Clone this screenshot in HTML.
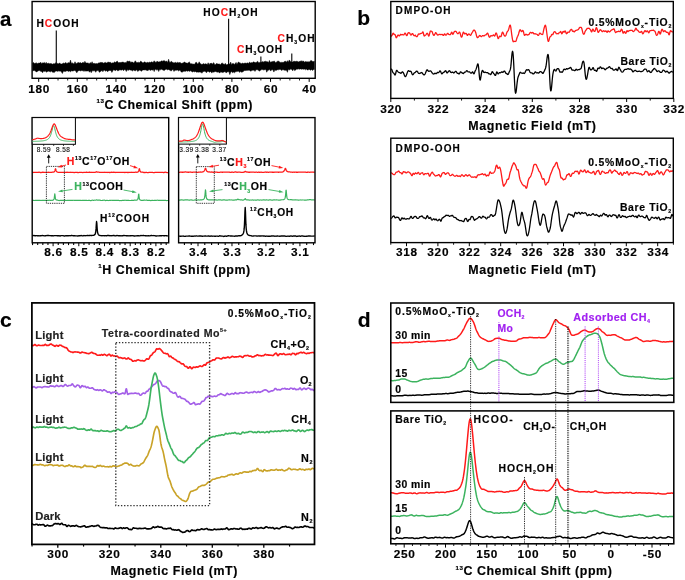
<!DOCTYPE html>
<html><head><meta charset="utf-8"><title>figure</title>
<style>html,body{margin:0;padding:0;background:#fff;}body{width:685px;height:580px;overflow:hidden;font-family:"Liberation Sans",sans-serif;}svg{display:block;opacity:0.999;will-change:transform;}text{font-family:"Liberation Sans",sans-serif;}</style>
</head><body>
<svg width="685" height="580" viewBox="0 0 685 580"><path d="M32.7 62.95 L33.6 62.43 L34.5 63.51 L35.4 63.34 L36.3 62.64 L37.2 63.68 L38.1 63.26 L39 63.05 L39.9 63.11 L40.8 62.25 L41.7 63.64 L42.6 62.71 L43.5 63.02 L44.4 62.41 L45.3 63.84 L46.2 62.34 L47.1 64.01 L48 62.96 L48.9 63.52 L49.8 63.68 L50.7 63.48 L51.6 63.65 L52.5 64.15 L53.4 63.63 L54.3 63.82 L55.2 63.4 L56.1 62.58 L57 63.95 L57.9 63.22 L58.8 64.01 L59.7 62.87 L60.6 64.12 L61.5 64.07 L62.4 63.78 L63.3 63 L64.2 63.62 L65.1 62.89 L66 62.59 L66.9 63.69 L67.8 62.77 L68.7 62.68 L69.6 63.1 L70.5 60.08 L71.4 63.48 L72.3 62.63 L73.2 63.68 L74.1 63.65 L75 61.69 L75.9 63.44 L76.8 63.41 L77.7 62.7 L78.6 62.48 L79.5 62.93 L80.4 62.58 L81.3 63.36 L82.2 62.86 L83.1 62.27 L84 63.16 L84.9 61.32 L85.8 63.12 L86.7 62.94 L87.6 62.96 L88.5 63.21 L89.4 63.76 L90.3 62.49 L91.2 63.45 L92.1 61.71 L93 63.84 L93.9 63.25 L94.8 63.49 L95.7 63.7 L96.6 63.6 L97.5 63.73 L98.4 62.95 L99.3 62.89 L100.2 62.46 L101.1 62.53 L102 62.42 L102.9 62.69 L103.8 63.26 L104.7 62.61 L105.6 62.4 L106.5 63.06 L107.4 62.38 L108.3 62.12 L109.2 62.52 L110.1 62.1 L111 62.92 L111.9 63.19 L112.8 62.71 L113.7 63.05 L114.6 61.73 L115.5 62.51 L116.4 61.73 L117.3 61.12 L118.2 62.72 L119.1 62.54 L120 62.61 L120.9 62.39 L121.8 62.36 L122.7 62.11 L123.6 62.3 L124.5 62.66 L125.4 62.44 L126.3 62.72 L127.2 60.93 L128.1 61.59 L129 61.27 L129.9 61.13 L130.8 62.53 L131.7 61.95 L132.6 62 L133.5 62.91 L134.4 62.33 L135.3 60.79 L136.2 61.97 L137.1 62.93 L138 61.92 L138.9 62.67 L139.8 62.57 L140.7 61.12 L141.6 61.77 L142.5 62.72 L143.4 62.66 L144.3 61.89 L145.2 61.91 L146.1 62.9 L147 62.45 L147.9 62.32 L148.8 62.77 L149.7 62.07 L150.6 62.46 L151.5 61.85 L152.4 62.22 L153.3 62.16 L154.2 60.78 L155.1 61.95 L156 62.41 L156.9 61.35 L157.8 61.55 L158.7 62.11 L159.6 61.63 L160.5 61.77 L161.4 60.84 L162.3 61.13 L163.2 60.93 L164.1 60.46 L165 61.33 L165.9 61.4 L166.8 61.12 L167.7 62.51 L168.6 59.21 L169.5 62.23 L170.4 62.21 L171.3 61.2 L172.2 62.07 L173.1 62.69 L174 62.75 L174.9 62.73 L175.8 62.28 L176.7 63.06 L177.6 62.28 L178.5 62.82 L179.4 62.6 L180.3 62.45 L181.2 63.56 L182.1 63.04 L183 63.18 L183.9 62.19 L184.8 61.98 L185.7 63.06 L186.6 63.05 L187.5 63.17 L188.4 62.78 L189.3 61.78 L190.2 63.66 L191.1 63.86 L192 63.64 L192.9 64.2 L193.8 64.12 L194.7 64.32 L195.6 62.55 L196.5 62.27 L197.4 63.93 L198.3 63.55 L199.2 61.81 L200.1 63.54 L201 63.96 L201.9 64.51 L202.8 64.08 L203.7 63.55 L204.6 64.2 L205.5 63.73 L206.4 64.11 L207.3 64.38 L208.2 62.74 L209.1 64.63 L210 63.32 L210.9 63.61 L211.8 63.22 L212.7 64.14 L213.6 62.59 L214.5 64.13 L215.4 64.73 L216.3 63.56 L217.2 63.75 L218.1 64.12 L219 64.01 L219.9 64.13 L220.8 64.66 L221.7 63.1 L222.6 63.16 L223.5 64.04 L224.4 64.58 L225.3 63.36 L226.2 64.79 L227.1 64.83 L228 64.07 L228.9 63.58 L229.8 64.37 L230.7 62.11 L231.6 64.66 L232.5 63.54 L233.4 63.44 L234.3 64.52 L235.2 63.48 L236.1 62.41 L237 64.42 L237.9 62.52 L238.8 61.97 L239.7 63.12 L240.6 63.14 L241.5 63.86 L242.4 62.93 L243.3 63.57 L244.2 63.32 L245.1 63.06 L246 63.25 L246.9 63.34 L247.8 62.87 L248.7 63.4 L249.6 62.05 L250.5 62.95 L251.4 62.59 L252.3 63 L253.2 61.8 L254.1 62.31 L255 62.32 L255.9 62.81 L256.8 61.96 L257.7 61.21 L258.6 62.68 L259.5 62.41 L260.4 62.35 L261.3 62.33 L262.2 61.41 L263.1 62.29 L264 61.59 L264.9 61.6 L265.8 61.19 L266.7 61.71 L267.6 61.82 L268.5 62.5 L269.4 60.4 L270.3 62.29 L271.2 62.07 L272.1 61.48 L273 61.84 L273.9 60.88 L274.8 61.46 L275.7 62.63 L276.6 61.93 L277.5 61.3 L278.4 60.89 L279.3 61.86 L280.2 62.46 L281.1 62.21 L282 62.42 L282.9 62.34 L283.8 62.19 L284.7 61.32 L285.6 61.15 L286.5 62.34 L287.4 60.65 L288.3 62.22 L289.2 59.93 L290.1 61.01 L291 61.9 L291.9 61.92 L292.8 62.12 L293.7 61.2 L294.6 61.32 L295.5 61.46 L296.4 61.25 L297.3 61.29 L298.2 62 L299.1 61.42 L300 61.58 L300.9 60.68 L301.8 61.15 L302.7 61.17 L303.6 61.06 L304.5 62.23 L305.4 61.62 L306.3 61.7 L307.2 61.91 L308.1 61.52 L309 62.24 L309.9 61.52 L310.8 60.41 L311.7 60.75 L312.6 61.41 L313.5 61.53 L314.4 61.21 L314.4 69.4 L313.5 69.49 L312.6 70.53 L311.7 69.41 L310.8 70.33 L309.9 69.65 L309 69.35 L308.1 69.95 L307.2 69.88 L306.3 69.11 L305.4 69.83 L304.5 69.12 L303.6 69.35 L302.7 68.93 L301.8 69.35 L300.9 68.89 L300 68.95 L299.1 69.35 L298.2 68.79 L297.3 69.25 L296.4 69.12 L295.5 70.14 L294.6 70.61 L293.7 68.78 L292.8 70.85 L291.9 69.74 L291 68.86 L290.1 69.49 L289.2 69.95 L288.3 69.16 L287.4 72.3 L286.5 70.31 L285.6 70.37 L284.7 70.29 L283.8 69.97 L282.9 69.59 L282 70.27 L281.1 70.28 L280.2 69.37 L279.3 69.38 L278.4 69.87 L277.5 69.69 L276.6 70.2 L275.7 70.4 L274.8 69.69 L273.9 72.07 L273 69.9 L272.1 69.57 L271.2 70.52 L270.3 70.76 L269.4 69.35 L268.5 70.28 L267.6 70.57 L266.7 72.24 L265.8 69.17 L264.9 69.93 L264 69.42 L263.1 70.23 L262.2 69.37 L261.3 69.83 L260.4 70.28 L259.5 71.2 L258.6 70.41 L257.7 69.86 L256.8 69.8 L255.9 69.69 L255 71.45 L254.1 69.98 L253.2 70.35 L252.3 70.34 L251.4 70.8 L250.5 71.21 L249.6 70.13 L248.7 70.28 L247.8 70.34 L246.9 70.43 L246 70.37 L245.1 70.67 L244.2 70.52 L243.3 71.59 L242.4 72.01 L241.5 72.3 L240.6 71.29 L239.7 72.46 L238.8 71.31 L237.9 71.18 L237 71.61 L236.1 71.62 L235.2 72.05 L234.3 72.83 L233.4 72.1 L232.5 72.74 L231.6 71.52 L230.7 72.18 L229.8 74.6 L228.9 71.53 L228 71.98 L227.1 71.72 L226.2 73.06 L225.3 71.64 L224.4 71.76 L223.5 72.26 L222.6 72.4 L221.7 72.27 L220.8 71.65 L219.9 72.95 L219 72.41 L218.1 71.86 L217.2 72.26 L216.3 71.82 L215.4 71.41 L214.5 71.83 L213.6 72.14 L212.7 71.79 L211.8 73.1 L210.9 71.4 L210 71.89 L209.1 72.24 L208.2 71.27 L207.3 71.47 L206.4 72.85 L205.5 71.38 L204.6 71.31 L203.7 71.52 L202.8 71.76 L201.9 73.23 L201 71.9 L200.1 72.36 L199.2 71.89 L198.3 72.21 L197.4 72.06 L196.5 72.13 L195.6 71.39 L194.7 71.92 L193.8 71.23 L192.9 72.04 L192 71.8 L191.1 71 L190.2 70.85 L189.3 71.38 L188.4 70.76 L187.5 71.36 L186.6 70.83 L185.7 71.32 L184.8 71.23 L183.9 71.18 L183 71.54 L182.1 72.23 L181.2 71.91 L180.3 70.55 L179.4 70.25 L178.5 70.92 L177.6 70.12 L176.7 70.18 L175.8 70.17 L174.9 70.19 L174 71.48 L173.1 69.54 L172.2 69.7 L171.3 71.06 L170.4 70.61 L169.5 70.01 L168.6 69.42 L167.7 69.88 L166.8 69.3 L165.9 69.18 L165 69.84 L164.1 70.76 L163.2 69.93 L162.3 69.71 L161.4 69.13 L160.5 69.82 L159.6 69.47 L158.7 71.53 L157.8 69.27 L156.9 70.36 L156 69.19 L155.1 69.18 L154.2 71.61 L153.3 69.39 L152.4 70.34 L151.5 69.76 L150.6 70.44 L149.7 69.85 L148.8 69.75 L147.9 70.78 L147 70.24 L146.1 70.34 L145.2 69.7 L144.3 69.98 L143.4 69.89 L142.5 70.02 L141.6 71.31 L140.7 70.75 L139.8 69.95 L138.9 70.42 L138 71.5 L137.1 70.61 L136.2 69.72 L135.3 71.05 L134.4 70.53 L133.5 70.1 L132.6 70.95 L131.7 70.36 L130.8 70.17 L129.9 69.71 L129 69.7 L128.1 70.62 L127.2 69.44 L126.3 71.49 L125.4 69.64 L124.5 69.54 L123.6 70.68 L122.7 69.59 L121.8 70.3 L120.9 69.64 L120 70.31 L119.1 69.75 L118.2 70.93 L117.3 70.56 L116.4 69.68 L115.5 70.65 L114.6 70.19 L113.7 69.78 L112.8 70.81 L111.9 72.46 L111 70.43 L110.1 70.6 L109.2 70.41 L108.3 71.02 L107.4 71.67 L106.5 70.39 L105.6 71.19 L104.7 70.32 L103.8 70.27 L102.9 71.68 L102 70.6 L101.1 70.89 L100.2 71.87 L99.3 72.34 L98.4 70.54 L97.5 70.58 L96.6 70.67 L95.7 72.27 L94.8 70.56 L93.9 71.08 L93 70.47 L92.1 71.07 L91.2 72.72 L90.3 70.75 L89.4 72.2 L88.5 70.67 L87.6 70.99 L86.7 71.03 L85.8 71.15 L84.9 70.51 L84 71.53 L83.1 70.38 L82.2 70.8 L81.3 70.58 L80.4 70.94 L79.5 70.45 L78.6 70.67 L77.7 71.26 L76.8 72.83 L75.9 71.16 L75 70.44 L74.1 70.52 L73.2 70.93 L72.3 71.04 L71.4 70.78 L70.5 71.87 L69.6 70.97 L68.7 71.51 L67.8 70.99 L66.9 70.72 L66 71.21 L65.1 71.47 L64.2 71.34 L63.3 71.2 L62.4 73.47 L61.5 72.11 L60.6 71.05 L59.7 71.18 L58.8 70.86 L57.9 71.41 L57 71.08 L56.1 71.03 L55.2 71.21 L54.3 72.5 L53.4 72.13 L52.5 72.25 L51.6 71.03 L50.7 71.82 L49.8 71.73 L48.9 70.9 L48 71.52 L47.1 71.57 L46.2 72.22 L45.3 70.78 L44.4 71.5 L43.5 70.92 L42.6 72.76 L41.7 71.59 L40.8 71.39 L39.9 70.6 L39 70.7 L38.1 70.73 L37.2 71.64 L36.3 71.95 L35.4 70.99 L34.5 70.62 L33.6 70.5 L32.7 71.16 Z" fill="#000" stroke="#000" stroke-width="0.5" stroke-linejoin="round"/>
<line x1="56.28" y1="30.6" x2="56.28" y2="67" stroke="#000" stroke-width="1.1" />
<line x1="228.62" y1="18.8" x2="228.62" y2="67" stroke="#000" stroke-width="1.1" />
<line x1="260.88" y1="56.5" x2="260.88" y2="67" stroke="#000" stroke-width="1.1" />
<line x1="291.79" y1="53.5" x2="291.79" y2="67" stroke="#000" stroke-width="1.1" />
<rect x="32.1" y="1.5" width="283.1" height="76.8" fill="none" stroke="#000" stroke-width="1.4" />
<line x1="38.7" y1="78.3" x2="38.7" y2="81.9" stroke="#000" stroke-width="1.0" />
<line x1="77.34" y1="78.3" x2="77.34" y2="81.9" stroke="#000" stroke-width="1.0" />
<line x1="115.98" y1="78.3" x2="115.98" y2="81.9" stroke="#000" stroke-width="1.0" />
<line x1="154.62" y1="78.3" x2="154.62" y2="81.9" stroke="#000" stroke-width="1.0" />
<line x1="193.26" y1="78.3" x2="193.26" y2="81.9" stroke="#000" stroke-width="1.0" />
<line x1="231.9" y1="78.3" x2="231.9" y2="81.9" stroke="#000" stroke-width="1.0" />
<line x1="270.54" y1="78.3" x2="270.54" y2="81.9" stroke="#000" stroke-width="1.0" />
<line x1="309.18" y1="78.3" x2="309.18" y2="81.9" stroke="#000" stroke-width="1.0" />
<line x1="48.36" y1="78.3" x2="48.36" y2="80.5" stroke="#000" stroke-width="0.9" />
<line x1="58.02" y1="78.3" x2="58.02" y2="80.5" stroke="#000" stroke-width="0.9" />
<line x1="67.68" y1="78.3" x2="67.68" y2="80.5" stroke="#000" stroke-width="0.9" />
<line x1="87" y1="78.3" x2="87" y2="80.5" stroke="#000" stroke-width="0.9" />
<line x1="96.66" y1="78.3" x2="96.66" y2="80.5" stroke="#000" stroke-width="0.9" />
<line x1="106.32" y1="78.3" x2="106.32" y2="80.5" stroke="#000" stroke-width="0.9" />
<line x1="125.64" y1="78.3" x2="125.64" y2="80.5" stroke="#000" stroke-width="0.9" />
<line x1="135.3" y1="78.3" x2="135.3" y2="80.5" stroke="#000" stroke-width="0.9" />
<line x1="144.96" y1="78.3" x2="144.96" y2="80.5" stroke="#000" stroke-width="0.9" />
<line x1="164.28" y1="78.3" x2="164.28" y2="80.5" stroke="#000" stroke-width="0.9" />
<line x1="173.94" y1="78.3" x2="173.94" y2="80.5" stroke="#000" stroke-width="0.9" />
<line x1="183.6" y1="78.3" x2="183.6" y2="80.5" stroke="#000" stroke-width="0.9" />
<line x1="202.92" y1="78.3" x2="202.92" y2="80.5" stroke="#000" stroke-width="0.9" />
<line x1="212.58" y1="78.3" x2="212.58" y2="80.5" stroke="#000" stroke-width="0.9" />
<line x1="222.24" y1="78.3" x2="222.24" y2="80.5" stroke="#000" stroke-width="0.9" />
<line x1="241.56" y1="78.3" x2="241.56" y2="80.5" stroke="#000" stroke-width="0.9" />
<line x1="251.22" y1="78.3" x2="251.22" y2="80.5" stroke="#000" stroke-width="0.9" />
<line x1="260.88" y1="78.3" x2="260.88" y2="80.5" stroke="#000" stroke-width="0.9" />
<line x1="280.2" y1="78.3" x2="280.2" y2="80.5" stroke="#000" stroke-width="0.9" />
<line x1="289.86" y1="78.3" x2="289.86" y2="80.5" stroke="#000" stroke-width="0.9" />
<line x1="299.52" y1="78.3" x2="299.52" y2="80.5" stroke="#000" stroke-width="0.9" />
<text x="28.16" y="92.9" font-family="Liberation Sans" font-weight="bold" font-size="11.8" fill="#000" stroke="#000" stroke-width="0.18" stroke-linejoin="round" text-anchor="start" textLength="21.08" lengthAdjust="spacing" xml:space="preserve"><tspan>180</tspan></text>
<text x="66.8" y="92.9" font-family="Liberation Sans" font-weight="bold" font-size="11.8" fill="#000" stroke="#000" stroke-width="0.18" stroke-linejoin="round" text-anchor="start" textLength="21.08" lengthAdjust="spacing" xml:space="preserve"><tspan>160</tspan></text>
<text x="105.44" y="92.9" font-family="Liberation Sans" font-weight="bold" font-size="11.8" fill="#000" stroke="#000" stroke-width="0.18" stroke-linejoin="round" text-anchor="start" textLength="21.08" lengthAdjust="spacing" xml:space="preserve"><tspan>140</tspan></text>
<text x="144.08" y="92.9" font-family="Liberation Sans" font-weight="bold" font-size="11.8" fill="#000" stroke="#000" stroke-width="0.18" stroke-linejoin="round" text-anchor="start" textLength="21.08" lengthAdjust="spacing" xml:space="preserve"><tspan>120</tspan></text>
<text x="182.72" y="92.9" font-family="Liberation Sans" font-weight="bold" font-size="11.8" fill="#000" stroke="#000" stroke-width="0.18" stroke-linejoin="round" text-anchor="start" textLength="21.08" lengthAdjust="spacing" xml:space="preserve"><tspan>100</tspan></text>
<text x="224.99" y="92.9" font-family="Liberation Sans" font-weight="bold" font-size="11.8" fill="#000" stroke="#000" stroke-width="0.18" stroke-linejoin="round" text-anchor="start" textLength="13.82" lengthAdjust="spacing" xml:space="preserve"><tspan>80</tspan></text>
<text x="263.63" y="92.9" font-family="Liberation Sans" font-weight="bold" font-size="11.8" fill="#000" stroke="#000" stroke-width="0.18" stroke-linejoin="round" text-anchor="start" textLength="13.82" lengthAdjust="spacing" xml:space="preserve"><tspan>60</tspan></text>
<text x="302.27" y="92.9" font-family="Liberation Sans" font-weight="bold" font-size="11.8" fill="#000" stroke="#000" stroke-width="0.18" stroke-linejoin="round" text-anchor="start" textLength="13.82" lengthAdjust="spacing" xml:space="preserve"><tspan>40</tspan></text>
<text x="36.4" y="26.6" font-family="Liberation Sans" font-weight="bold" font-size="10.2" fill="#000" stroke="#000" stroke-width="0.18" stroke-linejoin="round" text-anchor="start" textLength="42.2" lengthAdjust="spacing" xml:space="preserve"><tspan>H</tspan><tspan fill="#ff1a1a" stroke="#ff1a1a">C</tspan><tspan>OOH</tspan></text>
<text x="203.3" y="15.6" font-family="Liberation Sans" font-weight="bold" font-size="10.2" fill="#000" stroke="#000" stroke-width="0.18" stroke-linejoin="round" text-anchor="start" textLength="54.3" lengthAdjust="spacing" xml:space="preserve"><tspan>HO</tspan><tspan fill="#ff1a1a" stroke="#ff1a1a">C</tspan><tspan>H</tspan><tspan dy="2.04" font-size="5.1">2</tspan><tspan dy="-2.04">OH</tspan></text>
<text x="237" y="52.6" font-family="Liberation Sans" font-weight="bold" font-size="10.2" fill="#000" stroke="#000" stroke-width="0.18" stroke-linejoin="round" text-anchor="start" textLength="45.2" lengthAdjust="spacing" xml:space="preserve"><tspan fill="#ff1a1a" stroke="#ff1a1a">C</tspan><tspan>H</tspan><tspan dy="2.04" font-size="5.1">3</tspan><tspan dy="-2.04">OOH</tspan></text>
<text x="277.5" y="41.5" font-family="Liberation Sans" font-weight="bold" font-size="10.2" fill="#000" stroke="#000" stroke-width="0.18" stroke-linejoin="round" text-anchor="start" textLength="37" lengthAdjust="spacing" xml:space="preserve"><tspan fill="#ff1a1a" stroke="#ff1a1a">C</tspan><tspan>H</tspan><tspan dy="2.04" font-size="5.1">3</tspan><tspan dy="-2.04">OH</tspan></text>
<text x="96.4" y="108.5" font-family="Liberation Sans" font-weight="bold" font-size="12.4" fill="#000" stroke="#000" stroke-width="0.18" stroke-linejoin="round" text-anchor="start" textLength="156" lengthAdjust="spacing" xml:space="preserve"><tspan dy="-5.7" font-size="6.2">13</tspan><tspan dy="5.7">C Chemical Shift (ppm)</tspan></text>
<text x="0" y="25.8" font-family="Liberation Sans" font-weight="bold" font-size="20.5" fill="#000" stroke="#000" stroke-width="0.18" stroke-linejoin="round" text-anchor="start" xml:space="preserve"><tspan>a</tspan></text>
<path d="M32.8 172.5 L33.05 172.48 L33.3 172.45 L33.55 172.44 L33.8 172.43 L34.05 172.44 L34.3 172.45 L34.55 172.46 L34.8 172.46 L35.05 172.45 L35.3 172.43 L35.55 172.4 L35.8 172.38 L36.05 172.37 L36.3 172.37 L36.55 172.37 L36.8 172.36 L37.05 172.34 L37.3 172.34 L37.55 172.35 L37.8 172.38 L38.05 172.39 L38.3 172.36 L38.55 172.3 L38.8 172.22 L39.05 172.19 L39.3 172.23 L39.55 172.31 L39.8 172.39 L40.05 172.46 L40.3 172.49 L40.55 172.51 L40.8 172.53 L41.05 172.53 L41.3 172.5 L41.55 172.44 L41.8 172.37 L42.05 172.31 L42.3 172.27 L42.55 172.25 L42.8 172.25 L43.05 172.25 L43.3 172.26 L43.55 172.28 L43.8 172.32 L44.05 172.35 L44.3 172.39 L44.55 172.42 L44.8 172.44 L45.05 172.45 L45.3 172.44 L45.55 172.43 L45.8 172.41 L46.05 172.4 L46.3 172.39 L46.55 172.38 L46.8 172.36 L47.05 172.33 L47.3 172.31 L47.55 172.3 L47.8 172.29 L48.05 172.28 L48.3 172.27 L48.55 172.27 L48.8 172.29 L49.05 172.31 L49.3 172.33 L49.55 172.34 L49.8 172.35 L50.05 172.36 L50.3 172.37 L50.55 172.38 L50.8 172.38 L51.05 172.38 L51.3 172.37 L51.55 172.33 L51.8 172.28 L52.05 172.23 L52.3 172.21 L52.55 172.2 L52.8 172.18 L53.05 172.13 L53.3 172.08 L53.55 172.04 L53.8 172 L54.05 171.92 L54.3 171.77 L54.55 171.5 L54.8 171.03 L55.05 170.22 L55.3 169.14 L55.55 168.7 L55.8 169.5 L56.05 170.48 L56.3 171.11 L56.55 171.47 L56.8 171.69 L57.05 171.84 L57.3 171.97 L57.55 172.08 L57.8 172.18 L58.05 172.27 L58.3 172.34 L58.55 172.38 L58.8 172.38 L59.05 172.35 L59.3 172.32 L59.55 172.31 L59.8 172.32 L60.05 172.34 L60.3 172.35 L60.55 172.36 L60.8 172.38 L61.05 172.39 L61.3 172.38 L61.55 172.37 L61.8 172.35 L62.05 172.35 L62.3 172.36 L62.55 172.35 L62.8 172.33 L63.05 172.31 L63.3 172.31 L63.55 172.34 L63.8 172.37 L64.05 172.36 L64.3 172.33 L64.55 172.3 L64.8 172.29 L65.05 172.31 L65.3 172.33 L65.55 172.35 L65.8 172.35 L66.05 172.34 L66.3 172.31 L66.55 172.28 L66.8 172.25 L67.05 172.24 L67.3 172.25 L67.55 172.28 L67.8 172.32 L68.05 172.37 L68.3 172.41 L68.55 172.42 L68.8 172.41 L69.05 172.4 L69.3 172.39 L69.55 172.38 L69.8 172.37 L70.05 172.34 L70.3 172.31 L70.55 172.29 L70.8 172.27 L71.05 172.29 L71.3 172.31 L71.55 172.32 L71.8 172.31 L72.05 172.29 L72.3 172.29 L72.55 172.31 L72.8 172.35 L73.05 172.39 L73.3 172.43 L73.55 172.48 L73.8 172.53 L74.05 172.56 L74.3 172.55 L74.55 172.51 L74.8 172.45 L75.05 172.41 L75.3 172.38 L75.55 172.37 L75.8 172.35 L76.05 172.33 L76.3 172.32 L76.55 172.32 L76.8 172.34 L77.05 172.39 L77.3 172.44 L77.55 172.49 L77.8 172.52 L78.05 172.54 L78.3 172.54 L78.55 172.53 L78.8 172.48 L79.05 172.4 L79.3 172.33 L79.55 172.29 L79.8 172.29 L80.05 172.33 L80.3 172.36 L80.55 172.36 L80.8 172.33 L81.05 172.29 L81.3 172.28 L81.55 172.31 L81.8 172.37 L82.05 172.43 L82.3 172.48 L82.55 172.52 L82.8 172.54 L83.05 172.53 L83.3 172.48 L83.55 172.42 L83.8 172.37 L84.05 172.36 L84.3 172.36 L84.55 172.37 L84.8 172.37 L85.05 172.36 L85.3 172.34 L85.55 172.32 L85.8 172.3 L86.05 172.28 L86.3 172.26 L86.55 172.26 L86.8 172.27 L87.05 172.3 L87.3 172.33 L87.55 172.36 L87.8 172.38 L88.05 172.38 L88.3 172.35 L88.55 172.32 L88.8 172.28 L89.05 172.25 L89.3 172.24 L89.55 172.25 L89.8 172.27 L90.05 172.29 L90.3 172.31 L90.55 172.3 L90.8 172.29 L91.05 172.27 L91.3 172.28 L91.55 172.29 L91.8 172.29 L92.05 172.29 L92.3 172.28 L92.55 172.28 L92.8 172.29 L93.05 172.31 L93.3 172.32 L93.55 172.33 L93.8 172.32 L94.05 172.31 L94.3 172.3 L94.55 172.3 L94.8 172.3 L95.05 172.29 L95.3 172.27 L95.55 172.23 L95.8 172.16 L96.05 172.04 L96.3 171.87 L96.55 171.75 L96.8 171.8 L97.05 171.96 L97.3 172.09 L97.55 172.16 L97.8 172.17 L98.05 172.17 L98.3 172.15 L98.55 172.16 L98.8 172.18 L99.05 172.23 L99.3 172.28 L99.55 172.31 L99.8 172.33 L100.05 172.32 L100.3 172.31 L100.55 172.32 L100.8 172.35 L101.05 172.39 L101.3 172.4 L101.55 172.39 L101.8 172.37 L102.05 172.36 L102.3 172.36 L102.55 172.37 L102.8 172.39 L103.05 172.39 L103.3 172.38 L103.55 172.37 L103.8 172.36 L104.05 172.34 L104.3 172.31 L104.55 172.28 L104.8 172.27 L105.05 172.29 L105.3 172.35 L105.55 172.41 L105.8 172.45 L106.05 172.47 L106.3 172.47 L106.55 172.47 L106.8 172.47 L107.05 172.48 L107.3 172.47 L107.55 172.43 L107.8 172.38 L108.05 172.34 L108.3 172.32 L108.55 172.34 L108.8 172.39 L109.05 172.44 L109.3 172.48 L109.55 172.51 L109.8 172.52 L110.05 172.51 L110.3 172.48 L110.55 172.44 L110.8 172.38 L111.05 172.32 L111.3 172.27 L111.55 172.25 L111.8 172.24 L112.05 172.26 L112.3 172.29 L112.55 172.31 L112.8 172.32 L113.05 172.29 L113.3 172.27 L113.55 172.24 L113.8 172.23 L114.05 172.24 L114.3 172.27 L114.55 172.32 L114.8 172.39 L115.05 172.45 L115.3 172.48 L115.55 172.47 L115.8 172.44 L116.05 172.42 L116.3 172.42 L116.55 172.43 L116.8 172.42 L117.05 172.39 L117.3 172.34 L117.55 172.3 L117.8 172.28 L118.05 172.28 L118.3 172.3 L118.55 172.32 L118.8 172.36 L119.05 172.37 L119.3 172.37 L119.55 172.36 L119.8 172.36 L120.05 172.36 L120.3 172.37 L120.55 172.39 L120.8 172.42 L121.05 172.45 L121.3 172.46 L121.55 172.45 L121.8 172.43 L122.05 172.42 L122.3 172.42 L122.55 172.43 L122.8 172.44 L123.05 172.45 L123.3 172.44 L123.55 172.45 L123.8 172.46 L124.05 172.47 L124.3 172.47 L124.55 172.48 L124.8 172.48 L125.05 172.49 L125.3 172.46 L125.55 172.42 L125.8 172.37 L126.05 172.34 L126.3 172.32 L126.55 172.34 L126.8 172.38 L127.05 172.42 L127.3 172.45 L127.55 172.49 L127.8 172.51 L128.05 172.52 L128.3 172.5 L128.55 172.46 L128.8 172.43 L129.05 172.42 L129.3 172.44 L129.55 172.46 L129.8 172.47 L130.05 172.46 L130.3 172.45 L130.55 172.43 L130.8 172.38 L131.05 172.33 L131.3 172.29 L131.55 172.27 L131.8 172.28 L132.05 172.29 L132.3 172.29 L132.55 172.29 L132.8 172.29 L133.05 172.3 L133.3 172.34 L133.55 172.38 L133.8 172.41 L134.05 172.43 L134.3 172.44 L134.55 172.41 L134.8 172.34 L135.05 172.26 L135.3 172.19 L135.55 172.16 L135.8 172.16 L136.05 172.19 L136.3 172.23 L136.55 172.27 L136.8 172.28 L137.05 172.26 L137.3 172.21 L137.55 172.14 L137.8 172.03 L138.05 171.89 L138.3 171.68 L138.55 171.32 L138.8 170.72 L139.05 169.75 L139.3 168.78 L139.55 168.93 L139.8 170.01 L140.05 170.94 L140.3 171.51 L140.55 171.84 L140.8 172.02 L141.05 172.11 L141.3 172.14 L141.55 172.16 L141.8 172.16 L142.05 172.15 L142.3 172.14 L142.55 172.15 L142.8 172.22 L143.05 172.31 L143.3 172.41 L143.55 172.48 L143.8 172.5 L144.05 172.49 L144.3 172.49 L144.55 172.51 L144.8 172.55 L145.05 172.56 L145.3 172.53 L145.55 172.46 L145.8 172.39 L146.05 172.35 L146.3 172.35 L146.55 172.4 L146.8 172.48 L147.05 172.56 L147.3 172.62 L147.55 172.66 L147.8 172.66 L148.05 172.64 L148.3 172.6 L148.55 172.54 L148.8 172.48 L149.05 172.43 L149.3 172.4 L149.55 172.38 L149.8 172.37 L150.05 172.36 L150.3 172.34 L150.55 172.32 L150.8 172.31 L151.05 172.32 L151.3 172.36 L151.55 172.41 L151.8 172.44 L152.05 172.44 L152.3 172.43 L152.55 172.44 L152.8 172.46 L153.05 172.52 L153.3 172.58 L153.55 172.63 L153.8 172.65 L154.05 172.64 L154.3 172.59 L154.55 172.52 L154.8 172.44 L155.05 172.38 L155.3 172.37 L155.55 172.39 L155.8 172.43 L156.05 172.44 L156.3 172.41 L156.55 172.37 L156.8 172.32 L157.05 172.3 L157.3 172.3 L157.55 172.31 L157.8 172.33 L158.05 172.32 L158.3 172.3 L158.55 172.28 L158.8 172.3 L159.05 172.34 L159.3 172.38 L159.55 172.41 L159.8 172.41 L160.05 172.38 L160.3 172.36 L160.55 172.34 L160.8 172.34 L161.05 172.34 L161.3 172.35 L161.55 172.38 L161.8 172.42 L162.05 172.45 L162.3 172.45 L162.55 172.45 L162.8 172.45 L163.05 172.47 L163.3 172.5 L163.55 172.53 L163.8 172.54 L164.05 172.51 L164.3 172.43 L164.55 172.33 L164.8 172.23 L165.05 172.17 L165.3 172.16 L165.55 172.2 L165.8 172.27 L166.05 172.34 L166.3 172.4 L166.55 172.47 L166.8 172.54 L167.05 172.61 L167.3 172.64 L167.55 172.64 L167.8 172.63 L168.05 172.61" fill="none" stroke="#ff1a1a" stroke-width="1.3" stroke-linejoin="round" stroke-linecap="round" />
<path d="M32.8 200.32 L33.05 200.31 L33.3 200.32 L33.55 200.36 L33.8 200.41 L34.05 200.46 L34.3 200.48 L34.55 200.48 L34.8 200.46 L35.05 200.43 L35.3 200.41 L35.55 200.39 L35.8 200.37 L36.05 200.37 L36.3 200.38 L36.55 200.39 L36.8 200.39 L37.05 200.38 L37.3 200.38 L37.55 200.4 L37.8 200.42 L38.05 200.43 L38.3 200.44 L38.55 200.44 L38.8 200.44 L39.05 200.42 L39.3 200.37 L39.55 200.31 L39.8 200.28 L40.05 200.3 L40.3 200.36 L40.55 200.43 L40.8 200.48 L41.05 200.5 L41.3 200.49 L41.55 200.46 L41.8 200.43 L42.05 200.4 L42.3 200.39 L42.55 200.39 L42.8 200.4 L43.05 200.4 L43.3 200.38 L43.55 200.36 L43.8 200.37 L44.05 200.39 L44.3 200.41 L44.55 200.42 L44.8 200.42 L45.05 200.42 L45.3 200.42 L45.55 200.43 L45.8 200.46 L46.05 200.5 L46.3 200.55 L46.55 200.57 L46.8 200.56 L47.05 200.51 L47.3 200.45 L47.55 200.4 L47.8 200.38 L48.05 200.36 L48.3 200.35 L48.55 200.32 L48.8 200.27 L49.05 200.22 L49.3 200.2 L49.55 200.23 L49.8 200.3 L50.05 200.36 L50.3 200.39 L50.55 200.38 L50.8 200.34 L51.05 200.3 L51.3 200.27 L51.55 200.26 L51.8 200.28 L52.05 200.3 L52.3 200.29 L52.55 200.24 L52.8 200.17 L53.05 200.07 L53.3 199.94 L53.55 199.75 L53.8 199.44 L54.05 198.89 L54.3 197.79 L54.55 195.65 L54.8 193.82 L55.05 195.69 L55.3 197.85 L55.55 198.94 L55.8 199.46 L56.05 199.73 L56.3 199.89 L56.55 199.98 L56.8 200.03 L57.05 200.06 L57.3 200.07 L57.55 200.1 L57.8 200.16 L58.05 200.25 L58.3 200.36 L58.55 200.46 L58.8 200.52 L59.05 200.55 L59.3 200.53 L59.55 200.5 L59.8 200.45 L60.05 200.41 L60.3 200.37 L60.55 200.33 L60.8 200.31 L61.05 200.31 L61.3 200.33 L61.55 200.37 L61.8 200.41 L62.05 200.44 L62.3 200.44 L62.55 200.42 L62.8 200.4 L63.05 200.39 L63.3 200.4 L63.55 200.4 L63.8 200.38 L64.05 200.34 L64.3 200.29 L64.55 200.26 L64.8 200.27 L65.05 200.31 L65.3 200.37 L65.55 200.42 L65.8 200.45 L66.05 200.47 L66.3 200.47 L66.55 200.48 L66.8 200.48 L67.05 200.46 L67.3 200.41 L67.55 200.36 L67.8 200.33 L68.05 200.32 L68.3 200.33 L68.55 200.33 L68.8 200.35 L69.05 200.37 L69.3 200.41 L69.55 200.44 L69.8 200.44 L70.05 200.41 L70.3 200.37 L70.55 200.34 L70.8 200.33 L71.05 200.33 L71.3 200.36 L71.55 200.39 L71.8 200.42 L72.05 200.43 L72.3 200.4 L72.55 200.34 L72.8 200.29 L73.05 200.25 L73.3 200.24 L73.55 200.27 L73.8 200.31 L74.05 200.37 L74.3 200.42 L74.55 200.44 L74.8 200.45 L75.05 200.43 L75.3 200.41 L75.55 200.4 L75.8 200.39 L76.05 200.39 L76.3 200.38 L76.55 200.35 L76.8 200.33 L77.05 200.33 L77.3 200.34 L77.55 200.36 L77.8 200.37 L78.05 200.36 L78.3 200.36 L78.55 200.39 L78.8 200.44 L79.05 200.47 L79.3 200.46 L79.55 200.43 L79.8 200.39 L80.05 200.37 L80.3 200.37 L80.55 200.4 L80.8 200.42 L81.05 200.45 L81.3 200.48 L81.55 200.49 L81.8 200.47 L82.05 200.43 L82.3 200.39 L82.55 200.37 L82.8 200.37 L83.05 200.38 L83.3 200.4 L83.55 200.4 L83.8 200.37 L84.05 200.32 L84.3 200.28 L84.55 200.28 L84.8 200.32 L85.05 200.37 L85.3 200.42 L85.55 200.44 L85.8 200.45 L86.05 200.45 L86.3 200.45 L86.55 200.46 L86.8 200.47 L87.05 200.49 L87.3 200.51 L87.55 200.52 L87.8 200.5 L88.05 200.46 L88.3 200.4 L88.55 200.36 L88.8 200.34 L89.05 200.33 L89.3 200.33 L89.55 200.34 L89.8 200.39 L90.05 200.46 L90.3 200.55 L90.55 200.62 L90.8 200.63 L91.05 200.57 L91.3 200.47 L91.55 200.36 L91.8 200.28 L92.05 200.23 L92.3 200.2 L92.55 200.21 L92.8 200.25 L93.05 200.3 L93.3 200.34 L93.55 200.35 L93.8 200.32 L94.05 200.26 L94.3 200.22 L94.55 200.21 L94.8 200.24 L95.05 200.27 L95.3 200.27 L95.55 200.22 L95.8 200.14 L96.05 200.03 L96.3 199.92 L96.55 199.87 L96.8 199.95 L97.05 200.08 L97.3 200.16 L97.55 200.18 L97.8 200.19 L98.05 200.19 L98.3 200.19 L98.55 200.19 L98.8 200.18 L99.05 200.17 L99.3 200.15 L99.55 200.14 L99.8 200.15 L100.05 200.19 L100.3 200.25 L100.55 200.34 L100.8 200.42 L101.05 200.48 L101.3 200.5 L101.55 200.49 L101.8 200.48 L102.05 200.47 L102.3 200.46 L102.55 200.43 L102.8 200.4 L103.05 200.34 L103.3 200.28 L103.55 200.22 L103.8 200.17 L104.05 200.15 L104.3 200.16 L104.55 200.21 L104.8 200.3 L105.05 200.4 L105.3 200.5 L105.55 200.55 L105.8 200.54 L106.05 200.5 L106.3 200.43 L106.55 200.35 L106.8 200.29 L107.05 200.29 L107.3 200.34 L107.55 200.42 L107.8 200.49 L108.05 200.52 L108.3 200.53 L108.55 200.52 L108.8 200.51 L109.05 200.49 L109.3 200.46 L109.55 200.44 L109.8 200.44 L110.05 200.45 L110.3 200.46 L110.55 200.45 L110.8 200.42 L111.05 200.36 L111.3 200.3 L111.55 200.25 L111.8 200.24 L112.05 200.28 L112.3 200.33 L112.55 200.38 L112.8 200.39 L113.05 200.38 L113.3 200.36 L113.55 200.35 L113.8 200.35 L114.05 200.37 L114.3 200.38 L114.55 200.39 L114.8 200.38 L115.05 200.35 L115.3 200.32 L115.55 200.31 L115.8 200.32 L116.05 200.34 L116.3 200.37 L116.55 200.38 L116.8 200.4 L117.05 200.42 L117.3 200.46 L117.55 200.47 L117.8 200.45 L118.05 200.41 L118.3 200.37 L118.55 200.37 L118.8 200.41 L119.05 200.47 L119.3 200.53 L119.55 200.57 L119.8 200.58 L120.05 200.57 L120.3 200.53 L120.55 200.51 L120.8 200.5 L121.05 200.51 L121.3 200.53 L121.55 200.54 L121.8 200.51 L122.05 200.46 L122.3 200.4 L122.55 200.36 L122.8 200.34 L123.05 200.34 L123.3 200.36 L123.55 200.38 L123.8 200.39 L124.05 200.37 L124.3 200.33 L124.55 200.27 L124.8 200.22 L125.05 200.21 L125.3 200.23 L125.55 200.27 L125.8 200.3 L126.05 200.33 L126.3 200.37 L126.55 200.41 L126.8 200.43 L127.05 200.42 L127.3 200.4 L127.55 200.36 L127.8 200.34 L128.05 200.34 L128.3 200.34 L128.55 200.36 L128.8 200.4 L129.05 200.45 L129.3 200.49 L129.55 200.51 L129.8 200.51 L130.05 200.52 L130.3 200.52 L130.55 200.52 L130.8 200.49 L131.05 200.43 L131.3 200.35 L131.55 200.3 L131.8 200.29 L132.05 200.32 L132.3 200.36 L132.55 200.41 L132.8 200.42 L133.05 200.42 L133.3 200.39 L133.55 200.35 L133.8 200.31 L134.05 200.25 L134.3 200.21 L134.55 200.18 L134.8 200.17 L135.05 200.18 L135.3 200.19 L135.55 200.22 L135.8 200.23 L136.05 200.22 L136.3 200.18 L136.55 200.13 L136.8 200.07 L137.05 199.99 L137.3 199.86 L137.55 199.65 L137.8 199.26 L138.05 198.51 L138.3 196.99 L138.55 194.48 L138.8 194.05 L139.05 196.55 L139.3 198.31 L139.55 199.21 L139.8 199.69 L140.05 199.96 L140.3 200.09 L140.55 200.16 L140.8 200.21 L141.05 200.27 L141.3 200.32 L141.55 200.37 L141.8 200.41 L142.05 200.42 L142.3 200.42 L142.55 200.43 L142.8 200.42 L143.05 200.39 L143.3 200.32 L143.55 200.23 L143.8 200.15 L144.05 200.12 L144.3 200.12 L144.55 200.15 L144.8 200.19 L145.05 200.23 L145.3 200.27 L145.55 200.27 L145.8 200.24 L146.05 200.2 L146.3 200.16 L146.55 200.16 L146.8 200.18 L147.05 200.24 L147.3 200.3 L147.55 200.35 L147.8 200.38 L148.05 200.4 L148.3 200.41 L148.55 200.4 L148.8 200.4 L149.05 200.4 L149.3 200.4 L149.55 200.4 L149.8 200.41 L150.05 200.45 L150.3 200.5 L150.55 200.55 L150.8 200.57 L151.05 200.55 L151.3 200.5 L151.55 200.47 L151.8 200.44 L152.05 200.42 L152.3 200.41 L152.55 200.41 L152.8 200.43 L153.05 200.47 L153.3 200.5 L153.55 200.51 L153.8 200.48 L154.05 200.42 L154.3 200.36 L154.55 200.31 L154.8 200.3 L155.05 200.3 L155.3 200.31 L155.55 200.32 L155.8 200.31 L156.05 200.3 L156.3 200.29 L156.55 200.28 L156.8 200.26 L157.05 200.23 L157.3 200.22 L157.55 200.22 L157.8 200.25 L158.05 200.28 L158.3 200.33 L158.55 200.37 L158.8 200.42 L159.05 200.45 L159.3 200.46 L159.55 200.45 L159.8 200.42 L160.05 200.38 L160.3 200.35 L160.55 200.33 L160.8 200.32 L161.05 200.33 L161.3 200.35 L161.55 200.37 L161.8 200.4 L162.05 200.43 L162.3 200.42 L162.55 200.38 L162.8 200.34 L163.05 200.32 L163.3 200.32 L163.55 200.35 L163.8 200.37 L164.05 200.39 L164.3 200.38 L164.55 200.36 L164.8 200.34 L165.05 200.33 L165.3 200.34 L165.55 200.36 L165.8 200.41 L166.05 200.47 L166.3 200.52 L166.55 200.55 L166.8 200.56 L167.05 200.54 L167.3 200.52 L167.55 200.51 L167.8 200.49 L168.05 200.48" fill="none" stroke="#3cb35f" stroke-width="1.2" stroke-linejoin="round" stroke-linecap="round" />
<path d="M32.8 235.7 L33.05 235.66 L33.3 235.61 L33.55 235.56 L33.8 235.53 L34.05 235.52 L34.3 235.55 L34.55 235.63 L34.8 235.73 L35.05 235.79 L35.3 235.79 L35.55 235.73 L35.8 235.65 L36.05 235.59 L36.3 235.58 L36.55 235.62 L36.8 235.67 L37.05 235.73 L37.3 235.77 L37.55 235.8 L37.8 235.82 L38.05 235.83 L38.3 235.82 L38.55 235.81 L38.8 235.81 L39.05 235.83 L39.3 235.83 L39.55 235.81 L39.8 235.78 L40.05 235.75 L40.3 235.73 L40.55 235.74 L40.8 235.75 L41.05 235.74 L41.3 235.7 L41.55 235.63 L41.8 235.57 L42.05 235.53 L42.3 235.52 L42.55 235.55 L42.8 235.58 L43.05 235.61 L43.3 235.63 L43.55 235.66 L43.8 235.71 L44.05 235.77 L44.3 235.83 L44.55 235.86 L44.8 235.85 L45.05 235.81 L45.3 235.76 L45.55 235.73 L45.8 235.71 L46.05 235.68 L46.3 235.64 L46.55 235.59 L46.8 235.56 L47.05 235.54 L47.3 235.55 L47.55 235.56 L47.8 235.56 L48.05 235.55 L48.3 235.54 L48.55 235.53 L48.8 235.54 L49.05 235.57 L49.3 235.59 L49.55 235.6 L49.8 235.6 L50.05 235.61 L50.3 235.64 L50.55 235.67 L50.8 235.69 L51.05 235.69 L51.3 235.69 L51.55 235.69 L51.8 235.7 L52.05 235.69 L52.3 235.7 L52.55 235.74 L52.8 235.8 L53.05 235.86 L53.3 235.87 L53.55 235.84 L53.8 235.76 L54.05 235.68 L54.3 235.63 L54.55 235.6 L54.8 235.59 L55.05 235.59 L55.3 235.59 L55.55 235.6 L55.8 235.6 L56.05 235.59 L56.3 235.58 L56.55 235.6 L56.8 235.66 L57.05 235.73 L57.3 235.78 L57.55 235.78 L57.8 235.76 L58.05 235.73 L58.3 235.72 L58.55 235.71 L58.8 235.71 L59.05 235.74 L59.3 235.79 L59.55 235.87 L59.8 235.95 L60.05 235.99 L60.3 235.95 L60.55 235.84 L60.8 235.72 L61.05 235.62 L61.3 235.58 L61.55 235.58 L61.8 235.61 L62.05 235.63 L62.3 235.62 L62.55 235.6 L62.8 235.59 L63.05 235.64 L63.3 235.72 L63.55 235.81 L63.8 235.88 L64.05 235.91 L64.3 235.93 L64.55 235.94 L64.8 235.93 L65.05 235.9 L65.3 235.83 L65.55 235.77 L65.8 235.73 L66.05 235.73 L66.3 235.75 L66.55 235.75 L66.8 235.72 L67.05 235.69 L67.3 235.67 L67.55 235.68 L67.8 235.71 L68.05 235.76 L68.3 235.76 L68.55 235.71 L68.8 235.64 L69.05 235.59 L69.3 235.6 L69.55 235.66 L69.8 235.71 L70.05 235.74 L70.3 235.72 L70.55 235.67 L70.8 235.62 L71.05 235.57 L71.3 235.55 L71.55 235.54 L71.8 235.54 L72.05 235.55 L72.3 235.58 L72.55 235.63 L72.8 235.68 L73.05 235.72 L73.3 235.77 L73.55 235.8 L73.8 235.8 L74.05 235.77 L74.3 235.74 L74.55 235.72 L74.8 235.74 L75.05 235.8 L75.3 235.86 L75.55 235.9 L75.8 235.92 L76.05 235.9 L76.3 235.87 L76.55 235.84 L76.8 235.83 L77.05 235.85 L77.3 235.91 L77.55 235.97 L77.8 235.99 L78.05 235.96 L78.3 235.89 L78.55 235.81 L78.8 235.77 L79.05 235.74 L79.3 235.75 L79.55 235.76 L79.8 235.78 L80.05 235.78 L80.3 235.74 L80.55 235.68 L80.8 235.61 L81.05 235.55 L81.3 235.54 L81.55 235.58 L81.8 235.66 L82.05 235.75 L82.3 235.82 L82.55 235.86 L82.8 235.85 L83.05 235.79 L83.3 235.71 L83.55 235.63 L83.8 235.57 L84.05 235.57 L84.3 235.59 L84.55 235.64 L84.8 235.68 L85.05 235.7 L85.3 235.68 L85.55 235.65 L85.8 235.62 L86.05 235.61 L86.3 235.6 L86.55 235.59 L86.8 235.56 L87.05 235.52 L87.3 235.47 L87.55 235.44 L87.8 235.43 L88.05 235.47 L88.3 235.53 L88.55 235.58 L88.8 235.59 L89.05 235.56 L89.3 235.53 L89.55 235.5 L89.8 235.48 L90.05 235.46 L90.3 235.43 L90.55 235.41 L90.8 235.41 L91.05 235.43 L91.3 235.45 L91.55 235.46 L91.8 235.46 L92.05 235.43 L92.3 235.4 L92.55 235.37 L92.8 235.36 L93.05 235.36 L93.3 235.33 L93.55 235.26 L93.8 235.16 L94.05 235.08 L94.3 234.98 L94.55 234.84 L94.8 234.61 L95.05 234.24 L95.3 233.67 L95.55 232.77 L95.8 231.26 L96.05 228.66 L96.3 224.74 L96.55 221.52 L96.8 223.07 L97.05 227.14 L97.3 230.26 L97.55 232.11 L97.8 233.19 L98.05 233.87 L98.3 234.35 L98.55 234.72 L98.8 235.01 L99.05 235.22 L99.3 235.35 L99.55 235.43 L99.8 235.48 L100.05 235.52 L100.3 235.56 L100.55 235.59 L100.8 235.63 L101.05 235.65 L101.3 235.67 L101.55 235.69 L101.8 235.71 L102.05 235.71 L102.3 235.69 L102.55 235.66 L102.8 235.63 L103.05 235.61 L103.3 235.62 L103.55 235.64 L103.8 235.68 L104.05 235.71 L104.3 235.72 L104.55 235.69 L104.8 235.64 L105.05 235.6 L105.3 235.59 L105.55 235.64 L105.8 235.7 L106.05 235.76 L106.3 235.78 L106.55 235.76 L106.8 235.68 L107.05 235.59 L107.3 235.51 L107.55 235.46 L107.8 235.45 L108.05 235.45 L108.3 235.45 L108.55 235.45 L108.8 235.47 L109.05 235.5 L109.3 235.56 L109.55 235.65 L109.8 235.73 L110.05 235.77 L110.3 235.75 L110.55 235.69 L110.8 235.63 L111.05 235.61 L111.3 235.65 L111.55 235.69 L111.8 235.73 L112.05 235.72 L112.3 235.68 L112.55 235.63 L112.8 235.56 L113.05 235.49 L113.3 235.43 L113.55 235.41 L113.8 235.43 L114.05 235.49 L114.3 235.6 L114.55 235.73 L114.8 235.84 L115.05 235.91 L115.3 235.91 L115.55 235.86 L115.8 235.8 L116.05 235.74 L116.3 235.67 L116.55 235.6 L116.8 235.54 L117.05 235.53 L117.3 235.56 L117.55 235.61 L117.8 235.66 L118.05 235.67 L118.3 235.68 L118.55 235.7 L118.8 235.73 L119.05 235.77 L119.3 235.79 L119.55 235.79 L119.8 235.78 L120.05 235.77 L120.3 235.77 L120.55 235.8 L120.8 235.83 L121.05 235.86 L121.3 235.85 L121.55 235.81 L121.8 235.76 L122.05 235.73 L122.3 235.73 L122.55 235.73 L122.8 235.73 L123.05 235.69 L123.3 235.61 L123.55 235.54 L123.8 235.51 L124.05 235.52 L124.3 235.55 L124.55 235.57 L124.8 235.58 L125.05 235.59 L125.3 235.61 L125.55 235.64 L125.8 235.68 L126.05 235.72 L126.3 235.77 L126.55 235.8 L126.8 235.82 L127.05 235.82 L127.3 235.79 L127.55 235.75 L127.8 235.73 L128.05 235.74 L128.3 235.78 L128.55 235.83 L128.8 235.87 L129.05 235.89 L129.3 235.87 L129.55 235.81 L129.8 235.73 L130.05 235.69 L130.3 235.69 L130.55 235.72 L130.8 235.73 L131.05 235.71 L131.3 235.69 L131.55 235.67 L131.8 235.67 L132.05 235.68 L132.3 235.67 L132.55 235.65 L132.8 235.66 L133.05 235.71 L133.3 235.77 L133.55 235.83 L133.8 235.89 L134.05 235.94 L134.3 235.98 L134.55 236 L134.8 235.99 L135.05 235.96 L135.3 235.92 L135.55 235.88 L135.8 235.87 L136.05 235.86 L136.3 235.85 L136.55 235.82 L136.8 235.79 L137.05 235.78 L137.3 235.79 L137.55 235.8 L137.8 235.8 L138.05 235.8 L138.3 235.79 L138.55 235.79 L138.8 235.81 L139.05 235.84 L139.3 235.85 L139.55 235.83 L139.8 235.8 L140.05 235.74 L140.3 235.67 L140.55 235.6 L140.8 235.55 L141.05 235.53 L141.3 235.54 L141.55 235.57 L141.8 235.6 L142.05 235.62 L142.3 235.61 L142.55 235.58 L142.8 235.54 L143.05 235.51 L143.3 235.5 L143.55 235.52 L143.8 235.54 L144.05 235.57 L144.3 235.6 L144.55 235.64 L144.8 235.67 L145.05 235.7 L145.3 235.72 L145.55 235.71 L145.8 235.7 L146.05 235.72 L146.3 235.76 L146.55 235.83 L146.8 235.87 L147.05 235.88 L147.3 235.85 L147.55 235.82 L147.8 235.8 L148.05 235.79 L148.3 235.78 L148.55 235.77 L148.8 235.77 L149.05 235.81 L149.3 235.87 L149.55 235.92 L149.8 235.9 L150.05 235.82 L150.3 235.7 L150.55 235.61 L150.8 235.57 L151.05 235.56 L151.3 235.57 L151.55 235.57 L151.8 235.57 L152.05 235.58 L152.3 235.61 L152.55 235.64 L152.8 235.65 L153.05 235.64 L153.3 235.61 L153.55 235.58 L153.8 235.57 L154.05 235.58 L154.3 235.59 L154.55 235.62 L154.8 235.68 L155.05 235.76 L155.3 235.85 L155.55 235.94 L155.8 236 L156.05 236.03 L156.3 236.02 L156.55 235.99 L156.8 235.93 L157.05 235.87 L157.3 235.83 L157.55 235.83 L157.8 235.85 L158.05 235.87 L158.3 235.89 L158.55 235.89 L158.8 235.89 L159.05 235.87 L159.3 235.82 L159.55 235.78 L159.8 235.74 L160.05 235.73 L160.3 235.74 L160.55 235.78 L160.8 235.81 L161.05 235.81 L161.3 235.79 L161.55 235.74 L161.8 235.69 L162.05 235.65 L162.3 235.62 L162.55 235.62 L162.8 235.64 L163.05 235.65 L163.3 235.66 L163.55 235.68 L163.8 235.72 L164.05 235.77 L164.3 235.8 L164.55 235.8 L164.8 235.77 L165.05 235.71 L165.3 235.67 L165.55 235.64 L165.8 235.64 L166.05 235.66 L166.3 235.7 L166.55 235.75 L166.8 235.8 L167.05 235.84 L167.3 235.85 L167.55 235.85 L167.8 235.86 L168.05 235.86" fill="none" stroke="#000" stroke-width="1.4" stroke-linejoin="round" stroke-linecap="round" />
<rect x="32.2" y="117.6" width="136.5" height="125.2" fill="none" stroke="#000" stroke-width="1.4" />
<rect x="32.2" y="117.6" width="43.2" height="26.7" fill="#fff" stroke="#000" stroke-width="1.0" />
<path d="M32.9 141.39 L33.2 141.38 L33.5 141.38 L33.8 141.37 L34.1 141.36 L34.4 141.35 L34.7 141.35 L35 141.34 L35.3 141.33 L35.6 141.32 L35.9 141.31 L36.2 141.3 L36.5 141.29 L36.8 141.28 L37.1 141.27 L37.4 141.26 L37.7 141.24 L38 141.23 L38.3 141.22 L38.6 141.2 L38.9 141.18 L39.2 141.17 L39.5 141.15 L39.8 141.13 L40.1 141.11 L40.4 141.09 L40.7 141.06 L41 141.04 L41.3 141.01 L41.6 140.98 L41.9 140.95 L42.2 140.92 L42.5 140.89 L42.8 140.85 L43.1 140.81 L43.4 140.76 L43.7 140.71 L44 140.66 L44.3 140.6 L44.6 140.54 L44.9 140.47 L45.2 140.39 L45.5 140.31 L45.8 140.22 L46.1 140.11 L46.4 140 L46.7 139.87 L47 139.73 L47.3 139.57 L47.6 139.39 L47.9 139.19 L48.2 138.96 L48.5 138.7 L48.8 138.4 L49.1 138.06 L49.4 137.66 L49.7 137.21 L50 136.68 L50.3 136.06 L50.6 135.36 L50.9 134.54 L51.2 133.6 L51.5 132.54 L51.8 131.36 L52.1 130.09 L52.4 128.8 L52.7 127.57 L53 126.54 L53.3 125.85 L53.6 125.6 L53.9 125.85 L54.2 126.54 L54.5 127.57 L54.8 128.8 L55.1 130.09 L55.4 131.36 L55.7 132.54 L56 133.6 L56.3 134.54 L56.6 135.36 L56.9 136.06 L57.2 136.68 L57.5 137.21 L57.8 137.66 L58.1 138.06 L58.4 138.4 L58.7 138.7 L59 138.96 L59.3 139.19 L59.6 139.39 L59.9 139.57 L60.2 139.73 L60.5 139.87 L60.8 140 L61.1 140.11 L61.4 140.22 L61.7 140.31 L62 140.39 L62.3 140.47 L62.6 140.54 L62.9 140.6 L63.2 140.66 L63.5 140.71 L63.8 140.76 L64.1 140.81 L64.4 140.85 L64.7 140.89 L65 140.92 L65.3 140.95 L65.6 140.98 L65.9 141.01 L66.2 141.04 L66.5 141.06 L66.8 141.09 L67.1 141.11 L67.4 141.13 L67.7 141.15 L68 141.17 L68.3 141.18 L68.6 141.2 L68.9 141.22 L69.2 141.23 L69.5 141.24 L69.8 141.26 L70.1 141.27 L70.4 141.28 L70.7 141.29 L71 141.3 L71.3 141.31 L71.6 141.32 L71.9 141.33 L72.2 141.34 L72.5 141.35 L72.8 141.35 L73.1 141.36 L73.4 141.37 L73.7 141.38 L74 141.38 L74.3 141.39 L74.6 141.39" fill="none" stroke="#3cb35f" stroke-width="1.0" stroke-linejoin="round" stroke-linecap="round" />
<path d="M32.9 139.61 L33.2 139.55 L33.5 139.49 L33.8 139.43 L34.1 139.35 L34.4 139.27 L34.7 139.19 L35 139.09 L35.3 138.98 L35.6 138.86 L35.9 138.73 L36.2 138.59 L36.5 138.47 L36.8 138.36 L37.1 138.28 L37.4 138.24 L37.7 138.22 L38 138.23 L38.3 138.27 L38.6 138.31 L38.9 138.37 L39.2 138.43 L39.5 138.48 L39.8 138.52 L40.1 138.56 L40.4 138.58 L40.7 138.59 L41 138.59 L41.3 138.58 L41.6 138.57 L41.9 138.55 L42.2 138.53 L42.5 138.51 L42.8 138.48 L43.1 138.44 L43.4 138.4 L43.7 138.34 L44 138.26 L44.3 138.18 L44.6 138.07 L44.9 137.96 L45.2 137.84 L45.5 137.7 L45.8 137.56 L46.1 137.4 L46.4 137.23 L46.7 137.04 L47 136.83 L47.3 136.59 L47.6 136.33 L47.9 136.04 L48.2 135.72 L48.5 135.36 L48.8 134.97 L49.1 134.54 L49.4 134.06 L49.7 133.53 L50 132.95 L50.3 132.32 L50.6 131.63 L50.9 130.9 L51.2 130.12 L51.5 129.3 L51.8 128.47 L52.1 127.63 L52.4 126.8 L52.7 126.02 L53 125.31 L53.3 124.71 L53.6 124.26 L53.9 123.98 L54.2 123.89 L54.5 124.01 L54.8 124.32 L55.1 124.79 L55.4 125.41 L55.7 126.13 L56 126.92 L56.3 127.74 L56.6 128.56 L56.9 129.37 L57.2 130.15 L57.5 130.9 L57.8 131.61 L58.1 132.27 L58.4 132.9 L58.7 133.48 L59 134.02 L59.3 134.51 L59.6 134.96 L59.9 135.36 L60.2 135.72 L60.5 136.03 L60.8 136.3 L61.1 136.53 L61.4 136.74 L61.7 136.93 L62 137.11 L62.3 137.28 L62.6 137.46 L62.9 137.64 L63.2 137.82 L63.5 137.99 L63.8 138.16 L64.1 138.31 L64.4 138.45 L64.7 138.57 L65 138.68 L65.3 138.77 L65.6 138.85 L65.9 138.92 L66.2 138.98 L66.5 139.03 L66.8 139.09 L67.1 139.14 L67.4 139.18 L67.7 139.23 L68 139.27 L68.3 139.3 L68.6 139.32 L68.9 139.33 L69.2 139.35 L69.5 139.36 L69.8 139.37 L70.1 139.39 L70.4 139.43 L70.7 139.47 L71 139.53 L71.3 139.59 L71.6 139.66 L71.9 139.72 L72.2 139.78 L72.5 139.83 L72.8 139.88 L73.1 139.91 L73.4 139.93 L73.7 139.94 L74 139.94 L74.3 139.95 L74.6 139.96" fill="none" stroke="#ff1a1a" stroke-width="1.2" stroke-linejoin="round" stroke-linecap="round" />
<line x1="43.7" y1="144.3" x2="43.7" y2="146" stroke="#000" stroke-width="0.7" />
<line x1="53.7" y1="144.3" x2="53.7" y2="146" stroke="#000" stroke-width="0.7" />
<line x1="63.5" y1="144.3" x2="63.5" y2="146" stroke="#000" stroke-width="0.7" />
<line x1="73.4" y1="144.3" x2="73.4" y2="146" stroke="#000" stroke-width="0.7" />
<text x="36.8" y="151.8" font-family="Liberation Sans" font-weight="normal" font-size="6.5" fill="#111" stroke="#111" stroke-width="0.15" stroke-linejoin="round" text-anchor="start" textLength="13.8" lengthAdjust="spacing" xml:space="preserve"><tspan>8.59</tspan></text>
<text x="56" y="151.8" font-family="Liberation Sans" font-weight="normal" font-size="6.5" fill="#111" stroke="#111" stroke-width="0.15" stroke-linejoin="round" text-anchor="start" textLength="13.8" lengthAdjust="spacing" xml:space="preserve"><tspan>8.58</tspan></text>
<line x1="48.7" y1="163.4" x2="48.7" y2="156.2" stroke="#000" stroke-width="0.9" />
<path d="M46.8 157.8 L48.7 154.2 L50.6 157.8 Z" fill="#000"/>
<rect x="46.4" y="166.4" width="18" height="36.9" fill="none" stroke="#222" stroke-width="0.9" stroke-dasharray="1.3 0.9"/>
<line x1="66" y1="165" x2="60.75" y2="166.36" stroke="#ff1a1a" stroke-width="0.9" />
<path d="M57.5 167.2 L61.59 164.69 L62.3 167.41 Z" fill="#ff1a1a"/>
<line x1="130" y1="165.6" x2="135" y2="167.18" stroke="#ff1a1a" stroke-width="0.9" />
<path d="M138.2 168.2 L133.4 168.15 L134.25 165.47 Z" fill="#ff1a1a"/>
<line x1="72.5" y1="189.4" x2="61.32" y2="191.1" stroke="#3cb35f" stroke-width="0.9" />
<path d="M58 191.6 L62.33 189.52 L62.75 192.3 Z" fill="#3cb35f"/>
<line x1="123.5" y1="190" x2="133.49" y2="191.8" stroke="#3cb35f" stroke-width="0.9" />
<path d="M136.8 192.4 L132.03 192.97 L132.53 190.2 Z" fill="#3cb35f"/>
<text x="66.7" y="165.2" font-family="Liberation Sans" font-weight="bold" font-size="10.5" fill="#000" stroke="#000" stroke-width="0.18" stroke-linejoin="round" text-anchor="start" textLength="62.7" lengthAdjust="spacing" xml:space="preserve"><tspan fill="#ff1a1a" stroke="#ff1a1a">H</tspan><tspan dy="-4.83" font-size="5.25">13</tspan><tspan dy="4.83">C</tspan><tspan dy="-4.83" font-size="5.25">17</tspan><tspan dy="4.83">O</tspan><tspan dy="-4.83" font-size="5.25">17</tspan><tspan dy="4.83">OH</tspan></text>
<text x="74.2" y="190.4" font-family="Liberation Sans" font-weight="bold" font-size="10.5" fill="#000" stroke="#000" stroke-width="0.18" stroke-linejoin="round" text-anchor="start" textLength="48.7" lengthAdjust="spacing" xml:space="preserve"><tspan fill="#3cb35f" stroke="#3cb35f">H</tspan><tspan dy="-4.83" font-size="5.25">13</tspan><tspan dy="4.83">COOH</tspan></text>
<text x="100.1" y="221.5" font-family="Liberation Sans" font-weight="bold" font-size="10.2" fill="#000" stroke="#000" stroke-width="0.18" stroke-linejoin="round" text-anchor="start" textLength="48.9" lengthAdjust="spacing" xml:space="preserve"><tspan>H</tspan><tspan dy="-4.69" font-size="5.1">12</tspan><tspan dy="4.69">COOH</tspan></text>
<line x1="53.1" y1="242.8" x2="53.1" y2="246.2" stroke="#000" stroke-width="1.0" />
<line x1="78.8" y1="242.8" x2="78.8" y2="246.2" stroke="#000" stroke-width="1.0" />
<line x1="104.5" y1="242.8" x2="104.5" y2="246.2" stroke="#000" stroke-width="1.0" />
<line x1="130.2" y1="242.8" x2="130.2" y2="246.2" stroke="#000" stroke-width="1.0" />
<line x1="155.9" y1="242.8" x2="155.9" y2="246.2" stroke="#000" stroke-width="1.0" />
<line x1="32.54" y1="242.8" x2="32.54" y2="245.1" stroke="#000" stroke-width="1.1" />
<line x1="37.68" y1="242.8" x2="37.68" y2="245.1" stroke="#000" stroke-width="1.1" />
<line x1="42.82" y1="242.8" x2="42.82" y2="245.1" stroke="#000" stroke-width="1.1" />
<line x1="47.96" y1="242.8" x2="47.96" y2="245.1" stroke="#000" stroke-width="1.1" />
<line x1="58.24" y1="242.8" x2="58.24" y2="245.1" stroke="#000" stroke-width="1.1" />
<line x1="63.38" y1="242.8" x2="63.38" y2="245.1" stroke="#000" stroke-width="1.1" />
<line x1="68.52" y1="242.8" x2="68.52" y2="245.1" stroke="#000" stroke-width="1.1" />
<line x1="73.66" y1="242.8" x2="73.66" y2="245.1" stroke="#000" stroke-width="1.1" />
<line x1="83.94" y1="242.8" x2="83.94" y2="245.1" stroke="#000" stroke-width="1.1" />
<line x1="89.08" y1="242.8" x2="89.08" y2="245.1" stroke="#000" stroke-width="1.1" />
<line x1="94.22" y1="242.8" x2="94.22" y2="245.1" stroke="#000" stroke-width="1.1" />
<line x1="99.36" y1="242.8" x2="99.36" y2="245.1" stroke="#000" stroke-width="1.1" />
<line x1="109.64" y1="242.8" x2="109.64" y2="245.1" stroke="#000" stroke-width="1.1" />
<line x1="114.78" y1="242.8" x2="114.78" y2="245.1" stroke="#000" stroke-width="1.1" />
<line x1="119.92" y1="242.8" x2="119.92" y2="245.1" stroke="#000" stroke-width="1.1" />
<line x1="125.06" y1="242.8" x2="125.06" y2="245.1" stroke="#000" stroke-width="1.1" />
<line x1="135.34" y1="242.8" x2="135.34" y2="245.1" stroke="#000" stroke-width="1.1" />
<line x1="140.48" y1="242.8" x2="140.48" y2="245.1" stroke="#000" stroke-width="1.1" />
<line x1="145.62" y1="242.8" x2="145.62" y2="245.1" stroke="#000" stroke-width="1.1" />
<line x1="150.76" y1="242.8" x2="150.76" y2="245.1" stroke="#000" stroke-width="1.1" />
<line x1="161.04" y1="242.8" x2="161.04" y2="245.1" stroke="#000" stroke-width="1.1" />
<line x1="166.18" y1="242.8" x2="166.18" y2="245.1" stroke="#000" stroke-width="1.1" />
<text x="44.2" y="256.1" font-family="Liberation Sans" font-weight="bold" font-size="11.8" fill="#000" stroke="#000" stroke-width="0.18" stroke-linejoin="round" text-anchor="start" textLength="17.8" lengthAdjust="spacing" xml:space="preserve"><tspan>8.6</tspan></text>
<text x="69.9" y="256.1" font-family="Liberation Sans" font-weight="bold" font-size="11.8" fill="#000" stroke="#000" stroke-width="0.18" stroke-linejoin="round" text-anchor="start" textLength="17.8" lengthAdjust="spacing" xml:space="preserve"><tspan>8.5</tspan></text>
<text x="95.6" y="256.1" font-family="Liberation Sans" font-weight="bold" font-size="11.8" fill="#000" stroke="#000" stroke-width="0.18" stroke-linejoin="round" text-anchor="start" textLength="17.8" lengthAdjust="spacing" xml:space="preserve"><tspan>8.4</tspan></text>
<text x="121.3" y="256.1" font-family="Liberation Sans" font-weight="bold" font-size="11.8" fill="#000" stroke="#000" stroke-width="0.18" stroke-linejoin="round" text-anchor="start" textLength="17.8" lengthAdjust="spacing" xml:space="preserve"><tspan>8.3</tspan></text>
<text x="147" y="256.1" font-family="Liberation Sans" font-weight="bold" font-size="11.8" fill="#000" stroke="#000" stroke-width="0.18" stroke-linejoin="round" text-anchor="start" textLength="17.8" lengthAdjust="spacing" xml:space="preserve"><tspan>8.2</tspan></text>
<path d="M179.2 172.35 L179.45 172.34 L179.7 172.3 L179.95 172.25 L180.2 172.21 L180.45 172.2 L180.7 172.19 L180.95 172.2 L181.2 172.21 L181.45 172.22 L181.7 172.23 L181.95 172.24 L182.2 172.25 L182.45 172.24 L182.7 172.24 L182.95 172.24 L183.2 172.24 L183.45 172.22 L183.7 172.19 L183.95 172.14 L184.2 172.09 L184.45 172.04 L184.7 172.01 L184.95 171.97 L185.2 171.95 L185.45 171.94 L185.7 171.95 L185.95 171.98 L186.2 172.03 L186.45 172.09 L186.7 172.14 L186.95 172.17 L187.2 172.2 L187.45 172.22 L187.7 172.24 L187.95 172.26 L188.2 172.26 L188.45 172.25 L188.7 172.23 L188.95 172.21 L189.2 172.2 L189.45 172.18 L189.7 172.15 L189.95 172.09 L190.2 172.04 L190.45 172.02 L190.7 172.04 L190.95 172.1 L191.2 172.17 L191.45 172.24 L191.7 172.3 L191.95 172.33 L192.2 172.32 L192.45 172.29 L192.7 172.25 L192.95 172.21 L193.2 172.17 L193.45 172.14 L193.7 172.13 L193.95 172.14 L194.2 172.16 L194.45 172.17 L194.7 172.17 L194.95 172.17 L195.2 172.16 L195.45 172.17 L195.7 172.18 L195.95 172.19 L196.2 172.21 L196.45 172.24 L196.7 172.26 L196.95 172.28 L197.2 172.3 L197.45 172.31 L197.7 172.31 L197.95 172.29 L198.2 172.25 L198.45 172.2 L198.7 172.17 L198.95 172.14 L199.2 172.12 L199.45 172.11 L199.7 172.11 L199.95 172.09 L200.2 172.06 L200.45 172.02 L200.7 172 L200.95 172.02 L201.2 172.06 L201.45 172.09 L201.7 172.08 L201.95 172.03 L202.2 171.99 L202.45 171.96 L202.7 171.92 L202.95 171.84 L203.2 171.72 L203.45 171.58 L203.7 171.4 L203.95 171.19 L204.2 170.91 L204.45 170.52 L204.7 169.99 L204.95 169.31 L205.2 168.62 L205.45 168.24 L205.7 168.43 L205.95 169.05 L206.2 169.78 L206.45 170.41 L206.7 170.9 L206.95 171.25 L207.2 171.48 L207.45 171.62 L207.7 171.72 L207.95 171.81 L208.2 171.9 L208.45 171.96 L208.7 171.98 L208.95 171.97 L209.2 171.96 L209.45 171.96 L209.7 171.99 L209.95 172.04 L210.2 172.1 L210.45 172.14 L210.7 172.15 L210.95 172.13 L211.2 172.07 L211.45 172.01 L211.7 171.98 L211.95 171.99 L212.2 172.05 L212.45 172.13 L212.7 172.22 L212.95 172.29 L213.2 172.32 L213.45 172.31 L213.7 172.26 L213.95 172.18 L214.2 172.1 L214.45 172.04 L214.7 172.01 L214.95 172.01 L215.2 172.03 L215.45 172.05 L215.7 172.06 L215.95 172.06 L216.2 172.08 L216.45 172.12 L216.7 172.17 L216.95 172.22 L217.2 172.24 L217.45 172.27 L217.7 172.31 L217.95 172.38 L218.2 172.44 L218.45 172.46 L218.7 172.43 L218.95 172.37 L219.2 172.33 L219.45 172.3 L219.7 172.28 L219.95 172.25 L220.2 172.2 L220.45 172.15 L220.7 172.1 L220.95 172.09 L221.2 172.1 L221.45 172.14 L221.7 172.19 L221.95 172.24 L222.2 172.26 L222.45 172.26 L222.7 172.24 L222.95 172.2 L223.2 172.18 L223.45 172.16 L223.7 172.17 L223.95 172.18 L224.2 172.18 L224.45 172.17 L224.7 172.15 L224.95 172.13 L225.2 172.11 L225.45 172.09 L225.7 172.09 L225.95 172.09 L226.2 172.09 L226.45 172.09 L226.7 172.1 L226.95 172.12 L227.2 172.13 L227.45 172.13 L227.7 172.12 L227.95 172.11 L228.2 172.12 L228.45 172.14 L228.7 172.16 L228.95 172.17 L229.2 172.18 L229.45 172.2 L229.7 172.23 L229.95 172.27 L230.2 172.3 L230.45 172.32 L230.7 172.31 L230.95 172.29 L231.2 172.26 L231.45 172.24 L231.7 172.21 L231.95 172.19 L232.2 172.17 L232.45 172.18 L232.7 172.21 L232.95 172.26 L233.2 172.3 L233.45 172.31 L233.7 172.28 L233.95 172.23 L234.2 172.17 L234.45 172.11 L234.7 172.05 L234.95 172.01 L235.2 171.98 L235.45 171.95 L235.7 171.94 L235.95 171.95 L236.2 172.01 L236.45 172.1 L236.7 172.2 L236.95 172.27 L237.2 172.28 L237.45 172.24 L237.7 172.18 L237.95 172.14 L238.2 172.13 L238.45 172.15 L238.7 172.16 L238.95 172.16 L239.2 172.13 L239.45 172.09 L239.7 172.07 L239.95 172.09 L240.2 172.15 L240.45 172.22 L240.7 172.28 L240.95 172.33 L241.2 172.35 L241.45 172.35 L241.7 172.35 L241.95 172.35 L242.2 172.34 L242.45 172.34 L242.7 172.35 L242.95 172.34 L243.2 172.31 L243.45 172.26 L243.7 172.21 L243.95 172.15 L244.2 172.06 L244.45 171.92 L244.7 171.71 L244.95 171.45 L245.2 171.29 L245.45 171.42 L245.7 171.66 L245.95 171.84 L246.2 171.94 L246.45 171.98 L246.7 171.98 L246.95 171.98 L247.2 171.99 L247.45 172.03 L247.7 172.1 L247.95 172.16 L248.2 172.21 L248.45 172.23 L248.7 172.25 L248.95 172.26 L249.2 172.27 L249.45 172.26 L249.7 172.23 L249.95 172.21 L250.2 172.19 L250.45 172.2 L250.7 172.22 L250.95 172.23 L251.2 172.22 L251.45 172.2 L251.7 172.17 L251.95 172.15 L252.2 172.13 L252.45 172.12 L252.7 172.11 L252.95 172.1 L253.2 172.08 L253.45 172.07 L253.7 172.08 L253.95 172.11 L254.2 172.16 L254.45 172.23 L254.7 172.29 L254.95 172.31 L255.2 172.28 L255.45 172.22 L255.7 172.15 L255.95 172.09 L256.2 172.07 L256.45 172.09 L256.7 172.15 L256.95 172.22 L257.2 172.28 L257.45 172.31 L257.7 172.32 L257.95 172.3 L258.2 172.26 L258.45 172.22 L258.7 172.2 L258.95 172.21 L259.2 172.23 L259.45 172.25 L259.7 172.28 L259.95 172.3 L260.2 172.29 L260.45 172.24 L260.7 172.17 L260.95 172.13 L261.2 172.16 L261.45 172.23 L261.7 172.31 L261.95 172.37 L262.2 172.39 L262.45 172.37 L262.7 172.35 L262.95 172.33 L263.2 172.33 L263.45 172.33 L263.7 172.32 L263.95 172.31 L264.2 172.27 L264.45 172.22 L264.7 172.15 L264.95 172.08 L265.2 172.03 L265.45 172.02 L265.7 172.05 L265.95 172.12 L266.2 172.19 L266.45 172.24 L266.7 172.24 L266.95 172.21 L267.2 172.17 L267.45 172.16 L267.7 172.2 L267.95 172.29 L268.2 172.36 L268.45 172.36 L268.7 172.29 L268.95 172.2 L269.2 172.15 L269.45 172.15 L269.7 172.17 L269.95 172.19 L270.2 172.19 L270.45 172.16 L270.7 172.14 L270.95 172.15 L271.2 172.17 L271.45 172.2 L271.7 172.22 L271.95 172.23 L272.2 172.24 L272.45 172.24 L272.7 172.24 L272.95 172.24 L273.2 172.24 L273.45 172.25 L273.7 172.27 L273.95 172.28 L274.2 172.26 L274.45 172.22 L274.7 172.18 L274.95 172.15 L275.2 172.14 L275.45 172.14 L275.7 172.13 L275.95 172.11 L276.2 172.1 L276.45 172.1 L276.7 172.1 L276.95 172.09 L277.2 172.1 L277.45 172.11 L277.7 172.15 L277.95 172.2 L278.2 172.24 L278.45 172.26 L278.7 172.26 L278.95 172.22 L279.2 172.18 L279.45 172.13 L279.7 172.09 L279.95 172.06 L280.2 172.05 L280.45 172.05 L280.7 172.07 L280.95 172.08 L281.2 172.11 L281.45 172.13 L281.7 172.15 L281.95 172.15 L282.2 172.1 L282.45 172.02 L282.7 171.91 L282.95 171.79 L283.2 171.67 L283.45 171.52 L283.7 171.33 L283.95 171.06 L284.2 170.72 L284.45 170.27 L284.7 169.71 L284.95 169.06 L285.2 168.51 L285.45 168.38 L285.7 168.78 L285.95 169.48 L286.2 170.16 L286.45 170.7 L286.7 171.07 L286.95 171.31 L287.2 171.46 L287.45 171.56 L287.7 171.65 L287.95 171.74 L288.2 171.82 L288.45 171.86 L288.7 171.87 L288.95 171.87 L289.2 171.88 L289.45 171.9 L289.7 171.94 L289.95 171.98 L290.2 172.04 L290.45 172.11 L290.7 172.16 L290.95 172.17 L291.2 172.16 L291.45 172.14 L291.7 172.14 L291.95 172.17 L292.2 172.22 L292.45 172.26 L292.7 172.28 L292.95 172.25 L293.2 172.19 L293.45 172.13 L293.7 172.11 L293.95 172.13 L294.2 172.19 L294.45 172.23 L294.7 172.24 L294.95 172.2 L295.2 172.15 L295.45 172.14 L295.7 172.16 L295.95 172.21 L296.2 172.23 L296.45 172.24 L296.7 172.23 L296.95 172.24 L297.2 172.26 L297.45 172.28 L297.7 172.27 L297.95 172.23 L298.2 172.2 L298.45 172.17 L298.7 172.16 L298.95 172.16 L299.2 172.14 L299.45 172.11 L299.7 172.06 L299.95 172.03 L300.2 172.03 L300.45 172.05 L300.7 172.08 L300.95 172.12 L301.2 172.14 L301.45 172.16 L301.7 172.17 L301.95 172.18 L302.2 172.2 L302.45 172.21 L302.7 172.2 L302.95 172.2 L303.2 172.2 L303.45 172.21 L303.7 172.21 L303.95 172.18 L304.2 172.13 L304.45 172.09 L304.7 172.07 L304.95 172.09 L305.2 172.13 L305.45 172.18 L305.7 172.22 L305.95 172.26 L306.2 172.29 L306.45 172.3 L306.7 172.28 L306.95 172.26 L307.2 172.25 L307.45 172.24 L307.7 172.23 L307.95 172.22 L308.2 172.2 L308.45 172.18 L308.7 172.16 L308.95 172.16 L309.2 172.2 L309.45 172.25 L309.7 172.29 L309.95 172.28 L310.2 172.22 L310.45 172.15 L310.7 172.1 L310.95 172.1 L311.2 172.14 L311.45 172.18 L311.7 172.2 L311.95 172.19 L312.2 172.15 L312.45 172.12 L312.7 172.11 L312.95 172.13 L313.2 172.18 L313.45 172.22 L313.7 172.23 L313.95 172.21 L314.2 172.18" fill="none" stroke="#ff1a1a" stroke-width="1.3" stroke-linejoin="round" stroke-linecap="round" />
<path d="M179.2 200.13 L179.45 200.14 L179.7 200.14 L179.95 200.11 L180.2 200.06 L180.45 199.99 L180.7 199.93 L180.95 199.92 L181.2 199.95 L181.45 199.97 L181.7 199.97 L181.95 199.96 L182.2 199.95 L182.45 199.97 L182.7 200.03 L182.95 200.09 L183.2 200.13 L183.45 200.14 L183.7 200.12 L183.95 200.08 L184.2 200.04 L184.45 199.99 L184.7 199.95 L184.95 199.92 L185.2 199.9 L185.45 199.89 L185.7 199.9 L185.95 199.91 L186.2 199.91 L186.45 199.91 L186.7 199.9 L186.95 199.89 L187.2 199.87 L187.45 199.87 L187.7 199.89 L187.95 199.93 L188.2 199.97 L188.45 200.02 L188.7 200.06 L188.95 200.09 L189.2 200.09 L189.45 200.08 L189.7 200.07 L189.95 200.05 L190.2 200.02 L190.45 199.98 L190.7 199.93 L190.95 199.9 L191.2 199.91 L191.45 199.95 L191.7 200 L191.95 200.05 L192.2 200.09 L192.45 200.14 L192.7 200.19 L192.95 200.23 L193.2 200.26 L193.45 200.27 L193.7 200.26 L193.95 200.21 L194.2 200.14 L194.45 200.05 L194.7 199.96 L194.95 199.89 L195.2 199.85 L195.45 199.84 L195.7 199.84 L195.95 199.83 L196.2 199.81 L196.45 199.81 L196.7 199.84 L196.95 199.9 L197.2 199.97 L197.45 200.03 L197.7 200.04 L197.95 200.01 L198.2 199.97 L198.45 199.92 L198.7 199.92 L198.95 199.95 L199.2 199.99 L199.45 200.03 L199.7 200.03 L199.95 199.99 L200.2 199.93 L200.45 199.87 L200.7 199.84 L200.95 199.83 L201.2 199.83 L201.45 199.83 L201.7 199.82 L201.95 199.8 L202.2 199.77 L202.45 199.74 L202.7 199.69 L202.95 199.61 L203.2 199.51 L203.45 199.36 L203.7 199.16 L203.95 198.88 L204.2 198.51 L204.45 197.95 L204.7 197 L204.95 195.29 L205.2 192.44 L205.45 189.88 L205.7 191.23 L205.95 194.41 L206.2 196.63 L206.45 197.88 L206.7 198.6 L206.95 199.03 L207.2 199.28 L207.45 199.44 L207.7 199.57 L207.95 199.68 L208.2 199.76 L208.45 199.81 L208.7 199.83 L208.95 199.83 L209.2 199.83 L209.45 199.82 L209.7 199.82 L209.95 199.84 L210.2 199.89 L210.45 199.94 L210.7 199.96 L210.95 199.93 L211.2 199.88 L211.45 199.85 L211.7 199.84 L211.95 199.86 L212.2 199.89 L212.45 199.91 L212.7 199.91 L212.95 199.92 L213.2 199.95 L213.45 199.98 L213.7 199.99 L213.95 199.99 L214.2 199.97 L214.45 199.94 L214.7 199.9 L214.95 199.85 L215.2 199.81 L215.45 199.8 L215.7 199.82 L215.95 199.87 L216.2 199.93 L216.45 199.99 L216.7 200.04 L216.95 200.07 L217.2 200.07 L217.45 200.05 L217.7 200.02 L217.95 199.99 L218.2 199.97 L218.45 199.95 L218.7 199.93 L218.95 199.91 L219.2 199.88 L219.45 199.88 L219.7 199.89 L219.95 199.91 L220.2 199.93 L220.45 199.94 L220.7 199.95 L220.95 199.98 L221.2 200.04 L221.45 200.1 L221.7 200.14 L221.95 200.14 L222.2 200.12 L222.45 200.06 L222.7 199.97 L222.95 199.89 L223.2 199.82 L223.45 199.79 L223.7 199.8 L223.95 199.82 L224.2 199.84 L224.45 199.87 L224.7 199.92 L224.95 199.97 L225.2 200.01 L225.45 200.04 L225.7 200.06 L225.95 200.08 L226.2 200.1 L226.45 200.12 L226.7 200.13 L226.95 200.12 L227.2 200.1 L227.45 200.07 L227.7 200.05 L227.95 200.02 L228.2 200 L228.45 199.97 L228.7 199.93 L228.95 199.88 L229.2 199.86 L229.45 199.88 L229.7 199.91 L229.95 199.95 L230.2 199.97 L230.45 199.99 L230.7 200 L230.95 199.99 L231.2 199.98 L231.45 199.97 L231.7 199.97 L231.95 199.99 L232.2 200.01 L232.45 200.04 L232.7 200.06 L232.95 200.07 L233.2 200.06 L233.45 200.05 L233.7 200.04 L233.95 200.06 L234.2 200.07 L234.45 200.05 L234.7 200.01 L234.95 199.96 L235.2 199.92 L235.45 199.92 L235.7 199.93 L235.95 199.95 L236.2 199.95 L236.45 199.91 L236.7 199.85 L236.95 199.75 L237.2 199.58 L237.45 199.33 L237.7 199.09 L237.95 199.08 L238.2 199.28 L238.45 199.47 L238.7 199.58 L238.95 199.64 L239.2 199.68 L239.45 199.71 L239.7 199.73 L239.95 199.77 L240.2 199.82 L240.45 199.88 L240.7 199.93 L240.95 199.94 L241.2 199.92 L241.45 199.89 L241.7 199.89 L241.95 199.94 L242.2 200.03 L242.45 200.11 L242.7 200.15 L242.95 200.15 L243.2 200.1 L243.45 200.01 L243.7 199.9 L243.95 199.8 L244.2 199.71 L244.45 199.58 L244.7 199.32 L244.95 198.87 L245.2 198.57 L245.45 198.86 L245.7 199.32 L245.95 199.62 L246.2 199.76 L246.45 199.81 L246.7 199.8 L246.95 199.79 L247.2 199.8 L247.45 199.84 L247.7 199.89 L247.95 199.94 L248.2 199.96 L248.45 199.97 L248.7 200 L248.95 200.05 L249.2 200.1 L249.45 200.12 L249.7 200.11 L249.95 200.06 L250.2 200.02 L250.45 200 L250.7 200.01 L250.95 200.03 L251.2 200.05 L251.45 200.04 L251.7 200.02 L251.95 199.98 L252.2 199.96 L252.45 199.96 L252.7 200 L252.95 200.05 L253.2 200.1 L253.45 200.11 L253.7 200.09 L253.95 200.04 L254.2 200 L254.45 199.98 L254.7 200 L254.95 200.04 L255.2 200.07 L255.45 200.09 L255.7 200.11 L255.95 200.13 L256.2 200.16 L256.45 200.16 L256.7 200.13 L256.95 200.05 L257.2 199.95 L257.45 199.87 L257.7 199.82 L257.95 199.83 L258.2 199.89 L258.45 199.97 L258.7 200.04 L258.95 200.08 L259.2 200.08 L259.45 200.07 L259.7 200.06 L259.95 200.04 L260.2 200.01 L260.45 199.98 L260.7 199.97 L260.95 199.99 L261.2 200.02 L261.45 200.06 L261.7 200.08 L261.95 200.08 L262.2 200.06 L262.45 200.02 L262.7 199.97 L262.95 199.91 L263.2 199.86 L263.45 199.84 L263.7 199.84 L263.95 199.86 L264.2 199.88 L264.45 199.93 L264.7 199.99 L264.95 200.04 L265.2 200.05 L265.45 200.03 L265.7 199.99 L265.95 199.96 L266.2 199.95 L266.45 199.95 L266.7 199.97 L266.95 199.97 L267.2 199.98 L267.45 199.99 L267.7 200.01 L267.95 200.05 L268.2 200.07 L268.45 200.08 L268.7 200.05 L268.95 200.01 L269.2 199.96 L269.45 199.91 L269.7 199.85 L269.95 199.8 L270.2 199.79 L270.45 199.83 L270.7 199.9 L270.95 199.97 L271.2 200.03 L271.45 200.07 L271.7 200.09 L271.95 200.11 L272.2 200.12 L272.45 200.12 L272.7 200.1 L272.95 200.06 L273.2 200.01 L273.45 199.95 L273.7 199.9 L273.95 199.87 L274.2 199.86 L274.45 199.87 L274.7 199.9 L274.95 199.95 L275.2 199.99 L275.45 200 L275.7 199.97 L275.95 199.92 L276.2 199.88 L276.45 199.85 L276.7 199.85 L276.95 199.88 L277.2 199.94 L277.45 199.98 L277.7 200.01 L277.95 200.02 L278.2 200.03 L278.45 200.04 L278.7 200.05 L278.95 200.07 L279.2 200.09 L279.45 200.12 L279.7 200.15 L279.95 200.13 L280.2 200.07 L280.45 199.97 L280.7 199.88 L280.95 199.81 L281.2 199.78 L281.45 199.77 L281.7 199.77 L281.95 199.78 L282.2 199.77 L282.45 199.77 L282.7 199.76 L282.95 199.76 L283.2 199.74 L283.45 199.69 L283.7 199.61 L283.95 199.5 L284.2 199.35 L284.45 199.13 L284.7 198.8 L284.95 198.29 L285.2 197.48 L285.45 196.1 L285.7 193.69 L285.95 190.59 L286.2 190.18 L286.45 193.16 L286.7 195.84 L286.95 197.4 L287.2 198.28 L287.45 198.81 L287.7 199.13 L287.95 199.33 L288.2 199.45 L288.45 199.54 L288.7 199.63 L288.95 199.69 L289.2 199.74 L289.45 199.76 L289.7 199.76 L289.95 199.75 L290.2 199.71 L290.45 199.66 L290.7 199.62 L290.95 199.61 L291.2 199.62 L291.45 199.66 L291.7 199.73 L291.95 199.81 L292.2 199.89 L292.45 199.93 L292.7 199.94 L292.95 199.93 L293.2 199.93 L293.45 199.95 L293.7 199.99 L293.95 200 L294.2 199.99 L294.45 199.96 L294.7 199.93 L294.95 199.9 L295.2 199.89 L295.45 199.9 L295.7 199.92 L295.95 199.95 L296.2 199.97 L296.45 199.98 L296.7 199.97 L296.95 199.95 L297.2 199.96 L297.45 199.99 L297.7 200.03 L297.95 200.07 L298.2 200.1 L298.45 200.1 L298.7 200.07 L298.95 200.03 L299.2 200 L299.45 200 L299.7 200.02 L299.95 200.03 L300.2 200.01 L300.45 199.98 L300.7 199.95 L300.95 199.95 L301.2 199.99 L301.45 200.02 L301.7 200.03 L301.95 200.01 L302.2 199.98 L302.45 199.97 L302.7 199.98 L302.95 200 L303.2 200.02 L303.45 200.01 L303.7 200.01 L303.95 200.01 L304.2 200.03 L304.45 200.05 L304.7 200.06 L304.95 200.06 L305.2 200.05 L305.45 200.05 L305.7 200.06 L305.95 200.08 L306.2 200.08 L306.45 200.05 L306.7 200.01 L306.95 199.97 L307.2 199.96 L307.45 199.97 L307.7 199.97 L307.95 199.96 L308.2 199.91 L308.45 199.84 L308.7 199.78 L308.95 199.74 L309.2 199.71 L309.45 199.67 L309.7 199.62 L309.95 199.56 L310.2 199.55 L310.45 199.59 L310.7 199.65 L310.95 199.72 L311.2 199.79 L311.45 199.84 L311.7 199.88 L311.95 199.89 L312.2 199.9 L312.45 199.89 L312.7 199.88 L312.95 199.87 L313.2 199.87 L313.45 199.87 L313.7 199.89 L313.95 199.92 L314.2 199.94" fill="none" stroke="#3cb35f" stroke-width="1.2" stroke-linejoin="round" stroke-linecap="round" />
<path d="M179.2 236.1 L179.45 236.11 L179.7 236.15 L179.95 236.21 L180.2 236.27 L180.45 236.3 L180.7 236.29 L180.95 236.25 L181.2 236.2 L181.45 236.16 L181.7 236.15 L181.95 236.14 L182.2 236.14 L182.45 236.13 L182.7 236.11 L182.95 236.07 L183.2 236.06 L183.45 236.09 L183.7 236.16 L183.95 236.24 L184.2 236.33 L184.45 236.39 L184.7 236.42 L184.95 236.41 L185.2 236.36 L185.45 236.29 L185.7 236.21 L185.95 236.16 L186.2 236.14 L186.45 236.13 L186.7 236.13 L186.95 236.12 L187.2 236.09 L187.45 236.09 L187.7 236.11 L187.95 236.13 L188.2 236.12 L188.45 236.08 L188.7 236.02 L188.95 235.98 L189.2 235.96 L189.45 235.98 L189.7 236.03 L189.95 236.09 L190.2 236.13 L190.45 236.16 L190.7 236.17 L190.95 236.19 L191.2 236.21 L191.45 236.23 L191.7 236.24 L191.95 236.25 L192.2 236.26 L192.45 236.28 L192.7 236.3 L192.95 236.3 L193.2 236.28 L193.45 236.23 L193.7 236.17 L193.95 236.11 L194.2 236.07 L194.45 236.06 L194.7 236.08 L194.95 236.1 L195.2 236.11 L195.45 236.07 L195.7 235.99 L195.95 235.89 L196.2 235.83 L196.45 235.84 L196.7 235.91 L196.95 236 L197.2 236.07 L197.45 236.11 L197.7 236.12 L197.95 236.11 L198.2 236.1 L198.45 236.07 L198.7 236.04 L198.95 235.99 L199.2 235.96 L199.45 235.95 L199.7 235.97 L199.95 236.01 L200.2 236.03 L200.45 236.02 L200.7 235.99 L200.95 235.99 L201.2 236.02 L201.45 236.1 L201.7 236.18 L201.95 236.23 L202.2 236.24 L202.45 236.22 L202.7 236.19 L202.95 236.14 L203.2 236.1 L203.45 236.1 L203.7 236.12 L203.95 236.15 L204.2 236.15 L204.45 236.11 L204.7 236.05 L204.95 236 L205.2 236 L205.45 236.03 L205.7 236.06 L205.95 236.09 L206.2 236.1 L206.45 236.12 L206.7 236.14 L206.95 236.15 L207.2 236.15 L207.45 236.13 L207.7 236.08 L207.95 236.04 L208.2 236.01 L208.45 236.01 L208.7 236.03 L208.95 236.06 L209.2 236.11 L209.45 236.17 L209.7 236.22 L209.95 236.25 L210.2 236.23 L210.45 236.17 L210.7 236.1 L210.95 236.03 L211.2 236 L211.45 236.02 L211.7 236.09 L211.95 236.15 L212.2 236.19 L212.45 236.18 L212.7 236.14 L212.95 236.11 L213.2 236.1 L213.45 236.1 L213.7 236.11 L213.95 236.13 L214.2 236.18 L214.45 236.22 L214.7 236.25 L214.95 236.26 L215.2 236.27 L215.45 236.26 L215.7 236.23 L215.95 236.18 L216.2 236.13 L216.45 236.1 L216.7 236.08 L216.95 236.09 L217.2 236.1 L217.45 236.13 L217.7 236.19 L217.95 236.27 L218.2 236.33 L218.45 236.35 L218.7 236.29 L218.95 236.17 L219.2 236 L219.45 235.86 L219.7 235.79 L219.95 235.81 L220.2 235.88 L220.45 235.94 L220.7 235.98 L220.95 236.01 L221.2 236.04 L221.45 236.08 L221.7 236.1 L221.95 236.11 L222.2 236.1 L222.45 236.1 L222.7 236.13 L222.95 236.2 L223.2 236.3 L223.45 236.4 L223.7 236.45 L223.95 236.44 L224.2 236.37 L224.45 236.26 L224.7 236.14 L224.95 236.05 L225.2 236.02 L225.45 236.07 L225.7 236.13 L225.95 236.19 L226.2 236.21 L226.45 236.22 L226.7 236.19 L226.95 236.14 L227.2 236.07 L227.45 235.99 L227.7 235.89 L227.95 235.79 L228.2 235.71 L228.45 235.7 L228.7 235.76 L228.95 235.84 L229.2 235.89 L229.45 235.9 L229.7 235.91 L229.95 235.91 L230.2 235.93 L230.45 235.94 L230.7 235.96 L230.95 235.96 L231.2 235.95 L231.45 235.94 L231.7 235.94 L231.95 235.97 L232.2 236.01 L232.45 236.06 L232.7 236.1 L232.95 236.11 L233.2 236.11 L233.45 236.09 L233.7 236.08 L233.95 236.1 L234.2 236.14 L234.45 236.19 L234.7 236.22 L234.95 236.19 L235.2 236.1 L235.45 236 L235.7 235.94 L235.95 235.93 L236.2 235.96 L236.45 236.01 L236.7 236.05 L236.95 236.05 L237.2 236.03 L237.45 236 L237.7 235.97 L237.95 235.92 L238.2 235.86 L238.45 235.8 L238.7 235.75 L238.95 235.73 L239.2 235.73 L239.45 235.74 L239.7 235.75 L239.95 235.74 L240.2 235.73 L240.45 235.7 L240.7 235.65 L240.95 235.58 L241.2 235.49 L241.45 235.38 L241.7 235.26 L241.95 235.09 L242.2 234.87 L242.45 234.61 L242.7 234.3 L242.95 233.97 L243.2 233.57 L243.45 232.99 L243.7 232.1 L243.95 230.68 L244.2 228.44 L244.45 224.83 L244.7 219.16 L244.95 211.74 L245.2 207.55 L245.45 211.78 L245.7 219.23 L245.95 224.91 L246.2 228.47 L246.45 230.67 L246.7 232.07 L246.95 233 L247.2 233.64 L247.45 234.11 L247.7 234.44 L247.95 234.69 L248.2 234.88 L248.45 235.04 L248.7 235.17 L248.95 235.29 L249.2 235.38 L249.45 235.45 L249.7 235.5 L249.95 235.54 L250.2 235.58 L250.45 235.6 L250.7 235.62 L250.95 235.65 L251.2 235.72 L251.45 235.81 L251.7 235.91 L251.95 235.99 L252.2 236.05 L252.45 236.1 L252.7 236.13 L252.95 236.11 L253.2 236.05 L253.45 235.97 L253.7 235.89 L253.95 235.85 L254.2 235.85 L254.45 235.88 L254.7 235.91 L254.95 235.91 L255.2 235.89 L255.45 235.87 L255.7 235.86 L255.95 235.89 L256.2 235.93 L256.45 235.99 L256.7 236.04 L256.95 236.08 L257.2 236.1 L257.45 236.07 L257.7 236.02 L257.95 235.97 L258.2 235.93 L258.45 235.91 L258.7 235.91 L258.95 235.94 L259.2 235.99 L259.45 236.04 L259.7 236.05 L259.95 236.02 L260.2 235.98 L260.45 235.97 L260.7 235.99 L260.95 236.01 L261.2 235.99 L261.45 235.94 L261.7 235.87 L261.95 235.83 L262.2 235.83 L262.45 235.88 L262.7 235.95 L262.95 236.02 L263.2 236.06 L263.45 236.06 L263.7 236.04 L263.95 236.01 L264.2 236 L264.45 236.02 L264.7 236.08 L264.95 236.16 L265.2 236.23 L265.45 236.26 L265.7 236.26 L265.95 236.22 L266.2 236.16 L266.45 236.09 L266.7 236.07 L266.95 236.08 L267.2 236.13 L267.45 236.18 L267.7 236.21 L267.95 236.22 L268.2 236.21 L268.45 236.19 L268.7 236.18 L268.95 236.19 L269.2 236.21 L269.45 236.21 L269.7 236.21 L269.95 236.2 L270.2 236.2 L270.45 236.19 L270.7 236.16 L270.95 236.1 L271.2 236.04 L271.45 236.03 L271.7 236.05 L271.95 236.06 L272.2 236.04 L272.45 235.98 L272.7 235.91 L272.95 235.89 L273.2 235.91 L273.45 235.96 L273.7 236.01 L273.95 236.05 L274.2 236.1 L274.45 236.15 L274.7 236.19 L274.95 236.19 L275.2 236.16 L275.45 236.14 L275.7 236.15 L275.95 236.18 L276.2 236.2 L276.45 236.17 L276.7 236.1 L276.95 236.04 L277.2 235.99 L277.45 235.98 L277.7 236.01 L277.95 236.07 L278.2 236.12 L278.45 236.13 L278.7 236.14 L278.95 236.15 L279.2 236.17 L279.45 236.21 L279.7 236.24 L279.95 236.25 L280.2 236.22 L280.45 236.16 L280.7 236.07 L280.95 235.99 L281.2 235.95 L281.45 235.96 L281.7 235.98 L281.95 236.02 L282.2 236.05 L282.45 236.07 L282.7 236.07 L282.95 236.05 L283.2 236.01 L283.45 235.98 L283.7 235.97 L283.95 235.96 L284.2 235.96 L284.45 235.99 L284.7 236.04 L284.95 236.1 L285.2 236.15 L285.45 236.19 L285.7 236.23 L285.95 236.28 L286.2 236.33 L286.45 236.35 L286.7 236.33 L286.95 236.29 L287.2 236.22 L287.45 236.16 L287.7 236.11 L287.95 236.11 L288.2 236.14 L288.45 236.18 L288.7 236.22 L288.95 236.24 L289.2 236.25 L289.45 236.23 L289.7 236.2 L289.95 236.14 L290.2 236.08 L290.45 236.04 L290.7 236.03 L290.95 236.03 L291.2 236.04 L291.45 236.05 L291.7 236.09 L291.95 236.16 L292.2 236.22 L292.45 236.23 L292.7 236.19 L292.95 236.12 L293.2 236.06 L293.45 236.02 L293.7 235.98 L293.95 235.95 L294.2 235.93 L294.45 235.93 L294.7 235.94 L294.95 235.95 L295.2 235.95 L295.45 235.96 L295.7 236 L295.95 236.1 L296.2 236.24 L296.45 236.37 L296.7 236.44 L296.95 236.42 L297.2 236.35 L297.45 236.27 L297.7 236.22 L297.95 236.2 L298.2 236.18 L298.45 236.14 L298.7 236.08 L298.95 236.02 L299.2 236.01 L299.45 236.04 L299.7 236.11 L299.95 236.19 L300.2 236.25 L300.45 236.27 L300.7 236.24 L300.95 236.16 L301.2 236.05 L301.45 235.95 L301.7 235.9 L301.95 235.9 L302.2 235.92 L302.45 235.96 L302.7 236 L302.95 236.05 L303.2 236.1 L303.45 236.15 L303.7 236.21 L303.95 236.26 L304.2 236.3 L304.45 236.31 L304.7 236.33 L304.95 236.36 L305.2 236.38 L305.45 236.36 L305.7 236.29 L305.95 236.21 L306.2 236.17 L306.45 236.18 L306.7 236.2 L306.95 236.21 L307.2 236.19 L307.45 236.14 L307.7 236.08 L307.95 236.05 L308.2 236.04 L308.45 236.05 L308.7 236.03 L308.95 236 L309.2 235.96 L309.45 235.95 L309.7 235.97 L309.95 236 L310.2 236.03 L310.45 236.06 L310.7 236.09 L310.95 236.12 L311.2 236.15 L311.45 236.16 L311.7 236.14 L311.95 236.11 L312.2 236.1 L312.45 236.09 L312.7 236.09 L312.95 236.09 L313.2 236.08 L313.45 236.08 L313.7 236.07 L313.95 236.05 L314.2 236.04" fill="none" stroke="#000" stroke-width="1.4" stroke-linejoin="round" stroke-linecap="round" />
<rect x="178.6" y="117.6" width="136.4" height="125.2" fill="none" stroke="#000" stroke-width="1.4" />
<rect x="178.6" y="117.6" width="47.8" height="26.5" fill="#fff" stroke="#000" stroke-width="1.0" />
<path d="M179.3 142.04 L179.6 142.03 L179.9 142.03 L180.2 142.02 L180.5 142.02 L180.8 142.01 L181.1 142.01 L181.4 142 L181.7 142 L182 141.99 L182.3 141.99 L182.6 141.98 L182.9 141.97 L183.2 141.97 L183.5 141.96 L183.8 141.95 L184.1 141.94 L184.4 141.94 L184.7 141.93 L185 141.92 L185.3 141.91 L185.6 141.9 L185.9 141.89 L186.2 141.88 L186.5 141.86 L186.8 141.85 L187.1 141.84 L187.4 141.82 L187.7 141.81 L188 141.79 L188.3 141.78 L188.6 141.76 L188.9 141.74 L189.2 141.72 L189.5 141.7 L189.8 141.67 L190.1 141.65 L190.4 141.62 L190.7 141.59 L191 141.56 L191.3 141.53 L191.6 141.49 L191.9 141.46 L192.2 141.41 L192.5 141.37 L192.8 141.32 L193.1 141.27 L193.4 141.21 L193.7 141.14 L194 141.07 L194.3 140.99 L194.6 140.91 L194.9 140.81 L195.2 140.71 L195.5 140.59 L195.8 140.46 L196.1 140.31 L196.4 140.15 L196.7 139.96 L197 139.74 L197.3 139.5 L197.6 139.22 L197.9 138.9 L198.2 138.52 L198.5 138.09 L198.8 137.58 L199.1 136.99 L199.4 136.3 L199.7 135.48 L200 134.53 L200.3 133.41 L200.6 132.13 L200.9 130.68 L201.2 129.11 L201.5 127.49 L201.8 125.96 L202.1 124.71 L202.4 123.96 L202.7 123.85 L203 124.4 L203.3 125.5 L203.6 126.96 L203.9 128.57 L204.2 130.18 L204.5 131.67 L204.8 133.01 L205.1 134.18 L205.4 135.19 L205.7 136.05 L206 136.79 L206.3 137.41 L206.6 137.95 L206.9 138.41 L207.2 138.8 L207.5 139.14 L207.8 139.44 L208.1 139.7 L208.4 139.92 L208.7 140.12 L209 140.3 L209.3 140.46 L209.6 140.6 L209.9 140.73 L210.2 140.85 L210.5 140.96 L210.8 141.07 L211.1 141.16 L211.4 141.26 L211.7 141.35 L212 141.44 L212.3 141.54 L212.6 141.64 L212.9 141.75 L213.2 141.88 L213.5 142.01 L213.8 142.15 L214.1 142.27 L214.4 142.35 L214.7 142.37 L215 142.33 L215.3 142.26 L215.6 142.18 L215.9 142.1 L216.2 142.04 L216.5 142 L216.8 141.96 L217.1 141.94 L217.4 141.92 L217.7 141.91 L218 141.89 L218.3 141.88 L218.6 141.88 L218.9 141.87 L219.2 141.86 L219.5 141.85 L219.8 141.84 L220.1 141.82 L220.4 141.8 L220.7 141.78 L221 141.74 L221.3 141.7 L221.6 141.65 L221.9 141.57 L222.2 141.49 L222.5 141.38 L222.8 141.27 L223.1 141.17 L223.4 141.12 L223.7 141.14 L224 141.22 L224.3 141.33 L224.6 141.45 L224.9 141.56 L225.2 141.65 L225.5 141.72 L225.8 141.78" fill="none" stroke="#3cb35f" stroke-width="1.0" stroke-linejoin="round" stroke-linecap="round" />
<path d="M179.3 141.13 L179.6 141.11 L179.9 141.1 L180.2 141.12 L180.5 141.14 L180.8 141.16 L181.1 141.17 L181.4 141.17 L181.7 141.13 L182 141.07 L182.3 140.96 L182.6 140.82 L182.9 140.65 L183.2 140.46 L183.5 140.29 L183.8 140.15 L184.1 140.07 L184.4 140.06 L184.7 140.1 L185 140.17 L185.3 140.26 L185.6 140.34 L185.9 140.41 L186.2 140.46 L186.5 140.5 L186.8 140.52 L187.1 140.53 L187.4 140.53 L187.7 140.53 L188 140.52 L188.3 140.5 L188.6 140.48 L188.9 140.45 L189.2 140.41 L189.5 140.35 L189.8 140.27 L190.1 140.17 L190.4 140.05 L190.7 139.93 L191 139.8 L191.3 139.67 L191.6 139.55 L191.9 139.43 L192.2 139.31 L192.5 139.18 L192.8 139.04 L193.1 138.89 L193.4 138.72 L193.7 138.54 L194 138.34 L194.3 138.12 L194.6 137.9 L194.9 137.66 L195.2 137.41 L195.5 137.13 L195.8 136.82 L196.1 136.47 L196.4 136.07 L196.7 135.63 L197 135.13 L197.3 134.58 L197.6 133.99 L197.9 133.34 L198.2 132.65 L198.5 131.91 L198.8 131.13 L199.1 130.31 L199.4 129.45 L199.7 128.56 L200 127.66 L200.3 126.74 L200.6 125.84 L200.9 124.97 L201.2 124.17 L201.5 123.46 L201.8 122.89 L202.1 122.47 L202.4 122.23 L202.7 122.19 L203 122.36 L203.3 122.71 L203.6 123.23 L203.9 123.89 L204.2 124.65 L204.5 125.48 L204.8 126.35 L205.1 127.23 L205.4 128.11 L205.7 128.97 L206 129.8 L206.3 130.6 L206.6 131.37 L206.9 132.1 L207.2 132.79 L207.5 133.44 L207.8 134.04 L208.1 134.6 L208.4 135.11 L208.7 135.59 L209 136.02 L209.3 136.42 L209.6 136.8 L209.9 137.14 L210.2 137.46 L210.5 137.76 L210.8 138.03 L211.1 138.28 L211.4 138.51 L211.7 138.71 L212 138.9 L212.3 139.08 L212.6 139.24 L212.9 139.4 L213.2 139.56 L213.5 139.71 L213.8 139.86 L214.1 140 L214.4 140.14 L214.7 140.27 L215 140.38 L215.3 140.48 L215.6 140.57 L215.9 140.64 L216.2 140.71 L216.5 140.76 L216.8 140.81 L217.1 140.84 L217.4 140.86 L217.7 140.88 L218 140.9 L218.3 140.91 L218.6 140.92 L218.9 140.94 L219.2 140.95 L219.5 140.95 L219.8 140.94 L220.1 140.91 L220.4 140.86 L220.7 140.78 L221 140.69 L221.3 140.6 L221.6 140.52 L221.9 140.47 L222.2 140.47 L222.5 140.52 L222.8 140.62 L223.1 140.75 L223.4 140.9 L223.7 141.06 L224 141.22 L224.3 141.37 L224.6 141.52 L224.9 141.65 L225.2 141.76 L225.5 141.85 L225.8 141.92" fill="none" stroke="#ff1a1a" stroke-width="1.2" stroke-linejoin="round" stroke-linecap="round" />
<line x1="189.7" y1="144.1" x2="189.7" y2="145.8" stroke="#000" stroke-width="0.7" />
<line x1="199.7" y1="144.1" x2="199.7" y2="145.8" stroke="#000" stroke-width="0.7" />
<line x1="209.8" y1="144.1" x2="209.8" y2="145.8" stroke="#000" stroke-width="0.7" />
<line x1="219.8" y1="144.1" x2="219.8" y2="145.8" stroke="#000" stroke-width="0.7" />
<clipPath id="cp2"><rect x="179.4" y="140" width="60" height="20"/></clipPath>
<g clip-path="url(#cp2)">
<text x="179.3" y="151.8" font-family="Liberation Sans" font-weight="normal" font-size="6.5" fill="#111" stroke="#111" stroke-width="0.15" stroke-linejoin="round" text-anchor="start" textLength="13.8" lengthAdjust="spacing" xml:space="preserve"><tspan>3.39</tspan></text>
<text x="195" y="151.8" font-family="Liberation Sans" font-weight="normal" font-size="6.5" fill="#111" stroke="#111" stroke-width="0.15" stroke-linejoin="round" text-anchor="start" textLength="13.8" lengthAdjust="spacing" xml:space="preserve"><tspan>3.38</tspan></text>
<text x="212.3" y="151.8" font-family="Liberation Sans" font-weight="normal" font-size="6.5" fill="#111" stroke="#111" stroke-width="0.15" stroke-linejoin="round" text-anchor="start" textLength="13.8" lengthAdjust="spacing" xml:space="preserve"><tspan>3.37</tspan></text>
</g>
<line x1="197.8" y1="163.4" x2="197.8" y2="156" stroke="#000" stroke-width="0.9" />
<path d="M195.9 157.6 L197.8 154 L199.7 157.6 Z" fill="#000"/>
<rect x="196.3" y="166.6" width="18" height="36.7" fill="none" stroke="#222" stroke-width="0.9" stroke-dasharray="1.3 0.9"/>
<line x1="219" y1="165.2" x2="211.71" y2="166.44" stroke="#ff1a1a" stroke-width="0.9" />
<path d="M208.4 167 L212.69 164.85 L213.16 167.62 Z" fill="#ff1a1a"/>
<line x1="271.5" y1="165.6" x2="280.11" y2="167.34" stroke="#ff1a1a" stroke-width="0.9" />
<path d="M283.4 168 L278.62 168.47 L279.18 165.72 Z" fill="#ff1a1a"/>
<line x1="222.5" y1="189.6" x2="212.33" y2="190.96" stroke="#3cb35f" stroke-width="0.9" />
<path d="M209 191.4 L213.36 189.4 L213.74 192.18 Z" fill="#3cb35f"/>
<line x1="268.5" y1="189.6" x2="280.29" y2="191.63" stroke="#3cb35f" stroke-width="0.9" />
<path d="M283.6 192.2 L278.84 192.8 L279.31 190.04 Z" fill="#3cb35f"/>
<text x="219.8" y="165.8" font-family="Liberation Sans" font-weight="bold" font-size="10.5" fill="#000" stroke="#000" stroke-width="0.18" stroke-linejoin="round" text-anchor="start" textLength="50.8" lengthAdjust="spacing" xml:space="preserve"><tspan dy="-4.83" font-size="5.25">13</tspan><tspan dy="4.83">C</tspan><tspan fill="#ff1a1a" stroke="#ff1a1a">H</tspan><tspan dy="2.1" font-size="5.25" fill="#ff1a1a" stroke="#ff1a1a">3</tspan><tspan dy="-6.93" font-size="5.25">17</tspan><tspan dy="4.83">OH</tspan></text>
<text x="224.2" y="190.4" font-family="Liberation Sans" font-weight="bold" font-size="10.5" fill="#000" stroke="#000" stroke-width="0.18" stroke-linejoin="round" text-anchor="start" textLength="42.8" lengthAdjust="spacing" xml:space="preserve"><tspan dy="-4.83" font-size="5.25">13</tspan><tspan dy="4.83">C</tspan><tspan fill="#3cb35f" stroke="#3cb35f">H</tspan><tspan dy="2.1" font-size="5.25" fill="#3cb35f" stroke="#3cb35f">3</tspan><tspan dy="-2.1">OH</tspan></text>
<text x="250.1" y="215.7" font-family="Liberation Sans" font-weight="bold" font-size="10.2" fill="#000" stroke="#000" stroke-width="0.18" stroke-linejoin="round" text-anchor="start" textLength="43.1" lengthAdjust="spacing" xml:space="preserve"><tspan dy="-4.69" font-size="5.1">12</tspan><tspan dy="4.69">CH</tspan><tspan dy="2.04" font-size="5.1">3</tspan><tspan dy="-2.04">OH</tspan></text>
<line x1="198" y1="242.8" x2="198" y2="246.2" stroke="#000" stroke-width="1.0" />
<line x1="231.97" y1="242.8" x2="231.97" y2="246.2" stroke="#000" stroke-width="1.0" />
<line x1="265.94" y1="242.8" x2="265.94" y2="246.2" stroke="#000" stroke-width="1.0" />
<line x1="299.91" y1="242.8" x2="299.91" y2="246.2" stroke="#000" stroke-width="1.0" />
<line x1="184.41" y1="242.8" x2="184.41" y2="245.1" stroke="#000" stroke-width="1.1" />
<line x1="191.21" y1="242.8" x2="191.21" y2="245.1" stroke="#000" stroke-width="1.1" />
<line x1="204.79" y1="242.8" x2="204.79" y2="245.1" stroke="#000" stroke-width="1.1" />
<line x1="211.59" y1="242.8" x2="211.59" y2="245.1" stroke="#000" stroke-width="1.1" />
<line x1="218.38" y1="242.8" x2="218.38" y2="245.1" stroke="#000" stroke-width="1.1" />
<line x1="225.18" y1="242.8" x2="225.18" y2="245.1" stroke="#000" stroke-width="1.1" />
<line x1="238.76" y1="242.8" x2="238.76" y2="245.1" stroke="#000" stroke-width="1.1" />
<line x1="245.56" y1="242.8" x2="245.56" y2="245.1" stroke="#000" stroke-width="1.1" />
<line x1="252.35" y1="242.8" x2="252.35" y2="245.1" stroke="#000" stroke-width="1.1" />
<line x1="259.15" y1="242.8" x2="259.15" y2="245.1" stroke="#000" stroke-width="1.1" />
<line x1="272.73" y1="242.8" x2="272.73" y2="245.1" stroke="#000" stroke-width="1.1" />
<line x1="279.53" y1="242.8" x2="279.53" y2="245.1" stroke="#000" stroke-width="1.1" />
<line x1="286.32" y1="242.8" x2="286.32" y2="245.1" stroke="#000" stroke-width="1.1" />
<line x1="293.12" y1="242.8" x2="293.12" y2="245.1" stroke="#000" stroke-width="1.1" />
<line x1="306.7" y1="242.8" x2="306.7" y2="245.1" stroke="#000" stroke-width="1.1" />
<line x1="313.5" y1="242.8" x2="313.5" y2="245.1" stroke="#000" stroke-width="1.1" />
<text x="189.1" y="256.1" font-family="Liberation Sans" font-weight="bold" font-size="11.8" fill="#000" stroke="#000" stroke-width="0.18" stroke-linejoin="round" text-anchor="start" textLength="17.8" lengthAdjust="spacing" xml:space="preserve"><tspan>3.4</tspan></text>
<text x="223.07" y="256.1" font-family="Liberation Sans" font-weight="bold" font-size="11.8" fill="#000" stroke="#000" stroke-width="0.18" stroke-linejoin="round" text-anchor="start" textLength="17.8" lengthAdjust="spacing" xml:space="preserve"><tspan>3.3</tspan></text>
<text x="257.04" y="256.1" font-family="Liberation Sans" font-weight="bold" font-size="11.8" fill="#000" stroke="#000" stroke-width="0.18" stroke-linejoin="round" text-anchor="start" textLength="17.8" lengthAdjust="spacing" xml:space="preserve"><tspan>3.2</tspan></text>
<text x="291.01" y="256.1" font-family="Liberation Sans" font-weight="bold" font-size="11.8" fill="#000" stroke="#000" stroke-width="0.18" stroke-linejoin="round" text-anchor="start" textLength="17.8" lengthAdjust="spacing" xml:space="preserve"><tspan>3.1</tspan></text>
<text x="98.3" y="273.8" font-family="Liberation Sans" font-weight="bold" font-size="12.4" fill="#000" stroke="#000" stroke-width="0.18" stroke-linejoin="round" text-anchor="start" textLength="151.9" lengthAdjust="spacing" xml:space="preserve"><tspan dy="-5.7" font-size="6.2">1</tspan><tspan dy="5.7">H Chemical Shift (ppm)</tspan></text>
<path d="M391.4 36.09 L391.7 35.85 L392 35.4 L392.3 34.81 L392.6 34.13 L392.9 33.54 L393.2 33.26 L393.5 33.43 L393.8 33.9 L394.1 34.34 L394.4 34.49 L394.7 34.42 L395 34.51 L395.3 35.12 L395.6 36.16 L395.9 37.19 L396.2 37.74 L396.5 37.67 L396.8 37.19 L397.1 36.55 L397.4 35.91 L397.7 35.37 L398 35.04 L398.3 35.04 L398.6 35.33 L398.9 35.71 L399.2 35.95 L399.5 35.9 L399.8 35.57 L400.1 35.08 L400.4 34.62 L400.7 34.37 L401 34.41 L401.3 34.63 L401.6 34.83 L401.9 34.84 L402.2 34.69 L402.5 34.54 L402.8 34.52 L403.1 34.67 L403.4 34.87 L403.7 34.94 L404 34.72 L404.3 34.23 L404.6 33.63 L404.9 33.2 L405.2 33.11 L405.5 33.42 L405.8 34.01 L406.1 34.73 L406.4 35.36 L406.7 35.67 L407 35.5 L407.3 34.89 L407.6 34.08 L407.9 33.37 L408.2 32.92 L408.5 32.75 L408.8 32.71 L409.1 32.75 L409.4 32.87 L409.7 33.16 L410 33.63 L410.3 34.22 L410.6 34.76 L410.9 35.04 L411.2 34.97 L411.5 34.6 L411.8 34.12 L412.1 33.72 L412.4 33.57 L412.7 33.71 L413 34.09 L413.3 34.59 L413.6 35.1 L413.9 35.54 L414.2 35.77 L414.5 35.72 L414.8 35.46 L415.1 35.23 L415.4 35.25 L415.7 35.59 L416 36.08 L416.3 36.51 L416.6 36.72 L416.9 36.7 L417.2 36.47 L417.5 36 L417.8 35.34 L418.1 34.65 L418.4 34.15 L418.7 33.95 L419 33.98 L419.3 34.06 L419.6 34.06 L419.9 33.94 L420.2 33.75 L420.5 33.6 L420.8 33.48 L421.1 33.38 L421.4 33.3 L421.7 33.21 L422 32.98 L422.3 32.52 L422.6 32.01 L422.9 31.9 L423.2 32.52 L423.5 33.74 L423.8 35.03 L424.1 35.85 L424.4 36.05 L424.7 35.83 L425 35.5 L425.3 35.24 L425.6 35.02 L425.9 34.76 L426.2 34.37 L426.5 33.89 L426.8 33.47 L427.1 33.24 L427.4 33.3 L427.7 33.69 L428 34.41 L428.3 35.28 L428.6 35.95 L428.9 36.06 L429.2 35.44 L429.5 34.22 L429.8 32.83 L430.1 31.72 L430.4 31.13 L430.7 31.01 L431 31.11 L431.3 31.22 L431.6 31.28 L431.9 31.45 L432.2 31.9 L432.5 32.68 L432.8 33.61 L433.1 34.43 L433.4 34.98 L433.7 35.26 L434 35.31 L434.3 35.15 L434.6 34.73 L434.9 34.05 L435.2 33.28 L435.5 32.73 L435.8 32.62 L436.1 32.92 L436.4 33.44 L436.7 33.97 L437 34.43 L437.3 34.8 L437.6 35.03 L437.9 35.06 L438.2 34.92 L438.5 34.72 L438.8 34.58 L439.1 34.5 L439.4 34.42 L439.7 34.33 L440 34.33 L440.3 34.46 L440.6 34.64 L440.9 34.71 L441.2 34.65 L441.5 34.51 L441.8 34.39 L442.1 34.39 L442.4 34.54 L442.7 34.85 L443 35.22 L443.3 35.46 L443.6 35.4 L443.9 34.97 L444.2 34.38 L444.5 33.95 L444.8 33.93 L445.1 34.3 L445.4 34.81 L445.7 35.17 L446 35.2 L446.3 34.95 L446.6 34.56 L446.9 34.15 L447.2 33.78 L447.5 33.46 L447.8 33.35 L448.1 33.55 L448.4 33.98 L448.7 34.36 L449 34.52 L449.3 34.53 L449.6 34.56 L449.9 34.67 L450.2 34.7 L450.5 34.47 L450.8 33.9 L451.1 33.15 L451.4 32.48 L451.7 32.23 L452 32.54 L452.3 33.26 L452.6 33.96 L452.9 34.27 L453.2 34.05 L453.5 33.41 L453.8 32.62 L454.1 31.97 L454.4 31.6 L454.7 31.47 L455 31.4 L455.3 31.3 L455.6 31.25 L455.9 31.36 L456.2 31.65 L456.5 32.06 L456.8 32.54 L457.1 33.03 L457.4 33.46 L457.7 33.71 L458 33.71 L458.3 33.46 L458.6 33.03 L458.9 32.56 L459.2 32.2 L459.5 32.1 L459.8 32.38 L460.1 33.11 L460.4 34.18 L460.7 35.36 L461 36.36 L461.3 36.95 L461.6 37.07 L461.9 36.71 L462.2 35.91 L462.5 34.78 L462.8 33.59 L463.1 32.64 L463.4 32.21 L463.7 32.33 L464 32.83 L464.3 33.42 L464.6 33.82 L464.9 33.91 L465.2 33.75 L465.5 33.49 L465.8 33.31 L466.1 33.35 L466.4 33.68 L466.7 34.24 L467 34.85 L467.3 35.27 L467.6 35.31 L467.9 34.94 L468.2 34.42 L468.5 34.05 L468.8 33.97 L469.1 34.11 L469.4 34.32 L469.7 34.58 L470 34.9 L470.3 35.22 L470.6 35.3 L470.9 34.99 L471.2 34.36 L471.5 33.68 L471.8 33.14 L472.1 32.7 L472.4 32.24 L472.7 31.7 L473 31.16 L473.3 30.68 L473.6 30.3 L473.9 30.06 L474.2 30.03 L474.5 30.25 L474.8 30.62 L475.1 31.08 L475.4 31.67 L475.7 32.5 L476 33.61 L476.3 34.86 L476.6 36.01 L476.9 36.87 L477.2 37.4 L477.5 37.61 L477.8 37.55 L478.1 37.3 L478.4 36.99 L478.7 36.64 L479 36.24 L479.3 35.84 L479.6 35.55 L479.9 35.5 L480.2 35.67 L480.5 35.98 L480.8 36.31 L481.1 36.54 L481.4 36.59 L481.7 36.43 L482 36.1 L482.3 35.75 L482.6 35.54 L482.9 35.54 L483.2 35.67 L483.5 35.82 L483.8 35.89 L484.1 35.83 L484.4 35.64 L484.7 35.38 L485 35.13 L485.3 34.97 L485.6 34.92 L485.9 34.89 L486.2 34.73 L486.5 34.38 L486.8 33.87 L487.1 33.39 L487.4 33.12 L487.7 33.22 L488 33.75 L488.3 34.61 L488.6 35.59 L488.9 36.44 L489.2 37.02 L489.5 37.26 L489.8 37.13 L490.1 36.71 L490.4 36.17 L490.7 35.76 L491 35.62 L491.3 35.7 L491.6 35.84 L491.9 35.9 L492.2 35.82 L492.5 35.64 L492.8 35.4 L493.1 35.14 L493.4 34.96 L493.7 35 L494 35.34 L494.3 35.83 L494.6 36.11 L494.9 35.84 L495.2 35.01 L495.5 33.99 L495.8 33.22 L496.1 32.95 L496.4 33.19 L496.7 33.83 L497 34.79 L497.3 35.97 L497.6 37.18 L497.9 38.16 L498.2 38.63 L498.5 38.51 L498.8 37.89 L499.1 37.07 L499.4 36.41 L499.7 36.09 L500 36.15 L500.3 36.42 L500.6 36.69 L500.9 36.7 L501.2 36.24 L501.5 35.24 L501.8 33.96 L502.1 32.82 L502.4 32.21 L502.7 32.22 L503 32.66 L503.3 33.28 L503.6 33.99 L503.9 34.74 L504.2 35.42 L504.5 35.88 L504.8 36.08 L505.1 36.09 L505.4 35.96 L505.7 35.61 L506 34.97 L506.3 34.09 L506.6 33.16 L506.9 32.37 L507.2 31.8 L507.5 31.41 L507.8 31.1 L508.1 30.72 L508.4 30.15 L508.7 29.28 L509 28.15 L509.3 26.94 L509.6 25.87 L509.9 25.2 L510.2 25.12 L510.5 25.81 L510.8 27.34 L511.1 29.5 L511.4 31.94 L511.7 34.32 L512 36.46 L512.3 38.35 L512.6 39.93 L512.9 41.07 L513.2 41.66 L513.5 41.75 L513.8 41.58 L514.1 41.39 L514.4 41.31 L514.7 41.33 L515 41.4 L515.3 41.49 L515.6 41.47 L515.9 41.18 L516.2 40.52 L516.5 39.54 L516.8 38.45 L517.1 37.5 L517.4 36.79 L517.7 36.24 L518 35.65 L518.3 34.87 L518.6 33.88 L518.9 32.79 L519.2 31.72 L519.5 30.81 L519.8 30.12 L520.1 29.77 L520.4 29.85 L520.7 30.32 L521 30.98 L521.3 31.5 L521.6 31.65 L521.9 31.42 L522.2 30.99 L522.5 30.57 L522.8 30.41 L523.1 30.67 L523.4 31.48 L523.7 32.71 L524 34.02 L524.3 34.98 L524.6 35.35 L524.9 35.23 L525.2 34.89 L525.5 34.55 L525.8 34.31 L526.1 34.23 L526.4 34.35 L526.7 34.64 L527 34.94 L527.3 35.06 L527.6 34.99 L527.9 34.84 L528.2 34.74 L528.5 34.69 L528.8 34.58 L529.1 34.29 L529.4 33.81 L529.7 33.22 L530 32.72 L530.3 32.44 L530.6 32.39 L530.9 32.5 L531.2 32.7 L531.5 32.92 L531.8 33.06 L532.1 32.96 L532.4 32.66 L532.7 32.41 L533 32.5 L533.3 32.95 L533.6 33.5 L533.9 33.88 L534.2 33.97 L534.5 33.87 L534.8 33.74 L535.1 33.71 L535.4 33.8 L535.7 33.94 L536 34.04 L536.3 34.09 L536.6 34.15 L536.9 34.27 L537.2 34.48 L537.5 34.79 L537.8 35.16 L538.1 35.43 L538.4 35.42 L538.7 35.07 L539 34.47 L539.3 33.82 L539.6 33.33 L539.9 33.12 L540.2 33.18 L540.5 33.42 L540.8 33.74 L541.1 34.05 L541.4 34.26 L541.7 34.38 L542 34.48 L542.3 34.56 L542.6 34.38 L542.9 33.69 L543.2 32.46 L543.5 30.93 L543.8 29.47 L544.1 28.23 L544.4 27.15 L544.7 26.17 L545 25.42 L545.3 25.14 L545.6 25.59 L545.9 26.81 L546.2 28.63 L546.5 30.74 L546.8 32.98 L547.1 35.26 L547.4 37.49 L547.7 39.41 L548 40.76 L548.3 41.38 L548.6 41.29 L548.9 40.57 L549.2 39.4 L549.5 38.15 L549.8 37.2 L550.1 36.73 L550.4 36.6 L550.7 36.48 L551 36.06 L551.3 35.37 L551.6 34.68 L551.9 34.33 L552.2 34.39 L552.5 34.6 L552.8 34.55 L553.1 34.07 L553.4 33.27 L553.7 32.49 L554 31.98 L554.3 31.79 L554.6 31.75 L554.9 31.75 L555.2 31.85 L555.5 32.18 L555.8 32.75 L556.1 33.36 L556.4 33.73 L556.7 33.77 L557 33.63 L557.3 33.53 L557.6 33.62 L557.9 33.78 L558.2 33.75 L558.5 33.43 L558.8 33.03 L559.1 32.78 L559.4 32.68 L559.7 32.49 L560 32.09 L560.3 31.64 L560.6 31.51 L560.9 31.87 L561.2 32.6 L561.5 33.35 L561.8 33.74 L562.1 33.58 L562.4 32.93 L562.7 32.1 L563 31.51 L563.3 31.42 L563.6 31.77 L563.9 32.13 L564.2 32.12 L564.5 31.69 L564.8 31.15 L565.1 30.96 L565.4 31.3 L565.7 32.05 L566 32.9 L566.3 33.53 L566.6 33.76 L566.9 33.57 L567.2 33.11 L567.5 32.59 L567.8 32.21 L568.1 32.04 L568.4 32.06 L568.7 32.18 L569 32.25 L569.3 32.1 L569.6 31.65 L569.9 31.01 L570.2 30.4 L570.5 29.96 L570.8 29.69 L571.1 29.48 L571.4 29.37 L571.7 29.53 L572 30.08 L572.3 30.79 L572.6 31.28 L572.9 31.35 L573.2 31.2 L573.5 31.21 L573.8 31.51 L574.1 31.85 L574.4 31.89 L574.7 31.58 L575 31.11 L575.3 30.73 L575.6 30.54 L575.9 30.46 L576.2 30.38 L576.5 30.25 L576.8 30.12 L577.1 30.01 L577.4 29.94 L577.7 29.83 L578 29.66 L578.3 29.44 L578.6 29.14 L578.9 28.72 L579.2 28.19 L579.5 27.68 L579.8 27.36 L580.1 27.28 L580.4 27.34 L580.7 27.4 L581 27.44 L581.3 27.6 L581.6 28.08 L581.9 28.95 L582.2 30.12 L582.5 31.41 L582.8 32.6 L583.1 33.51 L583.4 34.06 L583.7 34.25 L584 34.1 L584.3 33.63 L584.6 32.9 L584.9 32.03 L585.2 31.25 L585.5 30.69 L585.8 30.37 L586.1 30.11 L586.4 29.71 L586.7 29.15 L587 28.62 L587.3 28.33 L587.6 28.29 L587.9 28.37 L588.2 28.38 L588.5 28.3 L588.8 28.22 L589.1 28.28 L589.4 28.52 L589.7 28.87 L590 29.22 L590.3 29.54 L590.6 29.98 L590.9 30.65 L591.2 31.41 L591.5 31.89 L591.8 31.74 L592.1 30.95 L592.4 29.94 L592.7 29.24 L593 29.15 L593.3 29.61 L593.6 30.3 L593.9 30.92 L594.2 31.32 L594.5 31.47 L594.8 31.33 L595.1 30.82 L595.4 29.98 L595.7 28.98 L596 28.15 L596.3 27.72 L596.6 27.85 L596.9 28.5 L597.2 29.53 L597.5 30.68 L597.8 31.67 L598.1 32.27 L598.4 32.36 L598.7 32.02 L599 31.46 L599.3 30.87 L599.6 30.37 L599.9 29.99 L600.2 29.77 L600.5 29.77 L600.8 29.97 L601.1 30.27 L601.4 30.64 L601.7 31.07 L602 31.48 L602.3 31.68 L602.6 31.55 L602.9 31.21 L603.2 30.88 L603.5 30.73 L603.8 30.79 L604.1 31.02 L604.4 31.32 L604.7 31.52 L605 31.48 L605.3 31.22 L605.6 30.94 L605.9 30.9 L606.2 31.2 L606.5 31.71 L606.8 32.14 L607.1 32.25 L607.4 31.94 L607.7 31.39 L608 30.93 L608.3 30.85 L608.6 31.14 L608.9 31.58 L609.2 31.88 L609.5 31.93 L609.8 31.75 L610.1 31.45 L610.4 31.12 L610.7 30.77 L611 30.45 L611.3 30.15 L611.6 29.92 L611.9 29.76 L612.2 29.69 L612.5 29.64 L612.8 29.55 L613.1 29.35 L613.4 29.06 L613.7 28.84 L614 28.91 L614.3 29.4 L614.6 30.25 L614.9 31.22 L615.2 32.03 L615.5 32.51 L615.8 32.58 L616.1 32.32 L616.4 31.95 L616.7 31.71 L617 31.67 L617.3 31.72 L617.6 31.73 L617.9 31.62 L618.2 31.43 L618.5 31.25 L618.8 31.19 L619.1 31.27 L619.4 31.46 L619.7 31.64 L620 31.67 L620.3 31.43 L620.6 30.89 L620.9 30.19 L621.2 29.53 L621.5 29.17 L621.8 29.27 L622.1 29.9 L622.4 30.93 L622.7 32.07 L623 32.92 L623.3 33.16 L623.6 32.79 L623.9 32.13 L624.2 31.61 L624.5 31.54 L624.8 31.92 L625.1 32.56 L625.4 33.13 L625.7 33.31 L626 32.97 L626.3 32.18 L626.6 31.3 L626.9 30.76 L627.2 30.76 L627.5 31.16 L627.8 31.54 L628.1 31.6 L628.4 31.33 L628.7 30.96 L629 30.72 L629.3 30.66 L629.6 30.66 L629.9 30.58 L630.2 30.4 L630.5 30.29 L630.8 30.34 L631.1 30.46 L631.4 30.46 L631.7 30.35 L632 30.32 L632.3 30.54 L632.6 30.95 L632.9 31.34 L633.2 31.54 L633.5 31.49 L633.8 31.27 L634.1 31.01 L634.4 30.78 L634.7 30.47 L635 29.93 L635.3 29.17 L635.6 28.5 L635.9 28.24 L636.2 28.5 L636.5 29.09 L636.8 29.7 L637.1 30.08 L637.4 30.26 L637.7 30.38 L638 30.6 L638.3 30.98 L638.6 31.45 L638.9 31.86 L639.2 32.1 L639.5 32.21 L639.8 32.31 L640.1 32.42 L640.4 32.38 L640.7 32.1 L641 31.69 L641.3 31.4 L641.6 31.46 L641.9 31.92 L642.2 32.66 L642.5 33.38 L642.8 33.78 L643.1 33.73 L643.4 33.32 L643.7 32.72 L644 32.09 L644.3 31.47 L644.6 30.92 L644.9 30.6 L645.2 30.65 L645.5 31.04 L645.8 31.52 L646.1 31.79 L646.4 31.68 L646.7 31.31 L647 30.95 L647.3 30.81 L647.6 31 L647.9 31.47 L648.2 32.07 L648.5 32.57 L648.8 32.73 L649.1 32.42 L649.4 31.77 L649.7 31.1 L650 30.68 L650.3 30.56 L650.6 30.57 L650.9 30.56 L651.2 30.49 L651.5 30.43 L651.8 30.43 L652.1 30.45 L652.4 30.47 L652.7 30.43 L653 30.32 L653.3 30.21 L653.6 30.25 L653.9 30.49 L654.2 30.79 L654.5 31 L654.8 31.17 L655.1 31.54 L655.4 32.29 L655.7 33.32 L656 34.31 L656.3 34.98 L656.6 35.26 L656.9 35.25 L657.2 35.01 L657.5 34.53 L657.8 33.78 L658.1 32.83 L658.4 31.9 L658.7 31.32 L659 31.33 L659.3 31.94 L659.6 32.88 L659.9 33.69 L660.2 34 L660.5 33.67 L660.8 32.8 L661.1 31.65 L661.4 30.52 L661.7 29.67 L662 29.28 L662.3 29.37 L662.6 29.85 L662.9 30.55 L663.2 31.24 L663.5 31.66 L663.8 31.68 L664.1 31.36 L664.4 30.96 L664.7 30.73 L665 30.76 L665.3 30.99 L665.6 31.35 L665.9 31.76 L666.2 32.12 L666.5 32.37 L666.8 32.46 L667.1 32.42 L667.4 32.34 L667.7 32.34 L668 32.58 L668.3 33.17 L668.6 34.02 L668.9 34.72 L669.2 34.78 L669.5 33.98 L669.8 32.67 L670.1 31.48 L670.4 30.82 L670.7 30.7 L671 30.88 L671.3 31.18 L671.6 31.48 L671.9 31.72 L672.2 31.85 L672.5 31.9" fill="none" stroke="#ff1a1a" stroke-width="1.3" stroke-linejoin="round" stroke-linecap="round" />
<path d="M391.4 69.08 L391.7 69.45 L392 70.11 L392.3 70.92 L392.6 71.71 L392.9 72.36 L393.2 72.79 L393.5 73.06 L393.8 73.28 L394.1 73.65 L394.4 74.2 L394.7 74.76 L395 75 L395.3 74.67 L395.6 73.75 L395.9 72.51 L396.2 71.35 L396.5 70.6 L396.8 70.39 L397.1 70.6 L397.4 71.01 L397.7 71.42 L398 71.75 L398.3 72.02 L398.6 72.27 L398.9 72.51 L399.2 72.65 L399.5 72.69 L399.8 72.71 L400.1 72.84 L400.4 73.08 L400.7 73.27 L401 73.26 L401.3 73 L401.6 72.61 L401.9 72.22 L402.2 71.97 L402.5 71.92 L402.8 72.11 L403.1 72.47 L403.4 72.93 L403.7 73.48 L404 74.14 L404.3 74.92 L404.6 75.68 L404.9 76.28 L405.2 76.61 L405.5 76.62 L405.8 76.32 L406.1 75.78 L406.4 75.08 L406.7 74.3 L407 73.47 L407.3 72.61 L407.6 71.82 L407.9 71.19 L408.2 70.81 L408.5 70.7 L408.8 70.84 L409.1 71.11 L409.4 71.34 L409.7 71.44 L410 71.39 L410.3 71.27 L410.6 71.21 L410.9 71.33 L411.2 71.73 L411.5 72.41 L411.8 73.24 L412.1 74.02 L412.4 74.58 L412.7 74.8 L413 74.69 L413.3 74.33 L413.6 73.85 L413.9 73.37 L414.2 72.99 L414.5 72.76 L414.8 72.65 L415.1 72.55 L415.4 72.34 L415.7 71.97 L416 71.55 L416.3 71.24 L416.6 71.12 L416.9 71.17 L417.2 71.35 L417.5 71.69 L417.8 72.16 L418.1 72.68 L418.4 73.12 L418.7 73.4 L419 73.51 L419.3 73.49 L419.6 73.4 L419.9 73.29 L420.2 73.18 L420.5 73.04 L420.8 72.86 L421.1 72.65 L421.4 72.52 L421.7 72.53 L422 72.71 L422.3 73.03 L422.6 73.43 L422.9 73.86 L423.2 74.27 L423.5 74.59 L423.8 74.79 L424.1 74.87 L424.4 74.8 L424.7 74.53 L425 74.04 L425.3 73.42 L425.6 72.74 L425.9 72.03 L426.2 71.3 L426.5 70.59 L426.8 70.04 L427.1 69.8 L427.4 69.9 L427.7 70.27 L428 70.73 L428.3 71.09 L428.6 71.27 L428.9 71.3 L429.2 71.24 L429.5 71.13 L429.8 70.99 L430.1 70.88 L430.4 70.88 L430.7 71.02 L431 71.29 L431.3 71.64 L431.6 72.05 L431.9 72.51 L432.2 72.98 L432.5 73.37 L432.8 73.64 L433.1 73.82 L433.4 73.94 L433.7 74.01 L434 73.93 L434.3 73.68 L434.6 73.38 L434.9 73.21 L435.2 73.25 L435.5 73.44 L435.8 73.63 L436.1 73.69 L436.4 73.57 L436.7 73.29 L437 72.91 L437.3 72.56 L437.6 72.39 L437.9 72.45 L438.2 72.62 L438.5 72.67 L438.8 72.46 L439.1 71.99 L439.4 71.44 L439.7 71 L440 70.84 L440.3 71.02 L440.6 71.48 L440.9 72.14 L441.2 72.83 L441.5 73.42 L441.8 73.8 L442.1 73.86 L442.4 73.6 L442.7 73.14 L443 72.68 L443.3 72.39 L443.6 72.28 L443.9 72.24 L444.2 72.11 L444.5 71.79 L444.8 71.34 L445.1 70.92 L445.4 70.7 L445.7 70.77 L446 71.16 L446.3 71.76 L446.6 72.39 L446.9 72.83 L447.2 72.94 L447.5 72.7 L447.8 72.27 L448.1 71.83 L448.4 71.47 L448.7 71.16 L449 70.89 L449.3 70.71 L449.6 70.77 L449.9 71.09 L450.2 71.56 L450.5 72.02 L450.8 72.34 L451.1 72.5 L451.4 72.52 L451.7 72.44 L452 72.3 L452.3 72.18 L452.6 72.17 L452.9 72.33 L453.2 72.6 L453.5 72.86 L453.8 72.99 L454.1 72.89 L454.4 72.6 L454.7 72.23 L455 71.88 L455.3 71.57 L455.6 71.36 L455.9 71.31 L456.2 71.51 L456.5 71.98 L456.8 72.56 L457.1 73.03 L457.4 73.23 L457.7 73.24 L458 73.25 L458.3 73.4 L458.6 73.68 L458.9 73.92 L459.2 73.94 L459.5 73.63 L459.8 73.03 L460.1 72.37 L460.4 71.91 L460.7 71.81 L461 72.03 L461.3 72.38 L461.6 72.64 L461.9 72.78 L462.2 72.89 L462.5 73.1 L462.8 73.38 L463.1 73.56 L463.4 73.5 L463.7 73.21 L464 72.79 L464.3 72.42 L464.6 72.18 L464.9 72.08 L465.2 72.04 L465.5 71.94 L465.8 71.72 L466.1 71.36 L466.4 70.96 L466.7 70.66 L467 70.62 L467.3 70.88 L467.6 71.31 L467.9 71.72 L468.2 71.93 L468.5 71.95 L468.8 71.85 L469.1 71.78 L469.4 71.84 L469.7 72.05 L470 72.36 L470.3 72.67 L470.6 72.9 L470.9 73.05 L471.2 73.12 L471.5 73.05 L471.8 72.77 L472.1 72.34 L472.4 71.96 L472.7 71.9 L473 72.28 L473.3 72.98 L473.6 73.63 L473.9 73.85 L474.2 73.49 L474.5 72.72 L474.8 71.84 L475.1 71.1 L475.4 70.52 L475.7 69.97 L476 69.32 L476.3 68.54 L476.6 67.62 L476.9 66.54 L477.2 65.38 L477.5 64.38 L477.8 63.87 L478.1 64.22 L478.4 65.72 L478.7 68.39 L479 71.85 L479.3 75.38 L479.6 78.22 L479.9 79.85 L480.2 80.11 L480.5 79.19 L480.8 77.51 L481.1 75.56 L481.4 73.75 L481.7 72.25 L482 71.16 L482.3 70.55 L482.6 70.45 L482.9 70.77 L483.2 71.33 L483.5 71.92 L483.8 72.35 L484.1 72.51 L484.4 72.43 L484.7 72.25 L485 72.14 L485.3 72.18 L485.6 72.3 L485.9 72.43 L486.2 72.53 L486.5 72.61 L486.8 72.63 L487.1 72.6 L487.4 72.57 L487.7 72.65 L488 72.9 L488.3 73.29 L488.6 73.64 L488.9 73.83 L489.2 73.86 L489.5 73.89 L489.8 74.05 L490.1 74.31 L490.4 74.52 L490.7 74.52 L491 74.24 L491.3 73.66 L491.6 72.88 L491.9 72.16 L492.2 71.75 L492.5 71.78 L492.8 72.14 L493.1 72.65 L493.4 73.13 L493.7 73.52 L494 73.84 L494.3 74.19 L494.6 74.62 L494.9 75.1 L495.2 75.47 L495.5 75.45 L495.8 74.88 L496.1 73.84 L496.4 72.71 L496.7 71.99 L497 71.95 L497.3 72.5 L497.6 73.24 L497.9 73.78 L498.2 73.95 L498.5 73.77 L498.8 73.35 L499.1 72.91 L499.4 72.63 L499.7 72.61 L500 72.72 L500.3 72.77 L500.6 72.67 L500.9 72.43 L501.2 72.17 L501.5 71.96 L501.8 71.89 L502.1 71.99 L502.4 72.19 L502.7 72.34 L503 72.3 L503.3 72.06 L503.6 71.69 L503.9 71.32 L504.2 71.09 L504.5 71.09 L504.8 71.34 L505.1 71.82 L505.4 72.42 L505.7 72.98 L506 73.37 L506.3 73.55 L506.6 73.61 L506.9 73.74 L507.2 74.02 L507.5 74.37 L507.8 74.54 L508.1 74.39 L508.4 73.91 L508.7 73.25 L509 72.53 L509.3 71.83 L509.6 71.15 L509.9 70.47 L510.2 69.69 L510.5 68.55 L510.8 66.69 L511.1 63.91 L511.4 60.43 L511.7 56.83 L512 53.78 L512.3 51.82 L512.6 51.3 L512.9 52.39 L513.2 55.2 L513.5 59.67 L513.8 65.5 L514.1 72.12 L514.4 78.78 L514.7 84.72 L515 89.31 L515.3 92.17 L515.6 93.24 L515.9 92.75 L516.2 91.06 L516.5 88.57 L516.8 85.74 L517.1 82.96 L517.4 80.56 L517.7 78.7 L518 77.38 L518.3 76.46 L518.6 75.76 L518.9 75.1 L519.2 74.36 L519.5 73.56 L519.8 72.82 L520.1 72.35 L520.4 72.24 L520.7 72.45 L521 72.76 L521.3 73 L521.6 73.13 L521.9 73.21 L522.2 73.27 L522.5 73.26 L522.8 73.13 L523.1 72.97 L523.4 72.96 L523.7 73.14 L524 73.39 L524.3 73.48 L524.6 73.26 L524.9 72.77 L525.2 72.13 L525.5 71.47 L525.8 70.85 L526.1 70.31 L526.4 69.89 L526.7 69.72 L527 69.79 L527.3 69.98 L527.6 70.07 L527.9 69.98 L528.2 69.79 L528.5 69.69 L528.8 69.8 L529.1 70.2 L529.4 70.83 L529.7 71.54 L530 72.14 L530.3 72.51 L530.6 72.7 L530.9 72.81 L531.2 72.89 L531.5 72.91 L531.8 72.92 L532.1 73.03 L532.4 73.31 L532.7 73.65 L533 73.9 L533.3 73.97 L533.6 73.87 L533.9 73.64 L534.2 73.3 L534.5 72.86 L534.8 72.39 L535.1 72.03 L535.4 71.89 L535.7 72.04 L536 72.37 L536.3 72.68 L536.6 72.83 L536.9 72.81 L537.2 72.75 L537.5 72.76 L537.8 72.86 L538.1 72.97 L538.4 73.05 L538.7 73.02 L539 72.86 L539.3 72.54 L539.6 72.12 L539.9 71.75 L540.2 71.57 L540.5 71.58 L540.8 71.7 L541.1 71.82 L541.4 71.97 L541.7 72.22 L542 72.6 L542.3 73.04 L542.6 73.37 L542.9 73.43 L543.2 73.17 L543.5 72.67 L543.8 72.08 L544.1 71.46 L544.4 70.81 L544.7 70.12 L545 69.45 L545.3 68.74 L545.6 67.94 L545.9 66.76 L546.2 65.01 L546.5 62.73 L546.8 60.24 L547.1 57.89 L547.4 56 L547.7 54.79 L548 54.46 L548.3 55.29 L548.6 57.59 L548.9 61.53 L549.2 66.95 L549.5 73.26 L549.8 79.59 L550.1 85.03 L550.4 88.88 L550.7 90.84 L551 90.93 L551.3 89.45 L551.6 86.84 L551.9 83.6 L552.2 80.23 L552.5 77.2 L552.8 74.75 L553.1 72.92 L553.4 71.55 L553.7 70.53 L554 69.8 L554.3 69.42 L554.6 69.43 L554.9 69.8 L555.2 70.35 L555.5 70.84 L555.8 71.05 L556.1 70.85 L556.4 70.29 L556.7 69.58 L557 69 L557.3 68.7 L557.6 68.6 L557.9 68.56 L558.2 68.58 L558.5 68.74 L558.8 69.19 L559.1 69.93 L559.4 70.82 L559.7 71.6 L560 72.08 L560.3 72.21 L560.6 72.1 L560.9 71.95 L561.2 71.92 L561.5 72.04 L561.8 72.22 L562.1 72.29 L562.4 72.1 L562.7 71.63 L563 70.96 L563.3 70.24 L563.6 69.68 L563.9 69.34 L564.2 69.21 L564.5 69.24 L564.8 69.42 L565.1 69.63 L565.4 69.71 L565.7 69.54 L566 69.19 L566.3 68.85 L566.6 68.7 L566.9 68.79 L567.2 68.99 L567.5 69.09 L567.8 68.99 L568.1 68.76 L568.4 68.55 L568.7 68.45 L569 68.4 L569.3 68.29 L569.6 68.05 L569.9 67.75 L570.2 67.51 L570.5 67.45 L570.8 67.64 L571.1 68.11 L571.4 68.75 L571.7 69.42 L572 69.93 L572.3 70.18 L572.6 70.19 L572.9 70.1 L573.2 70.06 L573.5 70.13 L573.8 70.28 L574.1 70.43 L574.4 70.57 L574.7 70.65 L575 70.59 L575.3 70.3 L575.6 69.83 L575.9 69.39 L576.2 69.23 L576.5 69.42 L576.8 69.78 L577.1 70.05 L577.4 70.09 L577.7 69.93 L578 69.73 L578.3 69.6 L578.6 69.59 L578.9 69.68 L579.2 69.72 L579.5 69.6 L579.8 69.31 L580.1 69.03 L580.4 68.88 L580.7 68.78 L581 68.47 L581.3 67.72 L581.6 66.51 L581.9 65.07 L582.2 63.67 L582.5 62.51 L582.8 61.69 L583.1 61.24 L583.4 61.21 L583.7 61.71 L584 62.96 L584.3 65.08 L584.6 67.92 L584.9 71.08 L585.2 74.07 L585.5 76.55 L585.8 78.3 L586.1 79.22 L586.4 79.3 L586.7 78.66 L587 77.48 L587.3 75.98 L587.6 74.3 L587.9 72.5 L588.2 70.69 L588.5 69.05 L588.8 67.87 L589.1 67.34 L589.4 67.46 L589.7 68.06 L590 68.84 L590.3 69.52 L590.6 69.89 L590.9 69.92 L591.2 69.81 L591.5 69.68 L591.8 69.5 L592.1 69.13 L592.4 68.53 L592.7 67.9 L593 67.57 L593.3 67.77 L593.6 68.44 L593.9 69.29 L594.2 69.96 L594.5 70.3 L594.8 70.33 L595.1 70.26 L595.4 70.25 L595.7 70.44 L596 70.83 L596.3 71.25 L596.6 71.39 L596.9 70.96 L597.2 70.02 L597.5 68.96 L597.8 68.24 L598.1 68.07 L598.4 68.29 L598.7 68.57 L599 68.62 L599.3 68.33 L599.6 67.8 L599.9 67.23 L600.2 66.87 L600.5 66.85 L600.8 67.19 L601.1 67.75 L601.4 68.29 L601.7 68.58 L602 68.56 L602.3 68.35 L602.6 68.14 L602.9 68.07 L603.2 68.14 L603.5 68.27 L603.8 68.42 L604.1 68.63 L604.4 68.96 L604.7 69.38 L605 69.72 L605.3 69.79 L605.6 69.58 L605.9 69.2 L606.2 68.78 L606.5 68.43 L606.8 68.22 L607.1 68.14 L607.4 68.1 L607.7 68.01 L608 67.84 L608.3 67.6 L608.6 67.27 L608.9 66.92 L609.2 66.66 L609.5 66.64 L609.8 66.9 L610.1 67.33 L610.4 67.8 L610.7 68.21 L611 68.49 L611.3 68.57 L611.6 68.47 L611.9 68.36 L612.2 68.44 L612.5 68.8 L612.8 69.32 L613.1 69.77 L613.4 70.03 L613.7 70.1 L614 70.07 L614.3 70.01 L614.6 69.91 L614.9 69.74 L615.2 69.47 L615.5 69.17 L615.8 68.97 L616.1 69 L616.4 69.31 L616.7 69.8 L617 70.31 L617.3 70.61 L617.6 70.47 L617.9 69.82 L618.2 68.81 L618.5 67.82 L618.8 67.26 L619.1 67.32 L619.4 67.85 L619.7 68.54 L620 69.14 L620.3 69.64 L620.6 70.16 L620.9 70.76 L621.2 71.33 L621.5 71.74 L621.8 71.95 L622.1 72.05 L622.4 72.07 L622.7 71.99 L623 71.74 L623.3 71.34 L623.6 70.88 L623.9 70.45 L624.2 70.09 L624.5 69.78 L624.8 69.53 L625.1 69.38 L625.4 69.35 L625.7 69.4 L626 69.44 L626.3 69.41 L626.6 69.29 L626.9 69.14 L627.2 69.01 L627.5 68.88 L627.8 68.75 L628.1 68.64 L628.4 68.68 L628.7 68.87 L629 69.13 L629.3 69.26 L629.6 69.21 L629.9 69.07 L630.2 68.99 L630.5 69.05 L630.8 69.21 L631.1 69.41 L631.4 69.63 L631.7 69.92 L632 70.35 L632.3 70.92 L632.6 71.49 L632.9 71.87 L633.2 71.89 L633.5 71.6 L633.8 71.21 L634.1 70.9 L634.4 70.71 L634.7 70.55 L635 70.39 L635.3 70.31 L635.6 70.39 L635.9 70.62 L636.2 70.92 L636.5 71.19 L636.8 71.4 L637.1 71.51 L637.4 71.52 L637.7 71.48 L638 71.42 L638.3 71.36 L638.6 71.3 L638.9 71.22 L639.2 71.16 L639.5 71.17 L639.8 71.26 L640.1 71.4 L640.4 71.53 L640.7 71.64 L641 71.7 L641.3 71.68 L641.6 71.59 L641.9 71.47 L642.2 71.36 L642.5 71.22 L642.8 71.01 L643.1 70.72 L643.4 70.37 L643.7 70.02 L644 69.66 L644.3 69.35 L644.6 69.14 L644.9 69.05 L645.2 69.05 L645.5 69.06 L645.8 69.11 L646.1 69.28 L646.4 69.68 L646.7 70.31 L647 71.02 L647.3 71.56 L647.6 71.73 L647.9 71.55 L648.2 71.19 L648.5 70.86 L648.8 70.7 L649.1 70.78 L649.4 71.11 L649.7 71.58 L650 72.05 L650.3 72.37 L650.6 72.49 L650.9 72.47 L651.2 72.33 L651.5 72.03 L651.8 71.54 L652.1 70.95 L652.4 70.46 L652.7 70.13 L653 69.89 L653.3 69.55 L653.6 69.09 L653.9 68.63 L654.2 68.37 L654.5 68.4 L654.8 68.66 L655.1 69.02 L655.4 69.36 L655.7 69.65 L656 69.98 L656.3 70.44 L656.6 70.98 L656.9 71.4 L657.2 71.53 L657.5 71.42 L657.8 71.21 L658.1 71.03 L658.4 70.88 L658.7 70.81 L659 70.88 L659.3 71.14 L659.6 71.52 L659.9 71.9 L660.2 72.16 L660.5 72.31 L660.8 72.38 L661.1 72.4 L661.4 72.36 L661.7 72.19 L662 71.84 L662.3 71.31 L662.6 70.75 L662.9 70.32 L663.2 70.13 L663.5 70.14 L663.8 70.27 L664.1 70.45 L664.4 70.69 L664.7 71 L665 71.38 L665.3 71.77 L665.6 72.04 L665.9 72.06 L666.2 71.81 L666.5 71.44 L666.8 71.18 L667.1 71.16 L667.4 71.38 L667.7 71.71 L668 72.07 L668.3 72.44 L668.6 72.8 L668.9 73.08 L669.2 73.16 L669.5 72.99 L669.8 72.64 L670.1 72.28 L670.4 72.02 L670.7 71.84 L671 71.65 L671.3 71.48 L671.6 71.43 L671.9 71.56 L672.2 71.8 L672.5 71.98" fill="none" stroke="#000" stroke-width="1.3" stroke-linejoin="round" stroke-linecap="round" />
<rect x="390.8" y="1.5" width="282.5" height="96.9" fill="none" stroke="#000" stroke-width="1.4" />
<line x1="390.8" y1="98.4" x2="390.8" y2="102" stroke="#000" stroke-width="1.0" />
<line x1="437.97" y1="98.4" x2="437.97" y2="102" stroke="#000" stroke-width="1.0" />
<line x1="485.14" y1="98.4" x2="485.14" y2="102" stroke="#000" stroke-width="1.0" />
<line x1="532.31" y1="98.4" x2="532.31" y2="102" stroke="#000" stroke-width="1.0" />
<line x1="579.48" y1="98.4" x2="579.48" y2="102" stroke="#000" stroke-width="1.0" />
<line x1="626.65" y1="98.4" x2="626.65" y2="102" stroke="#000" stroke-width="1.0" />
<line x1="673.82" y1="98.4" x2="673.82" y2="102" stroke="#000" stroke-width="1.0" />
<line x1="414.38" y1="98.4" x2="414.38" y2="100.6" stroke="#000" stroke-width="0.9" />
<line x1="461.56" y1="98.4" x2="461.56" y2="100.6" stroke="#000" stroke-width="0.9" />
<line x1="508.73" y1="98.4" x2="508.73" y2="100.6" stroke="#000" stroke-width="0.9" />
<line x1="555.89" y1="98.4" x2="555.89" y2="100.6" stroke="#000" stroke-width="0.9" />
<line x1="603.07" y1="98.4" x2="603.07" y2="100.6" stroke="#000" stroke-width="0.9" />
<line x1="650.24" y1="98.4" x2="650.24" y2="100.6" stroke="#000" stroke-width="0.9" />
<text x="380.26" y="113.1" font-family="Liberation Sans" font-weight="bold" font-size="11.8" fill="#000" stroke="#000" stroke-width="0.18" stroke-linejoin="round" text-anchor="start" textLength="21.08" lengthAdjust="spacing" xml:space="preserve"><tspan>320</tspan></text>
<text x="427.43" y="113.1" font-family="Liberation Sans" font-weight="bold" font-size="11.8" fill="#000" stroke="#000" stroke-width="0.18" stroke-linejoin="round" text-anchor="start" textLength="21.08" lengthAdjust="spacing" xml:space="preserve"><tspan>322</tspan></text>
<text x="474.6" y="113.1" font-family="Liberation Sans" font-weight="bold" font-size="11.8" fill="#000" stroke="#000" stroke-width="0.18" stroke-linejoin="round" text-anchor="start" textLength="21.08" lengthAdjust="spacing" xml:space="preserve"><tspan>324</tspan></text>
<text x="521.77" y="113.1" font-family="Liberation Sans" font-weight="bold" font-size="11.8" fill="#000" stroke="#000" stroke-width="0.18" stroke-linejoin="round" text-anchor="start" textLength="21.08" lengthAdjust="spacing" xml:space="preserve"><tspan>326</tspan></text>
<text x="568.94" y="113.1" font-family="Liberation Sans" font-weight="bold" font-size="11.8" fill="#000" stroke="#000" stroke-width="0.18" stroke-linejoin="round" text-anchor="start" textLength="21.08" lengthAdjust="spacing" xml:space="preserve"><tspan>328</tspan></text>
<text x="616.11" y="113.1" font-family="Liberation Sans" font-weight="bold" font-size="11.8" fill="#000" stroke="#000" stroke-width="0.18" stroke-linejoin="round" text-anchor="start" textLength="21.08" lengthAdjust="spacing" xml:space="preserve"><tspan>330</tspan></text>
<text x="663.28" y="113.1" font-family="Liberation Sans" font-weight="bold" font-size="11.8" fill="#000" stroke="#000" stroke-width="0.18" stroke-linejoin="round" text-anchor="start" textLength="21.08" lengthAdjust="spacing" xml:space="preserve"><tspan>332</tspan></text>
<text x="395.6" y="14.2" font-family="Liberation Sans" font-weight="bold" font-size="10" fill="#000" stroke="#000" stroke-width="0.18" stroke-linejoin="round" text-anchor="start" textLength="55" lengthAdjust="spacing" xml:space="preserve"><tspan>DMPO-OH</tspan></text>
<text x="588.4" y="26.4" font-family="Liberation Sans" font-weight="bold" font-size="10.4" fill="#000" stroke="#000" stroke-width="0.18" stroke-linejoin="round" text-anchor="start" textLength="83" lengthAdjust="spacing" xml:space="preserve"><tspan>0.5%MoO</tspan><tspan dy="2.08" font-size="5.2">x</tspan><tspan dy="-2.08">-TiO</tspan><tspan dy="2.08" font-size="5.2">2</tspan></text>
<text x="620.5" y="64.8" font-family="Liberation Sans" font-weight="bold" font-size="10.4" fill="#000" stroke="#000" stroke-width="0.18" stroke-linejoin="round" text-anchor="start" textLength="50.9" lengthAdjust="spacing" xml:space="preserve"><tspan>Bare TiO</tspan><tspan dy="2.08" font-size="5.2">2</tspan></text>
<text x="468.2" y="129.8" font-family="Liberation Sans" font-weight="bold" font-size="12.4" fill="#000" stroke="#000" stroke-width="0.18" stroke-linejoin="round" text-anchor="start" textLength="127.8" lengthAdjust="spacing" xml:space="preserve"><tspan>Magnetic Field (mT)</tspan></text>
<text x="357.3" y="25.2" font-family="Liberation Sans" font-weight="bold" font-size="21" fill="#000" stroke="#000" stroke-width="0.18" stroke-linejoin="round" text-anchor="start" xml:space="preserve"><tspan>b</tspan></text>
<path d="M391.4 172.99 L391.7 173.08 L392 173.25 L392.3 173.48 L392.6 173.78 L392.9 174.08 L393.2 174.33 L393.5 174.51 L393.8 174.63 L394.1 174.71 L394.4 174.68 L394.7 174.48 L395 174.08 L395.3 173.54 L395.6 173 L395.9 172.56 L396.2 172.26 L396.5 172.11 L396.8 172.04 L397.1 172.01 L397.4 171.95 L397.7 171.8 L398 171.53 L398.3 171.21 L398.6 171.01 L398.9 171.08 L399.2 171.46 L399.5 172 L399.8 172.46 L400.1 172.66 L400.4 172.64 L400.7 172.62 L401 172.81 L401.3 173.21 L401.6 173.66 L401.9 173.95 L402.2 173.9 L402.5 173.46 L402.8 172.75 L403.1 172.06 L403.4 171.7 L403.7 171.74 L404 171.97 L404.3 172.1 L404.6 172.05 L404.9 171.96 L405.2 172.04 L405.5 172.35 L405.8 172.72 L406.1 172.95 L406.4 172.93 L406.7 172.71 L407 172.43 L407.3 172.18 L407.6 172.02 L407.9 171.95 L408.2 171.94 L408.5 171.97 L408.8 172.06 L409.1 172.21 L409.4 172.42 L409.7 172.67 L410 172.94 L410.3 173.24 L410.6 173.62 L410.9 174.11 L411.2 174.68 L411.5 175.24 L411.8 175.61 L412.1 175.6 L412.4 175.12 L412.7 174.33 L413 173.62 L413.3 173.36 L413.6 173.61 L413.9 174.05 L414.2 174.3 L414.5 174.15 L414.8 173.73 L415.1 173.27 L415.4 172.99 L415.7 172.98 L416 173.17 L416.3 173.45 L416.6 173.68 L416.9 173.73 L417.2 173.57 L417.5 173.2 L417.8 172.74 L418.1 172.39 L418.4 172.36 L418.7 172.71 L419 173.28 L419.3 173.85 L419.6 174.24 L419.9 174.37 L420.2 174.24 L420.5 173.89 L420.8 173.48 L421.1 173.16 L421.4 173 L421.7 172.9 L422 172.79 L422.3 172.72 L422.6 172.86 L422.9 173.31 L423.2 173.97 L423.5 174.55 L423.8 174.8 L424.1 174.66 L424.4 174.28 L424.7 173.87 L425 173.6 L425.3 173.53 L425.6 173.63 L425.9 173.77 L426.2 173.84 L426.5 173.82 L426.8 173.72 L427.1 173.6 L427.4 173.47 L427.7 173.36 L428 173.31 L428.3 173.45 L428.6 173.92 L428.9 174.72 L429.2 175.6 L429.5 176.18 L429.8 176.19 L430.1 175.7 L430.4 174.98 L430.7 174.28 L431 173.71 L431.3 173.24 L431.6 172.8 L431.9 172.41 L432.2 172.21 L432.5 172.33 L432.8 172.76 L433.1 173.36 L433.4 173.91 L433.7 174.31 L434 174.57 L434.3 174.81 L434.6 175.12 L434.9 175.5 L435.2 175.82 L435.5 175.99 L435.8 175.95 L436.1 175.78 L436.4 175.6 L436.7 175.51 L437 175.5 L437.3 175.51 L437.6 175.46 L437.9 175.28 L438.2 174.99 L438.5 174.7 L438.8 174.55 L439.1 174.67 L439.4 175.07 L439.7 175.68 L440 176.31 L440.3 176.76 L440.6 176.86 L440.9 176.53 L441.2 175.85 L441.5 174.97 L441.8 174.11 L442.1 173.46 L442.4 173.09 L442.7 172.96 L443 172.91 L443.3 172.8 L443.6 172.61 L443.9 172.49 L444.2 172.6 L444.5 173 L444.8 173.56 L445.1 174.08 L445.4 174.37 L445.7 174.37 L446 174.12 L446.3 173.75 L446.6 173.4 L446.9 173.13 L447.2 172.96 L447.5 172.88 L447.8 172.84 L448.1 172.87 L448.4 173.01 L448.7 173.33 L449 173.83 L449.3 174.47 L449.6 175.07 L449.9 175.47 L450.2 175.6 L450.5 175.57 L450.8 175.52 L451.1 175.42 L451.4 175.22 L451.7 174.9 L452 174.54 L452.3 174.33 L452.6 174.35 L452.9 174.59 L453.2 174.95 L453.5 175.28 L453.8 175.56 L454.1 175.81 L454.4 176.04 L454.7 176.22 L455 176.27 L455.3 176.18 L455.6 176.01 L455.9 175.81 L456.2 175.6 L456.5 175.44 L456.8 175.38 L457.1 175.51 L457.4 175.81 L457.7 176.15 L458 176.37 L458.3 176.35 L458.6 176.13 L458.9 175.89 L459.2 175.84 L459.5 176.01 L459.8 176.29 L460.1 176.5 L460.4 176.49 L460.7 176.21 L461 175.73 L461.3 175.23 L461.6 174.87 L461.9 174.75 L462.2 174.84 L462.5 175.08 L462.8 175.41 L463.1 175.76 L463.4 176.08 L463.7 176.29 L464 176.35 L464.3 176.21 L464.6 175.89 L464.9 175.49 L465.2 175.12 L465.5 174.85 L465.8 174.73 L466.1 174.77 L466.4 175.01 L466.7 175.4 L467 175.81 L467.3 176.06 L467.6 176.06 L467.9 175.86 L468.2 175.56 L468.5 175.24 L468.8 174.97 L469.1 174.81 L469.4 174.83 L469.7 175.06 L470 175.41 L470.3 175.8 L470.6 176.16 L470.9 176.52 L471.2 176.86 L471.5 177.13 L471.8 177.25 L472.1 177.21 L472.4 177.08 L472.7 177 L473 177.03 L473.3 177.15 L473.6 177.23 L473.9 177.2 L474.2 177.06 L474.5 176.88 L474.8 176.78 L475.1 176.84 L475.4 177.07 L475.7 177.38 L476 177.63 L476.3 177.63 L476.6 177.27 L476.9 176.62 L477.2 175.89 L477.5 175.33 L477.8 175.02 L478.1 174.89 L478.4 174.8 L478.7 174.74 L479 174.74 L479.3 174.78 L479.6 174.78 L479.9 174.66 L480.2 174.5 L480.5 174.42 L480.8 174.44 L481.1 174.46 L481.4 174.35 L481.7 174.09 L482 173.82 L482.3 173.7 L482.6 173.84 L482.9 174.18 L483.2 174.58 L483.5 174.87 L483.8 174.92 L484.1 174.74 L484.4 174.43 L484.7 174.14 L485 174.04 L485.3 174.27 L485.6 174.82 L485.9 175.48 L486.2 175.95 L486.5 176.01 L486.8 175.71 L487.1 175.32 L487.4 175.12 L487.7 175.24 L488 175.53 L488.3 175.72 L488.6 175.58 L488.9 174.99 L489.2 174.03 L489.5 172.97 L489.8 172.16 L490.1 171.88 L490.4 172.11 L490.7 172.62 L491 173.1 L491.3 173.33 L491.6 173.33 L491.9 173.2 L492.2 173.08 L492.5 173.04 L492.8 173.07 L493.1 173.06 L493.4 172.91 L493.7 172.64 L494 172.32 L494.3 171.98 L494.6 171.5 L494.9 170.75 L495.2 169.67 L495.5 168.34 L495.8 167.02 L496.1 165.92 L496.4 165.27 L496.7 165.2 L497 165.69 L497.3 166.57 L497.6 167.5 L497.9 168.18 L498.2 168.41 L498.5 168.2 L498.8 167.74 L499.1 167.28 L499.4 167.15 L499.7 167.38 L500 167.92 L500.3 168.75 L500.6 169.92 L500.9 171.44 L501.2 173.25 L501.5 175.21 L501.8 177.18 L502.1 179.08 L502.4 180.93 L502.7 182.68 L503 184.25 L503.3 185.46 L503.6 186.12 L503.9 186.18 L504.2 185.73 L504.5 185.09 L504.8 184.54 L505.1 184.13 L505.4 183.79 L505.7 183.4 L506 182.79 L506.3 181.94 L506.6 180.96 L506.9 180.07 L507.2 179.47 L507.5 179.26 L507.8 179.32 L508.1 179.41 L508.4 179.24 L508.7 178.64 L509 177.6 L509.3 176.23 L509.6 174.7 L509.9 173.27 L510.2 172.11 L510.5 171.23 L510.8 170.45 L511.1 169.58 L511.4 168.54 L511.7 167.46 L512 166.52 L512.3 165.77 L512.6 165.12 L512.9 164.41 L513.2 163.68 L513.5 163.09 L513.8 162.84 L514.1 162.98 L514.4 163.39 L514.7 163.89 L515 164.35 L515.3 164.83 L515.6 165.41 L515.9 166.18 L516.2 167.14 L516.5 168.2 L516.8 169.17 L517.1 169.76 L517.4 169.83 L517.7 169.61 L518 169.62 L518.3 170.3 L518.6 171.74 L518.9 173.66 L519.2 175.6 L519.5 177.25 L519.8 178.58 L520.1 179.65 L520.4 180.5 L520.7 181.18 L521 181.74 L521.3 182.27 L521.6 182.84 L521.9 183.44 L522.2 184.03 L522.5 184.49 L522.8 184.83 L523.1 185.13 L523.4 185.47 L523.7 185.77 L524 185.88 L524.3 185.82 L524.6 185.74 L524.9 185.86 L525.2 186.27 L525.5 186.91 L525.8 187.62 L526.1 188.15 L526.4 188.25 L526.7 187.81 L527 186.81 L527.3 185.39 L527.6 183.74 L527.9 182.11 L528.2 180.72 L528.5 179.66 L528.8 178.92 L529.1 178.37 L529.4 177.91 L529.7 177.5 L530 177.17 L530.3 176.87 L530.6 176.47 L530.9 175.8 L531.2 174.9 L531.5 173.92 L531.8 173 L532.1 172.15 L532.4 171.22 L532.7 170.06 L533 168.63 L533.3 167.1 L533.6 165.79 L533.9 164.94 L534.2 164.57 L534.5 164.49 L534.8 164.48 L535.1 164.44 L535.4 164.39 L535.7 164.4 L536 164.57 L536.3 164.97 L536.6 165.61 L536.9 166.39 L537.2 167.15 L537.5 167.75 L537.8 168.28 L538.1 168.89 L538.4 169.68 L538.7 170.52 L539 171.18 L539.3 171.56 L539.6 171.83 L539.9 172.21 L540.2 172.8 L540.5 173.54 L540.8 174.37 L541.1 175.26 L541.4 176.19 L541.7 177.1 L542 177.93 L542.3 178.62 L542.6 179.1 L542.9 179.23 L543.2 179.01 L543.5 178.7 L543.8 178.72 L544.1 179.35 L544.4 180.61 L544.7 182.18 L545 183.63 L545.3 184.61 L545.6 185 L545.9 184.9 L546.2 184.49 L546.5 183.95 L546.8 183.38 L547.1 182.89 L547.4 182.6 L547.7 182.5 L548 182.38 L548.3 181.97 L548.6 181.16 L548.9 180.05 L549.2 178.86 L549.5 177.73 L549.8 176.67 L550.1 175.67 L550.4 174.76 L550.7 173.98 L551 173.31 L551.3 172.63 L551.6 171.87 L551.9 171.07 L552.2 170.31 L552.5 169.56 L552.8 168.77 L553.1 167.97 L553.4 167.29 L553.7 166.86 L554 166.62 L554.3 166.37 L554.6 165.91 L554.9 165.23 L555.2 164.47 L555.5 163.8 L555.8 163.24 L556.1 162.76 L556.4 162.4 L556.7 162.37 L557 162.88 L557.3 163.95 L557.6 165.36 L557.9 166.77 L558.2 167.84 L558.5 168.47 L558.8 168.81 L559.1 169.22 L559.4 170.03 L559.7 171.35 L560 173.06 L560.3 174.89 L560.6 176.51 L560.9 177.61 L561.2 178.08 L561.5 178.09 L561.8 177.99 L562.1 178.07 L562.4 178.43 L562.7 178.99 L563 179.54 L563.3 179.86 L563.6 179.84 L563.9 179.55 L564.2 179.27 L564.5 179.2 L564.8 179.27 L565.1 179.23 L565.4 178.89 L565.7 178.25 L566 177.39 L566.3 176.46 L566.6 175.62 L566.9 175.03 L567.2 174.77 L567.5 174.74 L567.8 174.75 L568.1 174.61 L568.4 174.26 L568.7 173.85 L569 173.67 L569.3 173.91 L569.6 174.51 L569.9 175.29 L570.2 176.01 L570.5 176.44 L570.8 176.47 L571.1 176.09 L571.4 175.4 L571.7 174.6 L572 173.89 L572.3 173.42 L572.6 173.23 L572.9 173.24 L573.2 173.32 L573.5 173.33 L573.8 173.16 L574.1 172.78 L574.4 172.26 L574.7 171.74 L575 171.37 L575.3 171.24 L575.6 171.3 L575.9 171.46 L576.2 171.56 L576.5 171.52 L576.8 171.35 L577.1 171.18 L577.4 171.18 L577.7 171.47 L578 172.07 L578.3 172.87 L578.6 173.61 L578.9 174.01 L579.2 173.84 L579.5 173.15 L579.8 172.15 L580.1 171.17 L580.4 170.47 L580.7 170.18 L581 170.28 L581.3 170.64 L581.6 171.05 L581.9 171.37 L582.2 171.6 L582.5 171.77 L582.8 171.89 L583.1 171.86 L583.4 171.6 L583.7 171.15 L584 170.58 L584.3 170.1 L584.6 169.9 L584.9 170.12 L585.2 170.75 L585.5 171.53 L585.8 172.2 L586.1 172.56 L586.4 172.58 L586.7 172.33 L587 171.89 L587.3 171.38 L587.6 170.96 L587.9 170.82 L588.2 171.07 L588.5 171.59 L588.8 172.1 L589.1 172.4 L589.4 172.47 L589.7 172.48 L590 172.58 L590.3 172.77 L590.6 172.98 L590.9 173.13 L591.2 173.2 L591.5 173.19 L591.8 173.09 L592.1 172.88 L592.4 172.57 L592.7 172.17 L593 171.75 L593.3 171.44 L593.6 171.43 L593.9 171.85 L594.2 172.62 L594.5 173.53 L594.8 174.26 L595.1 174.56 L595.4 174.32 L595.7 173.67 L596 172.88 L596.3 172.16 L596.6 171.63 L596.9 171.3 L597.2 171.1 L597.5 170.91 L597.8 170.65 L598.1 170.42 L598.4 170.43 L598.7 170.81 L599 171.54 L599.3 172.44 L599.6 173.31 L599.9 174 L600.2 174.39 L600.5 174.37 L600.8 173.94 L601.1 173.21 L601.4 172.4 L601.7 171.69 L602 171.24 L602.3 171.12 L602.6 171.29 L602.9 171.61 L603.2 171.89 L603.5 172.03 L603.8 172.03 L604.1 172.07 L604.4 172.31 L604.7 172.76 L605 173.22 L605.3 173.47 L605.6 173.45 L605.9 173.27 L606.2 173.06 L606.5 172.86 L606.8 172.69 L607.1 172.62 L607.4 172.7 L607.7 172.84 L608 172.8 L608.3 172.42 L608.6 171.76 L608.9 171.08 L609.2 170.58 L609.5 170.29 L609.8 170.09 L610.1 169.95 L610.4 170.04 L610.7 170.54 L611 171.44 L611.3 172.41 L611.6 173.01 L611.9 173.04 L612.2 172.63 L612.5 172.11 L612.8 171.69 L613.1 171.42 L613.4 171.21 L613.7 170.97 L614 170.66 L614.3 170.32 L614.6 170.07 L614.9 170.1 L615.2 170.45 L615.5 170.95 L615.8 171.3 L616.1 171.36 L616.4 171.32 L616.7 171.45 L617 171.88 L617.3 172.45 L617.6 172.91 L617.9 173.2 L618.2 173.47 L618.5 173.88 L618.8 174.32 L619.1 174.54 L619.4 174.35 L619.7 173.79 L620 173.1 L620.3 172.55 L620.6 172.36 L620.9 172.67 L621.2 173.4 L621.5 174.28 L621.8 174.97 L622.1 175.28 L622.4 175.22 L622.7 174.88 L623 174.35 L623.3 173.71 L623.6 173.06 L623.9 172.6 L624.2 172.46 L624.5 172.62 L624.8 172.95 L625.1 173.24 L625.4 173.37 L625.7 173.27 L626 172.95 L626.3 172.47 L626.6 171.96 L626.9 171.6 L627.2 171.61 L627.5 172.07 L627.8 172.87 L628.1 173.75 L628.4 174.47 L628.7 174.9 L629 175 L629.3 174.8 L629.6 174.34 L629.9 173.73 L630.2 173.15 L630.5 172.8 L630.8 172.76 L631.1 172.9 L631.4 173.04 L631.7 173.11 L632 173.18 L632.3 173.34 L632.6 173.53 L632.9 173.6 L633.2 173.46 L633.5 173.14 L633.8 172.83 L634.1 172.63 L634.4 172.54 L634.7 172.5 L635 172.51 L635.3 172.6 L635.6 172.75 L635.9 172.89 L636.2 173 L636.5 173.14 L636.8 173.33 L637.1 173.48 L637.4 173.47 L637.7 173.28 L638 173.07 L638.3 173.05 L638.6 173.27 L638.9 173.63 L639.2 173.94 L639.5 174.1 L639.8 174.09 L640.1 173.94 L640.4 173.73 L640.7 173.59 L641 173.68 L641.3 174.05 L641.6 174.57 L641.9 175 L642.2 175.16 L642.5 175.02 L642.8 174.73 L643.1 174.52 L643.4 174.46 L643.7 174.46 L644 174.3 L644.3 173.79 L644.6 173 L644.9 172.18 L645.2 171.58 L645.5 171.32 L645.8 171.34 L646.1 171.52 L646.4 171.74 L646.7 171.88 L647 171.91 L647.3 171.93 L647.6 172.19 L647.9 172.82 L648.2 173.72 L648.5 174.59 L648.8 175.15 L649.1 175.27 L649.4 175.01 L649.7 174.5 L650 173.91 L650.3 173.45 L650.6 173.36 L650.9 173.73 L651.2 174.42 L651.5 175.04 L651.8 175.27 L652.1 175.05 L652.4 174.54 L652.7 174 L653 173.62 L653.3 173.51 L653.6 173.68 L653.9 174.03 L654.2 174.34 L654.5 174.4 L654.8 174.13 L655.1 173.67 L655.4 173.17 L655.7 172.73 L656 172.35 L656.3 171.96 L656.6 171.53 L656.9 171.09 L657.2 170.75 L657.5 170.63 L657.8 170.84 L658.1 171.4 L658.4 172.23 L658.7 173.1 L659 173.78 L659.3 174.05 L659.6 173.88 L659.9 173.4 L660.2 172.84 L660.5 172.35 L660.8 172.04 L661.1 171.92 L661.4 171.99 L661.7 172.28 L662 172.74 L662.3 173.3 L662.6 173.87 L662.9 174.4 L663.2 174.78 L663.5 174.87 L663.8 174.56 L664.1 173.91 L664.4 173.14 L664.7 172.48 L665 172 L665.3 171.58 L665.6 171.09 L665.9 170.54 L666.2 170.07 L666.5 169.83 L666.8 169.82 L667.1 169.91 L667.4 169.97 L667.7 169.97 L668 170.01 L668.3 170.19 L668.6 170.54 L668.9 170.99 L669.2 171.44 L669.5 171.76 L669.8 171.83 L670.1 171.62 L670.4 171.23 L670.7 170.93 L671 170.89 L671.3 171.08 L671.6 171.31 L671.9 171.39 L672.2 171.25 L672.5 171.01 L672.8 170.78 L673.1 170.64" fill="none" stroke="#ff1a1a" stroke-width="1.3" stroke-linejoin="round" stroke-linecap="round" />
<path d="M391.4 218.18 L391.7 217.95 L392 217.52 L392.3 217.04 L392.6 216.65 L392.9 216.4 L393.2 216.19 L393.5 215.99 L393.8 215.87 L394.1 216.01 L394.4 216.49 L394.7 217.13 L395 217.65 L395.3 217.88 L395.6 217.83 L395.9 217.62 L396.2 217.38 L396.5 217.19 L396.8 217.12 L397.1 217.19 L397.4 217.3 L397.7 217.38 L398 217.39 L398.3 217.45 L398.6 217.7 L398.9 218.18 L399.2 218.79 L399.5 219.4 L399.8 219.92 L400.1 220.28 L400.4 220.39 L400.7 220.16 L401 219.61 L401.3 218.89 L401.6 218.23 L401.9 217.83 L402.2 217.83 L402.5 218.18 L402.8 218.65 L403.1 218.9 L403.4 218.78 L403.7 218.45 L404 218.19 L404.3 218.2 L404.6 218.45 L404.9 218.79 L405.2 219.04 L405.5 219.13 L405.8 219.14 L406.1 219.13 L406.4 219.07 L406.7 218.9 L407 218.68 L407.3 218.55 L407.6 218.59 L407.9 218.73 L408.2 218.84 L408.5 218.9 L408.8 218.92 L409.1 218.9 L409.4 218.75 L409.7 218.42 L410 217.89 L410.3 217.26 L410.6 216.68 L410.9 216.34 L411.2 216.38 L411.5 216.81 L411.8 217.47 L412.1 218.08 L412.4 218.43 L412.7 218.47 L413 218.26 L413.3 217.91 L413.6 217.5 L413.9 217.08 L414.2 216.73 L414.5 216.52 L414.8 216.46 L415.1 216.47 L415.4 216.45 L415.7 216.48 L416 216.67 L416.3 217.09 L416.6 217.62 L416.9 218.07 L417.2 218.34 L417.5 218.44 L417.8 218.43 L418.1 218.37 L418.4 218.24 L418.7 217.98 L419 217.58 L419.3 217.11 L419.6 216.73 L419.9 216.53 L420.2 216.5 L420.5 216.55 L420.8 216.53 L421.1 216.4 L421.4 216.19 L421.7 216.02 L422 216 L422.3 216.18 L422.6 216.53 L422.9 217 L423.2 217.47 L423.5 217.82 L423.8 217.93 L424.1 217.87 L424.4 217.8 L424.7 217.92 L425 218.24 L425.3 218.58 L425.6 218.72 L425.9 218.52 L426.2 217.97 L426.5 217.17 L426.8 216.34 L427.1 215.76 L427.4 215.66 L427.7 216.05 L428 216.73 L428.3 217.47 L428.6 218.08 L428.9 218.44 L429.2 218.47 L429.5 218.18 L429.8 217.74 L430.1 217.4 L430.4 217.42 L430.7 217.86 L431 218.58 L431.3 219.31 L431.6 219.84 L431.9 220.07 L432.2 220.03 L432.5 219.83 L432.8 219.56 L433.1 219.26 L433.4 218.97 L433.7 218.77 L434 218.82 L434.3 219.17 L434.6 219.65 L434.9 219.91 L435.2 219.76 L435.5 219.35 L435.8 219.03 L436.1 219.05 L436.4 219.39 L436.7 219.88 L437 220.34 L437.3 220.65 L437.6 220.76 L437.9 220.65 L438.2 220.37 L438.5 220.01 L438.8 219.68 L439.1 219.42 L439.4 219.27 L439.7 219.34 L440 219.73 L440.3 220.38 L440.6 221 L440.9 221.22 L441.2 220.8 L441.5 219.9 L441.8 218.92 L442.1 218.23 L442.4 217.93 L442.7 217.87 L443 217.81 L443.3 217.58 L443.6 217.22 L443.9 216.89 L444.2 216.73 L444.5 216.68 L444.8 216.59 L445.1 216.33 L445.4 215.92 L445.7 215.51 L446 215.27 L446.3 215.25 L446.6 215.37 L446.9 215.5 L447.2 215.53 L447.5 215.44 L447.8 215.31 L448.1 215.26 L448.4 215.36 L448.7 215.65 L449 216 L449.3 216.25 L449.6 216.28 L449.9 216.15 L450.2 215.99 L450.5 215.92 L450.8 215.93 L451.1 215.91 L451.4 215.79 L451.7 215.57 L452 215.35 L452.3 215.31 L452.6 215.52 L452.9 215.95 L453.2 216.44 L453.5 216.86 L453.8 217.15 L454.1 217.31 L454.4 217.39 L454.7 217.45 L455 217.5 L455.3 217.56 L455.6 217.64 L455.9 217.82 L456.2 218.16 L456.5 218.6 L456.8 219.04 L457.1 219.35 L457.4 219.52 L457.7 219.57 L458 219.59 L458.3 219.67 L458.6 219.88 L458.9 220.17 L459.2 220.46 L459.5 220.65 L459.8 220.72 L460.1 220.69 L460.4 220.61 L460.7 220.52 L461 220.46 L461.3 220.53 L461.6 220.75 L461.9 221.01 L462.2 221.17 L462.5 221.22 L462.8 221.3 L463.1 221.5 L463.4 221.69 L463.7 221.63 L464 221.16 L464.3 220.39 L464.6 219.58 L464.9 218.99 L465.2 218.67 L465.5 218.51 L465.8 218.43 L466.1 218.45 L466.4 218.75 L466.7 219.39 L467 220.27 L467.3 221.08 L467.6 221.49 L467.9 221.38 L468.2 220.86 L468.5 220.2 L468.8 219.67 L469.1 219.45 L469.4 219.51 L469.7 219.64 L470 219.57 L470.3 219.13 L470.6 218.38 L470.9 217.54 L471.2 216.87 L471.5 216.51 L471.8 216.44 L472.1 216.5 L472.4 216.59 L472.7 216.74 L473 217.07 L473.3 217.69 L473.6 218.54 L473.9 219.4 L474.2 220.04 L474.5 220.28 L474.8 220.15 L475.1 219.85 L475.4 219.54 L475.7 219.31 L476 219.15 L476.3 219.02 L476.6 218.86 L476.9 218.65 L477.2 218.39 L477.5 218.15 L477.8 217.96 L478.1 217.77 L478.4 217.49 L478.7 217.12 L479 216.75 L479.3 216.55 L479.6 216.58 L479.9 216.81 L480.2 217.15 L480.5 217.52 L480.8 217.87 L481.1 218.1 L481.4 218.14 L481.7 217.95 L482 217.54 L482.3 217.01 L482.6 216.52 L482.9 216.25 L483.2 216.3 L483.5 216.6 L483.8 216.94 L484.1 217.12 L484.4 217.1 L484.7 217.03 L485 217.11 L485.3 217.41 L485.6 217.85 L485.9 218.32 L486.2 218.7 L486.5 218.87 L486.8 218.72 L487.1 218.28 L487.4 217.71 L487.7 217.24 L488 217.02 L488.3 217.07 L488.6 217.22 L488.9 217.29 L489.2 217.17 L489.5 216.86 L489.8 216.37 L490.1 215.76 L490.4 215.18 L490.7 214.78 L491 214.61 L491.3 214.63 L491.6 214.76 L491.9 215.03 L492.2 215.46 L492.5 215.98 L492.8 216.36 L493.1 216.46 L493.4 216.25 L493.7 215.89 L494 215.58 L494.3 215.41 L494.6 215.31 L494.9 215.17 L495.2 214.75 L495.5 213.86 L495.8 212.46 L496.1 210.7 L496.4 208.8 L496.7 206.88 L497 205 L497.3 203.18 L497.6 201.59 L497.9 200.44 L498.2 199.88 L498.5 199.88 L498.8 200.23 L499.1 200.67 L499.4 201.19 L499.7 201.86 L500 202.78 L500.3 203.94 L500.6 205.21 L500.9 206.48 L501.2 207.83 L501.5 209.41 L501.8 211.35 L502.1 213.65 L502.4 216.22 L502.7 218.9 L503 221.57 L503.3 224.11 L503.6 226.42 L503.9 228.42 L504.2 230.06 L504.5 231.33 L504.8 232.3 L505.1 232.98 L505.4 233.32 L505.7 233.22 L506 232.69 L506.3 231.85 L506.6 230.83 L506.9 229.65 L507.2 228.18 L507.5 226.31 L507.8 224.13 L508.1 221.95 L508.4 220.01 L508.7 218.39 L509 216.99 L509.3 215.7 L509.6 214.52 L509.9 213.33 L510.2 212.22 L510.5 211.31 L510.8 210.5 L511.1 209.62 L511.4 208.44 L511.7 206.92 L512 205.13 L512.3 203.3 L512.6 201.71 L512.9 200.62 L513.2 200.18 L513.5 200.35 L513.8 201.05 L514.1 202.06 L514.4 203.26 L514.7 204.67 L515 206.3 L515.3 208.15 L515.6 210.25 L515.9 212.56 L516.2 214.98 L516.5 217.37 L516.8 219.6 L517.1 221.54 L517.4 223.11 L517.7 224.31 L518 225.15 L518.3 225.6 L518.6 225.67 L518.9 225.45 L519.2 225.04 L519.5 224.43 L519.8 223.54 L520.1 222.25 L520.4 220.51 L520.7 218.38 L521 216.14 L521.3 214.14 L521.6 212.76 L521.9 212.27 L522.2 212.71 L522.5 213.86 L522.8 215.38 L523.1 216.91 L523.4 218.26 L523.7 219.4 L524 220.39 L524.3 221.35 L524.6 222.41 L524.9 223.71 L525.2 225.34 L525.5 227.28 L525.8 229.4 L526.1 231.5 L526.4 233.35 L526.7 234.76 L527 235.6 L527.3 235.89 L527.6 235.73 L527.9 235.21 L528.2 234.43 L528.5 233.42 L528.8 232.11 L529.1 230.53 L529.4 228.74 L529.7 226.81 L530 224.74 L530.3 222.51 L530.6 220.27 L530.9 218.25 L531.2 216.61 L531.5 215.27 L531.8 213.88 L532.1 212.17 L532.4 210.28 L532.7 208.41 L533 206.66 L533.3 205.06 L533.6 203.6 L533.9 202.36 L534.2 201.45 L534.5 200.93 L534.8 200.74 L535.1 200.85 L535.4 201.29 L535.7 202.18 L536 203.47 L536.3 204.98 L536.6 206.56 L536.9 208.12 L537.2 209.67 L537.5 211.29 L537.8 213.09 L538.1 215.14 L538.4 217.32 L538.7 219.41 L539 221.25 L539.3 222.8 L539.6 224.04 L539.9 224.91 L540.2 225.26 L540.5 224.92 L540.8 223.96 L541.1 222.53 L541.4 220.84 L541.7 219.07 L542 217.4 L542.3 215.96 L542.6 214.85 L542.9 214.19 L543.2 214.04 L543.5 214.24 L543.8 214.51 L544.1 214.8 L544.4 215.2 L544.7 215.85 L545 216.86 L545.3 218.26 L545.6 220.02 L545.9 222 L546.2 223.95 L546.5 225.64 L546.8 226.96 L547.1 228.06 L547.4 229.12 L547.7 230.21 L548 231.22 L548.3 231.94 L548.6 232.2 L548.9 231.97 L549.2 231.34 L549.5 230.53 L549.8 229.65 L550.1 228.62 L550.4 227.24 L550.7 225.42 L551 223.24 L551.3 220.96 L551.6 218.79 L551.9 216.85 L552.2 215.14 L552.5 213.68 L552.8 212.42 L553.1 211.15 L553.4 209.9 L553.7 208.74 L554 207.71 L554.3 206.74 L554.6 205.73 L554.9 204.57 L555.2 203.33 L555.5 202.19 L555.8 201.38 L556.1 201.02 L556.4 201.13 L556.7 201.81 L557 202.98 L557.3 204.43 L557.6 205.94 L557.9 207.46 L558.2 209.11 L558.5 211.06 L558.8 213.47 L559.1 216.31 L559.4 219.36 L559.7 222.24 L560 224.57 L560.3 226.23 L560.6 227.38 L560.9 228.36 L561.2 229.43 L561.5 230.5 L561.8 231.2 L562.1 231.27 L562.4 230.72 L562.7 229.75 L563 228.64 L563.3 227.6 L563.6 226.67 L563.9 225.86 L564.2 225.14 L564.5 224.49 L564.8 223.88 L565.1 223.23 L565.4 222.5 L565.7 221.7 L566 220.8 L566.3 219.93 L566.6 219.11 L566.9 218.29 L567.2 217.4 L567.5 216.43 L567.8 215.48 L568.1 214.69 L568.4 214.17 L568.7 213.95 L569 213.97 L569.3 214.13 L569.6 214.28 L569.9 214.4 L570.2 214.54 L570.5 214.79 L570.8 215.09 L571.1 215.27 L571.4 215.22 L571.7 215.04 L572 214.93 L572.3 215.06 L572.6 215.5 L572.9 216.15 L573.2 216.77 L573.5 217.01 L573.8 216.65 L574.1 215.75 L574.4 214.61 L574.7 213.56 L575 212.81 L575.3 212.44 L575.6 212.41 L575.9 212.67 L576.2 213.06 L576.5 213.39 L576.8 213.57 L577.1 213.56 L577.4 213.39 L577.7 213.11 L578 212.8 L578.3 212.53 L578.6 212.37 L578.9 212.35 L579.2 212.52 L579.5 212.91 L579.8 213.46 L580.1 213.95 L580.4 214.14 L580.7 213.95 L581 213.49 L581.3 212.98 L581.6 212.61 L581.9 212.47 L582.2 212.58 L582.5 212.85 L582.8 213.17 L583.1 213.38 L583.4 213.4 L583.7 213.26 L584 213.06 L584.3 212.92 L584.6 212.85 L584.9 212.82 L585.2 212.82 L585.5 212.88 L585.8 213.06 L586.1 213.43 L586.4 213.97 L586.7 214.59 L587 215.15 L587.3 215.53 L587.6 215.63 L587.9 215.46 L588.2 215.12 L588.5 214.74 L588.8 214.52 L589.1 214.51 L589.4 214.68 L589.7 214.91 L590 215.12 L590.3 215.27 L590.6 215.33 L590.9 215.26 L591.2 215.07 L591.5 214.78 L591.8 214.45 L592.1 214.14 L592.4 213.88 L592.7 213.73 L593 213.7 L593.3 213.84 L593.6 214.13 L593.9 214.49 L594.2 214.81 L594.5 215.02 L594.8 215.17 L595.1 215.28 L595.4 215.28 L595.7 215.07 L596 214.73 L596.3 214.49 L596.6 214.55 L596.9 214.86 L597.2 215.21 L597.5 215.43 L597.8 215.54 L598.1 215.7 L598.4 215.98 L598.7 216.34 L599 216.6 L599.3 216.63 L599.6 216.39 L599.9 215.94 L600.2 215.45 L600.5 215.15 L600.8 215.19 L601.1 215.51 L601.4 215.86 L601.7 215.98 L602 215.76 L602.3 215.28 L602.6 214.7 L602.9 214.17 L603.2 213.76 L603.5 213.51 L603.8 213.46 L604.1 213.6 L604.4 213.93 L604.7 214.42 L605 214.92 L605.3 215.2 L605.6 215.12 L605.9 214.82 L606.2 214.56 L606.5 214.63 L606.8 215.06 L607.1 215.71 L607.4 216.33 L607.7 216.71 L608 216.74 L608.3 216.43 L608.6 215.94 L608.9 215.47 L609.2 215.15 L609.5 215.02 L609.8 215.09 L610.1 215.32 L610.4 215.68 L610.7 216.06 L611 216.38 L611.3 216.53 L611.6 216.45 L611.9 216.12 L612.2 215.65 L612.5 215.23 L612.8 214.96 L613.1 214.83 L613.4 214.78 L613.7 214.76 L614 214.82 L614.3 214.98 L614.6 215.18 L614.9 215.31 L615.2 215.31 L615.5 215.26 L615.8 215.41 L616.1 215.91 L616.4 216.71 L616.7 217.49 L617 217.96 L617.3 217.96 L617.6 217.54 L617.9 216.84 L618.2 216.04 L618.5 215.28 L618.8 214.77 L619.1 214.69 L619.4 215.09 L619.7 215.81 L620 216.57 L620.3 217.14 L620.6 217.43 L620.9 217.46 L621.2 217.28 L621.5 216.96 L621.8 216.55 L622.1 216.14 L622.4 215.81 L622.7 215.7 L623 215.84 L623.3 216.16 L623.6 216.45 L623.9 216.61 L624.2 216.6 L624.5 216.48 L624.8 216.37 L625.1 216.38 L625.4 216.61 L625.7 216.99 L626 217.37 L626.3 217.59 L626.6 217.6 L626.9 217.46 L627.2 217.23 L627.5 216.97 L627.8 216.77 L628.1 216.68 L628.4 216.67 L628.7 216.63 L629 216.49 L629.3 216.28 L629.6 216.15 L629.9 216.15 L630.2 216.27 L630.5 216.44 L630.8 216.57 L631.1 216.55 L631.4 216.36 L631.7 216.09 L632 215.82 L632.3 215.59 L632.6 215.41 L632.9 215.37 L633.2 215.52 L633.5 215.86 L633.8 216.23 L634.1 216.53 L634.4 216.73 L634.7 216.81 L635 216.75 L635.3 216.53 L635.6 216.26 L635.9 216.14 L636.2 216.35 L636.5 216.86 L636.8 217.41 L637.1 217.67 L637.4 217.48 L637.7 216.88 L638 216.11 L638.3 215.43 L638.6 215.05 L638.9 215.06 L639.2 215.36 L639.5 215.81 L639.8 216.21 L640.1 216.48 L640.4 216.6 L640.7 216.58 L641 216.43 L641.3 216.24 L641.6 216.1 L641.9 216.05 L642.2 216.11 L642.5 216.25 L642.8 216.48 L643.1 216.78 L643.4 217.1 L643.7 217.36 L644 217.52 L644.3 217.6 L644.6 217.66 L644.9 217.74 L645.2 217.77 L645.5 217.59 L645.8 217.05 L646.1 216.25 L646.4 215.56 L646.7 215.38 L647 215.82 L647.3 216.69 L647.6 217.62 L647.9 218.38 L648.2 218.94 L648.5 219.43 L648.8 219.92 L649.1 220.26 L649.4 220.31 L649.7 220.06 L650 219.68 L650.3 219.29 L650.6 218.87 L650.9 218.36 L651.2 217.81 L651.5 217.39 L651.8 217.21 L652.1 217.22 L652.4 217.36 L652.7 217.55 L653 217.77 L653.3 217.97 L653.6 218.12 L653.9 218.2 L654.2 218.24 L654.5 218.23 L654.8 218.11 L655.1 217.83 L655.4 217.49 L655.7 217.26 L656 217.34 L656.3 217.74 L656.6 218.29 L656.9 218.71 L657.2 218.81 L657.5 218.54 L657.8 218.04 L658.1 217.53 L658.4 217.19 L658.7 217.14 L659 217.46 L659.3 218.13 L659.6 218.97 L659.9 219.69 L660.2 220.04 L660.5 219.97 L660.8 219.65 L661.1 219.32 L661.4 219.14 L661.7 219.12 L662 219.14 L662.3 219.08 L662.6 218.88 L662.9 218.64 L663.2 218.54 L663.5 218.74 L663.8 219.17 L664.1 219.57 L664.4 219.66 L664.7 219.35 L665 218.75 L665.3 218.08 L665.6 217.53 L665.9 217.24 L666.2 217.25 L666.5 217.47 L666.8 217.75 L667.1 217.92 L667.4 217.9 L667.7 217.77 L668 217.65 L668.3 217.63 L668.6 217.68 L668.9 217.74 L669.2 217.81 L669.5 217.92 L669.8 218.12 L670.1 218.32 L670.4 218.33 L670.7 217.94 L671 217.08 L671.3 215.95 L671.6 214.95 L671.9 214.47 L672.2 214.61 L672.5 215.15 L672.8 215.74 L673.1 216.1" fill="none" stroke="#000" stroke-width="1.3" stroke-linejoin="round" stroke-linecap="round" />
<rect x="390.8" y="138.2" width="282.5" height="104.4" fill="none" stroke="#000" stroke-width="1.4" />
<line x1="406.5" y1="242.6" x2="406.5" y2="246.2" stroke="#000" stroke-width="1.0" />
<line x1="437.9" y1="242.6" x2="437.9" y2="246.2" stroke="#000" stroke-width="1.0" />
<line x1="469.3" y1="242.6" x2="469.3" y2="246.2" stroke="#000" stroke-width="1.0" />
<line x1="500.7" y1="242.6" x2="500.7" y2="246.2" stroke="#000" stroke-width="1.0" />
<line x1="532.1" y1="242.6" x2="532.1" y2="246.2" stroke="#000" stroke-width="1.0" />
<line x1="563.5" y1="242.6" x2="563.5" y2="246.2" stroke="#000" stroke-width="1.0" />
<line x1="594.9" y1="242.6" x2="594.9" y2="246.2" stroke="#000" stroke-width="1.0" />
<line x1="626.3" y1="242.6" x2="626.3" y2="246.2" stroke="#000" stroke-width="1.0" />
<line x1="657.7" y1="242.6" x2="657.7" y2="246.2" stroke="#000" stroke-width="1.0" />
<line x1="390.8" y1="242.6" x2="390.8" y2="244.8" stroke="#000" stroke-width="0.9" />
<line x1="422.2" y1="242.6" x2="422.2" y2="244.8" stroke="#000" stroke-width="0.9" />
<line x1="453.6" y1="242.6" x2="453.6" y2="244.8" stroke="#000" stroke-width="0.9" />
<line x1="485" y1="242.6" x2="485" y2="244.8" stroke="#000" stroke-width="0.9" />
<line x1="516.4" y1="242.6" x2="516.4" y2="244.8" stroke="#000" stroke-width="0.9" />
<line x1="547.8" y1="242.6" x2="547.8" y2="244.8" stroke="#000" stroke-width="0.9" />
<line x1="579.2" y1="242.6" x2="579.2" y2="244.8" stroke="#000" stroke-width="0.9" />
<line x1="610.6" y1="242.6" x2="610.6" y2="244.8" stroke="#000" stroke-width="0.9" />
<line x1="642" y1="242.6" x2="642" y2="244.8" stroke="#000" stroke-width="0.9" />
<line x1="673.4" y1="242.6" x2="673.4" y2="244.8" stroke="#000" stroke-width="0.9" />
<text x="395.96" y="256" font-family="Liberation Sans" font-weight="bold" font-size="11.8" fill="#000" stroke="#000" stroke-width="0.18" stroke-linejoin="round" text-anchor="start" textLength="21.08" lengthAdjust="spacing" xml:space="preserve"><tspan>318</tspan></text>
<text x="427.36" y="256" font-family="Liberation Sans" font-weight="bold" font-size="11.8" fill="#000" stroke="#000" stroke-width="0.18" stroke-linejoin="round" text-anchor="start" textLength="21.08" lengthAdjust="spacing" xml:space="preserve"><tspan>320</tspan></text>
<text x="458.76" y="256" font-family="Liberation Sans" font-weight="bold" font-size="11.8" fill="#000" stroke="#000" stroke-width="0.18" stroke-linejoin="round" text-anchor="start" textLength="21.08" lengthAdjust="spacing" xml:space="preserve"><tspan>322</tspan></text>
<text x="490.16" y="256" font-family="Liberation Sans" font-weight="bold" font-size="11.8" fill="#000" stroke="#000" stroke-width="0.18" stroke-linejoin="round" text-anchor="start" textLength="21.08" lengthAdjust="spacing" xml:space="preserve"><tspan>324</tspan></text>
<text x="521.56" y="256" font-family="Liberation Sans" font-weight="bold" font-size="11.8" fill="#000" stroke="#000" stroke-width="0.18" stroke-linejoin="round" text-anchor="start" textLength="21.08" lengthAdjust="spacing" xml:space="preserve"><tspan>326</tspan></text>
<text x="552.96" y="256" font-family="Liberation Sans" font-weight="bold" font-size="11.8" fill="#000" stroke="#000" stroke-width="0.18" stroke-linejoin="round" text-anchor="start" textLength="21.08" lengthAdjust="spacing" xml:space="preserve"><tspan>328</tspan></text>
<text x="584.36" y="256" font-family="Liberation Sans" font-weight="bold" font-size="11.8" fill="#000" stroke="#000" stroke-width="0.18" stroke-linejoin="round" text-anchor="start" textLength="21.08" lengthAdjust="spacing" xml:space="preserve"><tspan>330</tspan></text>
<text x="615.76" y="256" font-family="Liberation Sans" font-weight="bold" font-size="11.8" fill="#000" stroke="#000" stroke-width="0.18" stroke-linejoin="round" text-anchor="start" textLength="21.08" lengthAdjust="spacing" xml:space="preserve"><tspan>332</tspan></text>
<text x="647.16" y="256" font-family="Liberation Sans" font-weight="bold" font-size="11.8" fill="#000" stroke="#000" stroke-width="0.18" stroke-linejoin="round" text-anchor="start" textLength="21.08" lengthAdjust="spacing" xml:space="preserve"><tspan>334</tspan></text>
<text x="395.6" y="151.6" font-family="Liberation Sans" font-weight="bold" font-size="10" fill="#000" stroke="#000" stroke-width="0.18" stroke-linejoin="round" text-anchor="start" textLength="64.2" lengthAdjust="spacing" xml:space="preserve"><tspan>DMPO-OOH</tspan></text>
<text x="588.2" y="166.1" font-family="Liberation Sans" font-weight="bold" font-size="10.4" fill="#000" stroke="#000" stroke-width="0.18" stroke-linejoin="round" text-anchor="start" textLength="83" lengthAdjust="spacing" xml:space="preserve"><tspan>0.5%MoO</tspan><tspan dy="2.08" font-size="5.2">x</tspan><tspan dy="-2.08">-TiO</tspan><tspan dy="2.08" font-size="5.2">2</tspan></text>
<text x="619.9" y="211" font-family="Liberation Sans" font-weight="bold" font-size="10.4" fill="#000" stroke="#000" stroke-width="0.18" stroke-linejoin="round" text-anchor="start" textLength="51.3" lengthAdjust="spacing" xml:space="preserve"><tspan>Bare TiO</tspan><tspan dy="2.08" font-size="5.2">2</tspan></text>
<text x="468.2" y="274.4" font-family="Liberation Sans" font-weight="bold" font-size="12.4" fill="#000" stroke="#000" stroke-width="0.18" stroke-linejoin="round" text-anchor="start" textLength="127.8" lengthAdjust="spacing" xml:space="preserve"><tspan>Magnetic Field (mT)</tspan></text>
<path d="M32 345.42 L32.35 345.48 L32.7 345.59 L33.05 345.63 L33.4 345.56 L33.75 345.37 L34.1 345.04 L34.45 344.7 L34.8 344.51 L35.15 344.59 L35.5 344.91 L35.85 345.27 L36.2 345.53 L36.55 345.67 L36.9 345.73 L37.25 345.7 L37.6 345.56 L37.95 345.32 L38.3 345.13 L38.65 345.09 L39 345.16 L39.35 345.29 L39.7 345.39 L40.05 345.45 L40.4 345.47 L40.75 345.46 L41.1 345.46 L41.45 345.5 L41.8 345.52 L42.15 345.47 L42.5 345.36 L42.85 345.28 L43.2 345.3 L43.55 345.41 L43.9 345.45 L44.25 345.29 L44.6 344.93 L44.95 344.56 L45.3 344.38 L45.65 344.5 L46 344.86 L46.35 345.24 L46.7 345.45 L47.05 345.44 L47.4 345.34 L47.75 345.28 L48.1 345.31 L48.45 345.35 L48.8 345.29 L49.15 345.07 L49.5 344.74 L49.85 344.43 L50.2 344.22 L50.55 344.09 L50.9 344.01 L51.25 344.04 L51.6 344.24 L51.95 344.56 L52.3 344.88 L52.65 345.13 L53 345.28 L53.35 345.39 L53.7 345.53 L54.05 345.76 L54.4 346.05 L54.75 346.28 L55.1 346.31 L55.45 346.11 L55.8 345.76 L56.15 345.42 L56.5 345.24 L56.85 345.31 L57.2 345.59 L57.55 345.95 L57.9 346.21 L58.25 346.24 L58.6 346.02 L58.95 345.66 L59.3 345.32 L59.65 345.13 L60 345.12 L60.35 345.2 L60.7 345.3 L61.05 345.39 L61.4 345.51 L61.75 345.75 L62.1 346.07 L62.45 346.37 L62.8 346.52 L63.15 346.55 L63.5 346.6 L63.85 346.8 L64.2 347.11 L64.55 347.37 L64.9 347.51 L65.25 347.56 L65.6 347.58 L65.95 347.64 L66.3 347.75 L66.65 347.95 L67 348.28 L67.35 348.77 L67.7 349.38 L68.05 349.99 L68.4 350.49 L68.75 350.82 L69.1 351.02 L69.45 351.19 L69.8 351.37 L70.15 351.58 L70.5 351.76 L70.85 351.89 L71.2 351.95 L71.55 351.97 L71.9 352.05 L72.25 352.22 L72.6 352.41 L72.95 352.49 L73.3 352.41 L73.65 352.23 L74 352.06 L74.35 351.96 L74.7 351.92 L75.05 351.92 L75.4 351.94 L75.75 351.96 L76.1 351.97 L76.45 352 L76.8 352.04 L77.15 352.06 L77.5 352.07 L77.85 352.09 L78.2 352.13 L78.55 352.2 L78.9 352.34 L79.25 352.53 L79.6 352.72 L79.95 352.87 L80.3 352.93 L80.65 352.89 L81 352.73 L81.35 352.47 L81.7 352.22 L82.05 352.1 L82.4 352.17 L82.75 352.33 L83.1 352.46 L83.45 352.51 L83.8 352.52 L84.15 352.57 L84.5 352.68 L84.85 352.79 L85.2 352.87 L85.55 352.92 L85.9 352.98 L86.25 353.1 L86.6 353.27 L86.95 353.42 L87.3 353.48 L87.65 353.49 L88 353.52 L88.35 353.59 L88.7 353.63 L89.05 353.58 L89.4 353.45 L89.75 353.29 L90.1 353.09 L90.45 352.88 L90.8 352.68 L91.15 352.51 L91.5 352.39 L91.85 352.38 L92.2 352.5 L92.55 352.74 L92.9 353.03 L93.25 353.27 L93.6 353.41 L93.95 353.46 L94.3 353.48 L94.65 353.53 L95 353.64 L95.35 353.79 L95.7 353.98 L96.05 354.23 L96.4 354.54 L96.75 354.85 L97.1 355.07 L97.45 355.19 L97.8 355.26 L98.15 355.3 L98.5 355.28 L98.85 355.18 L99.2 355.08 L99.55 355.1 L99.9 355.23 L100.25 355.31 L100.6 355.17 L100.95 354.88 L101.3 354.62 L101.65 354.56 L102 354.71 L102.35 354.98 L102.7 355.16 L103.05 355.15 L103.4 354.95 L103.75 354.66 L104.1 354.44 L104.45 354.39 L104.8 354.49 L105.15 354.66 L105.5 354.84 L105.85 355.07 L106.2 355.36 L106.55 355.59 L106.9 355.65 L107.25 355.52 L107.6 355.27 L107.95 354.97 L108.3 354.66 L108.65 354.38 L109 354.21 L109.35 354.25 L109.7 354.54 L110.05 355.01 L110.4 355.52 L110.75 355.89 L111.1 355.97 L111.45 355.76 L111.8 355.42 L112.15 355.17 L112.5 355.15 L112.85 355.35 L113.2 355.68 L113.55 355.96 L113.9 356.05 L114.25 355.98 L114.6 355.9 L114.95 355.97 L115.3 356.15 L115.65 356.33 L116 356.38 L116.35 356.25 L116.7 356.07 L117.05 356.01 L117.4 356.18 L117.75 356.57 L118.1 357.05 L118.45 357.47 L118.8 357.74 L119.15 357.82 L119.5 357.71 L119.85 357.55 L120.2 357.5 L120.55 357.6 L120.9 357.75 L121.25 357.86 L121.6 357.93 L121.95 358.09 L122.3 358.33 L122.65 358.52 L123 358.53 L123.35 358.36 L123.7 358.12 L124.05 357.95 L124.4 357.92 L124.75 358.03 L125.1 358.25 L125.45 358.52 L125.8 358.77 L126.15 358.95 L126.5 359.04 L126.85 358.99 L127.2 358.75 L127.55 358.38 L127.9 358.04 L128.25 357.91 L128.6 358.09 L128.95 358.46 L129.3 358.85 L129.65 359.11 L130 359.24 L130.35 359.3 L130.7 359.37 L131.05 359.5 L131.4 359.72 L131.75 360.08 L132.1 360.54 L132.45 360.98 L132.8 361.24 L133.15 361.29 L133.5 361.2 L133.85 361.04 L134.2 360.86 L134.55 360.71 L134.9 360.65 L135.25 360.74 L135.6 360.89 L135.95 360.94 L136.3 360.77 L136.65 360.46 L137 360.19 L137.35 360.02 L137.7 359.94 L138.05 359.88 L138.4 359.87 L138.75 359.96 L139.1 360.13 L139.45 360.31 L139.8 360.44 L140.15 360.55 L140.5 360.67 L140.85 360.76 L141.2 360.76 L141.55 360.68 L141.9 360.59 L142.25 360.57 L142.6 360.63 L142.95 360.74 L143.3 360.85 L143.65 360.94 L144 360.97 L144.35 360.9 L144.7 360.73 L145.05 360.46 L145.4 360.15 L145.75 359.78 L146.1 359.38 L146.45 359.03 L146.8 358.83 L147.15 358.86 L147.5 359.02 L147.85 359.19 L148.2 359.25 L148.55 359.11 L148.9 358.73 L149.25 358.12 L149.6 357.34 L149.95 356.52 L150.3 355.87 L150.65 355.51 L151 355.42 L151.35 355.38 L151.7 355.15 L152.05 354.64 L152.4 353.98 L152.75 353.38 L153.1 352.92 L153.45 352.58 L153.8 352.35 L154.15 352.19 L154.5 352.07 L154.85 351.86 L155.2 351.42 L155.55 350.74 L155.9 349.97 L156.25 349.3 L156.6 348.9 L156.95 348.81 L157.3 348.94 L157.65 349.12 L158 349.19 L158.35 349.07 L158.7 348.85 L159.05 348.66 L159.4 348.63 L159.75 348.78 L160.1 349.03 L160.45 349.34 L160.8 349.68 L161.15 350.05 L161.5 350.44 L161.85 350.87 L162.2 351.3 L162.55 351.73 L162.9 352.16 L163.25 352.59 L163.6 352.94 L163.95 353.15 L164.3 353.25 L164.65 353.3 L165 353.33 L165.35 353.39 L165.7 353.51 L166.05 353.68 L166.4 353.81 L166.75 353.81 L167.1 353.72 L167.45 353.68 L167.8 353.89 L168.15 354.42 L168.5 355.16 L168.85 355.9 L169.2 356.43 L169.55 356.62 L169.9 356.51 L170.25 356.26 L170.6 356.16 L170.95 356.34 L171.3 356.76 L171.65 357.25 L172 357.62 L172.35 357.82 L172.7 357.88 L173.05 357.97 L173.4 358.2 L173.75 358.55 L174.1 358.88 L174.45 359.11 L174.8 359.29 L175.15 359.48 L175.5 359.69 L175.85 359.89 L176.2 360.12 L176.55 360.42 L176.9 360.81 L177.25 361.17 L177.6 361.44 L177.95 361.57 L178.3 361.59 L178.65 361.55 L179 361.59 L179.35 361.8 L179.7 362.14 L180.05 362.52 L180.4 362.86 L180.75 363.18 L181.1 363.5 L181.45 363.75 L181.8 363.88 L182.15 363.89 L182.5 363.81 L182.85 363.78 L183.2 363.9 L183.55 364.24 L183.9 364.72 L184.25 365.22 L184.6 365.7 L184.95 366.11 L185.3 366.39 L185.65 366.5 L186 366.47 L186.35 366.45 L186.7 366.59 L187.05 366.95 L187.4 367.42 L187.75 367.89 L188.1 368.19 L188.45 368.23 L188.8 367.98 L189.15 367.53 L189.5 367.05 L189.85 366.74 L190.2 366.77 L190.55 367.17 L190.9 367.79 L191.25 368.37 L191.6 368.7 L191.95 368.69 L192.3 368.38 L192.65 367.93 L193 367.48 L193.35 367.2 L193.7 367.12 L194.05 367.19 L194.4 367.29 L194.75 367.37 L195.1 367.42 L195.45 367.42 L195.8 367.28 L196.15 367.01 L196.5 366.79 L196.85 366.77 L197.2 366.94 L197.55 367.13 L197.9 367.14 L198.25 366.95 L198.6 366.66 L198.95 366.4 L199.3 366.22 L199.65 366.06 L200 365.94 L200.35 365.93 L200.7 366.08 L201.05 366.31 L201.4 366.48 L201.75 366.53 L202.1 366.46 L202.45 366.29 L202.8 366.02 L203.15 365.66 L203.5 365.25 L203.85 364.88 L204.2 364.68 L204.55 364.73 L204.9 364.97 L205.25 365.18 L205.6 365.1 L205.95 364.64 L206.3 363.92 L206.65 363.26 L207 362.88 L207.35 362.73 L207.7 362.63 L208.05 362.47 L208.4 362.3 L208.75 362.23 L209.1 362.2 L209.45 362.09 L209.8 361.84 L210.15 361.51 L210.5 361.25 L210.85 361.09 L211.2 360.97 L211.55 360.82 L211.9 360.58 L212.25 360.29 L212.6 360.02 L212.95 359.86 L213.3 359.81 L213.65 359.86 L214 359.98 L214.35 360.05 L214.7 359.96 L215.05 359.62 L215.4 359.13 L215.75 358.65 L216.1 358.29 L216.45 358.09 L216.8 358.02 L217.15 358.02 L217.5 358.02 L217.85 358.01 L218.2 358 L218.55 358.03 L218.9 358.13 L219.25 358.29 L219.6 358.45 L219.95 358.58 L220.3 358.7 L220.65 358.82 L221 358.92 L221.35 358.92 L221.7 358.79 L222.05 358.53 L222.4 358.23 L222.75 357.95 L223.1 357.71 L223.45 357.51 L223.8 357.46 L224.15 357.63 L224.5 357.94 L224.85 358.16 L225.2 358.11 L225.55 357.83 L225.9 357.57 L226.25 357.51 L226.6 357.58 L226.95 357.58 L227.3 357.39 L227.65 357.1 L228 356.93 L228.35 357.03 L228.7 357.38 L229.05 357.72 L229.4 357.84 L229.75 357.74 L230.1 357.56 L230.45 357.4 L230.8 357.23 L231.15 356.98 L231.5 356.7 L231.85 356.5 L232.2 356.41 L232.55 356.41 L232.9 356.47 L233.25 356.63 L233.6 356.83 L233.95 357.01 L234.3 357.08 L234.65 357.03 L235 356.91 L235.35 356.82 L235.7 356.81 L236.05 356.86 L236.4 356.88 L236.75 356.84 L237.1 356.76 L237.45 356.71 L237.8 356.71 L238.15 356.74 L238.5 356.71 L238.85 356.54 L239.2 356.29 L239.55 356.12 L239.9 356.11 L240.25 356.23 L240.6 356.35 L240.95 356.42 L241.3 356.54 L241.65 356.79 L242 357.13 L242.35 357.4 L242.7 357.44 L243.05 357.2 L243.4 356.78 L243.75 356.35 L244.1 356.02 L244.45 355.8 L244.8 355.68 L245.15 355.65 L245.5 355.69 L245.85 355.74 L246.2 355.7 L246.55 355.59 L246.9 355.47 L247.25 355.43 L247.6 355.44 L247.95 355.45 L248.3 355.5 L248.65 355.68 L249 355.96 L249.35 356.19 L249.7 356.24 L250.05 356.14 L250.4 356.01 L250.75 356 L251.1 356.16 L251.45 356.46 L251.8 356.78 L252.15 356.98 L252.5 357 L252.85 356.91 L253.2 356.83 L253.55 356.79 L253.9 356.71 L254.25 356.52 L254.6 356.23 L254.95 355.98 L255.3 355.85 L255.65 355.81 L256 355.73 L256.35 355.53 L256.7 355.24 L257.05 354.96 L257.4 354.82 L257.75 354.88 L258.1 355.13 L258.45 355.42 L258.8 355.6 L259.15 355.62 L259.5 355.54 L259.85 355.45 L260.2 355.47 L260.55 355.63 L260.9 355.83 L261.25 355.94 L261.6 355.89 L261.95 355.76 L262.3 355.67 L262.65 355.7 L263 355.77 L263.35 355.76 L263.7 355.58 L264.05 355.29 L264.4 354.97 L264.75 354.67 L265.1 354.44 L265.45 354.37 L265.8 354.5 L266.15 354.74 L266.5 354.93 L266.85 354.97 L267.2 354.88 L267.55 354.77 L267.9 354.8 L268.25 354.97 L268.6 355.16 L268.95 355.23 L269.3 355.16 L269.65 355.09 L270 355.1 L270.35 355.17 L270.7 355.22 L271.05 355.22 L271.4 355.22 L271.75 355.29 L272.1 355.43 L272.45 355.55 L272.8 355.57 L273.15 355.46 L273.5 355.22 L273.85 354.88 L274.2 354.5 L274.55 354.12 L274.9 353.8 L275.25 353.52 L275.6 353.29 L275.95 353.16 L276.3 353.27 L276.65 353.68 L277 354.32 L277.35 355 L277.7 355.48 L278.05 355.59 L278.4 355.33 L278.75 354.88 L279.1 354.43 L279.45 354.08 L279.8 353.85 L280.15 353.74 L280.5 353.74 L280.85 353.83 L281.2 353.98 L281.55 354.16 L281.9 354.32 L282.25 354.35 L282.6 354.2 L282.95 353.91 L283.3 353.65 L283.65 353.58 L284 353.75 L284.35 354.08 L284.7 354.42 L285.05 354.64 L285.4 354.74 L285.75 354.74 L286.1 354.68 L286.45 354.57 L286.8 354.44 L287.15 354.38 L287.5 354.42 L287.85 354.48 L288.2 354.44 L288.55 354.3 L288.9 354.13 L289.25 354.03 L289.6 354.06 L289.95 354.25 L290.3 354.51 L290.65 354.72 L291 354.73 L291.35 354.49 L291.7 354.08 L292.05 353.65 L292.4 353.39 L292.75 353.35 L293.1 353.42 L293.45 353.48 L293.8 353.49 L294.15 353.55 L294.5 353.77 L294.85 354.17 L295.2 354.62 L295.55 354.83 L295.9 354.64 L296.25 354.16 L296.6 353.66 L296.95 353.41 L297.3 353.46 L297.65 353.66 L298 353.75 L298.35 353.59 L298.7 353.25 L299.05 352.93 L299.4 352.76 L299.75 352.71 L300.1 352.63 L300.45 352.45 L300.8 352.29 L301.15 352.28 L301.5 352.47 L301.85 352.72 L302.2 352.86 L302.55 352.84 L302.9 352.69 L303.25 352.52 L303.6 352.39 L303.95 352.41 L304.3 352.61 L304.65 352.9 L305 353.16 L305.35 353.32 L305.7 353.41 L306.05 353.49 L306.4 353.58 L306.75 353.62 L307.1 353.53 L307.45 353.35 L307.8 353.18 L308.15 353.15 L308.5 353.25 L308.85 353.36 L309.2 353.34 L309.55 353.17 L309.9 352.95 L310.25 352.79 L310.6 352.73 L310.95 352.73 L311.3 352.71 L311.65 352.64 L312 352.54 L312.35 352.48 L312.7 352.5 L313.05 352.56 L313.4 352.6 L313.75 352.58 L314.1 352.54" fill="none" stroke="#ff1a1a" stroke-width="1.65" stroke-linejoin="round" stroke-linecap="round" />
<path d="M32 387.52 L32.35 387.45 L32.7 387.29 L33.05 387.04 L33.4 386.78 L33.75 386.65 L34.1 386.69 L34.45 386.87 L34.8 387.11 L35.15 387.38 L35.5 387.64 L35.85 387.83 L36.2 387.88 L36.55 387.77 L36.9 387.53 L37.25 387.28 L37.6 387.1 L37.95 387.03 L38.3 387.02 L38.65 387.03 L39 387.02 L39.35 387.02 L39.7 387.01 L40.05 386.97 L40.4 386.96 L40.75 387.02 L41.1 387.18 L41.45 387.39 L41.8 387.56 L42.15 387.59 L42.5 387.45 L42.85 387.17 L43.2 386.91 L43.55 386.79 L43.9 386.78 L44.25 386.75 L44.6 386.64 L44.95 386.54 L45.3 386.56 L45.65 386.69 L46 386.8 L46.35 386.82 L46.7 386.78 L47.05 386.77 L47.4 386.85 L47.75 386.96 L48.1 387.05 L48.45 387.07 L48.8 386.99 L49.15 386.81 L49.5 386.56 L49.85 386.24 L50.2 385.96 L50.55 385.81 L50.9 385.82 L51.25 385.99 L51.6 386.19 L51.95 386.3 L52.3 386.27 L52.65 386.14 L53 386.06 L53.35 386.15 L53.7 386.39 L54.05 386.63 L54.4 386.75 L54.75 386.7 L55.1 386.52 L55.45 386.28 L55.8 386 L56.15 385.7 L56.5 385.46 L56.85 385.41 L57.2 385.59 L57.55 385.91 L57.9 386.19 L58.25 386.36 L58.6 386.41 L58.95 386.4 L59.3 386.33 L59.65 386.2 L60 386.01 L60.35 385.79 L60.7 385.62 L61.05 385.55 L61.4 385.6 L61.75 385.76 L62.1 385.98 L62.45 386.22 L62.8 386.39 L63.15 386.43 L63.5 386.3 L63.85 385.99 L64.2 385.55 L64.55 385.08 L64.9 384.69 L65.25 384.51 L65.6 384.58 L65.95 384.85 L66.3 385.22 L66.65 385.58 L67 385.89 L67.35 386.08 L67.7 386.09 L68.05 385.94 L68.4 385.72 L68.75 385.54 L69.1 385.47 L69.45 385.48 L69.8 385.53 L70.15 385.55 L70.5 385.51 L70.85 385.34 L71.2 385.02 L71.55 384.56 L71.9 384.09 L72.25 383.86 L72.6 384.04 L72.95 384.59 L73.3 385.22 L73.65 385.69 L74 385.99 L74.35 386.27 L74.7 386.58 L75.05 386.83 L75.4 386.89 L75.75 386.71 L76.1 386.31 L76.45 385.82 L76.8 385.41 L77.15 385.18 L77.5 385.14 L77.85 385.22 L78.2 385.3 L78.55 385.39 L78.9 385.58 L79.25 386 L79.6 386.67 L79.95 387.38 L80.3 387.79 L80.65 387.68 L81 387.11 L81.35 386.39 L81.7 385.85 L82.05 385.66 L82.4 385.74 L82.75 385.98 L83.1 386.3 L83.45 386.58 L83.8 386.72 L84.15 386.65 L84.5 386.42 L84.85 386.23 L85.2 386.29 L85.55 386.64 L85.9 387.16 L86.25 387.58 L86.6 387.7 L86.95 387.53 L87.3 387.23 L87.65 387.04 L88 387.11 L88.35 387.41 L88.7 387.75 L89.05 388 L89.4 388.13 L89.75 388.2 L90.1 388.25 L90.45 388.25 L90.8 388.19 L91.15 388.09 L91.5 387.98 L91.85 387.86 L92.2 387.79 L92.55 387.86 L92.9 388.15 L93.25 388.59 L93.6 389.02 L93.95 389.33 L94.3 389.51 L94.65 389.64 L95 389.74 L95.35 389.83 L95.7 389.95 L96.05 390.06 L96.4 390.09 L96.75 389.98 L97.1 389.78 L97.45 389.69 L97.8 389.83 L98.15 390.13 L98.5 390.36 L98.85 390.39 L99.2 390.25 L99.55 390.04 L99.9 389.87 L100.25 389.82 L100.6 389.89 L100.95 390.06 L101.3 390.3 L101.65 390.57 L102 390.8 L102.35 390.87 L102.7 390.72 L103.05 390.39 L103.4 390.03 L103.75 389.78 L104.1 389.71 L104.45 389.82 L104.8 390.06 L105.15 390.35 L105.5 390.6 L105.85 390.79 L106.2 390.99 L106.55 391.28 L106.9 391.66 L107.25 392.03 L107.6 392.26 L107.95 392.27 L108.3 392.12 L108.65 391.96 L109 391.88 L109.35 391.91 L109.7 392.05 L110.05 392.33 L110.4 392.78 L110.75 393.26 L111.1 393.52 L111.45 393.4 L111.8 392.98 L112.15 392.53 L112.5 392.32 L112.85 392.38 L113.2 392.54 L113.55 392.57 L113.9 392.38 L114.25 392.09 L114.6 391.89 L114.95 391.85 L115.3 391.93 L115.65 392.04 L116 392.13 L116.35 392.22 L116.7 392.39 L117.05 392.69 L117.4 393.07 L117.75 393.51 L118.1 393.96 L118.45 394.31 L118.8 394.44 L119.15 394.34 L119.5 394.17 L119.85 394.05 L120.2 393.97 L120.55 393.9 L120.9 393.83 L121.25 393.75 L121.6 393.6 L121.95 393.37 L122.3 393.14 L122.65 393.01 L123 393.04 L123.35 393.21 L123.7 393.45 L124.05 393.7 L124.4 393.88 L124.75 393.81 L125.1 393.21 L125.45 391.89 L125.8 390.12 L126.15 388.85 L126.5 389.04 L126.85 390.63 L127.2 392.58 L127.55 393.92 L127.9 394.37 L128.25 394.23 L128.6 393.92 L128.95 393.73 L129.3 393.68 L129.65 393.67 L130 393.6 L130.35 393.51 L130.7 393.43 L131.05 393.36 L131.4 393.31 L131.75 393.3 L132.1 393.34 L132.45 393.4 L132.8 393.45 L133.15 393.49 L133.5 393.49 L133.85 393.43 L134.2 393.29 L134.55 393.15 L134.9 393.09 L135.25 393.11 L135.6 393.14 L135.95 393.17 L136.3 393.27 L136.65 393.42 L137 393.56 L137.35 393.6 L137.7 393.53 L138.05 393.42 L138.4 393.4 L138.75 393.54 L139.1 393.9 L139.45 394.38 L139.8 394.83 L140.15 395.12 L140.5 395.21 L140.85 395.13 L141.2 394.91 L141.55 394.57 L141.9 394.15 L142.25 393.73 L142.6 393.39 L142.95 393.18 L143.3 393.08 L143.65 393.09 L144 393.21 L144.35 393.39 L144.7 393.53 L145.05 393.49 L145.4 393.17 L145.75 392.59 L146.1 391.96 L146.45 391.5 L146.8 391.33 L147.15 391.34 L147.5 391.29 L147.85 391 L148.2 390.48 L148.55 389.9 L148.9 389.4 L149.25 389.09 L149.6 388.91 L149.95 388.74 L150.3 388.43 L150.65 387.95 L151 387.46 L151.35 387.08 L151.7 386.79 L152.05 386.47 L152.4 386.01 L152.75 385.48 L153.1 385.03 L153.45 384.75 L153.8 384.61 L154.15 384.52 L154.5 384.35 L154.85 384.07 L155.2 383.74 L155.55 383.38 L155.9 382.98 L156.25 382.49 L156.6 381.94 L156.95 381.41 L157.3 381 L157.65 380.77 L158 380.69 L158.35 380.67 L158.7 380.65 L159.05 380.64 L159.4 380.73 L159.75 380.91 L160.1 381.21 L160.45 381.67 L160.8 382.32 L161.15 383.11 L161.5 383.94 L161.85 384.71 L162.2 385.36 L162.55 385.85 L162.9 386.11 L163.25 386.16 L163.6 386.12 L163.95 386.14 L164.3 386.31 L164.65 386.54 L165 386.68 L165.35 386.66 L165.7 386.54 L166.05 386.55 L166.4 386.83 L166.75 387.36 L167.1 387.92 L167.45 388.27 L167.8 388.38 L168.15 388.41 L168.5 388.6 L168.85 389.08 L169.2 389.76 L169.55 390.46 L169.9 391.04 L170.25 391.45 L170.6 391.7 L170.95 391.83 L171.3 391.92 L171.65 392.04 L172 392.26 L172.35 392.55 L172.7 392.84 L173.05 393.07 L173.4 393.21 L173.75 393.26 L174.1 393.18 L174.45 392.97 L174.8 392.7 L175.15 392.54 L175.5 392.65 L175.85 393.11 L176.2 393.84 L176.55 394.69 L176.9 395.5 L177.25 396.19 L177.6 396.72 L177.95 397.05 L178.3 397.15 L178.65 397.04 L179 396.77 L179.35 396.48 L179.7 396.33 L180.05 396.44 L180.4 396.86 L180.75 397.44 L181.1 397.98 L181.45 398.29 L181.8 398.39 L182.15 398.38 L182.5 398.4 L182.85 398.46 L183.2 398.56 L183.55 398.68 L183.9 398.81 L184.25 398.93 L184.6 399.07 L184.95 399.28 L185.3 399.63 L185.65 400.08 L186 400.55 L186.35 400.96 L186.7 401.23 L187.05 401.34 L187.4 401.4 L187.75 401.52 L188.1 401.78 L188.45 402.15 L188.8 402.52 L189.15 402.9 L189.5 403.31 L189.85 403.75 L190.2 404.12 L190.55 404.28 L190.9 404.22 L191.25 404.03 L191.6 403.83 L191.95 403.69 L192.3 403.58 L192.65 403.41 L193 403.12 L193.35 402.76 L193.7 402.5 L194.05 402.51 L194.4 402.88 L194.75 403.52 L195.1 404.19 L195.45 404.65 L195.8 404.76 L196.15 404.61 L196.5 404.36 L196.85 404.19 L197.2 404.12 L197.55 404.1 L197.9 404.07 L198.25 403.99 L198.6 403.92 L198.95 403.93 L199.3 404.03 L199.65 404.11 L200 404.02 L200.35 403.71 L200.7 403.22 L201.05 402.67 L201.4 402.13 L201.75 401.68 L202.1 401.37 L202.45 401.23 L202.8 401.23 L203.15 401.25 L203.5 401.18 L203.85 400.94 L204.2 400.57 L204.55 400.11 L204.9 399.56 L205.25 398.92 L205.6 398.27 L205.95 397.75 L206.3 397.5 L206.65 397.48 L207 397.46 L207.35 397.2 L207.7 396.71 L208.05 396.26 L208.4 396.16 L208.75 396.41 L209.1 396.75 L209.45 396.86 L209.8 396.69 L210.15 396.37 L210.5 396.14 L210.85 396.1 L211.2 396.24 L211.55 396.44 L211.9 396.6 L212.25 396.66 L212.6 396.65 L212.95 396.6 L213.3 396.51 L213.65 396.36 L214 396.2 L214.35 396.12 L214.7 396.18 L215.05 396.3 L215.4 396.39 L215.75 396.43 L216.1 396.4 L216.45 396.31 L216.8 396.13 L217.15 395.83 L217.5 395.45 L217.85 395.1 L218.2 394.86 L218.55 394.75 L218.9 394.73 L219.25 394.69 L219.6 394.54 L219.95 394.24 L220.3 393.88 L220.65 393.64 L221 393.64 L221.35 393.86 L221.7 394.15 L222.05 394.39 L222.4 394.53 L222.75 394.61 L223.1 394.69 L223.45 394.84 L223.8 395.05 L224.15 395.27 L224.5 395.45 L224.85 395.54 L225.2 395.51 L225.55 395.29 L225.9 394.85 L226.25 394.29 L226.6 393.77 L226.95 393.44 L227.3 393.37 L227.65 393.52 L228 393.8 L228.35 394.07 L228.7 394.28 L229.05 394.42 L229.4 394.48 L229.75 394.45 L230.1 394.33 L230.45 394.15 L230.8 393.95 L231.15 393.77 L231.5 393.62 L231.85 393.54 L232.2 393.52 L232.55 393.56 L232.9 393.69 L233.25 393.89 L233.6 394.06 L233.95 394.01 L234.3 393.68 L234.65 393.18 L235 392.76 L235.35 392.64 L235.7 392.84 L236.05 393.23 L236.4 393.57 L236.75 393.72 L237.1 393.7 L237.45 393.65 L237.8 393.66 L238.15 393.7 L238.5 393.68 L238.85 393.52 L239.2 393.24 L239.55 392.92 L239.9 392.7 L240.25 392.69 L240.6 392.81 L240.95 392.92 L241.3 392.95 L241.65 392.94 L242 392.99 L242.35 393.07 L242.7 393.14 L243.05 393.18 L243.4 393.2 L243.75 393.21 L244.1 393.13 L244.45 392.94 L244.8 392.69 L245.15 392.47 L245.5 392.33 L245.85 392.23 L246.2 392.18 L246.55 392.16 L246.9 392.22 L247.25 392.36 L247.6 392.57 L247.95 392.78 L248.3 392.92 L248.65 392.95 L249 392.88 L249.35 392.75 L249.7 392.62 L250.05 392.51 L250.4 392.44 L250.75 392.37 L251.1 392.29 L251.45 392.22 L251.8 392.22 L252.15 392.37 L252.5 392.55 L252.85 392.55 L253.2 392.28 L253.55 391.89 L253.9 391.62 L254.25 391.54 L254.6 391.61 L254.95 391.74 L255.3 391.9 L255.65 392.09 L256 392.3 L256.35 392.51 L256.7 392.59 L257.05 392.46 L257.4 392.18 L257.75 391.87 L258.1 391.64 L258.45 391.59 L258.8 391.74 L259.15 392.01 L259.5 392.26 L259.85 392.34 L260.2 392.24 L260.55 392.03 L260.9 391.82 L261.25 391.67 L261.6 391.57 L261.95 391.48 L262.3 391.29 L262.65 391.01 L263 390.71 L263.35 390.49 L263.7 390.34 L264.05 390.21 L264.4 390.06 L264.75 389.93 L265.1 389.88 L265.45 389.9 L265.8 389.98 L266.15 390.11 L266.5 390.27 L266.85 390.43 L267.2 390.62 L267.55 390.91 L267.9 391.31 L268.25 391.71 L268.6 391.93 L268.95 391.92 L269.3 391.76 L269.65 391.61 L270 391.51 L270.35 391.38 L270.7 391.18 L271.05 390.94 L271.4 390.8 L271.75 390.81 L272.1 390.88 L272.45 390.88 L272.8 390.76 L273.15 390.55 L273.5 390.31 L273.85 390.01 L274.2 389.61 L274.55 389.15 L274.9 388.74 L275.25 388.49 L275.6 388.47 L275.95 388.69 L276.3 389.08 L276.65 389.48 L277 389.74 L277.35 389.83 L277.7 389.8 L278.05 389.75 L278.4 389.68 L278.75 389.64 L279.1 389.65 L279.45 389.74 L279.8 389.86 L280.15 389.91 L280.5 389.84 L280.85 389.64 L281.2 389.35 L281.55 389.05 L281.9 388.79 L282.25 388.64 L282.6 388.62 L282.95 388.69 L283.3 388.77 L283.65 388.78 L284 388.68 L284.35 388.48 L284.7 388.33 L285.05 388.38 L285.4 388.66 L285.75 389 L286.1 389.16 L286.45 389.08 L286.8 388.9 L287.15 388.81 L287.5 388.88 L287.85 389.03 L288.2 389.17 L288.55 389.24 L288.9 389.26 L289.25 389.18 L289.6 388.96 L289.95 388.62 L290.3 388.31 L290.65 388.19 L291 388.22 L291.35 388.27 L291.7 388.3 L292.05 388.43 L292.4 388.74 L292.75 389.09 L293.1 389.24 L293.45 389.08 L293.8 388.74 L294.15 388.45 L294.5 388.39 L294.85 388.61 L295.2 389.03 L295.55 389.45 L295.9 389.66 L296.25 389.63 L296.6 389.47 L296.95 389.38 L297.3 389.4 L297.65 389.48 L298 389.52 L298.35 389.44 L298.7 389.21 L299.05 388.83 L299.4 388.39 L299.75 388.06 L300.1 387.97 L300.45 388.19 L300.8 388.68 L301.15 389.26 L301.5 389.7 L301.85 389.85 L302.2 389.72 L302.55 389.4 L302.9 389.01 L303.25 388.64 L303.6 388.38 L303.95 388.23 L304.3 388.2 L304.65 388.33 L305 388.63 L305.35 389.02 L305.7 389.32 L306.05 389.41 L306.4 389.27 L306.75 389 L307.1 388.68 L307.45 388.39 L307.8 388.17 L308.15 388.07 L308.5 388.09 L308.85 388.21 L309.2 388.38 L309.55 388.57 L309.9 388.82 L310.25 389.19 L310.6 389.56 L310.95 389.77 L311.3 389.71 L311.65 389.47 L312 389.26 L312.35 389.29 L312.7 389.57 L313.05 389.96 L313.4 390.27 L313.75 390.42 L314.1 390.47" fill="none" stroke="#a45fe8" stroke-width="1.65" stroke-linejoin="round" stroke-linecap="round" />
<path d="M32 427.65 L32.35 427.47 L32.7 427.22 L33.05 427.04 L33.4 427.05 L33.75 427.21 L34.1 427.42 L34.45 427.61 L34.8 427.76 L35.15 427.82 L35.5 427.75 L35.85 427.56 L36.2 427.33 L36.55 427.15 L36.9 427.09 L37.25 427.13 L37.6 427.23 L37.95 427.34 L38.3 427.41 L38.65 427.4 L39 427.28 L39.35 427.08 L39.7 426.89 L40.05 426.82 L40.4 426.92 L40.75 427.11 L41.1 427.25 L41.45 427.26 L41.8 427.17 L42.15 427.11 L42.5 427.13 L42.85 427.19 L43.2 427.16 L43.55 426.99 L43.9 426.73 L44.25 426.54 L44.6 426.57 L44.95 426.79 L45.3 427.05 L45.65 427.2 L46 427.23 L46.35 427.19 L46.7 427.16 L47.05 427.21 L47.4 427.34 L47.75 427.53 L48.1 427.66 L48.45 427.68 L48.8 427.58 L49.15 427.45 L49.5 427.35 L49.85 427.3 L50.2 427.27 L50.55 427.22 L50.9 427.17 L51.25 427.14 L51.6 427.16 L51.95 427.24 L52.3 427.33 L52.65 427.4 L53 427.39 L53.35 427.34 L53.7 427.34 L54.05 427.45 L54.4 427.65 L54.75 427.86 L55.1 428.04 L55.45 428.16 L55.8 428.19 L56.15 428.12 L56.5 428 L56.85 427.93 L57.2 427.92 L57.55 427.91 L57.9 427.8 L58.25 427.58 L58.6 427.33 L58.95 427.19 L59.3 427.25 L59.65 427.5 L60 427.76 L60.35 427.89 L60.7 427.86 L61.05 427.78 L61.4 427.73 L61.75 427.69 L62.1 427.58 L62.45 427.43 L62.8 427.35 L63.15 427.37 L63.5 427.38 L63.85 427.3 L64.2 427.2 L64.55 427.16 L64.9 427.19 L65.25 427.21 L65.6 427.21 L65.95 427.26 L66.3 427.42 L66.65 427.65 L67 427.9 L67.35 428.11 L67.7 428.27 L68.05 428.34 L68.4 428.35 L68.75 428.35 L69.1 428.4 L69.45 428.49 L69.8 428.55 L70.15 428.5 L70.5 428.3 L70.85 428.04 L71.2 427.86 L71.55 427.83 L71.9 427.89 L72.25 427.92 L72.6 427.83 L72.95 427.66 L73.3 427.51 L73.65 427.42 L74 427.4 L74.35 427.42 L74.7 427.51 L75.05 427.67 L75.4 427.85 L75.75 428 L76.1 428.09 L76.45 428.2 L76.8 428.41 L77.15 428.71 L77.5 429.02 L77.85 429.22 L78.2 429.26 L78.55 429.17 L78.9 429.07 L79.25 429.04 L79.6 429.08 L79.95 429.14 L80.3 429.15 L80.65 429.07 L81 428.96 L81.35 428.93 L81.7 429.03 L82.05 429.2 L82.4 429.27 L82.75 429.18 L83.1 428.96 L83.45 428.75 L83.8 428.65 L84.15 428.71 L84.5 428.93 L84.85 429.24 L85.2 429.56 L85.55 429.84 L85.9 430.05 L86.25 430.21 L86.6 430.34 L86.95 430.4 L87.3 430.35 L87.65 430.2 L88 429.97 L88.35 429.81 L88.7 429.83 L89.05 430.01 L89.4 430.17 L89.75 430.15 L90.1 429.9 L90.45 429.53 L90.8 429.22 L91.15 429.12 L91.5 429.28 L91.85 429.64 L92.2 430.08 L92.55 430.44 L92.9 430.62 L93.25 430.65 L93.6 430.62 L93.95 430.58 L94.3 430.56 L94.65 430.55 L95 430.57 L95.35 430.65 L95.7 430.76 L96.05 430.89 L96.4 430.98 L96.75 431.01 L97.1 430.97 L97.45 430.89 L97.8 430.88 L98.15 431.01 L98.5 431.24 L98.85 431.41 L99.2 431.43 L99.55 431.3 L99.9 431.07 L100.25 430.79 L100.6 430.54 L100.95 430.38 L101.3 430.39 L101.65 430.52 L102 430.68 L102.35 430.8 L102.7 430.88 L103.05 431 L103.4 431.16 L103.75 431.26 L104.1 431.26 L104.45 431.19 L104.8 431.17 L105.15 431.22 L105.5 431.28 L105.85 431.26 L106.2 431.16 L106.55 431.01 L106.9 430.88 L107.25 430.84 L107.6 430.89 L107.95 431.04 L108.3 431.25 L108.65 431.44 L109 431.54 L109.35 431.56 L109.7 431.58 L110.05 431.63 L110.4 431.7 L110.75 431.71 L111.1 431.61 L111.45 431.47 L111.8 431.36 L112.15 431.27 L112.5 431.15 L112.85 430.97 L113.2 430.76 L113.55 430.6 L113.9 430.57 L114.25 430.7 L114.6 430.92 L114.95 431.09 L115.3 431.05 L115.65 430.77 L116 430.35 L116.35 429.96 L116.7 429.66 L117.05 429.46 L117.4 429.31 L117.75 429.21 L118.1 429.19 L118.45 429.27 L118.8 429.45 L119.15 429.69 L119.5 429.94 L119.85 430.17 L120.2 430.33 L120.55 430.43 L120.9 430.45 L121.25 430.35 L121.6 430.13 L121.95 429.88 L122.3 429.69 L122.65 429.53 L123 429.34 L123.35 429.07 L123.7 428.76 L124.05 428.49 L124.4 428.31 L124.75 428.13 L125.1 427.79 L125.45 427.18 L125.8 426.44 L126.15 425.93 L126.5 425.95 L126.85 426.46 L127.2 427.15 L127.55 427.7 L127.9 427.99 L128.25 428.04 L128.6 427.94 L128.95 427.79 L129.3 427.67 L129.65 427.65 L130 427.76 L130.35 427.97 L130.7 428.15 L131.05 428.2 L131.4 428.08 L131.75 427.87 L132.1 427.69 L132.45 427.62 L132.8 427.62 L133.15 427.61 L133.5 427.54 L133.85 427.37 L134.2 427.14 L134.55 426.88 L134.9 426.68 L135.25 426.56 L135.6 426.52 L135.95 426.52 L136.3 426.47 L136.65 426.33 L137 426.09 L137.35 425.83 L137.7 425.6 L138.05 425.43 L138.4 425.31 L138.75 425.2 L139.1 425.06 L139.45 424.87 L139.8 424.59 L140.15 424.28 L140.5 424.03 L140.85 423.9 L141.2 423.84 L141.55 423.74 L141.9 423.48 L142.25 422.97 L142.6 422.22 L142.95 421.39 L143.3 420.65 L143.65 420.1 L144 419.74 L144.35 419.45 L144.7 419.15 L145.05 418.76 L145.4 418.15 L145.75 417.28 L146.1 416.18 L146.45 414.93 L146.8 413.61 L147.15 412.26 L147.5 410.9 L147.85 409.5 L148.2 408 L148.55 406.37 L148.9 404.43 L149.25 402.14 L149.6 399.61 L149.95 396.89 L150.3 394.09 L150.65 391.33 L151 388.79 L151.35 386.63 L151.7 384.88 L152.05 383.17 L152.4 381.4 L152.75 379.59 L153.1 377.85 L153.45 376.36 L153.8 375.25 L154.15 374.28 L154.5 373.53 L154.85 373.08 L155.2 373.02 L155.55 373.4 L155.9 374.13 L156.25 375.06 L156.6 376 L156.95 377.1 L157.3 378.58 L157.65 380.42 L158 382.58 L158.35 384.93 L158.7 387.38 L159.05 390.16 L159.4 393.16 L159.75 396.25 L160.1 399.27 L160.45 402.16 L160.8 404.92 L161.15 407.63 L161.5 410.24 L161.85 412.74 L162.2 415.08 L162.55 417.14 L162.9 418.98 L163.25 420.74 L163.6 422.54 L163.95 424.36 L164.3 426.14 L164.65 427.82 L165 429.35 L165.35 430.77 L165.7 432.11 L166.05 433.44 L166.4 434.88 L166.75 436.43 L167.1 437.98 L167.45 439.36 L167.8 440.47 L168.15 441.32 L168.5 442.05 L168.85 442.84 L169.2 443.72 L169.55 444.65 L169.9 445.57 L170.25 446.46 L170.6 447.31 L170.95 448.05 L171.3 448.67 L171.65 449.24 L172 449.89 L172.35 450.7 L172.7 451.68 L173.05 452.72 L173.4 453.69 L173.75 454.42 L174.1 454.87 L174.45 455.15 L174.8 455.44 L175.15 455.84 L175.5 456.31 L175.85 456.77 L176.2 457.19 L176.55 457.63 L176.9 458.12 L177.25 458.65 L177.6 459.16 L177.95 459.65 L178.3 460.06 L178.65 460.35 L179 460.47 L179.35 460.46 L179.7 460.48 L180.05 460.62 L180.4 460.88 L180.75 461.17 L181.1 461.38 L181.45 461.46 L181.8 461.46 L182.15 461.51 L182.5 461.73 L182.85 462.09 L183.2 462.48 L183.55 462.73 L183.9 462.76 L184.25 462.58 L184.6 462.24 L184.95 461.78 L185.3 461.28 L185.65 460.85 L186 460.55 L186.35 460.32 L186.7 460.03 L187.05 459.63 L187.4 459.17 L187.75 458.72 L188.1 458.3 L188.45 457.91 L188.8 457.58 L189.15 457.33 L189.5 457.16 L189.85 456.99 L190.2 456.74 L190.55 456.39 L190.9 455.94 L191.25 455.48 L191.6 455.08 L191.95 454.75 L192.3 454.43 L192.65 454.05 L193 453.61 L193.35 453.16 L193.7 452.76 L194.05 452.38 L194.4 452 L194.75 451.59 L195.1 451.13 L195.45 450.59 L195.8 450.01 L196.15 449.46 L196.5 448.97 L196.85 448.52 L197.2 448.14 L197.55 447.87 L197.9 447.73 L198.25 447.65 L198.6 447.5 L198.95 447.24 L199.3 446.91 L199.65 446.56 L200 446.16 L200.35 445.69 L200.7 445.21 L201.05 444.79 L201.4 444.5 L201.75 444.29 L202.1 444.06 L202.45 443.78 L202.8 443.48 L203.15 443.24 L203.5 443.09 L203.85 442.92 L204.2 442.61 L204.55 442.15 L204.9 441.61 L205.25 441.12 L205.6 440.76 L205.95 440.56 L206.3 440.51 L206.65 440.55 L207 440.59 L207.35 440.51 L207.7 440.25 L208.05 439.78 L208.4 439.18 L208.75 438.56 L209.1 438.07 L209.45 437.76 L209.8 437.61 L210.15 437.5 L210.5 437.38 L210.85 437.28 L211.2 437.22 L211.55 437.15 L211.9 437.05 L212.25 436.89 L212.6 436.71 L212.95 436.55 L213.3 436.47 L213.65 436.49 L214 436.58 L214.35 436.7 L214.7 436.73 L215.05 436.61 L215.4 436.37 L215.75 436.07 L216.1 435.83 L216.45 435.71 L216.8 435.7 L217.15 435.76 L217.5 435.81 L217.85 435.8 L218.2 435.69 L218.55 435.52 L218.9 435.36 L219.25 435.28 L219.6 435.31 L219.95 435.4 L220.3 435.43 L220.65 435.33 L221 435.11 L221.35 434.89 L221.7 434.75 L222.05 434.72 L222.4 434.8 L222.75 434.92 L223.1 435.05 L223.45 435.11 L223.8 435.07 L224.15 434.9 L224.5 434.62 L224.85 434.22 L225.2 433.77 L225.55 433.42 L225.9 433.3 L226.25 433.43 L226.6 433.66 L226.95 433.86 L227.3 433.96 L227.65 433.96 L228 433.87 L228.35 433.71 L228.7 433.54 L229.05 433.41 L229.4 433.34 L229.75 433.37 L230.1 433.47 L230.45 433.57 L230.8 433.56 L231.15 433.41 L231.5 433.18 L231.85 433.01 L232.2 432.97 L232.55 433.06 L232.9 433.19 L233.25 433.25 L233.6 433.18 L233.95 432.97 L234.3 432.71 L234.65 432.52 L235 432.51 L235.35 432.7 L235.7 432.98 L236.05 433.25 L236.4 433.47 L236.75 433.61 L237.1 433.65 L237.45 433.58 L237.8 433.43 L238.15 433.31 L238.5 433.33 L238.85 433.5 L239.2 433.76 L239.55 433.97 L239.9 434.08 L240.25 434.1 L240.6 434.04 L240.95 433.89 L241.3 433.58 L241.65 433.14 L242 432.66 L242.35 432.3 L242.7 432.13 L243.05 432.16 L243.4 432.34 L243.75 432.57 L244.1 432.74 L244.45 432.83 L244.8 432.83 L245.15 432.73 L245.5 432.57 L245.85 432.42 L246.2 432.35 L246.55 432.36 L246.9 432.4 L247.25 432.41 L247.6 432.33 L247.95 432.18 L248.3 431.99 L248.65 431.81 L249 431.66 L249.35 431.56 L249.7 431.52 L250.05 431.52 L250.4 431.53 L250.75 431.54 L251.1 431.57 L251.45 431.62 L251.8 431.71 L252.15 431.87 L252.5 432.09 L252.85 432.34 L253.2 432.53 L253.55 432.58 L253.9 432.48 L254.25 432.29 L254.6 432.1 L254.95 432.01 L255.3 432.1 L255.65 432.34 L256 432.59 L256.35 432.7 L256.7 432.58 L257.05 432.29 L257.4 431.98 L257.75 431.73 L258.1 431.55 L258.45 431.46 L258.8 431.53 L259.15 431.77 L259.5 432.11 L259.85 432.39 L260.2 432.51 L260.55 432.46 L260.9 432.3 L261.25 432.14 L261.6 432.08 L261.95 432.11 L262.3 432.14 L262.65 432.08 L263 431.97 L263.35 431.94 L263.7 432.12 L264.05 432.43 L264.4 432.68 L264.75 432.72 L265.1 432.56 L265.45 432.35 L265.8 432.17 L266.15 432.01 L266.5 431.82 L266.85 431.63 L267.2 431.56 L267.55 431.68 L267.9 431.99 L268.25 432.36 L268.6 432.6 L268.95 432.58 L269.3 432.29 L269.65 431.86 L270 431.45 L270.35 431.16 L270.7 431.04 L271.05 431.1 L271.4 431.28 L271.75 431.45 L272.1 431.54 L272.45 431.53 L272.8 431.52 L273.15 431.56 L273.5 431.59 L273.85 431.53 L274.2 431.39 L274.55 431.22 L274.9 431.09 L275.25 431.01 L275.6 431.05 L275.95 431.19 L276.3 431.39 L276.65 431.52 L277 431.49 L277.35 431.31 L277.7 431.09 L278.05 430.95 L278.4 430.89 L278.75 430.9 L279.1 431 L279.45 431.16 L279.8 431.33 L280.15 431.41 L280.5 431.37 L280.85 431.24 L281.2 431.05 L281.55 430.84 L281.9 430.65 L282.25 430.57 L282.6 430.64 L282.95 430.77 L283.3 430.84 L283.65 430.75 L284 430.55 L284.35 430.39 L284.7 430.39 L285.05 430.5 L285.4 430.6 L285.75 430.62 L286.1 430.64 L286.45 430.74 L286.8 430.93 L287.15 431.1 L287.5 431.15 L287.85 431.03 L288.2 430.75 L288.55 430.42 L288.9 430.22 L289.25 430.25 L289.6 430.45 L289.95 430.68 L290.3 430.79 L290.65 430.76 L291 430.65 L291.35 430.52 L291.7 430.39 L292.05 430.24 L292.4 430.09 L292.75 430.04 L293.1 430.17 L293.45 430.47 L293.8 430.76 L294.15 430.89 L294.5 430.88 L294.85 430.86 L295.2 430.95 L295.55 431.15 L295.9 431.36 L296.25 431.45 L296.6 431.35 L296.95 431.06 L297.3 430.7 L297.65 430.36 L298 430.12 L298.35 429.98 L298.7 429.93 L299.05 430.05 L299.4 430.37 L299.75 430.83 L300.1 431.24 L300.45 431.44 L300.8 431.38 L301.15 431.14 L301.5 430.84 L301.85 430.56 L302.2 430.34 L302.55 430.24 L302.9 430.31 L303.25 430.56 L303.6 430.92 L303.95 431.27 L304.3 431.52 L304.65 431.58 L305 431.44 L305.35 431.16 L305.7 430.85 L306.05 430.59 L306.4 430.38 L306.75 430.2 L307.1 430.06 L307.45 430.05 L307.8 430.19 L308.15 430.39 L308.5 430.49 L308.85 430.37 L309.2 430.09 L309.55 429.81 L309.9 429.68 L310.25 429.7 L310.6 429.76 L310.95 429.74 L311.3 429.66 L311.65 429.59 L312 429.62 L312.35 429.77 L312.7 429.98 L313.05 430.14 L313.4 430.22 L313.75 430.22 L314.1 430.19" fill="none" stroke="#3cb35f" stroke-width="1.65" stroke-linejoin="round" stroke-linecap="round" />
<path d="M32 465.54 L32.35 465.5 L32.7 465.44 L33.05 465.34 L33.4 465.18 L33.75 464.95 L34.1 464.71 L34.45 464.57 L34.8 464.55 L35.15 464.62 L35.5 464.69 L35.85 464.74 L36.2 464.76 L36.55 464.78 L36.9 464.8 L37.25 464.8 L37.6 464.83 L37.95 464.89 L38.3 464.96 L38.65 464.96 L39 464.85 L39.35 464.67 L39.7 464.51 L40.05 464.42 L40.4 464.41 L40.75 464.47 L41.1 464.61 L41.45 464.76 L41.8 464.88 L42.15 464.92 L42.5 464.89 L42.85 464.88 L43.2 464.95 L43.55 465.14 L43.9 465.4 L44.25 465.63 L44.6 465.72 L44.95 465.68 L45.3 465.55 L45.65 465.4 L46 465.29 L46.35 465.24 L46.7 465.29 L47.05 465.39 L47.4 465.44 L47.75 465.37 L48.1 465.19 L48.45 464.96 L48.8 464.76 L49.15 464.65 L49.5 464.61 L49.85 464.62 L50.2 464.64 L50.55 464.66 L50.9 464.69 L51.25 464.7 L51.6 464.73 L51.95 464.84 L52.3 465.08 L52.65 465.38 L53 465.61 L53.35 465.66 L53.7 465.54 L54.05 465.37 L54.4 465.25 L54.75 465.2 L55.1 465.2 L55.45 465.24 L55.8 465.27 L56.15 465.26 L56.5 465.2 L56.85 465.12 L57.2 465.06 L57.55 465.08 L57.9 465.23 L58.25 465.49 L58.6 465.79 L58.95 466 L59.3 466.06 L59.65 465.95 L60 465.75 L60.35 465.54 L60.7 465.37 L61.05 465.29 L61.4 465.29 L61.75 465.31 L62.1 465.31 L62.45 465.32 L62.8 465.38 L63.15 465.56 L63.5 465.82 L63.85 466.08 L64.2 466.31 L64.55 466.48 L64.9 466.54 L65.25 466.46 L65.6 466.25 L65.95 466.01 L66.3 465.84 L66.65 465.81 L67 465.9 L67.35 465.98 L67.7 465.93 L68.05 465.7 L68.4 465.33 L68.75 464.99 L69.1 464.82 L69.45 464.92 L69.8 465.24 L70.15 465.63 L70.5 465.91 L70.85 465.98 L71.2 465.93 L71.55 465.88 L71.9 465.96 L72.25 466.17 L72.6 466.42 L72.95 466.62 L73.3 466.71 L73.65 466.66 L74 466.48 L74.35 466.21 L74.7 465.97 L75.05 465.88 L75.4 465.98 L75.75 466.24 L76.1 466.53 L76.45 466.72 L76.8 466.78 L77.15 466.73 L77.5 466.63 L77.85 466.57 L78.2 466.62 L78.55 466.72 L78.9 466.77 L79.25 466.74 L79.6 466.72 L79.95 466.87 L80.3 467.17 L80.65 467.47 L81 467.63 L81.35 467.6 L81.7 467.45 L82.05 467.29 L82.4 467.16 L82.75 467.05 L83.1 466.87 L83.45 466.56 L83.8 466.13 L84.15 465.69 L84.5 465.36 L84.85 465.23 L85.2 465.35 L85.55 465.65 L85.9 466.01 L86.25 466.26 L86.6 466.37 L86.95 466.38 L87.3 466.38 L87.65 466.41 L88 466.43 L88.35 466.43 L88.7 466.4 L89.05 466.37 L89.4 466.36 L89.75 466.38 L90.1 466.4 L90.45 466.42 L90.8 466.45 L91.15 466.45 L91.5 466.42 L91.85 466.36 L92.2 466.31 L92.55 466.37 L92.9 466.56 L93.25 466.83 L93.6 467.07 L93.95 467.21 L94.3 467.29 L94.65 467.38 L95 467.46 L95.35 467.46 L95.7 467.34 L96.05 467.09 L96.4 466.71 L96.75 466.27 L97.1 465.86 L97.45 465.61 L97.8 465.6 L98.15 465.79 L98.5 466.03 L98.85 466.13 L99.2 466.02 L99.55 465.79 L99.9 465.55 L100.25 465.42 L100.6 465.49 L100.95 465.77 L101.3 466.13 L101.65 466.41 L102 466.47 L102.35 466.37 L102.7 466.22 L103.05 466.13 L103.4 466.13 L103.75 466.2 L104.1 466.31 L104.45 466.46 L104.8 466.62 L105.15 466.74 L105.5 466.76 L105.85 466.75 L106.2 466.75 L106.55 466.78 L106.9 466.78 L107.25 466.73 L107.6 466.69 L107.95 466.74 L108.3 466.86 L108.65 466.93 L109 466.87 L109.35 466.67 L109.7 466.47 L110.05 466.4 L110.4 466.51 L110.75 466.71 L111.1 466.85 L111.45 466.84 L111.8 466.67 L112.15 466.4 L112.5 466.1 L112.85 465.88 L113.2 465.8 L113.55 465.86 L113.9 466.01 L114.25 466.11 L114.6 466.12 L114.95 466.06 L115.3 466.05 L115.65 466.15 L116 466.32 L116.35 466.45 L116.7 466.53 L117.05 466.52 L117.4 466.44 L117.75 466.29 L118.1 466.13 L118.45 466.01 L118.8 465.95 L119.15 465.89 L119.5 465.77 L119.85 465.59 L120.2 465.43 L120.55 465.32 L120.9 465.24 L121.25 465.12 L121.6 464.95 L121.95 464.76 L122.3 464.55 L122.65 464.29 L123 464.03 L123.35 463.82 L123.7 463.67 L124.05 463.52 L124.4 463.34 L124.75 463.17 L125.1 463.09 L125.45 463.1 L125.8 463.12 L126.15 463.1 L126.5 463.06 L126.85 463.08 L127.2 463.19 L127.55 463.38 L127.9 463.67 L128.25 464.06 L128.6 464.5 L128.95 464.86 L129.3 465 L129.65 464.87 L130 464.59 L130.35 464.35 L130.7 464.3 L131.05 464.47 L131.4 464.79 L131.75 465.11 L132.1 465.34 L132.45 465.49 L132.8 465.64 L133.15 465.82 L133.5 465.99 L133.85 466.06 L134.2 466.04 L134.55 466.03 L134.9 466.06 L135.25 466.07 L135.6 465.98 L135.95 465.82 L136.3 465.66 L136.65 465.55 L137 465.51 L137.35 465.53 L137.7 465.61 L138.05 465.71 L138.4 465.8 L138.75 465.86 L139.1 465.81 L139.45 465.62 L139.8 465.28 L140.15 464.88 L140.5 464.5 L140.85 464.16 L141.2 463.88 L141.55 463.65 L141.9 463.49 L142.25 463.37 L142.6 463.23 L142.95 463 L143.3 462.66 L143.65 462.2 L144 461.64 L144.35 460.97 L144.7 460.25 L145.05 459.55 L145.4 458.92 L145.75 458.33 L146.1 457.75 L146.45 457.19 L146.8 456.68 L147.15 456.16 L147.5 455.54 L147.85 454.78 L148.2 453.9 L148.55 452.94 L148.9 451.97 L149.25 451.05 L149.6 450.24 L149.95 449.52 L150.3 448.8 L150.65 447.95 L151 446.91 L151.35 445.68 L151.7 444.31 L152.05 442.85 L152.4 441.2 L152.75 439.39 L153.1 437.48 L153.45 435.57 L153.8 433.76 L154.15 432.19 L154.5 430.99 L154.85 430.01 L155.2 429.06 L155.55 428.14 L155.9 427.3 L156.25 426.65 L156.6 426.31 L156.95 426.34 L157.3 426.68 L157.65 427.24 L158 427.96 L158.35 428.74 L158.7 429.49 L159.05 430.81 L159.4 432.78 L159.75 435.27 L160.1 438.09 L160.45 440.87 L160.8 443.16 L161.15 445.03 L161.5 446.51 L161.85 447.67 L162.2 448.67 L162.55 449.7 L162.9 450.9 L163.25 452.31 L163.6 453.93 L163.95 455.73 L164.3 457.59 L164.65 459.36 L165 460.96 L165.35 462.45 L165.7 463.97 L166.05 465.64 L166.4 467.47 L166.75 469.45 L167.1 471.49 L167.45 473.48 L167.8 475.29 L168.15 476.78 L168.5 477.91 L168.85 478.73 L169.2 479.42 L169.55 480.1 L169.9 480.86 L170.25 481.8 L170.6 482.92 L170.95 484.1 L171.3 485.22 L171.65 486.23 L172 487.12 L172.35 487.94 L172.7 488.7 L173.05 489.38 L173.4 490.02 L173.75 490.65 L174.1 491.27 L174.45 491.84 L174.8 492.34 L175.15 492.78 L175.5 493.29 L175.85 493.91 L176.2 494.6 L176.55 495.21 L176.9 495.61 L177.25 495.84 L177.6 496.04 L177.95 496.35 L178.3 496.75 L178.65 497.16 L179 497.52 L179.35 497.82 L179.7 498.09 L180.05 498.34 L180.4 498.58 L180.75 498.87 L181.1 499.2 L181.45 499.55 L181.8 499.85 L182.15 500.08 L182.5 500.26 L182.85 500.4 L183.2 500.52 L183.55 500.61 L183.9 500.72 L184.25 500.88 L184.6 501.1 L184.95 501.34 L185.3 501.5 L185.65 501.52 L186 501.38 L186.35 501.11 L186.7 500.74 L187.05 500.32 L187.4 499.86 L187.75 499.3 L188.1 498.41 L188.45 497.31 L188.8 496.11 L189.15 494.92 L189.5 493.84 L189.85 493.02 L190.2 492.37 L190.55 491.82 L190.9 491.44 L191.25 491.26 L191.6 491.2 L191.95 491.17 L192.3 491.11 L192.65 491.02 L193 490.91 L193.35 490.77 L193.7 490.6 L194.05 490.43 L194.4 490.29 L194.75 490.18 L195.1 490.06 L195.45 489.91 L195.8 489.75 L196.15 489.62 L196.5 489.51 L196.85 489.3 L197.2 488.93 L197.55 488.41 L197.9 487.86 L198.25 487.39 L198.6 487.06 L198.95 486.84 L199.3 486.69 L199.65 486.58 L200 486.46 L200.35 486.33 L200.7 486.13 L201.05 485.9 L201.4 485.66 L201.75 485.49 L202.1 485.4 L202.45 485.36 L202.8 485.33 L203.15 485.32 L203.5 485.35 L203.85 485.4 L204.2 485.39 L204.55 485.28 L204.9 485.08 L205.25 484.82 L205.6 484.55 L205.95 484.3 L206.3 484.05 L206.65 483.77 L207 483.42 L207.35 483.01 L207.7 482.62 L208.05 482.31 L208.4 482.08 L208.75 481.93 L209.1 481.83 L209.45 481.77 L209.8 481.72 L210.15 481.58 L210.5 481.33 L210.85 481 L211.2 480.67 L211.55 480.34 L211.9 480.01 L212.25 479.69 L212.6 479.42 L212.95 479.27 L213.3 479.26 L213.65 479.29 L214 479.28 L214.35 479.2 L214.7 479.08 L215.05 478.96 L215.4 478.83 L215.75 478.63 L216.1 478.4 L216.45 478.22 L216.8 478.13 L217.15 478.1 L217.5 478.07 L217.85 477.96 L218.2 477.84 L218.55 477.76 L218.9 477.77 L219.25 477.78 L219.6 477.72 L219.95 477.56 L220.3 477.33 L220.65 477.1 L221 476.88 L221.35 476.71 L221.7 476.64 L222.05 476.67 L222.4 476.74 L222.75 476.78 L223.1 476.78 L223.45 476.8 L223.8 476.83 L224.15 476.84 L224.5 476.82 L224.85 476.73 L225.2 476.6 L225.55 476.45 L225.9 476.35 L226.25 476.3 L226.6 476.24 L226.95 476.08 L227.3 475.8 L227.65 475.46 L228 475.18 L228.35 475.01 L228.7 474.97 L229.05 474.97 L229.4 474.9 L229.75 474.75 L230.1 474.6 L230.45 474.55 L230.8 474.56 L231.15 474.52 L231.5 474.38 L231.85 474.26 L232.2 474.3 L232.55 474.53 L232.9 474.81 L233.25 475.01 L233.6 475.06 L233.95 474.99 L234.3 474.81 L234.65 474.58 L235 474.34 L235.35 474.14 L235.7 473.99 L236.05 473.87 L236.4 473.81 L236.75 473.82 L237.1 473.94 L237.45 474.1 L237.8 474.18 L238.15 474.09 L238.5 473.84 L238.85 473.53 L239.2 473.26 L239.55 473.06 L239.9 472.95 L240.25 472.91 L240.6 472.93 L240.95 472.99 L241.3 473.07 L241.65 473.1 L242 472.99 L242.35 472.77 L242.7 472.5 L243.05 472.27 L243.4 472.15 L243.75 472.07 L244.1 471.97 L244.45 471.82 L244.8 471.71 L245.15 471.75 L245.5 471.91 L245.85 472.07 L246.2 472.13 L246.55 472.1 L246.9 472.05 L247.25 472.06 L247.6 472.15 L247.95 472.25 L248.3 472.28 L248.65 472.14 L249 471.87 L249.35 471.56 L249.7 471.35 L250.05 471.32 L250.4 471.46 L250.75 471.63 L251.1 471.71 L251.45 471.6 L251.8 471.33 L252.15 470.99 L252.5 470.72 L252.85 470.58 L253.2 470.56 L253.55 470.56 L253.9 470.52 L254.25 470.42 L254.6 470.34 L254.95 470.33 L255.3 470.36 L255.65 470.35 L256 470.23 L256.35 469.9 L256.7 469.36 L257.05 468.79 L257.4 468.46 L257.75 468.57 L258.1 469.02 L258.45 469.57 L258.8 470.05 L259.15 470.39 L259.5 470.59 L259.85 470.67 L260.2 470.63 L260.55 470.5 L260.9 470.38 L261.25 470.4 L261.6 470.64 L261.95 471.05 L262.3 471.44 L262.65 471.6 L263 471.43 L263.35 470.94 L263.7 470.33 L264.05 469.83 L264.4 469.67 L264.75 469.84 L265.1 470.19 L265.45 470.52 L265.8 470.7 L266.15 470.77 L266.5 470.81 L266.85 470.87 L267.2 470.92 L267.55 470.91 L267.9 470.81 L268.25 470.69 L268.6 470.6 L268.95 470.59 L269.3 470.6 L269.65 470.56 L270 470.43 L270.35 470.22 L270.7 470 L271.05 469.84 L271.4 469.81 L271.75 469.87 L272.1 469.97 L272.45 470.04 L272.8 470.09 L273.15 470.15 L273.5 470.22 L273.85 470.26 L274.2 470.24 L274.55 470.17 L274.9 470.03 L275.25 469.83 L275.6 469.6 L275.95 469.4 L276.3 469.32 L276.65 469.41 L277 469.66 L277.35 469.98 L277.7 470.24 L278.05 470.3 L278.4 470.17 L278.75 469.98 L279.1 469.88 L279.45 469.94 L279.8 470.08 L280.15 470.18 L280.5 470.15 L280.85 469.97 L281.2 469.71 L281.55 469.52 L281.9 469.51 L282.25 469.69 L282.6 469.97 L282.95 470.24 L283.3 470.46 L283.65 470.63 L284 470.76 L284.35 470.81 L284.7 470.77 L285.05 470.62 L285.4 470.44 L285.75 470.25 L286.1 470.11 L286.45 470.01 L286.8 469.92 L287.15 469.78 L287.5 469.52 L287.85 469.14 L288.2 468.71 L288.55 468.36 L288.9 468.2 L289.25 468.24 L289.6 468.41 L289.95 468.67 L290.3 468.97 L290.65 469.26 L291 469.49 L291.35 469.61 L291.7 469.66 L292.05 469.64 L292.4 469.55 L292.75 469.41 L293.1 469.27 L293.45 469.19 L293.8 469.2 L294.15 469.24 L294.5 469.28 L294.85 469.32 L295.2 469.36 L295.55 469.42 L295.9 469.51 L296.25 469.61 L296.6 469.7 L296.95 469.77 L297.3 469.83 L297.65 469.85 L298 469.82 L298.35 469.7 L298.7 469.51 L299.05 469.27 L299.4 469.03 L299.75 468.88 L300.1 468.9 L300.45 469.08 L300.8 469.32 L301.15 469.5 L301.5 469.58 L301.85 469.56 L302.2 469.48 L302.55 469.41 L302.9 469.38 L303.25 469.45 L303.6 469.65 L303.95 469.91 L304.3 470.12 L304.65 470.16 L305 470.01 L305.35 469.74 L305.7 469.46 L306.05 469.27 L306.4 469.21 L306.75 469.29 L307.1 469.45 L307.45 469.55 L307.8 469.49 L308.15 469.29 L308.5 469.09 L308.85 469 L309.2 469.08 L309.55 469.29 L309.9 469.55 L310.25 469.73 L310.6 469.71 L310.95 469.45 L311.3 469.05 L311.65 468.7 L312 468.49 L312.35 468.42 L312.7 468.43 L313.05 468.49 L313.4 468.58 L313.75 468.69 L314.1 468.76" fill="none" stroke="#c9a227" stroke-width="1.65" stroke-linejoin="round" stroke-linecap="round" />
<path d="M32 523.67 L32.35 523.88 L32.7 524.16 L33.05 524.42 L33.4 524.62 L33.75 524.74 L34.1 524.79 L34.45 524.76 L34.8 524.7 L35.15 524.6 L35.5 524.49 L35.85 524.37 L36.2 524.26 L36.55 524.21 L36.9 524.26 L37.25 524.45 L37.6 524.73 L37.95 524.98 L38.3 525.09 L38.65 525.01 L39 524.82 L39.35 524.65 L39.7 524.63 L40.05 524.74 L40.4 524.86 L40.75 524.89 L41.1 524.84 L41.45 524.79 L41.8 524.76 L42.15 524.72 L42.5 524.64 L42.85 524.54 L43.2 524.48 L43.55 524.55 L43.9 524.82 L44.25 525.27 L44.6 525.76 L44.95 526.13 L45.3 526.25 L45.65 526.15 L46 525.95 L46.35 525.75 L46.7 525.55 L47.05 525.34 L47.4 525.18 L47.75 525.18 L48.1 525.36 L48.45 525.62 L48.8 525.83 L49.15 525.91 L49.5 525.91 L49.85 525.91 L50.2 525.91 L50.55 525.87 L50.9 525.78 L51.25 525.71 L51.6 525.68 L51.95 525.68 L52.3 525.6 L52.65 525.36 L53 524.98 L53.35 524.56 L53.7 524.25 L54.05 524.05 L54.4 523.89 L54.75 523.73 L55.1 523.58 L55.45 523.5 L55.8 523.53 L56.15 523.65 L56.5 523.8 L56.85 523.91 L57.2 523.9 L57.55 523.76 L57.9 523.59 L58.25 523.53 L58.6 523.66 L58.95 523.94 L59.3 524.24 L59.65 524.45 L60 524.47 L60.35 524.3 L60.7 523.98 L61.05 523.62 L61.4 523.36 L61.75 523.33 L62.1 523.54 L62.45 523.94 L62.8 524.35 L63.15 524.62 L63.5 524.72 L63.85 524.74 L64.2 524.74 L64.55 524.75 L64.9 524.74 L65.25 524.74 L65.6 524.88 L65.95 525.26 L66.3 525.81 L66.65 526.3 L67 526.47 L67.35 526.27 L67.7 525.87 L68.05 525.52 L68.4 525.36 L68.75 525.36 L69.1 525.46 L69.45 525.63 L69.8 525.87 L70.15 526.12 L70.5 526.31 L70.85 526.33 L71.2 526.18 L71.55 525.97 L71.9 525.85 L72.25 525.84 L72.6 525.86 L72.95 525.85 L73.3 525.81 L73.65 525.83 L74 525.96 L74.35 526.12 L74.7 526.19 L75.05 526.07 L75.4 525.81 L75.75 525.54 L76.1 525.37 L76.45 525.37 L76.8 525.54 L77.15 525.8 L77.5 526.06 L77.85 526.3 L78.2 526.47 L78.55 526.59 L78.9 526.65 L79.25 526.7 L79.6 526.74 L79.95 526.79 L80.3 526.83 L80.65 526.82 L81 526.75 L81.35 526.67 L81.7 526.61 L82.05 526.53 L82.4 526.41 L82.75 526.27 L83.1 526.15 L83.45 526.06 L83.8 525.94 L84.15 525.81 L84.5 525.8 L84.85 526.02 L85.2 526.43 L85.55 526.88 L85.9 527.19 L86.25 527.27 L86.6 527.17 L86.95 526.99 L87.3 526.85 L87.65 526.81 L88 526.84 L88.35 526.85 L88.7 526.77 L89.05 526.63 L89.4 526.5 L89.75 526.4 L90.1 526.33 L90.45 526.24 L90.8 526.1 L91.15 525.95 L91.5 525.84 L91.85 525.78 L92.2 525.8 L92.55 525.87 L92.9 526.02 L93.25 526.21 L93.6 526.35 L93.95 526.37 L94.3 526.26 L94.65 526.12 L95 526.06 L95.35 526.05 L95.7 526.04 L96.05 525.94 L96.4 525.75 L96.75 525.56 L97.1 525.43 L97.45 525.38 L97.8 525.37 L98.15 525.38 L98.5 525.5 L98.85 525.75 L99.2 526.11 L99.55 526.49 L99.9 526.84 L100.25 527.15 L100.6 527.38 L100.95 527.49 L101.3 527.53 L101.65 527.55 L102 527.61 L102.35 527.69 L102.7 527.72 L103.05 527.67 L103.4 527.57 L103.75 527.52 L104.1 527.56 L104.45 527.68 L104.8 527.82 L105.15 527.89 L105.5 527.86 L105.85 527.8 L106.2 527.78 L106.55 527.81 L106.9 527.89 L107.25 528.04 L107.6 528.25 L107.95 528.45 L108.3 528.55 L108.65 528.52 L109 528.42 L109.35 528.33 L109.7 528.3 L110.05 528.35 L110.4 528.43 L110.75 528.5 L111.1 528.52 L111.45 528.49 L111.8 528.46 L112.15 528.45 L112.5 528.48 L112.85 528.58 L113.2 528.74 L113.55 528.91 L113.9 528.95 L114.25 528.78 L114.6 528.43 L114.95 528.09 L115.3 527.93 L115.65 527.98 L116 528.14 L116.35 528.3 L116.7 528.43 L117.05 528.49 L117.4 528.52 L117.75 528.51 L118.1 528.47 L118.45 528.37 L118.8 528.24 L119.15 528.13 L119.5 528.09 L119.85 528.03 L120.2 527.89 L120.55 527.7 L120.9 527.63 L121.25 527.8 L121.6 528.16 L121.95 528.5 L122.3 528.61 L122.65 528.45 L123 528.16 L123.35 527.92 L123.7 527.86 L124.05 527.98 L124.4 528.18 L124.75 528.33 L125.1 528.33 L125.45 528.16 L125.8 527.93 L126.15 527.77 L126.5 527.73 L126.85 527.77 L127.2 527.88 L127.55 528.06 L127.9 528.34 L128.25 528.69 L128.6 529.04 L128.95 529.32 L129.3 529.47 L129.65 529.48 L130 529.41 L130.35 529.4 L130.7 529.5 L131.05 529.66 L131.4 529.71 L131.75 529.58 L132.1 529.26 L132.45 528.83 L132.8 528.35 L133.15 527.96 L133.5 527.79 L133.85 527.86 L134.2 528.05 L134.55 528.2 L134.9 528.24 L135.25 528.21 L135.6 528.2 L135.95 528.25 L136.3 528.34 L136.65 528.45 L137 528.54 L137.35 528.61 L137.7 528.65 L138.05 528.65 L138.4 528.61 L138.75 528.5 L139.1 528.37 L139.45 528.26 L139.8 528.24 L140.15 528.33 L140.5 528.47 L140.85 528.56 L141.2 528.58 L141.55 528.54 L141.9 528.52 L142.25 528.53 L142.6 528.53 L142.95 528.5 L143.3 528.44 L143.65 528.36 L144 528.28 L144.35 528.19 L144.7 528.12 L145.05 528.1 L145.4 528.17 L145.75 528.32 L146.1 528.53 L146.45 528.72 L146.8 528.84 L147.15 528.88 L147.5 528.88 L147.85 528.89 L148.2 528.9 L148.55 528.92 L148.9 528.9 L149.25 528.85 L149.6 528.77 L149.95 528.72 L150.3 528.7 L150.65 528.67 L151 528.6 L151.35 528.46 L151.7 528.23 L152.05 527.88 L152.4 527.47 L152.75 527.08 L153.1 526.85 L153.45 526.85 L153.8 527.07 L154.15 527.38 L154.5 527.58 L154.85 527.57 L155.2 527.4 L155.55 527.23 L155.9 527.17 L156.25 527.18 L156.6 527.13 L156.95 526.9 L157.3 526.57 L157.65 526.34 L158 526.38 L158.35 526.64 L158.7 526.94 L159.05 527.12 L159.4 527.15 L159.75 527.12 L160.1 527.1 L160.45 527.1 L160.8 527.1 L161.15 527.1 L161.5 527.16 L161.85 527.31 L162.2 527.6 L162.55 527.98 L162.9 528.33 L163.25 528.53 L163.6 528.58 L163.95 528.56 L164.3 528.57 L164.65 528.58 L165 528.6 L165.35 528.65 L165.7 528.75 L166.05 528.84 L166.4 528.88 L166.75 528.83 L167.1 528.72 L167.45 528.58 L167.8 528.45 L168.15 528.38 L168.5 528.39 L168.85 528.43 L169.2 528.42 L169.55 528.34 L169.9 528.2 L170.25 528.11 L170.6 528.17 L170.95 528.44 L171.3 528.84 L171.65 529.26 L172 529.58 L172.35 529.73 L172.7 529.73 L173.05 529.66 L173.4 529.64 L173.75 529.72 L174.1 529.88 L174.45 530.03 L174.8 530.06 L175.15 530 L175.5 529.93 L175.85 529.96 L176.2 530.08 L176.55 530.19 L176.9 530.2 L177.25 530.14 L177.6 530.03 L177.95 529.88 L178.3 529.73 L178.65 529.67 L179 529.79 L179.35 530.09 L179.7 530.52 L180.05 530.94 L180.4 531.23 L180.75 531.38 L181.1 531.46 L181.45 531.58 L181.8 531.82 L182.15 532.11 L182.5 532.35 L182.85 532.44 L183.2 532.4 L183.55 532.31 L183.9 532.24 L184.25 532.19 L184.6 532.15 L184.95 532.06 L185.3 531.85 L185.65 531.53 L186 531.17 L186.35 530.88 L186.7 530.69 L187.05 530.59 L187.4 530.56 L187.75 530.62 L188.1 530.78 L188.45 530.99 L188.8 531.23 L189.15 531.45 L189.5 531.58 L189.85 531.58 L190.2 531.41 L190.55 531.09 L190.9 530.68 L191.25 530.29 L191.6 530.02 L191.95 529.95 L192.3 530.07 L192.65 530.26 L193 530.42 L193.35 530.48 L193.7 530.45 L194.05 530.42 L194.4 530.44 L194.75 530.52 L195.1 530.61 L195.45 530.64 L195.8 530.59 L196.15 530.49 L196.5 530.28 L196.85 529.97 L197.2 529.66 L197.55 529.48 L197.9 529.52 L198.25 529.69 L198.6 529.86 L198.95 529.91 L199.3 529.84 L199.65 529.75 L200 529.68 L200.35 529.56 L200.7 529.34 L201.05 529.05 L201.4 528.84 L201.75 528.81 L202.1 528.92 L202.45 529.09 L202.8 529.26 L203.15 529.39 L203.5 529.48 L203.85 529.5 L204.2 529.41 L204.55 529.24 L204.9 529.08 L205.25 528.96 L205.6 528.88 L205.95 528.78 L206.3 528.65 L206.65 528.56 L207 528.59 L207.35 528.83 L207.7 529.23 L208.05 529.6 L208.4 529.78 L208.75 529.7 L209.1 529.52 L209.45 529.43 L209.8 529.52 L210.15 529.71 L210.5 529.85 L210.85 529.88 L211.2 529.87 L211.55 529.89 L211.9 529.97 L212.25 530.03 L212.6 530 L212.95 529.87 L213.3 529.66 L213.65 529.43 L214 529.25 L214.35 529.16 L214.7 529.17 L215.05 529.25 L215.4 529.39 L215.75 529.52 L216.1 529.6 L216.45 529.6 L216.8 529.54 L217.15 529.46 L217.5 529.4 L217.85 529.38 L218.2 529.37 L218.55 529.37 L218.9 529.35 L219.25 529.35 L219.6 529.41 L219.95 529.45 L220.3 529.38 L220.65 529.17 L221 528.96 L221.35 528.91 L221.7 529.06 L222.05 529.27 L222.4 529.36 L222.75 529.28 L223.1 529.13 L223.45 529.02 L223.8 529.01 L224.15 529.05 L224.5 529.06 L224.85 528.99 L225.2 528.88 L225.55 528.74 L225.9 528.51 L226.25 528.2 L226.6 527.93 L226.95 527.89 L227.3 528.13 L227.65 528.6 L228 529.12 L228.35 529.51 L228.7 529.67 L229.05 529.63 L229.4 529.52 L229.75 529.39 L230.1 529.23 L230.45 529.06 L230.8 528.9 L231.15 528.82 L231.5 528.87 L231.85 529 L232.2 529.08 L232.55 529.03 L232.9 528.88 L233.25 528.72 L233.6 528.6 L233.95 528.53 L234.3 528.5 L234.65 528.53 L235 528.64 L235.35 528.79 L235.7 528.92 L236.05 528.98 L236.4 528.95 L236.75 528.89 L237.1 528.9 L237.45 528.99 L237.8 529.13 L238.15 529.23 L238.5 529.24 L238.85 529.15 L239.2 528.98 L239.55 528.76 L239.9 528.54 L240.25 528.34 L240.6 528.2 L240.95 528.17 L241.3 528.32 L241.65 528.61 L242 528.96 L242.35 529.24 L242.7 529.38 L243.05 529.38 L243.4 529.29 L243.75 529.18 L244.1 529.16 L244.45 529.24 L244.8 529.33 L245.15 529.31 L245.5 529.16 L245.85 529 L246.2 528.97 L246.55 529.1 L246.9 529.25 L247.25 529.23 L247.6 529 L247.95 528.69 L248.3 528.48 L248.65 528.41 L249 528.41 L249.35 528.4 L249.7 528.39 L250.05 528.47 L250.4 528.7 L250.75 528.95 L251.1 529.07 L251.45 528.95 L251.8 528.64 L252.15 528.28 L252.5 528 L252.85 527.86 L253.2 527.85 L253.55 527.94 L253.9 528.1 L254.25 528.23 L254.6 528.23 L254.95 528.1 L255.3 527.89 L255.65 527.68 L256 527.52 L256.35 527.46 L256.7 527.57 L257.05 527.85 L257.4 528.22 L257.75 528.47 L258.1 528.48 L258.45 528.3 L258.8 528.11 L259.15 528.04 L259.5 528.05 L259.85 528.02 L260.2 527.88 L260.55 527.7 L260.9 527.58 L261.25 527.61 L261.6 527.76 L261.95 527.95 L262.3 528.1 L262.65 528.21 L263 528.28 L263.35 528.33 L263.7 528.33 L264.05 528.23 L264.4 528.03 L264.75 527.78 L265.1 527.52 L265.45 527.27 L265.8 527.01 L266.15 526.82 L266.5 526.77 L266.85 526.91 L267.2 527.15 L267.55 527.4 L267.9 527.62 L268.25 527.78 L268.6 527.84 L268.95 527.78 L269.3 527.65 L269.65 527.54 L270 527.53 L270.35 527.64 L270.7 527.81 L271.05 527.95 L271.4 527.99 L271.75 527.9 L272.1 527.73 L272.45 527.59 L272.8 527.58 L273.15 527.76 L273.5 528.09 L273.85 528.47 L274.2 528.75 L274.55 528.84 L274.9 528.78 L275.25 528.61 L275.6 528.4 L275.95 528.2 L276.3 528.07 L276.65 528.05 L277 528.13 L277.35 528.25 L277.7 528.39 L278.05 528.53 L278.4 528.66 L278.75 528.75 L279.1 528.78 L279.45 528.7 L279.8 528.48 L280.15 528.19 L280.5 527.88 L280.85 527.62 L281.2 527.42 L281.55 527.28 L281.9 527.14 L282.25 526.99 L282.6 526.84 L282.95 526.74 L283.3 526.72 L283.65 526.76 L284 526.81 L284.35 526.8 L284.7 526.7 L285.05 526.53 L285.4 526.38 L285.75 526.34 L286.1 526.46 L286.45 526.71 L286.8 526.98 L287.15 527.19 L287.5 527.29 L287.85 527.29 L288.2 527.23 L288.55 527.17 L288.9 527.19 L289.25 527.3 L289.6 527.42 L289.95 527.48 L290.3 527.5 L290.65 527.61 L291 527.87 L291.35 528.2 L291.7 528.46 L292.05 528.6 L292.4 528.62 L292.75 528.58 L293.1 528.49 L293.45 528.32 L293.8 528.06 L294.15 527.72 L294.5 527.37 L294.85 527.11 L295.2 527.03 L295.55 527.12 L295.9 527.3 L296.25 527.44 L296.6 527.45 L296.95 527.39 L297.3 527.35 L297.65 527.37 L298 527.46 L298.35 527.53 L298.7 527.51 L299.05 527.4 L299.4 527.26 L299.75 527.14 L300.1 527.04 L300.45 526.91 L300.8 526.77 L301.15 526.72 L301.5 526.83 L301.85 527.04 L302.2 527.2 L302.55 527.23 L302.9 527.13 L303.25 526.96 L303.6 526.73 L303.95 526.48 L304.3 526.24 L304.65 526.07 L305 526.02 L305.35 526.1 L305.7 526.27 L306.05 526.47 L306.4 526.59 L306.75 526.6 L307.1 526.53 L307.45 526.47 L307.8 526.51 L308.15 526.65 L308.5 526.85 L308.85 527.07 L309.2 527.27 L309.55 527.41 L309.9 527.49 L310.25 527.53 L310.6 527.54 L310.95 527.53 L311.3 527.5 L311.65 527.48 L312 527.47 L312.35 527.47 L312.7 527.47 L313.05 527.52 L313.4 527.66 L313.75 527.88 L314.1 528.04" fill="none" stroke="#000" stroke-width="1.65" stroke-linejoin="round" stroke-linecap="round" />
<rect x="115.8" y="342.6" width="93.8" height="163" fill="none" stroke="#303030" stroke-width="1.35" stroke-dasharray="1.35 1.75"/>
<rect x="31.9" y="302.9" width="282.6" height="241.5" fill="none" stroke="#000" stroke-width="1.75" />
<line x1="57.8" y1="544.4" x2="57.8" y2="547.8" stroke="#000" stroke-width="1.3" />
<line x1="109.3" y1="544.4" x2="109.3" y2="547.8" stroke="#000" stroke-width="1.3" />
<line x1="160.8" y1="544.4" x2="160.8" y2="547.8" stroke="#000" stroke-width="1.3" />
<line x1="212.3" y1="544.4" x2="212.3" y2="547.8" stroke="#000" stroke-width="1.3" />
<line x1="263.8" y1="544.4" x2="263.8" y2="547.8" stroke="#000" stroke-width="1.3" />
<line x1="32.05" y1="544.4" x2="32.05" y2="546.6" stroke="#000" stroke-width="1.2" />
<line x1="83.55" y1="544.4" x2="83.55" y2="546.6" stroke="#000" stroke-width="1.2" />
<line x1="135.05" y1="544.4" x2="135.05" y2="546.6" stroke="#000" stroke-width="1.2" />
<line x1="186.55" y1="544.4" x2="186.55" y2="546.6" stroke="#000" stroke-width="1.2" />
<line x1="238.05" y1="544.4" x2="238.05" y2="546.6" stroke="#000" stroke-width="1.2" />
<line x1="289.55" y1="544.4" x2="289.55" y2="546.6" stroke="#000" stroke-width="1.2" />
<text x="47.26" y="557.7" font-family="Liberation Sans" font-weight="bold" font-size="11.8" fill="#000" stroke="#000" stroke-width="0.18" stroke-linejoin="round" text-anchor="start" textLength="21.08" lengthAdjust="spacing" xml:space="preserve"><tspan>300</tspan></text>
<text x="98.76" y="557.7" font-family="Liberation Sans" font-weight="bold" font-size="11.8" fill="#000" stroke="#000" stroke-width="0.18" stroke-linejoin="round" text-anchor="start" textLength="21.08" lengthAdjust="spacing" xml:space="preserve"><tspan>320</tspan></text>
<text x="150.26" y="557.7" font-family="Liberation Sans" font-weight="bold" font-size="11.8" fill="#000" stroke="#000" stroke-width="0.18" stroke-linejoin="round" text-anchor="start" textLength="21.08" lengthAdjust="spacing" xml:space="preserve"><tspan>340</tspan></text>
<text x="201.76" y="557.7" font-family="Liberation Sans" font-weight="bold" font-size="11.8" fill="#000" stroke="#000" stroke-width="0.18" stroke-linejoin="round" text-anchor="start" textLength="21.08" lengthAdjust="spacing" xml:space="preserve"><tspan>360</tspan></text>
<text x="253.26" y="557.7" font-family="Liberation Sans" font-weight="bold" font-size="11.8" fill="#000" stroke="#000" stroke-width="0.18" stroke-linejoin="round" text-anchor="start" textLength="21.08" lengthAdjust="spacing" xml:space="preserve"><tspan>380</tspan></text>
<text x="35.2" y="339.4" font-family="Liberation Sans" font-weight="bold" font-size="11.2" fill="#222" stroke="#222" stroke-width="0.18" stroke-linejoin="round" text-anchor="start" textLength="28.2" lengthAdjust="spacing" xml:space="preserve"><tspan>Light</tspan></text>
<text x="35.2" y="382.2" font-family="Liberation Sans" font-weight="bold" font-size="11.2" fill="#222" stroke="#222" stroke-width="0.18" stroke-linejoin="round" text-anchor="start" textLength="28.2" lengthAdjust="spacing" xml:space="preserve"><tspan>Light</tspan></text>
<text x="35.2" y="423.1" font-family="Liberation Sans" font-weight="bold" font-size="11.2" fill="#222" stroke="#222" stroke-width="0.18" stroke-linejoin="round" text-anchor="start" textLength="28.2" lengthAdjust="spacing" xml:space="preserve"><tspan>Light</tspan></text>
<text x="35.2" y="460.9" font-family="Liberation Sans" font-weight="bold" font-size="11.2" fill="#222" stroke="#222" stroke-width="0.18" stroke-linejoin="round" text-anchor="start" textLength="28.2" lengthAdjust="spacing" xml:space="preserve"><tspan>Light</tspan></text>
<text x="35.2" y="520.4" font-family="Liberation Sans" font-weight="bold" font-size="11.2" fill="#222" stroke="#222" stroke-width="0.18" stroke-linejoin="round" text-anchor="start" textLength="25.2" lengthAdjust="spacing" xml:space="preserve"><tspan>Dark</tspan></text>
<text x="101.8" y="336.9" font-family="Liberation Sans" font-weight="bold" font-size="10.6" fill="#222" stroke="#222" stroke-width="0.18" stroke-linejoin="round" text-anchor="start" textLength="124.8" lengthAdjust="spacing" xml:space="preserve"><tspan>Tetra-coordinated Mo</tspan><tspan dy="-4.88" font-size="5.3">5+</tspan></text>
<text x="227.8" y="316.9" font-family="Liberation Sans" font-weight="bold" font-size="10.2" fill="#000" stroke="#000" stroke-width="0.18" stroke-linejoin="round" text-anchor="start" textLength="83" lengthAdjust="spacing" xml:space="preserve"><tspan>0.5%MoO</tspan><tspan dy="2.04" font-size="5.1">x</tspan><tspan dy="-2.04">-TiO</tspan><tspan dy="2.04" font-size="5.1">2</tspan></text>
<text x="270.5" y="347.7" font-family="Liberation Sans" font-weight="bold" font-size="10.8" fill="#000" stroke="#000" stroke-width="0.18" stroke-linejoin="round" text-anchor="start" textLength="38.5" lengthAdjust="spacing" xml:space="preserve"><tspan>CH</tspan><tspan dy="2.16" font-size="5.4">4</tspan><tspan dy="-2.16">+O</tspan><tspan dy="2.16" font-size="5.4">2</tspan></text>
<text x="300.1" y="383.7" font-family="Liberation Sans" font-weight="bold" font-size="10.8" fill="#000" stroke="#000" stroke-width="0.18" stroke-linejoin="round" text-anchor="start" textLength="11.3" lengthAdjust="spacing" xml:space="preserve"><tspan>O</tspan><tspan dy="2.16" font-size="5.4">2</tspan></text>
<text x="291.3" y="423.1" font-family="Liberation Sans" font-weight="bold" font-size="10.8" fill="#000" stroke="#000" stroke-width="0.18" stroke-linejoin="round" text-anchor="start" textLength="19.5" lengthAdjust="spacing" xml:space="preserve"><tspan>CH</tspan><tspan dy="2.16" font-size="5.4">4</tspan></text>
<text x="301" y="461.9" font-family="Liberation Sans" font-weight="bold" font-size="10.8" fill="#000" stroke="#000" stroke-width="0.18" stroke-linejoin="round" text-anchor="start" textLength="11.4" lengthAdjust="spacing" xml:space="preserve"><tspan>N</tspan><tspan dy="2.16" font-size="5.4">2</tspan></text>
<text x="301" y="521.2" font-family="Liberation Sans" font-weight="bold" font-size="10.8" fill="#000" stroke="#000" stroke-width="0.18" stroke-linejoin="round" text-anchor="start" textLength="11.4" lengthAdjust="spacing" xml:space="preserve"><tspan>N</tspan><tspan dy="2.16" font-size="5.4">2</tspan></text>
<text x="110.4" y="575.1" font-family="Liberation Sans" font-weight="bold" font-size="12.4" fill="#000" stroke="#000" stroke-width="0.18" stroke-linejoin="round" text-anchor="start" textLength="127" lengthAdjust="spacing" xml:space="preserve"><tspan>Magnetic Field (mT)</tspan></text>
<text x="0" y="327.1" font-family="Liberation Sans" font-weight="bold" font-size="21" fill="#000" stroke="#000" stroke-width="0.18" stroke-linejoin="round" text-anchor="start" xml:space="preserve"><tspan>c</tspan></text>
<path d="M391.4 342.66 L391.8 342.68 L392.2 342.7 L392.6 342.72 L393 342.72 L393.4 342.71 L393.8 342.7 L394.2 342.7 L394.6 342.7 L395 342.72 L395.4 342.76 L395.8 342.81 L396.2 342.85 L396.6 342.87 L397 342.86 L397.4 342.84 L397.8 342.8 L398.2 342.75 L398.6 342.69 L399 342.63 L399.4 342.57 L399.8 342.53 L400.2 342.51 L400.6 342.52 L401 342.57 L401.4 342.63 L401.8 342.69 L402.2 342.73 L402.6 342.73 L403 342.69 L403.4 342.62 L403.8 342.55 L404.2 342.48 L404.6 342.43 L405 342.4 L405.4 342.4 L405.8 342.42 L406.2 342.46 L406.6 342.5 L407 342.52 L407.4 342.51 L407.8 342.47 L408.2 342.42 L408.6 342.38 L409 342.35 L409.4 342.35 L409.8 342.36 L410.2 342.38 L410.6 342.4 L411 342.43 L411.4 342.45 L411.8 342.47 L412.2 342.47 L412.6 342.45 L413 342.42 L413.4 342.35 L413.8 342.25 L414.2 342.13 L414.6 342.01 L415 341.9 L415.4 341.82 L415.8 341.78 L416.2 341.76 L416.6 341.77 L417 341.8 L417.4 341.86 L417.8 341.95 L418.2 342.07 L418.6 342.21 L419 342.32 L419.4 342.37 L419.8 342.35 L420.2 342.26 L420.6 342.13 L421 341.99 L421.4 341.86 L421.8 341.76 L422.2 341.69 L422.6 341.64 L423 341.6 L423.4 341.56 L423.8 341.56 L424.2 341.6 L424.6 341.67 L425 341.73 L425.4 341.75 L425.8 341.71 L426.2 341.63 L426.6 341.54 L427 341.45 L427.4 341.39 L427.8 341.35 L428.2 341.32 L428.6 341.29 L429 341.28 L429.4 341.28 L429.8 341.31 L430.2 341.39 L430.6 341.48 L431 341.56 L431.4 341.61 L431.8 341.62 L432.2 341.61 L432.6 341.59 L433 341.58 L433.4 341.57 L433.8 341.58 L434.2 341.6 L434.6 341.6 L435 341.57 L435.4 341.51 L435.8 341.43 L436.2 341.33 L436.6 341.25 L437 341.18 L437.4 341.11 L437.8 341.05 L438.2 341 L438.6 340.95 L439 340.91 L439.4 340.87 L439.8 340.84 L440.2 340.82 L440.6 340.8 L441 340.79 L441.4 340.77 L441.8 340.76 L442.2 340.76 L442.6 340.77 L443 340.79 L443.4 340.81 L443.8 340.81 L444.2 340.79 L444.6 340.75 L445 340.67 L445.4 340.56 L445.8 340.43 L446.2 340.27 L446.6 340.12 L447 340 L447.4 339.96 L447.8 340 L448.2 340.11 L448.6 340.24 L449 340.35 L449.4 340.39 L449.8 340.33 L450.2 340.21 L450.6 340.03 L451 339.86 L451.4 339.72 L451.8 339.63 L452.2 339.57 L452.6 339.52 L453 339.45 L453.4 339.36 L453.8 339.25 L454.2 339.1 L454.6 338.94 L455 338.79 L455.4 338.65 L455.8 338.53 L456.2 338.38 L456.6 338.18 L457 337.89 L457.4 337.52 L457.8 337.08 L458.2 336.61 L458.6 336.15 L459 335.73 L459.4 335.34 L459.8 334.92 L460.2 334.47 L460.6 333.98 L461 333.45 L461.4 332.87 L461.8 332.24 L462.2 331.57 L462.6 330.88 L463 330.18 L463.4 329.5 L463.8 328.8 L464.2 328.01 L464.6 327.17 L465 326.29 L465.4 325.41 L465.8 324.55 L466.2 323.7 L466.6 322.88 L467 322.14 L467.4 321.49 L467.8 320.83 L468.2 320.18 L468.6 319.57 L469 319.04 L469.4 318.63 L469.8 318.35 L470.2 318.23 L470.6 318.29 L471 318.53 L471.4 318.91 L471.8 319.41 L472.2 319.99 L472.6 320.63 L473 321.3 L473.4 321.98 L473.8 322.83 L474.2 323.89 L474.6 325.08 L475 326.34 L475.4 327.59 L475.8 328.79 L476.2 329.85 L476.6 330.75 L477 331.56 L477.4 332.37 L477.8 333.18 L478.2 333.98 L478.6 334.76 L479 335.47 L479.4 336.1 L479.8 336.62 L480.2 337.04 L480.6 337.37 L481 337.65 L481.4 337.89 L481.8 338.13 L482.2 338.36 L482.6 338.57 L483 338.78 L483.4 338.98 L483.8 339.18 L484.2 339.38 L484.6 339.57 L485 339.74 L485.4 339.91 L485.8 340.1 L486.2 340.31 L486.6 340.55 L487 340.8 L487.4 341.04 L487.8 341.22 L488.2 341.33 L488.6 341.38 L489 341.38 L489.4 341.37 L489.8 341.34 L490.2 341.3 L490.6 341.22 L491 341.1 L491.4 340.95 L491.8 340.76 L492.2 340.56 L492.6 340.35 L493 340.12 L493.4 339.87 L493.8 339.58 L494.2 339.27 L494.6 338.99 L495 338.75 L495.4 338.58 L495.8 338.47 L496.2 338.4 L496.6 338.35 L497 338.29 L497.4 338.25 L497.8 338.22 L498.2 338.21 L498.6 338.21 L499 338.25 L499.4 338.32 L499.8 338.45 L500.2 338.63 L500.6 338.86 L501 339.1 L501.4 339.33 L501.8 339.5 L502.2 339.61 L502.6 339.69 L503 339.76 L503.4 339.85 L503.8 339.96 L504.2 340.08 L504.6 340.19 L505 340.27 L505.4 340.31 L505.8 340.33 L506.2 340.35 L506.6 340.39 L507 340.48 L507.4 340.6 L507.8 340.73 L508.2 340.84 L508.6 340.93 L509 340.97 L509.4 341 L509.8 341.04 L510.2 341.09 L510.6 341.15 L511 341.21 L511.4 341.24 L511.8 341.24 L512.2 341.24 L512.6 341.25 L513 341.28 L513.4 341.32 L513.8 341.33 L514.2 341.3 L514.6 341.24 L515 341.18 L515.4 341.14 L515.8 341.1 L516.2 341 L516.6 340.81 L517 340.52 L517.4 340.16 L517.8 339.79 L518.2 339.48 L518.6 339.27 L519 339.14 L519.4 339.06 L519.8 339.01 L520.2 338.95 L520.6 338.87 L521 338.75 L521.4 338.61 L521.8 338.45 L522.2 338.27 L522.6 338.08 L523 337.91 L523.4 337.79 L523.8 337.74 L524.2 337.73 L524.6 337.73 L525 337.73 L525.4 337.72 L525.8 337.73 L526.2 337.74 L526.6 337.76 L527 337.78 L527.4 337.77 L527.8 337.72 L528.2 337.65 L528.6 337.56 L529 337.48 L529.4 337.41 L529.8 337.37 L530.2 337.37 L530.6 337.39 L531 337.42 L531.4 337.46 L531.8 337.5 L532.2 337.54 L532.6 337.59 L533 337.64 L533.4 337.68 L533.8 337.71 L534.2 337.73 L534.6 337.73 L535 337.73 L535.4 337.74 L535.8 337.76 L536.2 337.78 L536.6 337.77 L537 337.75 L537.4 337.7 L537.8 337.64 L538.2 337.6 L538.6 337.58 L539 337.58 L539.4 337.6 L539.8 337.62 L540.2 337.64 L540.6 337.68 L541 337.72 L541.4 337.76 L541.8 337.8 L542.2 337.82 L542.6 337.83 L543 337.82 L543.4 337.79 L543.8 337.75 L544.2 337.71 L544.6 337.65 L545 337.51 L545.4 337.28 L545.8 336.99 L546.2 336.64 L546.6 336.24 L547 335.8 L547.4 335.32 L547.8 334.82 L548.2 334.3 L548.6 333.76 L549 333.2 L549.4 332.53 L549.8 331.71 L550.2 330.79 L550.6 329.83 L551 328.85 L551.4 327.87 L551.8 326.89 L552.2 325.92 L552.6 325 L553 324.16 L553.4 323.33 L553.8 322.45 L554.2 321.58 L554.6 320.79 L555 320.17 L555.4 319.79 L555.8 319.72 L556.2 319.89 L556.6 320.19 L557 320.59 L557.4 321.03 L557.8 321.48 L558.2 321.91 L558.6 322.3 L559 322.62 L559.4 322.88 L559.8 323.11 L560.2 323.32 L560.6 323.51 L561 323.7 L561.4 323.92 L561.8 324.17 L562.2 324.44 L562.6 324.71 L563 324.98 L563.4 325.21 L563.8 325.4 L564.2 325.54 L564.6 325.64 L565 325.75 L565.4 325.91 L565.8 326.14 L566.2 326.45 L566.6 326.81 L567 327.19 L567.4 327.55 L567.8 327.88 L568.2 328.23 L568.6 328.77 L569 329.5 L569.4 330.38 L569.8 331.36 L570.2 332.36 L570.6 333.31 L571 334.13 L571.4 334.76 L571.8 335.14 L572.2 335.24 L572.6 335.31 L573 335.36 L573.4 335.37 L573.8 335.31 L574.2 335.19 L574.6 335.01 L575 334.83 L575.4 334.66 L575.8 334.53 L576.2 334.42 L576.6 334.31 L577 334.18 L577.4 334.03 L577.8 333.88 L578.2 333.71 L578.6 333.51 L579 333.26 L579.4 332.96 L579.8 332.61 L580.2 332.26 L580.6 331.92 L581 331.61 L581.4 331.34 L581.8 331.11 L582.2 330.91 L582.6 330.72 L583 330.55 L583.4 330.38 L583.8 330.23 L584.2 330.12 L584.6 330.07 L585 330.12 L585.4 330.25 L585.8 330.44 L586.2 330.67 L586.6 330.91 L587 331.15 L587.4 331.36 L587.8 331.53 L588.2 331.68 L588.6 331.8 L589 331.91 L589.4 331.99 L589.8 332.04 L590.2 332.07 L590.6 332.06 L591 332.02 L591.4 331.94 L591.8 331.82 L592.2 331.68 L592.6 331.5 L593 331.29 L593.4 331.04 L593.8 330.76 L594.2 330.46 L594.6 330.15 L595 329.83 L595.4 329.52 L595.8 329.24 L596.2 329 L596.6 328.81 L597 328.66 L597.4 328.56 L597.8 328.52 L598.2 328.53 L598.6 328.58 L599 328.69 L599.4 328.86 L599.8 329.11 L600.2 329.45 L600.6 329.87 L601 330.35 L601.4 330.83 L601.8 331.27 L602.2 331.64 L602.6 331.93 L603 332.15 L603.4 332.37 L603.8 332.64 L604.2 332.98 L604.6 333.36 L605 333.77 L605.4 334.18 L605.8 334.57 L606.2 334.91 L606.6 335.18 L607 335.34 L607.4 335.4 L607.8 335.36 L608.2 335.29 L608.6 335.24 L609 335.24 L609.4 335.3 L609.8 335.37 L610.2 335.38 L610.6 335.31 L611 335.18 L611.4 335.04 L611.8 334.93 L612.2 334.88 L612.6 334.87 L613 334.86 L613.4 334.84 L613.8 334.8 L614.2 334.76 L614.6 334.75 L615 334.8 L615.4 334.94 L615.8 335.16 L616.2 335.43 L616.6 335.7 L617 335.95 L617.4 336.15 L617.8 336.33 L618.2 336.5 L618.6 336.7 L619 336.91 L619.4 337.13 L619.8 337.33 L620.2 337.48 L620.6 337.61 L621 337.74 L621.4 337.88 L621.8 338.06 L622.2 338.29 L622.6 338.55 L623 338.83 L623.4 339.12 L623.8 339.38 L624.2 339.61 L624.6 339.8 L625 339.92 L625.4 340 L625.8 340.02 L626.2 340.02 L626.6 339.99 L627 339.96 L627.4 339.96 L627.8 339.99 L628.2 340.04 L628.6 340.09 L629 340.07 L629.4 339.97 L629.8 339.81 L630.2 339.63 L630.6 339.47 L631 339.34 L631.4 339.22 L631.8 339.08 L632.2 338.92 L632.6 338.73 L633 338.53 L633.4 338.35 L633.8 338.18 L634.2 338.01 L634.6 337.85 L635 337.71 L635.4 337.59 L635.8 337.51 L636.2 337.5 L636.6 337.58 L637 337.74 L637.4 337.97 L637.8 338.26 L638.2 338.58 L638.6 338.89 L639 339.17 L639.4 339.41 L639.8 339.61 L640.2 339.8 L640.6 340 L641 340.21 L641.4 340.45 L641.8 340.71 L642.2 340.98 L642.6 341.22 L643 341.4 L643.4 341.49 L643.8 341.49 L644.2 341.44 L644.6 341.37 L645 341.29 L645.4 341.21 L645.8 341.12 L646.2 341.04 L646.6 340.99 L647 340.96 L647.4 340.97 L647.8 341 L648.2 341.05 L648.6 341.09 L649 341.14 L649.4 341.17 L649.8 341.2 L650.2 341.21 L650.6 341.17 L651 341.1 L651.4 340.98 L651.8 340.84 L652.2 340.7 L652.6 340.58 L653 340.5 L653.4 340.48 L653.8 340.5 L654.2 340.54 L654.6 340.57 L655 340.59 L655.4 340.6 L655.8 340.62 L656.2 340.66 L656.6 340.71 L657 340.78 L657.4 340.86 L657.8 340.95 L658.2 341.05 L658.6 341.16 L659 341.28 L659.4 341.38 L659.8 341.47 L660.2 341.56 L660.6 341.65 L661 341.74 L661.4 341.82 L661.8 341.88 L662.2 341.92 L662.6 341.92 L663 341.89 L663.4 341.84 L663.8 341.82 L664.2 341.84 L664.6 341.89 L665 341.94 L665.4 341.96 L665.8 341.94 L666.2 341.9 L666.6 341.84 L667 341.81 L667.4 341.81 L667.8 341.82 L668.2 341.81 L668.6 341.76 L669 341.69 L669.4 341.6 L669.8 341.52 L670.2 341.46 L670.6 341.43 L671 341.43 L671.4 341.45 L671.8 341.46 L672.2 341.46 L672.6 341.42 L673 341.36" fill="none" stroke="#ff1a1a" stroke-width="1.5" stroke-linejoin="round" stroke-linecap="round" />
<path d="M391.4 380.62 L391.8 380.63 L392.2 380.64 L392.6 380.66 L393 380.66 L393.4 380.64 L393.8 380.6 L394.2 380.55 L394.6 380.51 L395 380.49 L395.4 380.46 L395.8 380.42 L396.2 380.36 L396.6 380.28 L397 380.2 L397.4 380.13 L397.8 380.07 L398.2 380.03 L398.6 379.99 L399 379.91 L399.4 379.79 L399.8 379.62 L400.2 379.43 L400.6 379.24 L401 379.09 L401.4 378.98 L401.8 378.93 L402.2 378.92 L402.6 378.93 L403 378.95 L403.4 378.95 L403.8 378.95 L404.2 378.95 L404.6 378.99 L405 379.08 L405.4 379.23 L405.8 379.41 L406.2 379.6 L406.6 379.78 L407 379.94 L407.4 380.09 L407.8 380.25 L408.2 380.41 L408.6 380.58 L409 380.75 L409.4 380.93 L409.8 381.11 L410.2 381.26 L410.6 381.38 L411 381.47 L411.4 381.55 L411.8 381.62 L412.2 381.68 L412.6 381.72 L413 381.73 L413.4 381.74 L413.8 381.74 L414.2 381.74 L414.6 381.76 L415 381.77 L415.4 381.77 L415.8 381.76 L416.2 381.72 L416.6 381.66 L417 381.59 L417.4 381.5 L417.8 381.37 L418.2 381.22 L418.6 381.05 L419 380.85 L419.4 380.66 L419.8 380.47 L420.2 380.31 L420.6 380.16 L421 380.03 L421.4 379.91 L421.8 379.78 L422.2 379.64 L422.6 379.51 L423 379.38 L423.4 379.28 L423.8 379.21 L424.2 379.17 L424.6 379.14 L425 379.1 L425.4 379.05 L425.8 378.99 L426.2 378.96 L426.6 378.98 L427 379.04 L427.4 379.12 L427.8 379.17 L428.2 379.16 L428.6 379.09 L429 378.98 L429.4 378.86 L429.8 378.75 L430.2 378.66 L430.6 378.59 L431 378.53 L431.4 378.47 L431.8 378.43 L432.2 378.4 L432.6 378.38 L433 378.37 L433.4 378.35 L433.8 378.32 L434.2 378.29 L434.6 378.27 L435 378.25 L435.4 378.26 L435.8 378.27 L436.2 378.27 L436.6 378.26 L437 378.23 L437.4 378.19 L437.8 378.16 L438.2 378.14 L438.6 378.14 L439 378.16 L439.4 378.19 L439.8 378.18 L440.2 378.15 L440.6 378.08 L441 377.98 L441.4 377.88 L441.8 377.8 L442.2 377.73 L442.6 377.67 L443 377.61 L443.4 377.57 L443.8 377.52 L444.2 377.47 L444.6 377.43 L445 377.4 L445.4 377.36 L445.8 377.32 L446.2 377.27 L446.6 377.23 L447 377.21 L447.4 377.19 L447.8 377.18 L448.2 377.17 L448.6 377.15 L449 377.09 L449.4 377 L449.8 376.86 L450.2 376.67 L450.6 376.45 L451 376.22 L451.4 375.98 L451.8 375.76 L452.2 375.55 L452.6 375.36 L453 375.18 L453.4 375.01 L453.8 374.85 L454.2 374.67 L454.6 374.47 L455 374.25 L455.4 374.01 L455.8 373.75 L456.2 373.48 L456.6 373.21 L457 372.95 L457.4 372.69 L457.8 372.46 L458.2 372.23 L458.6 372.02 L459 371.81 L459.4 371.6 L459.8 371.4 L460.2 371.21 L460.6 371.03 L461 370.82 L461.4 370.58 L461.8 370.28 L462.2 369.94 L462.6 369.59 L463 369.25 L463.4 368.96 L463.8 368.68 L464.2 368.4 L464.6 368.08 L465 367.61 L465.4 366.94 L465.8 366.12 L466.2 365.2 L466.6 364.25 L467 363.3 L467.4 362.43 L467.8 361.68 L468.2 361.03 L468.6 360.35 L469 359.69 L469.4 359.08 L469.8 358.58 L470.2 358.24 L470.6 358.14 L471 358.27 L471.4 358.6 L471.8 359.08 L472.2 359.67 L472.6 360.33 L473 361.05 L473.4 361.78 L473.8 362.49 L474.2 363.16 L474.6 363.76 L475 364.43 L475.4 365.18 L475.8 365.95 L476.2 366.72 L476.6 367.44 L477 368.09 L477.4 368.63 L477.8 369.06 L478.2 369.35 L478.6 369.5 L479 369.5 L479.4 369.46 L479.8 369.41 L480.2 369.34 L480.6 369.23 L481 369.1 L481.4 368.92 L481.8 368.73 L482.2 368.52 L482.6 368.31 L483 368.11 L483.4 367.9 L483.8 367.68 L484.2 367.44 L484.6 367.18 L485 366.88 L485.4 366.54 L485.8 366.2 L486.2 365.87 L486.6 365.56 L487 365.25 L487.4 364.95 L487.8 364.64 L488.2 364.31 L488.6 363.98 L489 363.66 L489.4 363.36 L489.8 363.08 L490.2 362.81 L490.6 362.54 L491 362.27 L491.4 362 L491.8 361.76 L492.2 361.56 L492.6 361.41 L493 361.29 L493.4 361.17 L493.8 361.03 L494.2 360.87 L494.6 360.7 L495 360.53 L495.4 360.39 L495.8 360.27 L496.2 360.18 L496.6 360.1 L497 360.04 L497.4 359.97 L497.8 359.92 L498.2 359.89 L498.6 359.88 L499 359.89 L499.4 359.92 L499.8 359.95 L500.2 359.99 L500.6 360.04 L501 360.11 L501.4 360.21 L501.8 360.35 L502.2 360.52 L502.6 360.7 L503 360.86 L503.4 360.99 L503.8 361.07 L504.2 361.13 L504.6 361.19 L505 361.28 L505.4 361.4 L505.8 361.56 L506.2 361.77 L506.6 362.02 L507 362.32 L507.4 362.64 L507.8 362.96 L508.2 363.28 L508.6 363.58 L509 363.87 L509.4 364.16 L509.8 364.47 L510.2 364.8 L510.6 365.14 L511 365.5 L511.4 365.86 L511.8 366.21 L512.2 366.58 L512.6 366.97 L513 367.39 L513.4 367.81 L513.8 368.21 L514.2 368.56 L514.6 368.85 L515 369.08 L515.4 369.29 L515.8 369.52 L516.2 369.76 L516.6 370.02 L517 370.3 L517.4 370.59 L517.8 370.91 L518.2 371.24 L518.6 371.59 L519 371.92 L519.4 372.23 L519.8 372.49 L520.2 372.72 L520.6 372.92 L521 373.1 L521.4 373.26 L521.8 373.41 L522.2 373.53 L522.6 373.64 L523 373.72 L523.4 373.78 L523.8 373.83 L524.2 373.9 L524.6 374 L525 374.12 L525.4 374.26 L525.8 374.39 L526.2 374.53 L526.6 374.67 L527 374.8 L527.4 374.91 L527.8 375 L528.2 375.06 L528.6 375.11 L529 375.13 L529.4 375.14 L529.8 375.12 L530.2 375.08 L530.6 375.01 L531 374.91 L531.4 374.79 L531.8 374.66 L532.2 374.51 L532.6 374.37 L533 374.24 L533.4 374.11 L533.8 373.97 L534.2 373.82 L534.6 373.65 L535 373.47 L535.4 373.28 L535.8 373.08 L536.2 372.84 L536.6 372.47 L537 371.95 L537.4 371.35 L537.8 370.68 L538.2 370.01 L538.6 369.36 L539 368.75 L539.4 368.19 L539.8 367.69 L540.2 367.27 L540.6 366.89 L541 366.54 L541.4 366.23 L541.8 365.94 L542.2 365.66 L542.6 365.38 L543 365.1 L543.4 364.84 L543.8 364.61 L544.2 364.39 L544.6 364.17 L545 363.92 L545.4 363.68 L545.8 363.46 L546.2 363.29 L546.6 363.18 L547 363.08 L547.4 362.96 L547.8 362.79 L548.2 362.55 L548.6 362.28 L549 362.02 L549.4 361.79 L549.8 361.6 L550.2 361.44 L550.6 361.28 L551 361.09 L551.4 360.87 L551.8 360.61 L552.2 360.34 L552.6 360.07 L553 359.82 L553.4 359.6 L553.8 359.43 L554.2 359.31 L554.6 359.23 L555 359.18 L555.4 359.16 L555.8 359.16 L556.2 359.25 L556.6 359.44 L557 359.71 L557.4 360.05 L557.8 360.44 L558.2 360.86 L558.6 361.25 L559 361.57 L559.4 361.85 L559.8 362.13 L560.2 362.43 L560.6 362.74 L561 363.06 L561.4 363.37 L561.8 363.65 L562.2 363.88 L562.6 364.07 L563 364.18 L563.4 364.21 L563.8 364.16 L564.2 364.04 L564.6 363.86 L565 363.65 L565.4 363.4 L565.8 363.13 L566.2 362.86 L566.6 362.62 L567 362.43 L567.4 362.32 L567.8 362.25 L568.2 362.21 L568.6 362.16 L569 362.08 L569.4 361.96 L569.8 361.82 L570.2 361.7 L570.6 361.61 L571 361.55 L571.4 361.5 L571.8 361.44 L572.2 361.34 L572.6 361.06 L573 360.62 L573.4 360.05 L573.8 359.39 L574.2 358.65 L574.6 357.86 L575 357.04 L575.4 356.2 L575.8 355.37 L576.2 354.57 L576.6 353.76 L577 352.92 L577.4 352.08 L577.8 351.25 L578.2 350.44 L578.6 349.66 L579 348.9 L579.4 348.13 L579.8 347.32 L580.2 346.39 L580.6 345.37 L581 344.29 L581.4 343.23 L581.8 342.25 L582.2 341.41 L582.6 340.76 L583 340.23 L583.4 339.75 L583.8 339.3 L584.2 338.86 L584.6 338.44 L585 338.03 L585.4 337.63 L585.8 337.25 L586.2 336.89 L586.6 336.55 L587 336.26 L587.4 335.99 L587.8 335.75 L588.2 335.51 L588.6 335.28 L589 335.08 L589.4 334.93 L589.8 334.83 L590.2 334.76 L590.6 334.68 L591 334.57 L591.4 334.42 L591.8 334.24 L592.2 334.05 L592.6 333.87 L593 333.69 L593.4 333.52 L593.8 333.37 L594.2 333.24 L594.6 333.16 L595 333.15 L595.4 333.2 L595.8 333.29 L596.2 333.4 L596.6 333.52 L597 333.64 L597.4 333.78 L597.8 333.99 L598.2 334.38 L598.6 334.91 L599 335.55 L599.4 336.23 L599.8 336.95 L600.2 337.89 L600.6 339.09 L601 340.47 L601.4 341.98 L601.8 343.53 L602.2 345.05 L602.6 346.73 L603 348.49 L603.4 350.25 L603.8 351.93 L604.2 353.49 L604.6 354.85 L605 356 L605.4 357.1 L605.8 358.12 L606.2 359.08 L606.6 359.96 L607 360.74 L607.4 361.41 L607.8 361.98 L608.2 362.47 L608.6 362.92 L609 363.37 L609.4 363.83 L609.8 364.3 L610.2 364.74 L610.6 365.14 L611 365.5 L611.4 365.85 L611.8 366.22 L612.2 366.62 L612.6 367.02 L613 367.4 L613.4 367.75 L613.8 368.09 L614.2 368.43 L614.6 368.8 L615 369.21 L615.4 369.67 L615.8 370.14 L616.2 370.62 L616.6 371.08 L617 371.51 L617.4 371.92 L617.8 372.3 L618.2 372.68 L618.6 373.05 L619 373.43 L619.4 373.8 L619.8 374.14 L620.2 374.42 L620.6 374.63 L621 374.76 L621.4 374.86 L621.8 374.97 L622.2 375.1 L622.6 375.24 L623 375.37 L623.4 375.48 L623.8 375.59 L624.2 375.67 L624.6 375.73 L625 375.79 L625.4 375.83 L625.8 375.89 L626.2 375.95 L626.6 376.03 L627 376.11 L627.4 376.2 L627.8 376.28 L628.2 376.36 L628.6 376.43 L629 376.49 L629.4 376.53 L629.8 376.57 L630.2 376.6 L630.6 376.62 L631 376.63 L631.4 376.63 L631.8 376.62 L632.2 376.6 L632.6 376.58 L633 376.58 L633.4 376.61 L633.8 376.68 L634.2 376.77 L634.6 376.86 L635 376.94 L635.4 377 L635.8 377.04 L636.2 377.06 L636.6 377.07 L637 377.06 L637.4 377.04 L637.8 377.02 L638.2 377 L638.6 376.99 L639 376.96 L639.4 376.94 L639.8 376.93 L640.2 376.98 L640.6 377.08 L641 377.21 L641.4 377.32 L641.8 377.39 L642.2 377.41 L642.6 377.39 L643 377.36 L643.4 377.34 L643.8 377.34 L644.2 377.37 L644.6 377.44 L645 377.52 L645.4 377.61 L645.8 377.7 L646.2 377.8 L646.6 377.89 L647 377.98 L647.4 378.05 L647.8 378.1 L648.2 378.13 L648.6 378.14 L649 378.14 L649.4 378.15 L649.8 378.17 L650.2 378.23 L650.6 378.32 L651 378.42 L651.4 378.5 L651.8 378.56 L652.2 378.59 L652.6 378.59 L653 378.59 L653.4 378.6 L653.8 378.63 L654.2 378.68 L654.6 378.75 L655 378.83 L655.4 378.88 L655.8 378.89 L656.2 378.86 L656.6 378.8 L657 378.74 L657.4 378.71 L657.8 378.72 L658.2 378.78 L658.6 378.88 L659 378.99 L659.4 379.09 L659.8 379.15 L660.2 379.19 L660.6 379.21 L661 379.21 L661.4 379.21 L661.8 379.19 L662.2 379.16 L662.6 379.14 L663 379.12 L663.4 379.12 L663.8 379.14 L664.2 379.18 L664.6 379.22 L665 379.26 L665.4 379.29 L665.8 379.29 L666.2 379.27 L666.6 379.21 L667 379.14 L667.4 379.04 L667.8 378.93 L668.2 378.83 L668.6 378.75 L669 378.69 L669.4 378.65 L669.8 378.61 L670.2 378.55 L670.6 378.48 L671 378.4 L671.4 378.32 L671.8 378.27 L672.2 378.23 L672.6 378.21 L673 378.17" fill="none" stroke="#3cb35f" stroke-width="1.5" stroke-linejoin="round" stroke-linecap="round" />
<path d="M391.4 395.83 L391.8 395.83 L392.2 395.84 L392.6 395.87 L393 395.93 L393.4 396.01 L393.8 396.08 L394.2 396.12 L394.6 396.12 L395 396.09 L395.4 396.03 L395.8 395.96 L396.2 395.88 L396.6 395.81 L397 395.75 L397.4 395.7 L397.8 395.66 L398.2 395.66 L398.6 395.69 L399 395.74 L399.4 395.79 L399.8 395.83 L400.2 395.84 L400.6 395.83 L401 395.81 L401.4 395.79 L401.8 395.77 L402.2 395.73 L402.6 395.67 L403 395.57 L403.4 395.47 L403.8 395.39 L404.2 395.35 L404.6 395.33 L405 395.32 L405.4 395.32 L405.8 395.32 L406.2 395.34 L406.6 395.37 L407 395.43 L407.4 395.48 L407.8 395.52 L408.2 395.52 L408.6 395.48 L409 395.43 L409.4 395.38 L409.8 395.35 L410.2 395.36 L410.6 395.38 L411 395.39 L411.4 395.39 L411.8 395.35 L412.2 395.3 L412.6 395.26 L413 395.25 L413.4 395.28 L413.8 395.33 L414.2 395.37 L414.6 395.38 L415 395.35 L415.4 395.29 L415.8 395.21 L416.2 395.14 L416.6 395.09 L417 395.07 L417.4 395.07 L417.8 395.08 L418.2 395.09 L418.6 395.08 L419 395.07 L419.4 395.06 L419.8 395.07 L420.2 395.09 L420.6 395.12 L421 395.14 L421.4 395.16 L421.8 395.16 L422.2 395.15 L422.6 395.13 L423 395.07 L423.4 394.99 L423.8 394.89 L424.2 394.81 L424.6 394.74 L425 394.69 L425.4 394.66 L425.8 394.65 L426.2 394.65 L426.6 394.65 L427 394.66 L427.4 394.67 L427.8 394.69 L428.2 394.7 L428.6 394.7 L429 394.68 L429.4 394.64 L429.8 394.58 L430.2 394.5 L430.6 394.42 L431 394.35 L431.4 394.3 L431.8 394.27 L432.2 394.25 L432.6 394.24 L433 394.24 L433.4 394.26 L433.8 394.28 L434.2 394.3 L434.6 394.31 L435 394.32 L435.4 394.32 L435.8 394.29 L436.2 394.24 L436.6 394.17 L437 394.1 L437.4 394.03 L437.8 393.97 L438.2 393.93 L438.6 393.9 L439 393.9 L439.4 393.92 L439.8 393.96 L440.2 394.01 L440.6 394.06 L441 394.08 L441.4 394.07 L441.8 394.01 L442.2 393.94 L442.6 393.86 L443 393.8 L443.4 393.75 L443.8 393.71 L444.2 393.68 L444.6 393.63 L445 393.59 L445.4 393.54 L445.8 393.5 L446.2 393.5 L446.6 393.53 L447 393.59 L447.4 393.64 L447.8 393.67 L448.2 393.64 L448.6 393.57 L449 393.48 L449.4 393.4 L449.8 393.34 L450.2 393.31 L450.6 393.29 L451 393.27 L451.4 393.26 L451.8 393.26 L452.2 393.27 L452.6 393.27 L453 393.25 L453.4 393.18 L453.8 393.09 L454.2 392.98 L454.6 392.86 L455 392.76 L455.4 392.67 L455.8 392.58 L456.2 392.5 L456.6 392.43 L457 392.37 L457.4 392.33 L457.8 392.32 L458.2 392.31 L458.6 392.31 L459 392.31 L459.4 392.29 L459.8 392.23 L460.2 392.14 L460.6 392.03 L461 391.91 L461.4 391.81 L461.8 391.72 L462.2 391.64 L462.6 391.54 L463 391.45 L463.4 391.36 L463.8 391.3 L464.2 391.28 L464.6 391.28 L465 391.29 L465.4 391.29 L465.8 391.28 L466.2 391.24 L466.6 391.19 L467 391.14 L467.4 391.09 L467.8 391.07 L468.2 391.09 L468.6 391.16 L469 391.26 L469.4 391.36 L469.8 391.45 L470.2 391.53 L470.6 391.6 L471 391.67 L471.4 391.74 L471.8 391.8 L472.2 391.87 L472.6 391.95 L473 392.05 L473.4 392.18 L473.8 392.33 L474.2 392.47 L474.6 392.59 L475 392.66 L475.4 392.69 L475.8 392.7 L476.2 392.71 L476.6 392.75 L477 392.81 L477.4 392.9 L477.8 393.01 L478.2 393.12 L478.6 393.22 L479 393.3 L479.4 393.34 L479.8 393.33 L480.2 393.27 L480.6 393.2 L481 393.14 L481.4 393.13 L481.8 393.15 L482.2 393.22 L482.6 393.29 L483 393.36 L483.4 393.38 L483.8 393.37 L484.2 393.34 L484.6 393.32 L485 393.32 L485.4 393.35 L485.8 393.39 L486.2 393.39 L486.6 393.36 L487 393.28 L487.4 393.18 L487.8 393.1 L488.2 393.06 L488.6 393.06 L489 393.1 L489.4 393.14 L489.8 393.16 L490.2 393.16 L490.6 393.13 L491 393.1 L491.4 393.07 L491.8 393.04 L492.2 393.01 L492.6 392.99 L493 392.99 L493.4 393.01 L493.8 393.05 L494.2 393.13 L494.6 393.22 L495 393.29 L495.4 393.34 L495.8 393.36 L496.2 393.38 L496.6 393.4 L497 393.43 L497.4 393.45 L497.8 393.44 L498.2 393.4 L498.6 393.36 L499 393.34 L499.4 393.33 L499.8 393.34 L500.2 393.35 L500.6 393.35 L501 393.36 L501.4 393.37 L501.8 393.37 L502.2 393.38 L502.6 393.39 L503 393.41 L503.4 393.43 L503.8 393.46 L504.2 393.49 L504.6 393.53 L505 393.56 L505.4 393.58 L505.8 393.59 L506.2 393.59 L506.6 393.57 L507 393.55 L507.4 393.53 L507.8 393.51 L508.2 393.51 L508.6 393.54 L509 393.59 L509.4 393.67 L509.8 393.75 L510.2 393.81 L510.6 393.84 L511 393.84 L511.4 393.82 L511.8 393.8 L512.2 393.79 L512.6 393.8 L513 393.83 L513.4 393.85 L513.8 393.88 L514.2 393.89 L514.6 393.91 L515 393.91 L515.4 393.9 L515.8 393.89 L516.2 393.88 L516.6 393.89 L517 393.91 L517.4 393.94 L517.8 393.98 L518.2 394.03 L518.6 394.08 L519 394.14 L519.4 394.2 L519.8 394.27 L520.2 394.32 L520.6 394.35 L521 394.36 L521.4 394.36 L521.8 394.36 L522.2 394.37 L522.6 394.37 L523 394.37 L523.4 394.36 L523.8 394.32 L524.2 394.27 L524.6 394.22 L525 394.19 L525.4 394.18 L525.8 394.18 L526.2 394.19 L526.6 394.2 L527 394.22 L527.4 394.25 L527.8 394.27 L528.2 394.27 L528.6 394.25 L529 394.2 L529.4 394.16 L529.8 394.12 L530.2 394.1 L530.6 394.09 L531 394.08 L531.4 394.08 L531.8 394.09 L532.2 394.12 L532.6 394.18 L533 394.25 L533.4 394.33 L533.8 394.39 L534.2 394.44 L534.6 394.48 L535 394.52 L535.4 394.55 L535.8 394.55 L536.2 394.53 L536.6 394.49 L537 394.45 L537.4 394.42 L537.8 394.43 L538.2 394.46 L538.6 394.51 L539 394.56 L539.4 394.6 L539.8 394.62 L540.2 394.61 L540.6 394.58 L541 394.54 L541.4 394.48 L541.8 394.42 L542.2 394.36 L542.6 394.28 L543 394.2 L543.4 394.12 L543.8 394.08 L544.2 394.07 L544.6 394.09 L545 394.13 L545.4 394.15 L545.8 394.12 L546.2 394.07 L546.6 393.99 L547 393.93 L547.4 393.9 L547.8 393.9 L548.2 393.9 L548.6 393.9 L549 393.88 L549.4 393.85 L549.8 393.8 L550.2 393.73 L550.6 393.64 L551 393.51 L551.4 393.35 L551.8 393.2 L552.2 393.07 L552.6 392.96 L553 392.87 L553.4 392.8 L553.8 392.73 L554.2 392.67 L554.6 392.62 L555 392.59 L555.4 392.57 L555.8 392.57 L556.2 392.59 L556.6 392.63 L557 392.68 L557.4 392.75 L557.8 392.83 L558.2 392.92 L558.6 393 L559 393.07 L559.4 393.13 L559.8 393.2 L560.2 393.28 L560.6 393.37 L561 393.48 L561.4 393.56 L561.8 393.62 L562.2 393.63 L562.6 393.62 L563 393.62 L563.4 393.65 L563.8 393.72 L564.2 393.82 L564.6 393.92 L565 393.98 L565.4 394 L565.8 393.97 L566.2 393.9 L566.6 393.83 L567 393.76 L567.4 393.71 L567.8 393.67 L568.2 393.66 L568.6 393.67 L569 393.71 L569.4 393.73 L569.8 393.73 L570.2 393.7 L570.6 393.65 L571 393.61 L571.4 393.58 L571.8 393.57 L572.2 393.57 L572.6 393.55 L573 393.49 L573.4 393.41 L573.8 393.28 L574.2 393.11 L574.6 392.89 L575 392.63 L575.4 392.36 L575.8 392.11 L576.2 391.89 L576.6 391.71 L577 391.58 L577.4 391.48 L577.8 391.43 L578.2 391.42 L578.6 391.41 L579 391.4 L579.4 391.39 L579.8 391.38 L580.2 391.38 L580.6 391.38 L581 391.38 L581.4 391.36 L581.8 391.31 L582.2 391.24 L582.6 391.14 L583 391.03 L583.4 390.93 L583.8 390.86 L584.2 390.83 L584.6 390.84 L585 390.86 L585.4 390.88 L585.8 390.88 L586.2 390.88 L586.6 390.89 L587 390.93 L587.4 390.97 L587.8 391.03 L588.2 391.09 L588.6 391.14 L589 391.18 L589.4 391.21 L589.8 391.24 L590.2 391.26 L590.6 391.26 L591 391.22 L591.4 391.17 L591.8 391.11 L592.2 391.07 L592.6 391.05 L593 391.04 L593.4 391 L593.8 390.93 L594.2 390.84 L594.6 390.75 L595 390.68 L595.4 390.61 L595.8 390.53 L596.2 390.43 L596.6 390.33 L597 390.24 L597.4 390.17 L597.8 390.12 L598.2 390.1 L598.6 390.1 L599 390.18 L599.4 390.32 L599.8 390.5 L600.2 390.7 L600.6 390.9 L601 391.08 L601.4 391.25 L601.8 391.39 L602.2 391.5 L602.6 391.61 L603 391.75 L603.4 391.89 L603.8 392.04 L604.2 392.18 L604.6 392.31 L605 392.43 L605.4 392.56 L605.8 392.69 L606.2 392.82 L606.6 392.93 L607 393.04 L607.4 393.13 L607.8 393.2 L608.2 393.24 L608.6 393.25 L609 393.24 L609.4 393.22 L609.8 393.2 L610.2 393.2 L610.6 393.23 L611 393.29 L611.4 393.39 L611.8 393.51 L612.2 393.65 L612.6 393.78 L613 393.87 L613.4 393.92 L613.8 393.91 L614.2 393.87 L614.6 393.82 L615 393.78 L615.4 393.77 L615.8 393.79 L616.2 393.84 L616.6 393.9 L617 393.94 L617.4 393.96 L617.8 393.99 L618.2 394.04 L618.6 394.11 L619 394.2 L619.4 394.27 L619.8 394.33 L620.2 394.38 L620.6 394.41 L621 394.45 L621.4 394.49 L621.8 394.53 L622.2 394.59 L622.6 394.65 L623 394.71 L623.4 394.76 L623.8 394.78 L624.2 394.78 L624.6 394.77 L625 394.76 L625.4 394.75 L625.8 394.74 L626.2 394.71 L626.6 394.67 L627 394.64 L627.4 394.63 L627.8 394.66 L628.2 394.74 L628.6 394.82 L629 394.89 L629.4 394.92 L629.8 394.89 L630.2 394.82 L630.6 394.74 L631 394.67 L631.4 394.64 L631.8 394.64 L632.2 394.66 L632.6 394.69 L633 394.72 L633.4 394.74 L633.8 394.74 L634.2 394.74 L634.6 394.74 L635 394.74 L635.4 394.75 L635.8 394.77 L636.2 394.79 L636.6 394.82 L637 394.85 L637.4 394.89 L637.8 394.93 L638.2 394.98 L638.6 395.04 L639 395.11 L639.4 395.18 L639.8 395.24 L640.2 395.24 L640.6 395.19 L641 395.1 L641.4 394.99 L641.8 394.92 L642.2 394.89 L642.6 394.9 L643 394.96 L643.4 395.03 L643.8 395.11 L644.2 395.18 L644.6 395.23 L645 395.24 L645.4 395.21 L645.8 395.15 L646.2 395.06 L646.6 394.97 L647 394.92 L647.4 394.91 L647.8 394.95 L648.2 395.02 L648.6 395.12 L649 395.21 L649.4 395.3 L649.8 395.37 L650.2 395.4 L650.6 395.4 L651 395.37 L651.4 395.32 L651.8 395.26 L652.2 395.2 L652.6 395.14 L653 395.08 L653.4 395.03 L653.8 395 L654.2 394.99 L654.6 395.01 L655 395.05 L655.4 395.09 L655.8 395.12 L656.2 395.12 L656.6 395.1 L657 395.05 L657.4 394.99 L657.8 394.93 L658.2 394.88 L658.6 394.86 L659 394.89 L659.4 394.99 L659.8 395.14 L660.2 395.31 L660.6 395.45 L661 395.54 L661.4 395.57 L661.8 395.56 L662.2 395.54 L662.6 395.52 L663 395.51 L663.4 395.5 L663.8 395.49 L664.2 395.46 L664.6 395.43 L665 395.41 L665.4 395.4 L665.8 395.4 L666.2 395.4 L666.6 395.4 L667 395.37 L667.4 395.31 L667.8 395.22 L668.2 395.12 L668.6 395.01 L669 394.94 L669.4 394.91 L669.8 394.93 L670.2 394.98 L670.6 395.04 L671 395.08 L671.4 395.11 L671.8 395.15 L672.2 395.2 L672.6 395.25 L673 395.29" fill="none" stroke="#000" stroke-width="1.5" stroke-linejoin="round" stroke-linecap="round" />
<path d="M391.4 492.81 L391.8 492.81 L392.2 492.84 L392.6 492.88 L393 492.96 L393.4 493.07 L393.8 493.19 L394.2 493.32 L394.6 493.43 L395 493.52 L395.4 493.61 L395.8 493.7 L396.2 493.78 L396.6 493.82 L397 493.8 L397.4 493.72 L397.8 493.59 L398.2 493.46 L398.6 493.35 L399 493.25 L399.4 493.17 L399.8 493.08 L400.2 493 L400.6 492.92 L401 492.83 L401.4 492.75 L401.8 492.67 L402.2 492.63 L402.6 492.63 L403 492.66 L403.4 492.72 L403.8 492.79 L404.2 492.89 L404.6 493 L405 493.12 L405.4 493.21 L405.8 493.25 L406.2 493.24 L406.6 493.2 L407 493.16 L407.4 493.15 L407.8 493.16 L408.2 493.18 L408.6 493.17 L409 493.12 L409.4 493.03 L409.8 492.96 L410.2 492.93 L410.6 492.96 L411 493.06 L411.4 493.2 L411.8 493.32 L412.2 493.4 L412.6 493.4 L413 493.32 L413.4 493.19 L413.8 493.04 L414.2 492.95 L414.6 492.94 L415 493.04 L415.4 493.23 L415.8 493.44 L416.2 493.62 L416.6 493.7 L417 493.69 L417.4 493.61 L417.8 493.47 L418.2 493.32 L418.6 493.16 L419 493.02 L419.4 492.92 L419.8 492.87 L420.2 492.87 L420.6 492.89 L421 492.92 L421.4 492.94 L421.8 492.94 L422.2 492.95 L422.6 492.97 L423 493.01 L423.4 493.07 L423.8 493.11 L424.2 493.13 L424.6 493.1 L425 493.02 L425.4 492.89 L425.8 492.73 L426.2 492.58 L426.6 492.51 L427 492.53 L427.4 492.65 L427.8 492.83 L428.2 493 L428.6 493.12 L429 493.14 L429.4 493.07 L429.8 492.95 L430.2 492.84 L430.6 492.77 L431 492.76 L431.4 492.77 L431.8 492.79 L432.2 492.8 L432.6 492.8 L433 492.8 L433.4 492.79 L433.8 492.75 L434.2 492.68 L434.6 492.57 L435 492.45 L435.4 492.36 L435.8 492.32 L436.2 492.32 L436.6 492.33 L437 492.32 L437.4 492.31 L437.8 492.32 L438.2 492.36 L438.6 492.43 L439 492.49 L439.4 492.5 L439.8 492.45 L440.2 492.37 L440.6 492.27 L441 492.2 L441.4 492.18 L441.8 492.2 L442.2 492.23 L442.6 492.27 L443 492.3 L443.4 492.34 L443.8 492.37 L444.2 492.41 L444.6 492.44 L445 492.45 L445.4 492.41 L445.8 492.3 L446.2 492.13 L446.6 491.93 L447 491.76 L447.4 491.67 L447.8 491.64 L448.2 491.67 L448.6 491.69 L449 491.67 L449.4 491.58 L449.8 491.45 L450.2 491.33 L450.6 491.24 L451 491.2 L451.4 491.18 L451.8 491.15 L452.2 491.09 L452.6 491.01 L453 490.91 L453.4 490.8 L453.8 490.69 L454.2 490.58 L454.6 490.46 L455 490.36 L455.4 490.29 L455.8 490.26 L456.2 490.24 L456.6 490.19 L457 490.04 L457.4 489.79 L457.8 489.46 L458.2 489.12 L458.6 488.78 L459 488.44 L459.4 488.04 L459.8 487.53 L460.2 486.9 L460.6 486.15 L461 485.3 L461.4 484.35 L461.8 483.28 L462.2 482.03 L462.6 480.53 L463 478.75 L463.4 476.65 L463.8 474.23 L464.2 471.51 L464.6 468.49 L465 465.14 L465.4 461.46 L465.8 457.45 L466.2 453.17 L466.6 448.7 L467 444.12 L467.4 439.54 L467.8 435.06 L468.2 430.8 L468.6 426.92 L469 423.62 L469.4 421.09 L469.8 419.48 L470.2 418.88 L470.6 419.31 L471 420.72 L471.4 423.02 L471.8 426.08 L472.2 429.72 L472.6 433.79 L473 438.15 L473.4 442.64 L473.8 447.15 L474.2 451.56 L474.6 455.79 L475 459.77 L475.4 463.49 L475.8 466.91 L476.2 470.05 L476.6 472.9 L477 475.44 L477.4 477.66 L477.8 479.58 L478.2 481.25 L478.6 482.71 L479 484 L479.4 485.12 L479.8 486.1 L480.2 486.95 L480.6 487.68 L481 488.29 L481.4 488.75 L481.8 489.04 L482.2 489.17 L482.6 489.2 L483 489.2 L483.4 489.23 L483.8 489.32 L484.2 489.47 L484.6 489.65 L485 489.86 L485.4 490.06 L485.8 490.25 L486.2 490.43 L486.6 490.61 L487 490.82 L487.4 491.05 L487.8 491.29 L488.2 491.48 L488.6 491.58 L489 491.6 L489.4 491.57 L489.8 491.53 L490.2 491.53 L490.6 491.54 L491 491.55 L491.4 491.56 L491.8 491.58 L492.2 491.61 L492.6 491.67 L493 491.74 L493.4 491.79 L493.8 491.84 L494.2 491.88 L494.6 491.91 L495 491.91 L495.4 491.87 L495.8 491.79 L496.2 491.68 L496.6 491.57 L497 491.47 L497.4 491.42 L497.8 491.39 L498.2 491.39 L498.6 491.38 L499 491.37 L499.4 491.37 L499.8 491.39 L500.2 491.43 L500.6 491.48 L501 491.51 L501.4 491.54 L501.8 491.59 L502.2 491.68 L502.6 491.82 L503 491.98 L503.4 492.12 L503.8 492.22 L504.2 492.27 L504.6 492.27 L505 492.23 L505.4 492.15 L505.8 492.01 L506.2 491.87 L506.6 491.77 L507 491.75 L507.4 491.8 L507.8 491.89 L508.2 491.93 L508.6 491.86 L509 491.69 L509.4 491.46 L509.8 491.23 L510.2 491.06 L510.6 490.99 L511 490.99 L511.4 491.02 L511.8 491.03 L512.2 491.02 L512.6 490.97 L513 490.91 L513.4 490.84 L513.8 490.78 L514.2 490.72 L514.6 490.67 L515 490.62 L515.4 490.57 L515.8 490.53 L516.2 490.49 L516.6 490.45 L517 490.37 L517.4 490.23 L517.8 489.97 L518.2 489.58 L518.6 489.09 L519 488.56 L519.4 488.08 L519.8 487.68 L520.2 487.34 L520.6 486.99 L521 486.55 L521.4 485.95 L521.8 485.2 L522.2 484.33 L522.6 483.41 L523 482.52 L523.4 481.72 L523.8 481.09 L524.2 480.7 L524.6 480.62 L525 480.89 L525.4 481.47 L525.8 482.26 L526.2 483.14 L526.6 484 L527 484.81 L527.4 485.57 L527.8 486.29 L528.2 486.98 L528.6 487.59 L529 488.09 L529.4 488.46 L529.8 488.7 L530.2 488.85 L530.6 488.92 L531 488.94 L531.4 488.95 L531.8 488.98 L532.2 489.05 L532.6 489.18 L533 489.36 L533.4 489.55 L533.8 489.71 L534.2 489.82 L534.6 489.91 L535 489.98 L535.4 490.06 L535.8 490.12 L536.2 490.16 L536.6 490.17 L537 490.17 L537.4 490.18 L537.8 490.24 L538.2 490.32 L538.6 490.41 L539 490.49 L539.4 490.54 L539.8 490.56 L540.2 490.55 L540.6 490.54 L541 490.52 L541.4 490.52 L541.8 490.51 L542.2 490.48 L542.6 490.42 L543 490.36 L543.4 490.33 L543.8 490.34 L544.2 490.4 L544.6 490.5 L545 490.62 L545.4 490.73 L545.8 490.82 L546.2 490.9 L546.6 490.96 L547 490.99 L547.4 490.97 L547.8 490.89 L548.2 490.78 L548.6 490.65 L549 490.49 L549.4 490.27 L549.8 489.97 L550.2 489.59 L550.6 489.15 L551 488.7 L551.4 488.24 L551.8 487.77 L552.2 487.27 L552.6 486.72 L553 486.12 L553.4 485.48 L553.8 484.82 L554.2 484.13 L554.6 483.41 L555 482.63 L555.4 481.77 L555.8 480.84 L556.2 479.96 L556.6 479.29 L557 478.99 L557.4 479.17 L557.8 479.81 L558.2 480.79 L558.6 481.95 L559 483.12 L559.4 484.18 L559.8 485.08 L560.2 485.78 L560.6 486.32 L561 486.73 L561.4 487.06 L561.8 487.36 L562.2 487.68 L562.6 488.04 L563 488.47 L563.4 488.94 L563.8 489.4 L564.2 489.79 L564.6 490.05 L565 490.17 L565.4 490.19 L565.8 490.15 L566.2 490.07 L566.6 489.95 L567 489.77 L567.4 489.53 L567.8 489.27 L568.2 489.06 L568.6 488.94 L569 488.95 L569.4 489.05 L569.8 489.21 L570.2 489.37 L570.6 489.5 L571 489.61 L571.4 489.68 L571.8 489.73 L572.2 489.81 L572.6 489.92 L573 490.11 L573.4 490.34 L573.8 490.6 L574.2 490.83 L574.6 491 L575 491.1 L575.4 491.13 L575.8 491.13 L576.2 491.13 L576.6 491.16 L577 491.23 L577.4 491.33 L577.8 491.44 L578.2 491.55 L578.6 491.67 L579 491.78 L579.4 491.87 L579.8 491.9 L580.2 491.88 L580.6 491.84 L581 491.8 L581.4 491.79 L581.8 491.79 L582.2 491.79 L582.6 491.77 L583 491.72 L583.4 491.67 L583.8 491.63 L584.2 491.63 L584.6 491.68 L585 491.77 L585.4 491.89 L585.8 492 L586.2 492.08 L586.6 492.11 L587 492.06 L587.4 491.95 L587.8 491.8 L588.2 491.65 L588.6 491.57 L589 491.6 L589.4 491.73 L589.8 491.93 L590.2 492.11 L590.6 492.21 L591 492.22 L591.4 492.17 L591.8 492.09 L592.2 492.04 L592.6 492.02 L593 491.97 L593.4 491.87 L593.8 491.68 L594.2 491.43 L594.6 491.16 L595 490.96 L595.4 490.87 L595.8 490.91 L596.2 491.07 L596.6 491.29 L597 491.55 L597.4 491.79 L597.8 492.01 L598.2 492.18 L598.6 492.31 L599 492.4 L599.4 492.45 L599.8 492.49 L600.2 492.52 L600.6 492.54 L601 492.55 L601.4 492.54 L601.8 492.52 L602.2 492.52 L602.6 492.55 L603 492.63 L603.4 492.76 L603.8 492.89 L604.2 492.99 L604.6 493.03 L605 492.99 L605.4 492.93 L605.8 492.88 L606.2 492.87 L606.6 492.9 L607 492.97 L607.4 493.02 L607.8 493.04 L608.2 493.01 L608.6 492.94 L609 492.85 L609.4 492.77 L609.8 492.73 L610.2 492.71 L610.6 492.69 L611 492.67 L611.4 492.65 L611.8 492.62 L612.2 492.61 L612.6 492.6 L613 492.61 L613.4 492.62 L613.8 492.65 L614.2 492.71 L614.6 492.79 L615 492.86 L615.4 492.88 L615.8 492.85 L616.2 492.79 L616.6 492.75 L617 492.75 L617.4 492.78 L617.8 492.8 L618.2 492.79 L618.6 492.73 L619 492.62 L619.4 492.52 L619.8 492.46 L620.2 492.46 L620.6 492.52 L621 492.58 L621.4 492.63 L621.8 492.68 L622.2 492.74 L622.6 492.83 L623 492.94 L623.4 493.03 L623.8 493.07 L624.2 493.02 L624.6 492.9 L625 492.75 L625.4 492.64 L625.8 492.57 L626.2 492.55 L626.6 492.57 L627 492.59 L627.4 492.62 L627.8 492.65 L628.2 492.66 L628.6 492.66 L629 492.61 L629.4 492.54 L629.8 492.47 L630.2 492.44 L630.6 492.48 L631 492.59 L631.4 492.76 L631.8 492.95 L632.2 493.12 L632.6 493.25 L633 493.33 L633.4 493.36 L633.8 493.35 L634.2 493.28 L634.6 493.14 L635 492.95 L635.4 492.77 L635.8 492.64 L636.2 492.61 L636.6 492.68 L637 492.79 L637.4 492.88 L637.8 492.92 L638.2 492.89 L638.6 492.84 L639 492.8 L639.4 492.79 L639.8 492.81 L640.2 492.83 L640.6 492.85 L641 492.88 L641.4 492.93 L641.8 492.96 L642.2 492.98 L642.6 492.97 L643 492.94 L643.4 492.91 L643.8 492.9 L644.2 492.92 L644.6 492.95 L645 492.98 L645.4 493.02 L645.8 493.09 L646.2 493.19 L646.6 493.29 L647 493.35 L647.4 493.32 L647.8 493.21 L648.2 493.06 L648.6 492.94 L649 492.88 L649.4 492.89 L649.8 492.97 L650.2 493.07 L650.6 493.18 L651 493.27 L651.4 493.34 L651.8 493.37 L652.2 493.36 L652.6 493.34 L653 493.33 L653.4 493.35 L653.8 493.38 L654.2 493.41 L654.6 493.46 L655 493.52 L655.4 493.6 L655.8 493.67 L656.2 493.7 L656.6 493.66 L657 493.54 L657.4 493.39 L657.8 493.28 L658.2 493.25 L658.6 493.32 L659 493.44 L659.4 493.56 L659.8 493.65 L660.2 493.69 L660.6 493.73 L661 493.79 L661.4 493.87 L661.8 493.95 L662.2 494 L662.6 494.01 L663 493.98 L663.4 493.95 L663.8 493.95 L664.2 493.99 L664.6 494.03 L665 494.05 L665.4 494 L665.8 493.89 L666.2 493.74 L666.6 493.57 L667 493.41 L667.4 493.27 L667.8 493.18 L668.2 493.16 L668.6 493.2 L669 493.26 L669.4 493.3 L669.8 493.3 L670.2 493.24 L670.6 493.15 L671 493.07 L671.4 493.02 L671.8 493.03 L672.2 493.09 L672.6 493.17 L673 493.22" fill="none" stroke="#ff1a1a" stroke-width="1.5" stroke-linejoin="round" stroke-linecap="round" />
<path d="M391.4 516.26 L391.8 516.22 L392.2 516.21 L392.6 516.19 L393 516.15 L393.4 516.08 L393.8 516 L394.2 515.94 L394.6 515.92 L395 515.96 L395.4 516.02 L395.8 516.1 L396.2 516.15 L396.6 516.18 L397 516.19 L397.4 516.19 L397.8 516.21 L398.2 516.25 L398.6 516.32 L399 516.38 L399.4 516.39 L399.8 516.34 L400.2 516.22 L400.6 516.08 L401 515.95 L401.4 515.87 L401.8 515.83 L402.2 515.79 L402.6 515.74 L403 515.67 L403.4 515.6 L403.8 515.56 L404.2 515.57 L404.6 515.62 L405 515.7 L405.4 515.78 L405.8 515.84 L406.2 515.89 L406.6 515.92 L407 515.92 L407.4 515.88 L407.8 515.81 L408.2 515.73 L408.6 515.64 L409 515.54 L409.4 515.42 L409.8 515.27 L410.2 515.12 L410.6 514.98 L411 514.88 L411.4 514.86 L411.8 514.92 L412.2 515.06 L412.6 515.28 L413 515.52 L413.4 515.75 L413.8 515.92 L414.2 516 L414.6 515.96 L415 515.82 L415.4 515.62 L415.8 515.44 L416.2 515.34 L416.6 515.35 L417 515.45 L417.4 515.59 L417.8 515.72 L418.2 515.81 L418.6 515.83 L419 515.82 L419.4 515.78 L419.8 515.73 L420.2 515.68 L420.6 515.62 L421 515.56 L421.4 515.51 L421.8 515.49 L422.2 515.49 L422.6 515.51 L423 515.54 L423.4 515.59 L423.8 515.66 L424.2 515.78 L424.6 515.93 L425 516.09 L425.4 516.26 L425.8 516.38 L426.2 516.47 L426.6 516.53 L427 516.57 L427.4 516.6 L427.8 516.62 L428.2 516.61 L428.6 516.58 L429 516.53 L429.4 516.47 L429.8 516.42 L430.2 516.39 L430.6 516.36 L431 516.33 L431.4 516.29 L431.8 516.24 L432.2 516.2 L432.6 516.18 L433 516.17 L433.4 516.16 L433.8 516.16 L434.2 516.13 L434.6 516.1 L435 516.08 L435.4 516.06 L435.8 516.05 L436.2 516.02 L436.6 515.95 L437 515.84 L437.4 515.72 L437.8 515.59 L438.2 515.48 L438.6 515.41 L439 515.36 L439.4 515.33 L439.8 515.3 L440.2 515.28 L440.6 515.26 L441 515.27 L441.4 515.3 L441.8 515.33 L442.2 515.33 L442.6 515.28 L443 515.18 L443.4 515.04 L443.8 514.9 L444.2 514.8 L444.6 514.75 L445 514.77 L445.4 514.84 L445.8 514.94 L446.2 515.04 L446.6 515.13 L447 515.19 L447.4 515.21 L447.8 515.16 L448.2 515.05 L448.6 514.89 L449 514.69 L449.4 514.48 L449.8 514.29 L450.2 514.11 L450.6 513.95 L451 513.78 L451.4 513.6 L451.8 513.41 L452.2 513.22 L452.6 513.02 L453 512.8 L453.4 512.57 L453.8 512.32 L454.2 512.08 L454.6 511.85 L455 511.62 L455.4 511.4 L455.8 511.2 L456.2 511.02 L456.6 510.85 L457 510.67 L457.4 510.47 L457.8 510.24 L458.2 509.96 L458.6 509.61 L459 509.19 L459.4 508.71 L459.8 508.18 L460.2 507.61 L460.6 506.97 L461 506.23 L461.4 505.37 L461.8 504.4 L462.2 503.32 L462.6 502.13 L463 500.81 L463.4 499.32 L463.8 497.63 L464.2 495.74 L464.6 493.65 L465 491.38 L465.4 488.93 L465.8 486.27 L466.2 483.34 L466.6 480.09 L467 476.53 L467.4 472.68 L467.8 468.66 L468.2 464.64 L468.6 460.84 L469 457.47 L469.4 454.78 L469.8 452.96 L470.2 452.16 L470.6 452.42 L471 453.72 L471.4 455.9 L471.8 458.8 L472.2 462.19 L472.6 465.88 L473 469.68 L473.4 473.45 L473.8 477.08 L474.2 480.52 L474.6 483.74 L475 486.73 L475.4 489.49 L475.8 491.99 L476.2 494.23 L476.6 496.21 L477 497.93 L477.4 499.42 L477.8 500.7 L478.2 501.8 L478.6 502.76 L479 503.62 L479.4 504.42 L479.8 505.17 L480.2 505.86 L480.6 506.49 L481 507.08 L481.4 507.64 L481.8 508.17 L482.2 508.64 L482.6 509.04 L483 509.33 L483.4 509.54 L483.8 509.69 L484.2 509.84 L484.6 510.02 L485 510.25 L485.4 510.52 L485.8 510.81 L486.2 511.1 L486.6 511.34 L487 511.5 L487.4 511.6 L487.8 511.65 L488.2 511.69 L488.6 511.71 L489 511.72 L489.4 511.73 L489.8 511.74 L490.2 511.78 L490.6 511.85 L491 511.95 L491.4 512.08 L491.8 512.25 L492.2 512.45 L492.6 512.65 L493 512.85 L493.4 513.01 L493.8 513.11 L494.2 513.16 L494.6 513.15 L495 513.12 L495.4 513.09 L495.8 513.07 L496.2 513.06 L496.6 513.05 L497 513.04 L497.4 513.05 L497.8 513.1 L498.2 513.21 L498.6 513.31 L499 513.36 L499.4 513.3 L499.8 513.15 L500.2 512.96 L500.6 512.82 L501 512.75 L501.4 512.78 L501.8 512.85 L502.2 512.91 L502.6 512.93 L503 512.9 L503.4 512.84 L503.8 512.79 L504.2 512.75 L504.6 512.72 L505 512.69 L505.4 512.68 L505.8 512.7 L506.2 512.74 L506.6 512.78 L507 512.8 L507.4 512.76 L507.8 512.67 L508.2 512.55 L508.6 512.46 L509 512.43 L509.4 512.47 L509.8 512.56 L510.2 512.64 L510.6 512.67 L511 512.63 L511.4 512.54 L511.8 512.43 L512.2 512.34 L512.6 512.29 L513 512.29 L513.4 512.3 L513.8 512.3 L514.2 512.25 L514.6 512.14 L515 512 L515.4 511.85 L515.8 511.73 L516.2 511.63 L516.6 511.54 L517 511.43 L517.4 511.28 L517.8 511.07 L518.2 510.82 L518.6 510.53 L519 510.21 L519.4 509.87 L519.8 509.48 L520.2 509.03 L520.6 508.5 L521 507.91 L521.4 507.25 L521.8 506.54 L522.2 505.79 L522.6 505.01 L523 504.25 L523.4 503.56 L523.8 503.03 L524.2 502.7 L524.6 502.63 L525 502.8 L525.4 503.2 L525.8 503.74 L526.2 504.35 L526.6 504.97 L527 505.57 L527.4 506.12 L527.8 506.62 L528.2 507.08 L528.6 507.52 L529 507.97 L529.4 508.45 L529.8 508.93 L530.2 509.39 L530.6 509.79 L531 510.11 L531.4 510.37 L531.8 510.61 L532.2 510.86 L532.6 511.14 L533 511.45 L533.4 511.78 L533.8 512.09 L534.2 512.37 L534.6 512.61 L535 512.8 L535.4 512.98 L535.8 513.15 L536.2 513.31 L536.6 513.47 L537 513.61 L537.4 513.75 L537.8 513.88 L538.2 514.01 L538.6 514.13 L539 514.23 L539.4 514.33 L539.8 514.4 L540.2 514.43 L540.6 514.43 L541 514.4 L541.4 514.35 L541.8 514.28 L542.2 514.21 L542.6 514.15 L543 514.1 L543.4 514.07 L543.8 514.05 L544.2 514.03 L544.6 513.98 L545 513.89 L545.4 513.78 L545.8 513.65 L546.2 513.52 L546.6 513.38 L547 513.23 L547.4 513.05 L547.8 512.85 L548.2 512.64 L548.6 512.43 L549 512.25 L549.4 512.13 L549.8 512.02 L550.2 511.89 L550.6 511.68 L551 511.35 L551.4 510.91 L551.8 510.36 L552.2 509.73 L552.6 509.01 L553 508.19 L553.4 507.22 L553.8 506.09 L554.2 504.79 L554.6 503.34 L555 501.81 L555.4 500.29 L555.8 498.87 L556.2 497.69 L556.6 496.89 L557 496.6 L557.4 496.89 L557.8 497.72 L558.2 498.93 L558.6 500.32 L559 501.71 L559.4 502.99 L559.8 504.13 L560.2 505.16 L560.6 506.11 L561 506.98 L561.4 507.77 L561.8 508.47 L562.2 509.09 L562.6 509.63 L563 510.09 L563.4 510.47 L563.8 510.76 L564.2 510.97 L564.6 511.09 L565 511.11 L565.4 511.05 L565.8 510.91 L566.2 510.76 L566.6 510.63 L567 510.55 L567.4 510.54 L567.8 510.59 L568.2 510.68 L568.6 510.8 L569 510.94 L569.4 511.08 L569.8 511.26 L570.2 511.46 L570.6 511.68 L571 511.89 L571.4 512.05 L571.8 512.16 L572.2 512.23 L572.6 512.32 L573 512.45 L573.4 512.62 L573.8 512.81 L574.2 512.95 L574.6 513.01 L575 512.99 L575.4 512.9 L575.8 512.78 L576.2 512.65 L576.6 512.55 L577 512.5 L577.4 512.5 L577.8 512.52 L578.2 512.54 L578.6 512.52 L579 512.48 L579.4 512.42 L579.8 512.36 L580.2 512.33 L580.6 512.34 L581 512.41 L581.4 512.53 L581.8 512.68 L582.2 512.82 L582.6 512.94 L583 513.01 L583.4 513.04 L583.8 513.05 L584.2 513.07 L584.6 513.11 L585 513.15 L585.4 513.17 L585.8 513.13 L586.2 513.01 L586.6 512.8 L587 512.54 L587.4 512.26 L587.8 511.99 L588.2 511.76 L588.6 511.57 L589 511.43 L589.4 511.34 L589.8 511.31 L590.2 511.33 L590.6 511.36 L591 511.4 L591.4 511.42 L591.8 511.4 L592.2 511.31 L592.6 511.17 L593 511 L593.4 510.83 L593.8 510.67 L594.2 510.55 L594.6 510.48 L595 510.47 L595.4 510.53 L595.8 510.63 L596.2 510.76 L596.6 510.9 L597 511.05 L597.4 511.22 L597.8 511.41 L598.2 511.64 L598.6 511.89 L599 512.14 L599.4 512.36 L599.8 512.51 L600.2 512.6 L600.6 512.66 L601 512.73 L601.4 512.82 L601.8 512.92 L602.2 513 L602.6 513.07 L603 513.13 L603.4 513.21 L603.8 513.33 L604.2 513.5 L604.6 513.71 L605 513.94 L605.4 514.15 L605.8 514.3 L606.2 514.42 L606.6 514.51 L607 514.58 L607.4 514.65 L607.8 514.72 L608.2 514.78 L608.6 514.86 L609 514.94 L609.4 515.01 L609.8 515.08 L610.2 515.15 L610.6 515.2 L611 515.26 L611.4 515.32 L611.8 515.39 L612.2 515.48 L612.6 515.59 L613 515.74 L613.4 515.89 L613.8 516.04 L614.2 516.18 L614.6 516.28 L615 516.34 L615.4 516.37 L615.8 516.38 L616.2 516.38 L616.6 516.38 L617 516.41 L617.4 516.48 L617.8 516.59 L618.2 516.74 L618.6 516.88 L619 516.99 L619.4 517.04 L619.8 517.05 L620.2 517.04 L620.6 517.04 L621 517.04 L621.4 517.03 L621.8 516.97 L622.2 516.87 L622.6 516.72 L623 516.58 L623.4 516.48 L623.8 516.43 L624.2 516.43 L624.6 516.44 L625 516.44 L625.4 516.41 L625.8 516.35 L626.2 516.28 L626.6 516.19 L627 516.08 L627.4 515.97 L627.8 515.88 L628.2 515.87 L628.6 515.93 L629 516.04 L629.4 516.13 L629.8 516.15 L630.2 516.11 L630.6 516.01 L631 515.93 L631.4 515.88 L631.8 515.86 L632.2 515.85 L632.6 515.79 L633 515.68 L633.4 515.53 L633.8 515.37 L634.2 515.26 L634.6 515.21 L635 515.21 L635.4 515.22 L635.8 515.23 L636.2 515.23 L636.6 515.21 L637 515.18 L637.4 515.11 L637.8 514.99 L638.2 514.83 L638.6 514.66 L639 514.53 L639.4 514.48 L639.8 514.52 L640.2 514.64 L640.6 514.79 L641 514.91 L641.4 515 L641.8 515.04 L642.2 515.05 L642.6 515.08 L643 515.15 L643.4 515.27 L643.8 515.43 L644.2 515.61 L644.6 515.79 L645 515.97 L645.4 516.14 L645.8 516.3 L646.2 516.42 L646.6 516.5 L647 516.55 L647.4 516.57 L647.8 516.56 L648.2 516.51 L648.6 516.42 L649 516.34 L649.4 516.27 L649.8 516.25 L650.2 516.23 L650.6 516.19 L651 516.12 L651.4 516.01 L651.8 515.87 L652.2 515.73 L652.6 515.6 L653 515.49 L653.4 515.4 L653.8 515.33 L654.2 515.27 L654.6 515.22 L655 515.19 L655.4 515.18 L655.8 515.16 L656.2 515.13 L656.6 515.05 L657 514.96 L657.4 514.88 L657.8 514.86 L658.2 514.9 L658.6 515.03 L659 515.22 L659.4 515.47 L659.8 515.74 L660.2 516 L660.6 516.21 L661 516.38 L661.4 516.5 L661.8 516.58 L662.2 516.64 L662.6 516.68 L663 516.7 L663.4 516.7 L663.8 516.69 L664.2 516.66 L664.6 516.61 L665 516.54 L665.4 516.47 L665.8 516.44 L666.2 516.45 L666.6 516.52 L667 516.62 L667.4 516.72 L667.8 516.79 L668.2 516.79 L668.6 516.72 L669 516.63 L669.4 516.53 L669.8 516.47 L670.2 516.45 L670.6 516.46 L671 516.49 L671.4 516.52 L671.8 516.52 L672.2 516.5 L672.6 516.47 L673 516.44" fill="none" stroke="#3cb35f" stroke-width="1.5" stroke-linejoin="round" stroke-linecap="round" />
<path d="M391.4 538.48 L391.8 538.45 L392.2 538.43 L392.6 538.46 L393 538.56 L393.4 538.69 L393.8 538.82 L394.2 538.92 L394.6 538.93 L395 538.83 L395.4 538.61 L395.8 538.32 L396.2 538.02 L396.6 537.81 L397 537.73 L397.4 537.77 L397.8 537.88 L398.2 538.01 L398.6 538.12 L399 538.2 L399.4 538.25 L399.8 538.26 L400.2 538.26 L400.6 538.28 L401 538.34 L401.4 538.42 L401.8 538.51 L402.2 538.56 L402.6 538.53 L403 538.4 L403.4 538.2 L403.8 537.98 L404.2 537.79 L404.6 537.68 L405 537.65 L405.4 537.66 L405.8 537.68 L406.2 537.69 L406.6 537.69 L407 537.73 L407.4 537.8 L407.8 537.89 L408.2 537.98 L408.6 538.05 L409 538.08 L409.4 538.09 L409.8 538.08 L410.2 538.07 L410.6 538.04 L411 537.98 L411.4 537.9 L411.8 537.84 L412.2 537.81 L412.6 537.87 L413 538.01 L413.4 538.21 L413.8 538.4 L414.2 538.54 L414.6 538.59 L415 538.55 L415.4 538.46 L415.8 538.35 L416.2 538.26 L416.6 538.23 L417 538.25 L417.4 538.33 L417.8 538.42 L418.2 538.44 L418.6 538.37 L419 538.21 L419.4 538.03 L419.8 537.89 L420.2 537.83 L420.6 537.84 L421 537.86 L421.4 537.86 L421.8 537.82 L422.2 537.73 L422.6 537.61 L423 537.46 L423.4 537.29 L423.8 537.14 L424.2 537.05 L424.6 537.05 L425 537.13 L425.4 537.27 L425.8 537.43 L426.2 537.6 L426.6 537.77 L427 537.93 L427.4 538.07 L427.8 538.18 L428.2 538.24 L428.6 538.22 L429 538.16 L429.4 538.09 L429.8 538.02 L430.2 537.96 L430.6 537.89 L431 537.79 L431.4 537.69 L431.8 537.64 L432.2 537.68 L432.6 537.81 L433 537.94 L433.4 537.98 L433.8 537.9 L434.2 537.72 L434.6 537.5 L435 537.34 L435.4 537.27 L435.8 537.28 L436.2 537.35 L436.6 537.44 L437 537.53 L437.4 537.61 L437.8 537.64 L438.2 537.62 L438.6 537.54 L439 537.43 L439.4 537.36 L439.8 537.38 L440.2 537.47 L440.6 537.62 L441 537.77 L441.4 537.89 L441.8 537.98 L442.2 538.01 L442.6 537.98 L443 537.87 L443.4 537.7 L443.8 537.5 L444.2 537.36 L444.6 537.31 L445 537.36 L445.4 537.48 L445.8 537.6 L446.2 537.66 L446.6 537.66 L447 537.62 L447.4 537.6 L447.8 537.64 L448.2 537.71 L448.6 537.78 L449 537.82 L449.4 537.8 L449.8 537.73 L450.2 537.62 L450.6 537.52 L451 537.44 L451.4 537.44 L451.8 537.51 L452.2 537.63 L452.6 537.77 L453 537.9 L453.4 537.99 L453.8 538.03 L454.2 537.99 L454.6 537.87 L455 537.68 L455.4 537.45 L455.8 537.21 L456.2 536.98 L456.6 536.81 L457 536.69 L457.4 536.63 L457.8 536.59 L458.2 536.54 L458.6 536.46 L459 536.35 L459.4 536.21 L459.8 536.06 L460.2 535.89 L460.6 535.68 L461 535.44 L461.4 535.17 L461.8 534.91 L462.2 534.71 L462.6 534.57 L463 534.43 L463.4 534.25 L463.8 533.95 L464.2 533.5 L464.6 532.9 L465 532.16 L465.4 531.32 L465.8 530.39 L466.2 529.36 L466.6 528.24 L467 527.01 L467.4 525.7 L467.8 524.39 L468.2 523.14 L468.6 522.05 L469 521.21 L469.4 520.72 L469.8 520.63 L470.2 520.97 L470.6 521.7 L471 522.74 L471.4 524 L471.8 525.4 L472.2 526.82 L472.6 528.17 L473 529.38 L473.4 530.43 L473.8 531.34 L474.2 532.14 L474.6 532.83 L475 533.43 L475.4 533.91 L475.8 534.28 L476.2 534.59 L476.6 534.88 L477 535.16 L477.4 535.46 L477.8 535.75 L478.2 536.01 L478.6 536.21 L479 536.36 L479.4 536.46 L479.8 536.56 L480.2 536.66 L480.6 536.78 L481 536.9 L481.4 537.01 L481.8 537.09 L482.2 537.14 L482.6 537.18 L483 537.21 L483.4 537.21 L483.8 537.17 L484.2 537.09 L484.6 536.98 L485 536.84 L485.4 536.69 L485.8 536.53 L486.2 536.39 L486.6 536.28 L487 536.23 L487.4 536.28 L487.8 536.41 L488.2 536.6 L488.6 536.81 L489 537 L489.4 537.12 L489.8 537.14 L490.2 537.05 L490.6 536.89 L491 536.7 L491.4 536.55 L491.8 536.5 L492.2 536.59 L492.6 536.81 L493 537.09 L493.4 537.37 L493.8 537.59 L494.2 537.72 L494.6 537.76 L495 537.75 L495.4 537.7 L495.8 537.6 L496.2 537.48 L496.6 537.36 L497 537.27 L497.4 537.23 L497.8 537.24 L498.2 537.26 L498.6 537.27 L499 537.24 L499.4 537.19 L499.8 537.13 L500.2 537.05 L500.6 536.98 L501 536.91 L501.4 536.88 L501.8 536.88 L502.2 536.94 L502.6 537.04 L503 537.19 L503.4 537.36 L503.8 537.53 L504.2 537.67 L504.6 537.74 L505 537.75 L505.4 537.68 L505.8 537.54 L506.2 537.32 L506.6 537.04 L507 536.76 L507.4 536.6 L507.8 536.6 L508.2 536.76 L508.6 537.01 L509 537.26 L509.4 537.48 L509.8 537.68 L510.2 537.88 L510.6 538.08 L511 538.25 L511.4 538.34 L511.8 538.33 L512.2 538.22 L512.6 538.08 L513 537.96 L513.4 537.88 L513.8 537.86 L514.2 537.86 L514.6 537.87 L515 537.85 L515.4 537.81 L515.8 537.74 L516.2 537.67 L516.6 537.62 L517 537.59 L517.4 537.57 L517.8 537.52 L518.2 537.42 L518.6 537.25 L519 537.04 L519.4 536.85 L519.8 536.74 L520.2 536.76 L520.6 536.87 L521 537.02 L521.4 537.15 L521.8 537.18 L522.2 537.08 L522.6 536.85 L523 536.56 L523.4 536.29 L523.8 536.12 L524.2 536.1 L524.6 536.16 L525 536.24 L525.4 536.28 L525.8 536.27 L526.2 536.26 L526.6 536.29 L527 536.37 L527.4 536.52 L527.8 536.74 L528.2 536.99 L528.6 537.25 L529 537.44 L529.4 537.54 L529.8 537.53 L530.2 537.46 L530.6 537.35 L531 537.23 L531.4 537.15 L531.8 537.12 L532.2 537.13 L532.6 537.18 L533 537.24 L533.4 537.29 L533.8 537.31 L534.2 537.31 L534.6 537.31 L535 537.36 L535.4 537.46 L535.8 537.62 L536.2 537.76 L536.6 537.85 L537 537.85 L537.4 537.78 L537.8 537.65 L538.2 537.5 L538.6 537.4 L539 537.37 L539.4 537.42 L539.8 537.53 L540.2 537.65 L540.6 537.71 L541 537.69 L541.4 537.58 L541.8 537.44 L542.2 537.33 L542.6 537.29 L543 537.37 L543.4 537.54 L543.8 537.74 L544.2 537.91 L544.6 537.98 L545 537.95 L545.4 537.86 L545.8 537.79 L546.2 537.77 L546.6 537.82 L547 537.91 L547.4 537.96 L547.8 537.96 L548.2 537.92 L548.6 537.88 L549 537.88 L549.4 537.91 L549.8 537.96 L550.2 537.97 L550.6 537.94 L551 537.87 L551.4 537.78 L551.8 537.69 L552.2 537.63 L552.6 537.59 L553 537.57 L553.4 537.55 L553.8 537.51 L554.2 537.45 L554.6 537.36 L555 537.26 L555.4 537.15 L555.8 537.05 L556.2 536.93 L556.6 536.8 L557 536.68 L557.4 536.59 L557.8 536.53 L558.2 536.48 L558.6 536.42 L559 536.33 L559.4 536.26 L559.8 536.23 L560.2 536.26 L560.6 536.37 L561 536.55 L561.4 536.8 L561.8 537.09 L562.2 537.38 L562.6 537.62 L563 537.76 L563.4 537.78 L563.8 537.7 L564.2 537.58 L564.6 537.5 L565 537.49 L565.4 537.56 L565.8 537.65 L566.2 537.72 L566.6 537.74 L567 537.73 L567.4 537.7 L567.8 537.7 L568.2 537.76 L568.6 537.87 L569 538.03 L569.4 538.19 L569.8 538.33 L570.2 538.43 L570.6 538.46 L571 538.44 L571.4 538.39 L571.8 538.3 L572.2 538.2 L572.6 538.09 L573 537.99 L573.4 537.91 L573.8 537.84 L574.2 537.8 L574.6 537.79 L575 537.82 L575.4 537.89 L575.8 538 L576.2 538.13 L576.6 538.23 L577 538.28 L577.4 538.24 L577.8 538.13 L578.2 537.98 L578.6 537.83 L579 537.74 L579.4 537.72 L579.8 537.75 L580.2 537.76 L580.6 537.71 L581 537.59 L581.4 537.42 L581.8 537.26 L582.2 537.17 L582.6 537.14 L583 537.16 L583.4 537.22 L583.8 537.31 L584.2 537.43 L584.6 537.58 L585 537.74 L585.4 537.86 L585.8 537.88 L586.2 537.77 L586.6 537.54 L587 537.25 L587.4 536.98 L587.8 536.78 L588.2 536.67 L588.6 536.61 L589 536.55 L589.4 536.46 L589.8 536.32 L590.2 536.15 L590.6 535.95 L591 535.73 L591.4 535.49 L591.8 535.26 L592.2 535.04 L592.6 534.88 L593 534.77 L593.4 534.71 L593.8 534.68 L594.2 534.64 L594.6 534.58 L595 534.46 L595.4 534.3 L595.8 534.08 L596.2 533.8 L596.6 533.5 L597 533.22 L597.4 533.03 L597.8 532.99 L598.2 533.11 L598.6 533.33 L599 533.56 L599.4 533.7 L599.8 533.71 L600.2 533.57 L600.6 533.35 L601 533.09 L601.4 532.84 L601.8 532.62 L602.2 532.44 L602.6 532.31 L603 532.26 L603.4 532.29 L603.8 532.41 L604.2 532.6 L604.6 532.82 L605 533.04 L605.4 533.21 L605.8 533.31 L606.2 533.37 L606.6 533.41 L607 533.47 L607.4 533.54 L607.8 533.64 L608.2 533.76 L608.6 533.9 L609 534.02 L609.4 534.08 L609.8 534.05 L610.2 533.92 L610.6 533.74 L611 533.59 L611.4 533.52 L611.8 533.53 L612.2 533.61 L612.6 533.71 L613 533.81 L613.4 533.89 L613.8 533.96 L614.2 534.06 L614.6 534.19 L615 534.34 L615.4 534.5 L615.8 534.65 L616.2 534.8 L616.6 534.97 L617 535.15 L617.4 535.32 L617.8 535.43 L618.2 535.44 L618.6 535.37 L619 535.26 L619.4 535.18 L619.8 535.18 L620.2 535.25 L620.6 535.35 L621 535.45 L621.4 535.54 L621.8 535.62 L622.2 535.71 L622.6 535.84 L623 536.01 L623.4 536.2 L623.8 536.41 L624.2 536.62 L624.6 536.8 L625 536.96 L625.4 537.08 L625.8 537.16 L626.2 537.2 L626.6 537.2 L627 537.17 L627.4 537.11 L627.8 537.01 L628.2 536.89 L628.6 536.73 L629 536.56 L629.4 536.41 L629.8 536.29 L630.2 536.2 L630.6 536.13 L631 536.11 L631.4 536.13 L631.8 536.23 L632.2 536.41 L632.6 536.64 L633 536.87 L633.4 537.07 L633.8 537.21 L634.2 537.3 L634.6 537.34 L635 537.35 L635.4 537.34 L635.8 537.34 L636.2 537.35 L636.6 537.39 L637 537.47 L637.4 537.6 L637.8 537.74 L638.2 537.86 L638.6 537.93 L639 537.94 L639.4 537.92 L639.8 537.92 L640.2 537.93 L640.6 537.94 L641 537.94 L641.4 537.91 L641.8 537.84 L642.2 537.78 L642.6 537.78 L643 537.85 L643.4 538 L643.8 538.16 L644.2 538.25 L644.6 538.22 L645 538.06 L645.4 537.82 L645.8 537.57 L646.2 537.38 L646.6 537.29 L647 537.33 L647.4 537.48 L647.8 537.69 L648.2 537.92 L648.6 538.09 L649 538.18 L649.4 538.17 L649.8 538.11 L650.2 538.04 L650.6 538.02 L651 538.03 L651.4 538.03 L651.8 537.96 L652.2 537.79 L652.6 537.53 L653 537.27 L653.4 537.09 L653.8 537.03 L654.2 537.09 L654.6 537.22 L655 537.41 L655.4 537.63 L655.8 537.88 L656.2 538.12 L656.6 538.32 L657 538.42 L657.4 538.38 L657.8 538.25 L658.2 538.06 L658.6 537.86 L659 537.68 L659.4 537.54 L659.8 537.43 L660.2 537.37 L660.6 537.36 L661 537.41 L661.4 537.53 L661.8 537.68 L662.2 537.83 L662.6 537.93 L663 537.96 L663.4 537.95 L663.8 537.94 L664.2 537.94 L664.6 537.96 L665 537.98 L665.4 537.96 L665.8 537.89 L666.2 537.76 L666.6 537.55 L667 537.3 L667.4 537.04 L667.8 536.84 L668.2 536.74 L668.6 536.75 L669 536.85 L669.4 536.99 L669.8 537.14 L670.2 537.27 L670.6 537.37 L671 537.47 L671.4 537.56 L671.8 537.63 L672.2 537.68 L672.6 537.7 L673 537.71" fill="none" stroke="#000" stroke-width="1.5" stroke-linejoin="round" stroke-linecap="round" />
<line x1="470.6" y1="316" x2="470.6" y2="543.8" stroke="#000" stroke-width="0.8" stroke-dasharray="1.3 1.0"/>
<line x1="555.7" y1="319" x2="555.7" y2="543.8" stroke="#000" stroke-width="0.8" stroke-dasharray="1.3 1.0"/>
<line x1="567.5" y1="326.4" x2="567.5" y2="543.8" stroke="#000" stroke-width="0.6" stroke-dasharray="1.3 1.0"/>
<line x1="568.6" y1="326.4" x2="568.6" y2="543.8" stroke="#000" stroke-width="0.6" stroke-dasharray="1.3 1.0"/>
<line x1="524.5" y1="477" x2="524.5" y2="543.8" stroke="#000" stroke-width="0.8" stroke-dasharray="1.3 1.0"/>
<line x1="498.9" y1="336.5" x2="498.9" y2="402.4" stroke="#ac3cf5" stroke-width="1.0" stroke-dasharray="1.1 1.0"/>
<line x1="498.9" y1="322" x2="498.9" y2="326.5" stroke="#ac3cf5" stroke-width="0.8" stroke-dasharray="1.1 1.0"/>
<line x1="585.1" y1="326.4" x2="585.1" y2="402.4" stroke="#ac3cf5" stroke-width="1.0" stroke-dasharray="1.1 1.0"/>
<line x1="598.4" y1="326.4" x2="598.4" y2="402.4" stroke="#ac3cf5" stroke-width="0.9" stroke-dasharray="1.1 1.0"/>
<rect x="390.8" y="303" width="283" height="99.4" fill="none" stroke="#000" stroke-width="1.55" />
<rect x="390.8" y="410.9" width="283" height="132.9" fill="none" stroke="#000" stroke-width="1.55" />
<line x1="404.2" y1="543.8" x2="404.2" y2="547.6" stroke="#000" stroke-width="1.0" />
<line x1="445.5" y1="543.8" x2="445.5" y2="547.6" stroke="#000" stroke-width="1.0" />
<line x1="486.8" y1="543.8" x2="486.8" y2="547.6" stroke="#000" stroke-width="1.0" />
<line x1="528.1" y1="543.8" x2="528.1" y2="547.6" stroke="#000" stroke-width="1.0" />
<line x1="569.4" y1="543.8" x2="569.4" y2="547.6" stroke="#000" stroke-width="1.0" />
<line x1="610.7" y1="543.8" x2="610.7" y2="547.6" stroke="#000" stroke-width="1.0" />
<line x1="652" y1="543.8" x2="652" y2="547.6" stroke="#000" stroke-width="1.0" />
<line x1="395.94" y1="543.8" x2="395.94" y2="546" stroke="#000" stroke-width="0.9" />
<line x1="412.46" y1="543.8" x2="412.46" y2="546" stroke="#000" stroke-width="0.9" />
<line x1="420.72" y1="543.8" x2="420.72" y2="546" stroke="#000" stroke-width="0.9" />
<line x1="428.98" y1="543.8" x2="428.98" y2="546" stroke="#000" stroke-width="0.9" />
<line x1="437.24" y1="543.8" x2="437.24" y2="546" stroke="#000" stroke-width="0.9" />
<line x1="453.76" y1="543.8" x2="453.76" y2="546" stroke="#000" stroke-width="0.9" />
<line x1="462.02" y1="543.8" x2="462.02" y2="546" stroke="#000" stroke-width="0.9" />
<line x1="470.28" y1="543.8" x2="470.28" y2="546" stroke="#000" stroke-width="0.9" />
<line x1="478.54" y1="543.8" x2="478.54" y2="546" stroke="#000" stroke-width="0.9" />
<line x1="495.06" y1="543.8" x2="495.06" y2="546" stroke="#000" stroke-width="0.9" />
<line x1="503.32" y1="543.8" x2="503.32" y2="546" stroke="#000" stroke-width="0.9" />
<line x1="511.58" y1="543.8" x2="511.58" y2="546" stroke="#000" stroke-width="0.9" />
<line x1="519.84" y1="543.8" x2="519.84" y2="546" stroke="#000" stroke-width="0.9" />
<line x1="536.36" y1="543.8" x2="536.36" y2="546" stroke="#000" stroke-width="0.9" />
<line x1="544.62" y1="543.8" x2="544.62" y2="546" stroke="#000" stroke-width="0.9" />
<line x1="552.88" y1="543.8" x2="552.88" y2="546" stroke="#000" stroke-width="0.9" />
<line x1="561.14" y1="543.8" x2="561.14" y2="546" stroke="#000" stroke-width="0.9" />
<line x1="577.66" y1="543.8" x2="577.66" y2="546" stroke="#000" stroke-width="0.9" />
<line x1="585.92" y1="543.8" x2="585.92" y2="546" stroke="#000" stroke-width="0.9" />
<line x1="594.18" y1="543.8" x2="594.18" y2="546" stroke="#000" stroke-width="0.9" />
<line x1="602.44" y1="543.8" x2="602.44" y2="546" stroke="#000" stroke-width="0.9" />
<line x1="618.96" y1="543.8" x2="618.96" y2="546" stroke="#000" stroke-width="0.9" />
<line x1="627.22" y1="543.8" x2="627.22" y2="546" stroke="#000" stroke-width="0.9" />
<line x1="635.48" y1="543.8" x2="635.48" y2="546" stroke="#000" stroke-width="0.9" />
<line x1="643.74" y1="543.8" x2="643.74" y2="546" stroke="#000" stroke-width="0.9" />
<line x1="660.26" y1="543.8" x2="660.26" y2="546" stroke="#000" stroke-width="0.9" />
<line x1="668.52" y1="543.8" x2="668.52" y2="546" stroke="#000" stroke-width="0.9" />
<text x="393.66" y="558.4" font-family="Liberation Sans" font-weight="bold" font-size="11.8" fill="#000" stroke="#000" stroke-width="0.18" stroke-linejoin="round" text-anchor="start" textLength="21.08" lengthAdjust="spacing" xml:space="preserve"><tspan>250</tspan></text>
<text x="434.96" y="558.4" font-family="Liberation Sans" font-weight="bold" font-size="11.8" fill="#000" stroke="#000" stroke-width="0.18" stroke-linejoin="round" text-anchor="start" textLength="21.08" lengthAdjust="spacing" xml:space="preserve"><tspan>200</tspan></text>
<text x="476.26" y="558.4" font-family="Liberation Sans" font-weight="bold" font-size="11.8" fill="#000" stroke="#000" stroke-width="0.18" stroke-linejoin="round" text-anchor="start" textLength="21.08" lengthAdjust="spacing" xml:space="preserve"><tspan>150</tspan></text>
<text x="517.56" y="558.4" font-family="Liberation Sans" font-weight="bold" font-size="11.8" fill="#000" stroke="#000" stroke-width="0.18" stroke-linejoin="round" text-anchor="start" textLength="21.08" lengthAdjust="spacing" xml:space="preserve"><tspan>100</tspan></text>
<text x="562.49" y="558.4" font-family="Liberation Sans" font-weight="bold" font-size="11.8" fill="#000" stroke="#000" stroke-width="0.18" stroke-linejoin="round" text-anchor="start" textLength="13.82" lengthAdjust="spacing" xml:space="preserve"><tspan>50</tspan></text>
<text x="607.42" y="558.4" font-family="Liberation Sans" font-weight="bold" font-size="11.8" fill="#000" stroke="#000" stroke-width="0.18" stroke-linejoin="round" text-anchor="start" textLength="6.56" lengthAdjust="spacing" xml:space="preserve"><tspan>0</tspan></text>
<text x="642.77" y="558.4" font-family="Liberation Sans" font-weight="bold" font-size="11.8" fill="#000" stroke="#000" stroke-width="0.18" stroke-linejoin="round" text-anchor="start" textLength="18.45" lengthAdjust="spacing" xml:space="preserve"><tspan>-50</tspan></text>
<text x="395.3" y="314.6" font-family="Liberation Sans" font-weight="bold" font-size="10.4" fill="#000" stroke="#000" stroke-width="0.18" stroke-linejoin="round" text-anchor="start" textLength="83.5" lengthAdjust="spacing" xml:space="preserve"><tspan>0.5%MoO</tspan><tspan dy="2.08" font-size="5.2">x</tspan><tspan dy="-2.08">-TiO</tspan><tspan dy="2.08" font-size="5.2">2</tspan></text>
<text x="395.3" y="339" font-family="Liberation Sans" font-weight="bold" font-size="10.4" fill="#000" stroke="#000" stroke-width="0.18" stroke-linejoin="round" text-anchor="start" textLength="35.1" lengthAdjust="spacing" xml:space="preserve"><tspan>30 min</tspan></text>
<text x="395.3" y="377.2" font-family="Liberation Sans" font-weight="bold" font-size="10.4" fill="#000" stroke="#000" stroke-width="0.18" stroke-linejoin="round" text-anchor="start" textLength="11.9" lengthAdjust="spacing" xml:space="preserve"><tspan>15</tspan></text>
<text x="395.3" y="393" font-family="Liberation Sans" font-weight="bold" font-size="10.4" fill="#000" stroke="#000" stroke-width="0.18" stroke-linejoin="round" text-anchor="start" xml:space="preserve"><tspan>0</tspan></text>
<text x="497.4" y="316.6" font-family="Liberation Sans" font-weight="bold" font-size="10.4" fill="#a020f0" stroke="#a020f0" stroke-width="0.18" stroke-linejoin="round" text-anchor="start" textLength="27" lengthAdjust="spacing" xml:space="preserve"><tspan>OCH</tspan><tspan dy="2.08" font-size="5.2">2</tspan></text>
<text x="497.4" y="332" font-family="Liberation Sans" font-weight="bold" font-size="10.4" fill="#a020f0" stroke="#a020f0" stroke-width="0.18" stroke-linejoin="round" text-anchor="start" textLength="15.4" lengthAdjust="spacing" xml:space="preserve"><tspan>Mo</tspan></text>
<text x="573.3" y="320.9" font-family="Liberation Sans" font-weight="bold" font-size="10.8" fill="#a020f0" stroke="#a020f0" stroke-width="0.18" stroke-linejoin="round" text-anchor="start" textLength="76.7" lengthAdjust="spacing" xml:space="preserve"><tspan>Adsorbed CH</tspan><tspan dy="2.16" font-size="5.4">4</tspan></text>
<text x="395.2" y="423.3" font-family="Liberation Sans" font-weight="bold" font-size="10.4" fill="#000" stroke="#000" stroke-width="0.18" stroke-linejoin="round" text-anchor="start" textLength="51" lengthAdjust="spacing" xml:space="preserve"><tspan>Bare TiO</tspan><tspan dy="2.08" font-size="5.2">2</tspan></text>
<text x="473.4" y="423.3" font-family="Liberation Sans" font-weight="bold" font-size="10.4" fill="#000" stroke="#000" stroke-width="0.18" stroke-linejoin="round" text-anchor="start" textLength="39.2" lengthAdjust="spacing" xml:space="preserve"><tspan>HCOO-</tspan></text>
<text x="523.2" y="430.1" font-family="Liberation Sans" font-weight="bold" font-size="10.4" fill="#000" stroke="#000" stroke-width="0.18" stroke-linejoin="round" text-anchor="start" textLength="31.8" lengthAdjust="spacing" xml:space="preserve"><tspan>CH</tspan><tspan dy="2.08" font-size="5.2">3</tspan><tspan dy="-2.08">O-</tspan></text>
<text x="569.8" y="430.1" font-family="Liberation Sans" font-weight="bold" font-size="10.4" fill="#000" stroke="#000" stroke-width="0.18" stroke-linejoin="round" text-anchor="start" textLength="36.4" lengthAdjust="spacing" xml:space="preserve"><tspan>CH</tspan><tspan dy="2.08" font-size="5.2">3</tspan><tspan dy="-2.08">OH</tspan></text>
<text x="498.6" y="471.9" font-family="Liberation Sans" font-weight="bold" font-size="10.4" fill="#000" stroke="#000" stroke-width="0.18" stroke-linejoin="round" text-anchor="start" textLength="54.8" lengthAdjust="spacing" xml:space="preserve"><tspan>HOCH</tspan><tspan dy="2.08" font-size="5.2">2</tspan><tspan dy="-2.08">OH</tspan></text>
<text x="395.3" y="487.6" font-family="Liberation Sans" font-weight="bold" font-size="10.4" fill="#000" stroke="#000" stroke-width="0.18" stroke-linejoin="round" text-anchor="start" textLength="35.1" lengthAdjust="spacing" xml:space="preserve"><tspan>30 min</tspan></text>
<text x="395.3" y="512.4" font-family="Liberation Sans" font-weight="bold" font-size="10.4" fill="#000" stroke="#000" stroke-width="0.18" stroke-linejoin="round" text-anchor="start" textLength="11.9" lengthAdjust="spacing" xml:space="preserve"><tspan>15</tspan></text>
<text x="395.3" y="534.2" font-family="Liberation Sans" font-weight="bold" font-size="10.4" fill="#000" stroke="#000" stroke-width="0.18" stroke-linejoin="round" text-anchor="start" xml:space="preserve"><tspan>0</tspan></text>
<text x="455.4" y="575.3" font-family="Liberation Sans" font-weight="bold" font-size="12.4" fill="#000" stroke="#000" stroke-width="0.18" stroke-linejoin="round" text-anchor="start" textLength="156.4" lengthAdjust="spacing" xml:space="preserve"><tspan dy="-5.7" font-size="6.2">13</tspan><tspan dy="5.7">C Chemical Shift (ppm)</tspan></text>
<text x="357.8" y="327.3" font-family="Liberation Sans" font-weight="bold" font-size="21" fill="#000" stroke="#000" stroke-width="0.18" stroke-linejoin="round" text-anchor="start" xml:space="preserve"><tspan>d</tspan></text></svg>
</body></html>
